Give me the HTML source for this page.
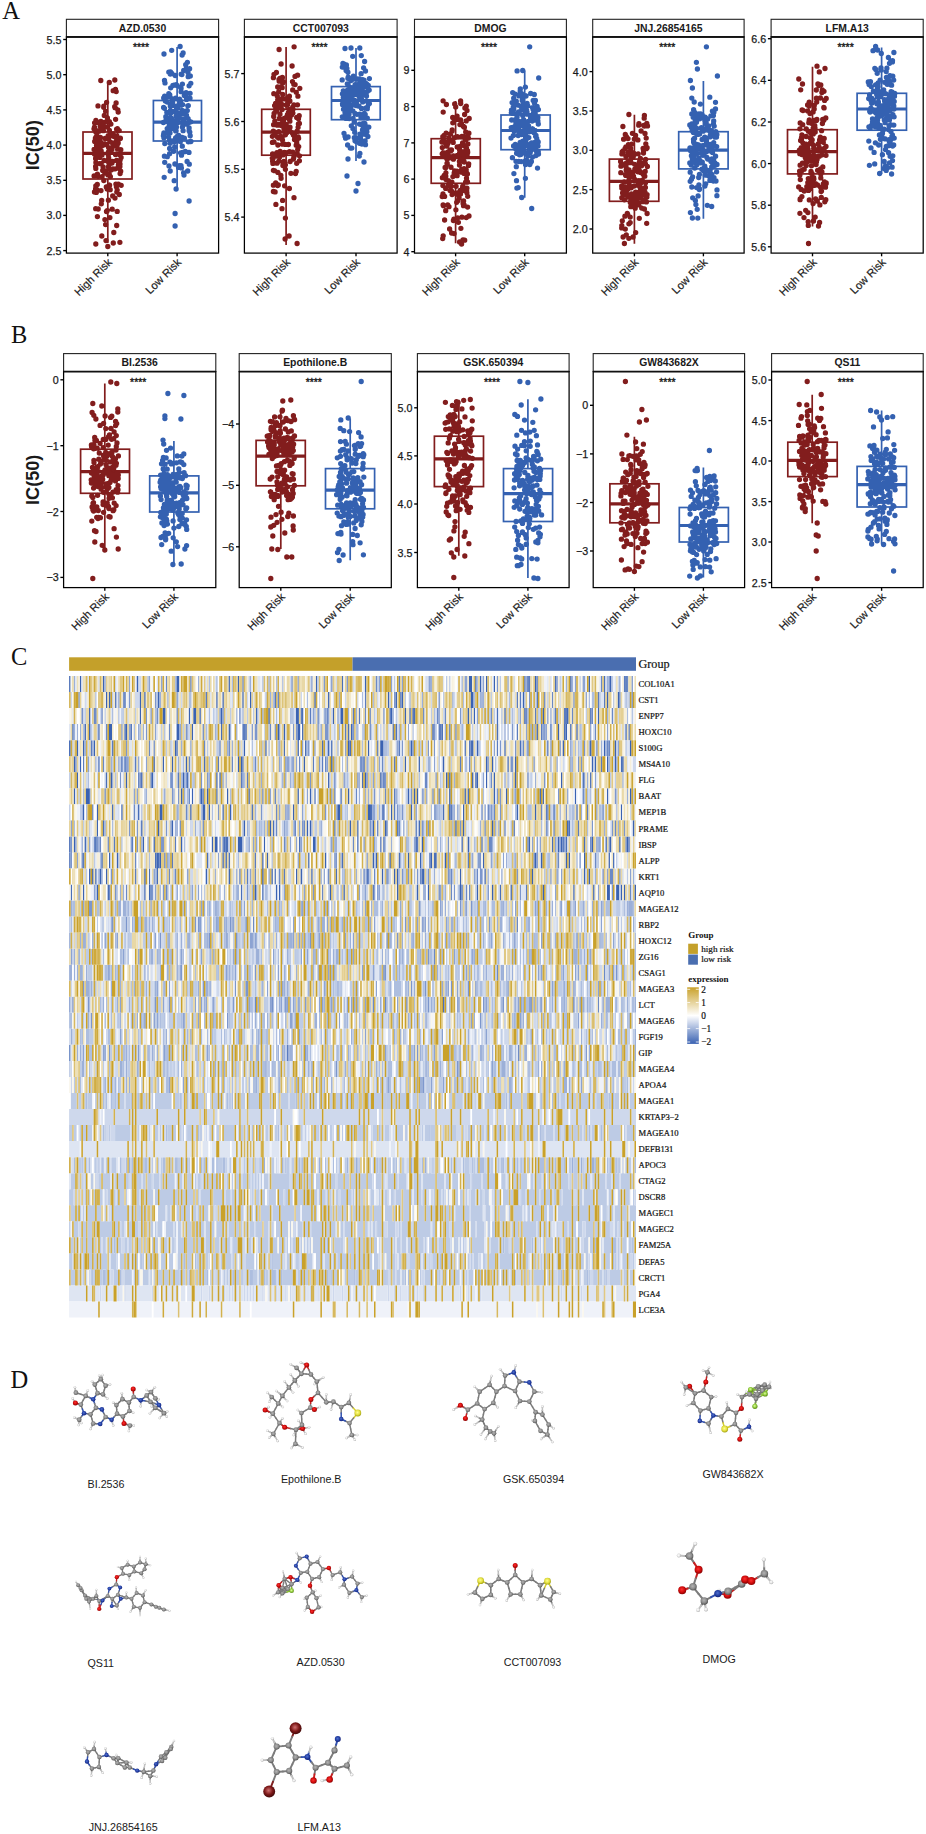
<!DOCTYPE html>
<html><head><meta charset="utf-8"><style>
html,body{margin:0;padding:0;background:#fff;}
svg{display:block;font-family:"Liberation Sans",sans-serif;}
</style></head><body>
<svg width="926" height="1834" viewBox="0 0 926 1834">
<rect x="66.4" y="19.3" width="152.2" height="17.6" fill="#fff" stroke="#222" stroke-width="1.1"/>
<text x="142.5" y="31.9" font-size="10.4" font-weight="bold" text-anchor="middle" fill="#1a1a1a">AZD.0530</text>
<rect x="66.4" y="36.9" width="152.2" height="216.2" fill="none" stroke="#000" stroke-width="1.25"/>
<line x1="66.4" x2="218.6" y1="36.9" y2="36.9" stroke="#111" stroke-width="1.5"/>
<line x1="63.2" x2="66.4" y1="39.5" y2="39.5" stroke="#000" stroke-width="1.35"/>
<text x="61.4" y="43.5" font-size="10.7" text-anchor="end" fill="#1a1a1a" stroke="#1a1a1a" stroke-width="0.25">5.5</text>
<line x1="63.2" x2="66.4" y1="74.7" y2="74.7" stroke="#000" stroke-width="1.35"/>
<text x="61.4" y="78.7" font-size="10.7" text-anchor="end" fill="#1a1a1a" stroke="#1a1a1a" stroke-width="0.25">5.0</text>
<line x1="63.2" x2="66.4" y1="109.9" y2="109.9" stroke="#000" stroke-width="1.35"/>
<text x="61.4" y="113.9" font-size="10.7" text-anchor="end" fill="#1a1a1a" stroke="#1a1a1a" stroke-width="0.25">4.5</text>
<line x1="63.2" x2="66.4" y1="145.1" y2="145.1" stroke="#000" stroke-width="1.35"/>
<text x="61.4" y="149.1" font-size="10.7" text-anchor="end" fill="#1a1a1a" stroke="#1a1a1a" stroke-width="0.25">4.0</text>
<line x1="63.2" x2="66.4" y1="180.3" y2="180.3" stroke="#000" stroke-width="1.35"/>
<text x="61.4" y="184.3" font-size="10.7" text-anchor="end" fill="#1a1a1a" stroke="#1a1a1a" stroke-width="0.25">3.5</text>
<line x1="63.2" x2="66.4" y1="215.4" y2="215.4" stroke="#000" stroke-width="1.35"/>
<text x="61.4" y="219.4" font-size="10.7" text-anchor="end" fill="#1a1a1a" stroke="#1a1a1a" stroke-width="0.25">3.0</text>
<line x1="63.2" x2="66.4" y1="250.6" y2="250.6" stroke="#000" stroke-width="1.35"/>
<text x="61.4" y="254.6" font-size="10.7" text-anchor="end" fill="#1a1a1a" stroke="#1a1a1a" stroke-width="0.25">2.5</text>
<line x1="107.8" x2="107.8" y1="253.1" y2="256.3" stroke="#000" stroke-width="1.35"/>
<text transform="translate(112.6,263.0) rotate(-45)" font-size="11.1" text-anchor="end" fill="#1a1a1a" stroke="#1a1a1a" stroke-width="0.2">High Risk</text>
<line x1="177.1" x2="177.1" y1="253.1" y2="256.3" stroke="#000" stroke-width="1.35"/>
<text transform="translate(181.9,263.0) rotate(-45)" font-size="11.1" text-anchor="end" fill="#1a1a1a" stroke="#1a1a1a" stroke-width="0.2">Low Risk</text>
<text x="141.0" y="51.1" font-size="10.4" text-anchor="middle" fill="#1a1a1a" stroke="#1a1a1a" stroke-width="0.35">****</text>
<g stroke="#821d1d" stroke-width="1.7" fill="none">
<path d="M107.8 82.0V132.0M107.8 179.0V243.0"/>
<rect x="83.0" y="132.0" width="49.0" height="47.0"/>
<path d="M83.0 153.4H132.0" stroke-width="3.2"/>
</g>
<path transform="scale(0.1)" d="M1120 1631h0M960 1372h0M956 1887h0M1080 1615h0M959 1205h0M965 1455h0M974 2166h0M1002 1263h0M1099 2176h0M1049 2196h0M1177 1437h0M1020 1551h0M1025 1436h0M1165 1409h0M1116 1357h0M1043 1154h0M956 1665h0M997 1574h0M1027 1704h0M1102 1897h0M1159 1841h0M1133 1456h0M1085 1519h0M1182 1120h0M1211 1574h0M973 1844h0M982 2090h0M1075 1271h0M1151 1077h0M1098 1419h0M1132 1339h0M1104 1766h0M1172 1901h0M1201 1736h0M957 2087h0M1134 1458h0M1167 2255h0M1125 1615h0M946 1228h0M972 1758h0M956 1488h0M1008 1515h0M1048 1732h0M1064 1444h0M1092 1646h0M1178 1098h0M1017 2004h0M1184 1842h0M1204 1382h0M1004 1419h0M1004 1374h0M1013 2038h0M941 1494h0M1096 1852h0M1203 1385h0M1110 1701h0M1127 1959h0M1155 893h0M1181 1308h0M1050 1440h0M969 1896h0M959 1624h0M998 1636h0M955 1383h0M940 1288h0M1040 1449h0M947 1415h0M981 1226h0M1010 1906h0M974 1741h0M1174 1287h0M1074 1179h0M964 1552h0M1013 1301h0M1169 1360h0M1202 1498h0M1086 1476h0M947 1294h0M1086 1218h0M1132 907h0M1012 1636h0M1153 1688h0M1087 1391h0M1002 1482h0M1164 1868h0M1162 916h0M1166 1604h0M1083 1551h0M1038 1806h0M1017 1460h0M1012 1520h0M1063 1870h0M1199 2423h0M1041 1605h0M994 1492h0M996 1310h0M1172 2114h0M1072 2107h0M963 1924h0M1122 2092h0M1147 1067h0M1072 1890h0M1032 1291h0M1161 1030h0M1051 1221h0M1201 1601h0M975 1571h0M982 1763h0M980 1059h0M1168 1921h0M1037 1073h0M1091 1603h0M1208 1497h0M1119 1495h0M1060 2406h0M1181 1681h0M1010 1433h0M1021 1766h0M1012 1509h0M1056 1113h0M1038 1061h0M1066 1023h0M1056 2246h0M1193 1945h0M1084 2002h0M945 1539h0M941 1759h0M1161 1460h0M1140 1366h0M1094 1217h0M1093 1745h0M1156 1193h0M1009 1214h0M1016 1282h0M1095 1481h0M1150 1981h0M1109 1241h0M1080 1749h0M1065 2115h0M1087 1579h0M1133 2430h0M1182 1430h0M1094 1304h0M1200 1639h0M974 1442h0M1062 1708h0M960 1323h0M1125 1430h0M983 1391h0M1138 2325h0M1184 1647h0M1207 1712h0M1050 1385h0M1170 1457h0M1082 1356h0M1034 1248h0M1139 1441h0M945 1272h0M945 1920h0M1031 1670h0M958 1858h0M1212 1853h0M969 1332h0M1155 1545h0M1015 1444h0M1192 1306h0M1166 1292h0M1194 1546h0M1097 1354h0M956 1584h0M1130 1690h0M1199 1665h0M1115 1478h0M1176 1492h0M958 1684h0M1034 1307h0M1093 1851h0M976 1310h0M1085 1667h0M985 1523h0M954 1382h0M1024 1452h0M1008 805h0M1093 825h0M1148 800h0M958 2440h0M1078 2465h0M1018 2360h0" stroke="#821d1d" stroke-width="53" stroke-linecap="round" fill="none"/>
<g stroke="#3461b1" stroke-width="1.7" fill="none">
<path d="M177.1 47.0V100.5M177.1 141.0V188.0"/>
<rect x="153.4" y="100.5" width="48.1" height="40.5"/>
<path d="M153.4 122.2H201.5" stroke-width="3.2"/>
</g>
<path transform="scale(0.1)" d="M1843 956h0M1682 1304h0M1729 855h0M1637 979h0M1835 1194h0M1764 1393h0M1891 1279h0M1752 755h0M1770 854h0M1773 1059h0M1823 1462h0M1863 929h0M1828 1250h0M1729 1408h0M1648 1436h0M1837 1138h0M1704 1132h0M1865 1152h0M1873 1106h0M1700 1331h0M1714 1421h0M1756 1380h0M1706 1175h0M1784 1400h0M1718 1193h0M1738 1230h0M1764 1210h0M1772 1409h0M1634 1225h0M1743 1233h0M1645 1083h0M1697 951h0M1795 1183h0M1814 1679h0M1831 1307h0M1723 990h0M1905 1413h0M1811 917h0M1645 805h0M1806 875h0M1836 1728h0M1778 1155h0M1772 1363h0M1861 926h0M1794 1656h0M1824 841h0M1696 1485h0M1733 1053h0M1662 1189h0M1806 1011h0M1806 1528h0M1634 1358h0M1853 1515h0M1781 1226h0M1815 1552h0M1703 741h0M1654 1010h0M1690 1266h0M1837 704h0M1739 851h0M1765 1271h0M1803 1415h0M1810 1657h0M1703 1061h0M1838 1137h0M1636 1343h0M1650 829h0M1824 1271h0M1819 745h0M1761 1307h0M1762 847h0M1688 721h0M1903 760h0M1760 1166h0M1859 1242h0M1707 878h0M1691 1283h0M1793 1013h0M1672 1286h0M1670 1326h0M1878 1058h0M1827 1523h0M1767 1142h0M1640 540h0M1757 848h0M1716 1214h0M1720 1035h0M1865 994h0M1865 686h0M1666 1216h0M1882 767h0M1713 1418h0M1909 1415h0M1796 991h0M1709 1411h0M1646 961h0M1712 732h0M1891 858h0M1774 1221h0M1685 969h0M1877 1710h0M1857 647h0M1893 1642h0M1785 1674h0M1835 1239h0M1757 1309h0M1712 1214h0M1647 1623h0M1763 1072h0M1728 1287h0M1902 1357h0M1705 718h0M1787 1353h0M1742 1418h0M1690 1127h0M1883 1056h0M1883 1418h0M1908 1218h0M1686 1367h0M1658 1167h0M1699 1289h0M1704 1104h0M1840 1750h0M1747 1469h0M1737 1513h0M1726 1020h0M1900 982h0M1668 1123h0M1871 1615h0M1693 1230h0M1743 1250h0M1756 981h0M1874 623h0M1639 1377h0M1880 726h0M1764 1120h0M1741 1226h0M1889 1225h0M1901 933h0M1702 1710h0M1777 1078h0M1821 1104h0M1812 742h0M1844 1382h0M1644 1562h0M1849 1114h0M1811 1143h0M1717 503h0M1809 1052h0M1826 1046h0M1778 1128h0M1794 1142h0M1799 1373h0M1636 1074h0M1898 1321h0M1811 883h0M1698 950h0M1701 1433h0M1718 735h0M1639 1329h0M1749 1640h0M1704 1217h0M1696 1537h0M1642 1773h0M1821 1375h0M1688 936h0M1772 1068h0M1690 1659h0M1859 949h0M1697 1267h0M1714 1125h0M1896 687h0M1695 1401h0M1748 1216h0M1673 1567h0M1742 1807h0M1672 1021h0M1742 1115h0M1881 1186h0M1908 833h0M1890 1524h0M1891 1307h0M1801 465h0M1831 530h0M1821 550h0M1751 2135h0M1751 2260h0M1891 2010h0M1761 1890h0" stroke="#3461b1" stroke-width="53" stroke-linecap="round" fill="none"/>
<rect x="244.4" y="19.3" width="152.7" height="17.6" fill="#fff" stroke="#222" stroke-width="1.1"/>
<text x="320.8" y="31.9" font-size="10.4" font-weight="bold" text-anchor="middle" fill="#1a1a1a">CCT007093</text>
<rect x="244.4" y="36.9" width="152.7" height="216.2" fill="none" stroke="#000" stroke-width="1.25"/>
<line x1="244.4" x2="397.1" y1="36.9" y2="36.9" stroke="#111" stroke-width="1.5"/>
<line x1="241.2" x2="244.4" y1="73.6" y2="73.6" stroke="#000" stroke-width="1.35"/>
<text x="239.4" y="77.6" font-size="10.7" text-anchor="end" fill="#1a1a1a" stroke="#1a1a1a" stroke-width="0.25">5.7</text>
<line x1="241.2" x2="244.4" y1="121.5" y2="121.5" stroke="#000" stroke-width="1.35"/>
<text x="239.4" y="125.5" font-size="10.7" text-anchor="end" fill="#1a1a1a" stroke="#1a1a1a" stroke-width="0.25">5.6</text>
<line x1="241.2" x2="244.4" y1="169.3" y2="169.3" stroke="#000" stroke-width="1.35"/>
<text x="239.4" y="173.3" font-size="10.7" text-anchor="end" fill="#1a1a1a" stroke="#1a1a1a" stroke-width="0.25">5.5</text>
<line x1="241.2" x2="244.4" y1="217.1" y2="217.1" stroke="#000" stroke-width="1.35"/>
<text x="239.4" y="221.1" font-size="10.7" text-anchor="end" fill="#1a1a1a" stroke="#1a1a1a" stroke-width="0.25">5.4</text>
<line x1="286.1" x2="286.1" y1="253.1" y2="256.3" stroke="#000" stroke-width="1.35"/>
<text transform="translate(290.9,263.0) rotate(-45)" font-size="11.1" text-anchor="end" fill="#1a1a1a" stroke="#1a1a1a" stroke-width="0.2">High Risk</text>
<line x1="356.0" x2="356.0" y1="253.1" y2="256.3" stroke="#000" stroke-width="1.35"/>
<text transform="translate(360.8,263.0) rotate(-45)" font-size="11.1" text-anchor="end" fill="#1a1a1a" stroke="#1a1a1a" stroke-width="0.2">Low Risk</text>
<text x="319.5" y="51.1" font-size="10.4" text-anchor="middle" fill="#1a1a1a" stroke="#1a1a1a" stroke-width="0.35">****</text>
<g stroke="#821d1d" stroke-width="1.7" fill="none">
<path d="M286.1 47.0V109.3M286.1 155.2V245.0"/>
<rect x="261.7" y="109.3" width="48.6" height="45.9"/>
<path d="M261.7 132.2H310.3" stroke-width="3.2"/>
</g>
<path transform="scale(0.1)" d="M2929 1131h0M2827 830h0M2826 1222h0M2724 1424h0M2800 1142h0M2757 1828h0M2821 1096h0M2950 1374h0M2737 1164h0M2854 1648h0M2776 1855h0M2824 775h0M2836 1255h0M2947 1373h0M2733 1312h0M2740 1420h0M2929 1093h0M2971 1449h0M2987 1466h0M2893 1093h0M2810 1363h0M2799 784h0M2976 752h0M2898 1308h0M2788 1251h0M2854 1348h0M2830 1549h0M2859 1324h0M2979 962h0M2927 1072h0M2950 764h0M2813 1256h0M2811 1783h0M2745 1707h0M2777 870h0M2741 1317h0M2732 1579h0M2994 1608h0M2967 1420h0M2746 1056h0M2750 1342h0M2846 1858h0M2788 1317h0M2909 1733h0M2929 1086h0M2756 1035h0M2955 1735h0M2826 1442h0M2927 899h0M2791 1242h0M2765 1079h0M2813 989h0M2832 1620h0M2787 918h0M2946 1341h0M2751 1919h0M2854 2181h0M2975 1048h0M2734 1915h0M2775 1369h0M2992 1157h0M2826 2004h0M2962 1715h0M2938 1573h0M2984 1239h0M2894 962h0M2783 1040h0M2779 1450h0M2793 1184h0M2779 1724h0M2726 1612h0M2774 1562h0M2809 870h0M2874 1147h0M2740 743h0M2875 1048h0M2899 1119h0M2915 1151h0M2836 1212h0M2986 1383h0M2809 1037h0M2838 1615h0M2962 1452h0M2777 999h0M2924 1329h0M2972 1311h0M2840 1287h0M2967 1174h0M2850 1637h0M2875 1291h0M2900 1272h0M2895 1198h0M2825 1401h0M2801 1513h0M2867 1327h0M2858 1177h0M2945 1396h0M2758 1102h0M2983 1369h0M2738 937h0M2979 1382h0M2894 1885h0M2951 846h0M2784 1004h0M2835 818h0M2773 959h0M2783 1849h0M2829 1655h0M2757 1080h0M2971 1312h0M2734 777h0M2734 1852h0M2954 1541h0M2875 983h0M2896 1012h0M2884 1445h0M2841 989h0M2844 1523h0M2729 1634h0M2788 1612h0M2934 1591h0M2773 1252h0M2854 1693h0M2842 1183h0M2748 1211h0M2734 1703h0M2899 1177h0M2938 842h0M2864 1049h0M2827 943h0M2985 1188h0M2998 883h0M2925 816h0M2994 1234h0M2859 1527h0M2769 1526h0M2741 1135h0M2820 2087h0M2970 1314h0M2799 1522h0M2862 1246h0M2977 1496h0M2863 1253h0M2811 1066h0M2767 1112h0M2981 1273h0M2770 1632h0M2940 1977h0M2899 1009h0M2822 1046h0M2883 1020h0M2967 1633h0M2943 1556h0M2796 1571h0M2822 877h0M2934 1349h0M2928 1521h0M2736 1247h0M2899 1212h0M2995 1558h0M2809 1754h0M2723 1581h0M2893 1133h0M2842 1281h0M2759 2044h0M2786 1380h0M2724 1363h0M2821 1381h0M2785 1072h0M2884 1124h0M2895 1517h0M2854 1444h0M2790 794h0M2764 725h0M2963 923h0M2939 1048h0M2726 1540h0M2901 1168h0M2901 1615h0M2845 1443h0M2792 812h0M2972 1535h0M2791 495h0M2941 468h0M2811 640h0M2921 660h0M2891 2360h0M2971 2435h0M2851 2390h0" stroke="#821d1d" stroke-width="53" stroke-linecap="round" fill="none"/>
<g stroke="#3461b1" stroke-width="1.7" fill="none">
<path d="M356.0 47.9V86.6M356.0 119.7V161.0"/>
<rect x="331.5" y="86.6" width="48.7" height="33.1"/>
<path d="M331.5 100.5H380.2" stroke-width="3.2"/>
</g>
<path transform="scale(0.1)" d="M3534 761h0M3488 936h0M3425 671h0M3574 877h0M3477 899h0M3590 1062h0M3646 1412h0M3470 1023h0M3435 1093h0M3667 843h0M3424 938h0M3655 1447h0M3627 1015h0M3547 1323h0M3486 990h0M3433 909h0M3614 1247h0M3655 710h0M3575 1058h0M3542 1222h0M3495 945h0M3599 1341h0M3665 864h0M3426 1048h0M3627 1019h0M3683 854h0M3665 1011h0M3513 1258h0M3596 974h0M3613 556h0M3552 1407h0M3659 835h0M3543 1377h0M3507 1064h0M3481 1370h0M3673 1087h0M3462 1085h0M3678 909h0M3517 989h0M3433 974h0M3613 966h0M3625 1298h0M3440 1333h0M3648 1233h0M3648 1151h0M3662 946h0M3674 1071h0M3479 913h0M3453 1051h0M3646 615h0M3597 919h0M3501 873h0M3450 1363h0M3479 722h0M3510 805h0M3493 1057h0M3500 985h0M3511 1063h0M3688 1271h0M3593 1561h0M3431 1018h0M3635 1265h0M3518 890h0M3482 1104h0M3660 1344h0M3469 684h0M3422 799h0M3692 901h0M3423 671h0M3642 1335h0M3473 991h0M3652 1268h0M3494 999h0M3481 847h0M3615 1085h0M3598 1142h0M3444 1004h0M3639 930h0M3595 1433h0M3531 1183h0M3668 841h0M3429 635h0M3479 783h0M3560 1056h0M3527 563h0M3549 893h0M3569 1143h0M3600 995h0M3518 1481h0M3655 1082h0M3605 899h0M3543 1014h0M3635 1178h0M3550 1135h0M3666 1076h0M3505 995h0M3616 871h0M3465 939h0M3490 1142h0M3466 1165h0M3513 783h0M3623 796h0M3450 485h0M3528 912h0M3694 1036h0M3542 912h0M3476 1450h0M3479 1093h0M3529 1108h0M3640 802h0M3613 961h0M3550 1408h0M3461 1006h0M3627 1236h0M3673 1181h0M3629 1341h0M3538 890h0M3665 961h0M3636 678h0M3610 1177h0M3599 1535h0M3595 1241h0M3449 954h0M3619 1440h0M3596 831h0M3548 1005h0M3594 789h0M3679 1365h0M3473 838h0M3529 1284h0M3557 1413h0M3572 948h0M3466 1018h0M3565 908h0M3571 788h0M3620 845h0M3651 1410h0M3566 1036h0M3480 1590h0M3611 737h0M3456 1382h0M3694 786h0M3498 1065h0M3532 950h0M3538 791h0M3615 987h0M3484 1139h0M3627 875h0M3482 771h0M3643 1133h0M3458 1158h0M3636 916h0M3551 898h0M3577 1381h0M3519 925h0M3598 480h0M3551 846h0M3503 1481h0M3652 1145h0M3520 1049h0M3526 909h0M3492 1186h0M3423 1168h0M3621 946h0M3505 1047h0M3554 853h0M3604 1370h0M3522 878h0M3438 640h0M3651 1247h0M3461 706h0M3651 1283h0M3425 1038h0M3685 1042h0M3450 1125h0M3461 1184h0M3518 968h0M3464 650h0M3468 704h0M3668 1291h0M3606 1391h0M3669 1317h0M3510 480h0M3470 1760h0M3580 1835h0M3560 1910h0M3640 1620h0" stroke="#3461b1" stroke-width="53" stroke-linecap="round" fill="none"/>
<rect x="414.5" y="19.3" width="151.9" height="17.6" fill="#fff" stroke="#222" stroke-width="1.1"/>
<text x="490.4" y="31.9" font-size="10.4" font-weight="bold" text-anchor="middle" fill="#1a1a1a">DMOG</text>
<rect x="414.5" y="36.9" width="151.9" height="216.2" fill="none" stroke="#000" stroke-width="1.25"/>
<line x1="414.5" x2="566.4" y1="36.9" y2="36.9" stroke="#111" stroke-width="1.5"/>
<line x1="411.3" x2="414.5" y1="70.3" y2="70.3" stroke="#000" stroke-width="1.35"/>
<text x="409.5" y="74.3" font-size="10.7" text-anchor="end" fill="#1a1a1a" stroke="#1a1a1a" stroke-width="0.25">9</text>
<line x1="411.3" x2="414.5" y1="106.6" y2="106.6" stroke="#000" stroke-width="1.35"/>
<text x="409.5" y="110.6" font-size="10.7" text-anchor="end" fill="#1a1a1a" stroke="#1a1a1a" stroke-width="0.25">8</text>
<line x1="411.3" x2="414.5" y1="142.9" y2="142.9" stroke="#000" stroke-width="1.35"/>
<text x="409.5" y="146.9" font-size="10.7" text-anchor="end" fill="#1a1a1a" stroke="#1a1a1a" stroke-width="0.25">7</text>
<line x1="411.3" x2="414.5" y1="179.1" y2="179.1" stroke="#000" stroke-width="1.35"/>
<text x="409.5" y="183.1" font-size="10.7" text-anchor="end" fill="#1a1a1a" stroke="#1a1a1a" stroke-width="0.25">6</text>
<line x1="411.3" x2="414.5" y1="215.4" y2="215.4" stroke="#000" stroke-width="1.35"/>
<text x="409.5" y="219.4" font-size="10.7" text-anchor="end" fill="#1a1a1a" stroke="#1a1a1a" stroke-width="0.25">5</text>
<line x1="411.3" x2="414.5" y1="251.7" y2="251.7" stroke="#000" stroke-width="1.35"/>
<text x="409.5" y="255.7" font-size="10.7" text-anchor="end" fill="#1a1a1a" stroke="#1a1a1a" stroke-width="0.25">4</text>
<line x1="455.6" x2="455.6" y1="253.1" y2="256.3" stroke="#000" stroke-width="1.35"/>
<text transform="translate(460.4,263.0) rotate(-45)" font-size="11.1" text-anchor="end" fill="#1a1a1a" stroke="#1a1a1a" stroke-width="0.2">High Risk</text>
<line x1="524.7" x2="524.7" y1="253.1" y2="256.3" stroke="#000" stroke-width="1.35"/>
<text transform="translate(529.5,263.0) rotate(-45)" font-size="11.1" text-anchor="end" fill="#1a1a1a" stroke="#1a1a1a" stroke-width="0.2">Low Risk</text>
<text x="489.0" y="51.1" font-size="10.4" text-anchor="middle" fill="#1a1a1a" stroke="#1a1a1a" stroke-width="0.35">****</text>
<g stroke="#821d1d" stroke-width="1.7" fill="none">
<path d="M455.6 101.0V138.7M455.6 183.3V243.2"/>
<rect x="431.2" y="138.7" width="49.1" height="44.6"/>
<path d="M431.2 157.6H480.3" stroke-width="3.2"/>
</g>
<path transform="scale(0.1)" d="M4472 1449h0M4609 2283h0M4539 2191h0M4662 1697h0M4483 1857h0M4456 1677h0M4547 1708h0M4458 1572h0M4567 2023h0M4656 1558h0M4547 1039h0M4573 1554h0M4521 1946h0M4534 2205h0M4594 1468h0M4594 1613h0M4606 1198h0M4675 1507h0M4559 2098h0M4427 2386h0M4616 1518h0M4656 1821h0M4519 1821h0M4631 2035h0M4476 1521h0M4571 1943h0M4646 1460h0M4529 1766h0M4557 1069h0M4687 1638h0M4599 1246h0M4506 1511h0M4501 1906h0M4634 2039h0M4429 1856h0M4569 1712h0M4432 2358h0M4470 1589h0M4672 1546h0M4636 2009h0M4669 1928h0M4591 1979h0M4610 1917h0M4477 2050h0M4602 1904h0M4446 2200h0M4468 1452h0M4670 1105h0M4599 1465h0M4635 2057h0M4573 1194h0M4534 1592h0M4506 1339h0M4676 2071h0M4433 1407h0M4451 1674h0M4642 1620h0M4541 2336h0M4422 1965h0M4677 1963h0M4689 1332h0M4446 1964h0M4596 1532h0M4422 1538h0M4419 1420h0M4685 1654h0M4442 1754h0M4423 1476h0M4617 1722h0M4470 1554h0M4432 1121h0M4654 1509h0M4619 2172h0M4614 1236h0M4545 1377h0M4684 1381h0M4616 1696h0M4598 1528h0M4644 1573h0M4619 1364h0M4464 1460h0M4434 1368h0M4519 1913h0M4605 1941h0M4458 1762h0M4596 1498h0M4592 1922h0M4635 1903h0M4679 1440h0M4499 1498h0M4435 2057h0M4646 1145h0M4510 1673h0M4647 2402h0M4584 2223h0M4663 1721h0M4522 1299h0M4665 1782h0M4641 2050h0M4491 1581h0M4535 1560h0M4663 2176h0M4430 1939h0M4657 1320h0M4576 2179h0M4641 1687h0M4607 1035h0M4441 1354h0M4571 1757h0M4625 1521h0M4675 1820h0M4605 1538h0M4546 1195h0M4625 1518h0M4636 1369h0M4641 1734h0M4631 1546h0M4666 1536h0M4662 1209h0M4581 2005h0M4470 1635h0M4611 1513h0M4518 1411h0M4561 1931h0M4459 1728h0M4521 1311h0M4635 1264h0M4461 1331h0M4561 1863h0M4424 1777h0M4657 1397h0M4490 2067h0M4633 1545h0M4630 2400h0M4644 1272h0M4428 1367h0M4473 1642h0M4432 1527h0M4572 1470h0M4679 1363h0M4669 1882h0M4528 1228h0M4451 1428h0M4574 1367h0M4595 1650h0M4527 1174h0M4542 1729h0M4692 1185h0M4489 1562h0M4515 1499h0M4649 1079h0M4431 2050h0M4596 1476h0M4690 2160h0M4626 1429h0M4677 1522h0M4581 1718h0M4627 1864h0M4489 1380h0M4452 1424h0M4484 1806h0M4458 1556h0M4616 1603h0M4472 1631h0M4479 1432h0M4663 1061h0M4457 1884h0M4674 1739h0M4650 1535h0M4512 1865h0M4645 1878h0M4457 2107h0M4479 1521h0M4571 1161h0M4458 1421h0M4532 1424h0M4461 1794h0M4510 1672h0M4464 1045h0M4667 1909h0M4450 1562h0M4665 1481h0M4431 1008h0M4606 1010h0M4496 2290h0M4516 2330h0M4616 2440h0M4596 2420h0" stroke="#821d1d" stroke-width="53" stroke-linecap="round" fill="none"/>
<g stroke="#3461b1" stroke-width="1.7" fill="none">
<path d="M524.7 70.6V115.0M524.7 149.7V197.8"/>
<rect x="501.0" y="115.0" width="49.2" height="34.7"/>
<path d="M501.0 130.5H550.2" stroke-width="3.2"/>
</g>
<path transform="scale(0.1)" d="M5293 1318h0M5188 1242h0M5180 1051h0M5383 1240h0M5384 1096h0M5189 1212h0M5356 1363h0M5190 959h0M5379 1174h0M5203 890h0M5148 1263h0M5254 871h0M5160 1300h0M5169 1881h0M5267 1105h0M5322 1211h0M5305 1195h0M5133 1274h0M5277 1217h0M5166 1533h0M5278 1300h0M5270 1441h0M5165 1807h0M5222 963h0M5308 1155h0M5202 911h0M5341 1162h0M5113 1128h0M5360 1555h0M5182 1876h0M5160 1237h0M5154 1197h0M5211 1542h0M5252 1328h0M5232 1320h0M5306 1449h0M5334 1319h0M5305 1171h0M5214 1492h0M5350 1304h0M5372 1406h0M5255 1646h0M5257 1296h0M5171 709h0M5159 1227h0M5335 1166h0M5117 1200h0M5163 1012h0M5114 1102h0M5253 1608h0M5303 1523h0M5307 935h0M5121 1026h0M5247 1113h0M5186 1118h0M5147 1136h0M5272 1142h0M5267 1222h0M5315 1428h0M5368 1085h0M5216 936h0M5254 1783h0M5218 1094h0M5202 934h0M5175 1483h0M5380 1460h0M5331 1094h0M5343 945h0M5124 1577h0M5367 1383h0M5284 1304h0M5210 1064h0M5229 1411h0M5248 1326h0M5377 1180h0M5323 1289h0M5332 1005h0M5353 1461h0M5286 1259h0M5182 1355h0M5259 1404h0M5364 1510h0M5253 1461h0M5229 1454h0M5193 1125h0M5288 1376h0M5373 1080h0M5251 1093h0M5256 1342h0M5150 1049h0M5190 1218h0M5221 1219h0M5133 1356h0M5260 1138h0M5266 1136h0M5288 1635h0M5236 1196h0M5260 960h0M5195 1548h0M5176 1513h0M5215 1256h0M5271 1034h0M5347 1091h0M5175 1289h0M5188 1615h0M5382 1420h0M5153 1443h0M5127 926h0M5126 1134h0M5216 1527h0M5139 1736h0M5171 1167h0M5152 941h0M5202 1423h0M5279 1561h0M5344 1029h0M5313 1185h0M5314 1615h0M5326 1289h0M5305 1628h0M5349 1202h0M5110 1381h0M5246 1275h0M5375 1681h0M5325 1571h0M5350 1434h0M5234 1522h0M5235 1479h0M5217 1345h0M5262 1539h0M5326 1493h0M5343 1171h0M5160 1613h0M5193 1304h0M5270 1121h0M5133 1067h0M5342 1127h0M5340 1426h0M5227 1155h0M5360 1354h0M5265 1234h0M5246 1300h0M5258 958h0M5385 1540h0M5298 1646h0M5217 1343h0M5206 1545h0M5371 1064h0M5136 1460h0M5212 1616h0M5267 1602h0M5352 1133h0M5230 1046h0M5281 1378h0M5255 1094h0M5334 1311h0M5379 1209h0M5337 1128h0M5356 1442h0M5299 1316h0M5354 1005h0M5189 1451h0M5250 1241h0M5159 1489h0M5283 1311h0M5383 1517h0M5285 1465h0M5326 1077h0M5194 1243h0M5193 1314h0M5341 1328h0M5163 1667h0M5246 1523h0M5288 1516h0M5256 1379h0M5222 1005h0M5143 1312h0M5138 1091h0M5137 982h0M5336 1171h0M5278 1060h0M5112 1276h0M5297 468h0M5227 705h0M5387 780h0M5217 1975h0M5317 2085h0" stroke="#3461b1" stroke-width="53" stroke-linecap="round" fill="none"/>
<rect x="592.7" y="19.3" width="151.4" height="17.6" fill="#fff" stroke="#222" stroke-width="1.1"/>
<text x="668.4" y="31.9" font-size="10.4" font-weight="bold" text-anchor="middle" fill="#1a1a1a">JNJ.26854165</text>
<rect x="592.7" y="36.9" width="151.4" height="216.2" fill="none" stroke="#000" stroke-width="1.25"/>
<line x1="592.7" x2="744.1" y1="36.9" y2="36.9" stroke="#111" stroke-width="1.5"/>
<line x1="589.5" x2="592.7" y1="71.6" y2="71.6" stroke="#000" stroke-width="1.35"/>
<text x="587.7" y="75.6" font-size="10.7" text-anchor="end" fill="#1a1a1a" stroke="#1a1a1a" stroke-width="0.25">4.0</text>
<line x1="589.5" x2="592.7" y1="111.0" y2="111.0" stroke="#000" stroke-width="1.35"/>
<text x="587.7" y="115.0" font-size="10.7" text-anchor="end" fill="#1a1a1a" stroke="#1a1a1a" stroke-width="0.25">3.5</text>
<line x1="589.5" x2="592.7" y1="150.3" y2="150.3" stroke="#000" stroke-width="1.35"/>
<text x="587.7" y="154.3" font-size="10.7" text-anchor="end" fill="#1a1a1a" stroke="#1a1a1a" stroke-width="0.25">3.0</text>
<line x1="589.5" x2="592.7" y1="189.6" y2="189.6" stroke="#000" stroke-width="1.35"/>
<text x="587.7" y="193.6" font-size="10.7" text-anchor="end" fill="#1a1a1a" stroke="#1a1a1a" stroke-width="0.25">2.5</text>
<line x1="589.5" x2="592.7" y1="229.0" y2="229.0" stroke="#000" stroke-width="1.35"/>
<text x="587.7" y="233.0" font-size="10.7" text-anchor="end" fill="#1a1a1a" stroke="#1a1a1a" stroke-width="0.25">2.0</text>
<line x1="634.4" x2="634.4" y1="253.1" y2="256.3" stroke="#000" stroke-width="1.35"/>
<text transform="translate(639.2,263.0) rotate(-45)" font-size="11.1" text-anchor="end" fill="#1a1a1a" stroke="#1a1a1a" stroke-width="0.2">High Risk</text>
<line x1="703.4" x2="703.4" y1="253.1" y2="256.3" stroke="#000" stroke-width="1.35"/>
<text transform="translate(708.2,263.0) rotate(-45)" font-size="11.1" text-anchor="end" fill="#1a1a1a" stroke="#1a1a1a" stroke-width="0.2">Low Risk</text>
<text x="667.3" y="51.1" font-size="10.4" text-anchor="middle" fill="#1a1a1a" stroke="#1a1a1a" stroke-width="0.35">****</text>
<g stroke="#821d1d" stroke-width="1.7" fill="none">
<path d="M634.4 114.7V159.1M634.4 201.3V243.7"/>
<rect x="609.4" y="159.1" width="49.4" height="42.2"/>
<path d="M609.4 181.3H658.8" stroke-width="3.2"/>
</g>
<path transform="scale(0.1)" d="M6419 1913h0M6304 2021h0M6253 1345h0M6455 1827h0M6367 1663h0M6312 2002h0M6221 1520h0M6471 1477h0M6327 2062h0M6218 1977h0M6463 1967h0M6454 1638h0M6431 2017h0M6471 1946h0M6343 1391h0M6314 1580h0M6404 1882h0M6448 1762h0M6340 1534h0M6254 1748h0M6305 2027h0M6286 1472h0M6353 1949h0M6312 1868h0M6240 1903h0M6434 1744h0M6259 1945h0M6284 1615h0M6389 1806h0M6300 1726h0M6232 1526h0M6280 1386h0M6328 1725h0M6437 1946h0M6303 1747h0M6405 1977h0M6263 2348h0M6468 1233h0M6331 2026h0M6242 1819h0M6454 1875h0M6368 2035h0M6374 1964h0M6265 1630h0M6348 1696h0M6356 1922h0M6312 1878h0M6387 1252h0M6314 2046h0M6230 1919h0M6295 1529h0M6389 1237h0M6306 1485h0M6344 1546h0M6292 1845h0M6268 1697h0M6284 1446h0M6317 1441h0M6450 1335h0M6444 2090h0M6214 1634h0M6394 1618h0M6320 1956h0M6388 2049h0M6440 1883h0M6303 2026h0M6238 1943h0M6458 1949h0M6217 1860h0M6217 2279h0M6290 1698h0M6311 1627h0M6382 1538h0M6256 1744h0M6404 1585h0M6276 2139h0M6302 2226h0M6206 1614h0M6285 1525h0M6218 2256h0M6219 1539h0M6273 2135h0M6264 1367h0M6458 1438h0M6398 1813h0M6315 1939h0M6284 1822h0M6231 2370h0M6463 1487h0M6397 1916h0M6379 1853h0M6331 2370h0M6324 1333h0M6347 1643h0M6416 1658h0M6218 1881h0M6278 1970h0M6357 2326h0M6356 1353h0M6275 1894h0M6320 1525h0M6262 1700h0M6401 1873h0M6391 1647h0M6348 1794h0M6329 1569h0M6289 1531h0M6450 1921h0M6298 1547h0M6431 1483h0M6253 2291h0M6390 1963h0M6417 2081h0M6435 2005h0M6305 1608h0M6263 1634h0M6260 1565h0M6400 1714h0M6296 1951h0M6335 1761h0M6226 1930h0M6209 1662h0M6229 1265h0M6404 1837h0M6236 1392h0M6341 1860h0M6356 1989h0M6208 1727h0M6379 1399h0M6464 2019h0M6274 1943h0M6244 1998h0M6438 1254h0M6288 1715h0M6439 1629h0M6462 1381h0M6435 1530h0M6411 1310h0M6434 1901h0M6294 1627h0M6308 2067h0M6435 1507h0M6362 1807h0M6379 1718h0M6456 1595h0M6467 2233h0M6249 2162h0M6289 1799h0M6396 1919h0M6251 1872h0M6231 1509h0M6259 1470h0M6406 1725h0M6442 1182h0M6423 1802h0M6389 2029h0M6348 1692h0M6327 2050h0M6390 1671h0M6251 1485h0M6288 2383h0M6302 2171h0M6260 1665h0M6333 1562h0M6474 1665h0M6475 1259h0M6471 2135h0M6223 2208h0M6393 2183h0M6364 2006h0M6469 1971h0M6289 2238h0M6301 1756h0M6258 1754h0M6393 1860h0M6388 1931h0M6309 1768h0M6352 2082h0M6362 1963h0M6256 1929h0M6452 1715h0M6444 1951h0M6289 1145h0M6444 1155h0M6444 1260h0M6244 2435h0" stroke="#821d1d" stroke-width="53" stroke-linecap="round" fill="none"/>
<g stroke="#3461b1" stroke-width="1.7" fill="none">
<path d="M703.4 81.0V131.7M703.4 168.9V218.7"/>
<rect x="678.7" y="131.7" width="49.4" height="37.2"/>
<path d="M678.7 150.2H728.1" stroke-width="3.2"/>
</g>
<path transform="scale(0.1)" d="M6966 1542h0M6965 1223h0M7031 1312h0M7054 1689h0M6927 1568h0M6918 1870h0M7009 1533h0M7134 1238h0M7048 1371h0M6928 1605h0M7169 1957h0M7125 1525h0M7004 1629h0M7051 1172h0M7110 1479h0M6912 1651h0M6900 1480h0M7060 1238h0M7091 1449h0M7014 1277h0M7137 1210h0M7051 1751h0M6942 1020h0M7102 1780h0M7084 1758h0M7124 1111h0M7099 1312h0M7158 1317h0M7063 1517h0M6924 1583h0M6927 1978h0M7151 1653h0M6949 1598h0M7019 1692h0M6927 1312h0M6902 1813h0M6947 1123h0M7049 1187h0M7001 1607h0M6936 1097h0M7086 1260h0M7119 1745h0M6990 1459h0M6938 1517h0M7117 2065h0M6906 1508h0M7084 1293h0M7004 1041h0M7129 1663h0M7005 1478h0M6917 1239h0M6987 1775h0M7059 1380h0M6996 1341h0M7025 1457h0M6994 1745h0M6898 1630h0M6902 1722h0M7023 1621h0M6936 1419h0M7081 1509h0M7034 1533h0M6968 1285h0M7160 1810h0M7170 1645h0M7109 1158h0M7137 1427h0M7071 1443h0M6996 1890h0M7137 1599h0M7155 1023h0M7107 1601h0M7100 1716h0M6993 1895h0M7048 1524h0M6989 1583h0M6985 1448h0M6997 1188h0M6963 1525h0M6933 1478h0M6898 1249h0M7019 1294h0M7053 1723h0M6914 1557h0M6979 1344h0M7048 1662h0M7155 1090h0M7057 1838h0M6918 981h0M7169 1345h0M6995 1176h0M7136 1458h0M6915 1792h0M6972 2093h0M6967 1445h0M6970 1339h0M7090 1478h0M6951 1447h0M7062 1230h0M6950 1242h0M7099 1804h0M6918 1140h0M7119 1588h0M6934 1324h0M6948 1681h0M7073 2053h0M7151 1632h0M7103 1445h0M7075 1265h0M6989 1848h0M6912 1270h0M7069 1575h0M6988 1459h0M6967 1876h0M7024 1489h0M7052 1449h0M7065 1409h0M7096 1509h0M6939 1561h0M6935 1395h0M7121 1489h0M7013 1622h0M7049 1861h0M7077 1591h0M7101 1702h0M6967 1650h0M7110 1615h0M6981 1959h0M7021 1395h0M7156 1562h0M6932 1173h0M7077 1191h0M7110 1484h0M6959 2046h0M6904 1497h0M6933 1622h0M7049 1201h0M6946 1382h0M6937 1259h0M6945 1600h0M6941 1550h0M6904 2126h0M7167 1466h0M7034 1705h0M7117 1669h0M7023 1694h0M6926 1770h0M7098 972h0M7007 1140h0M7134 1344h0M7009 1173h0M7150 1372h0M6958 1140h0M6966 1634h0M6960 1525h0M6952 1210h0M6978 1479h0M7170 1899h0M6939 1428h0M7134 1154h0M7103 1355h0M7123 1662h0M7030 1553h0M7142 1261h0M7061 1283h0M7021 1149h0M6954 2006h0M7140 1776h0M7134 1810h0M6946 1135h0M6978 2181h0M7165 1370h0M6899 1482h0M7099 1369h0M6923 1586h0M6921 1299h0M6990 1139h0M7139 1122h0M7166 1718h0M7115 1306h0M7086 1461h0M6960 1186h0M7064 468h0M6964 623h0M6974 690h0M7174 760h0M6904 805h0M6924 880h0M6924 2180h0" stroke="#3461b1" stroke-width="53" stroke-linecap="round" fill="none"/>
<rect x="771.1" y="19.3" width="152.1" height="17.6" fill="#fff" stroke="#222" stroke-width="1.1"/>
<text x="847.2" y="31.9" font-size="10.4" font-weight="bold" text-anchor="middle" fill="#1a1a1a">LFM.A13</text>
<rect x="771.1" y="36.9" width="152.1" height="216.2" fill="none" stroke="#000" stroke-width="1.25"/>
<line x1="771.1" x2="923.2" y1="36.9" y2="36.9" stroke="#111" stroke-width="1.5"/>
<line x1="767.9" x2="771.1" y1="38.7" y2="38.7" stroke="#000" stroke-width="1.35"/>
<text x="766.1" y="42.7" font-size="10.7" text-anchor="end" fill="#1a1a1a" stroke="#1a1a1a" stroke-width="0.25">6.6</text>
<line x1="767.9" x2="771.1" y1="80.3" y2="80.3" stroke="#000" stroke-width="1.35"/>
<text x="766.1" y="84.3" font-size="10.7" text-anchor="end" fill="#1a1a1a" stroke="#1a1a1a" stroke-width="0.25">6.4</text>
<line x1="767.9" x2="771.1" y1="122.0" y2="122.0" stroke="#000" stroke-width="1.35"/>
<text x="766.1" y="126.0" font-size="10.7" text-anchor="end" fill="#1a1a1a" stroke="#1a1a1a" stroke-width="0.25">6.2</text>
<line x1="767.9" x2="771.1" y1="163.6" y2="163.6" stroke="#000" stroke-width="1.35"/>
<text x="766.1" y="167.6" font-size="10.7" text-anchor="end" fill="#1a1a1a" stroke="#1a1a1a" stroke-width="0.25">6.0</text>
<line x1="767.9" x2="771.1" y1="205.2" y2="205.2" stroke="#000" stroke-width="1.35"/>
<text x="766.1" y="209.2" font-size="10.7" text-anchor="end" fill="#1a1a1a" stroke="#1a1a1a" stroke-width="0.25">5.8</text>
<line x1="767.9" x2="771.1" y1="246.8" y2="246.8" stroke="#000" stroke-width="1.35"/>
<text x="766.1" y="250.8" font-size="10.7" text-anchor="end" fill="#1a1a1a" stroke="#1a1a1a" stroke-width="0.25">5.6</text>
<line x1="812.5" x2="812.5" y1="253.1" y2="256.3" stroke="#000" stroke-width="1.35"/>
<text transform="translate(817.3,263.0) rotate(-45)" font-size="11.1" text-anchor="end" fill="#1a1a1a" stroke="#1a1a1a" stroke-width="0.2">High Risk</text>
<line x1="881.6" x2="881.6" y1="253.1" y2="256.3" stroke="#000" stroke-width="1.35"/>
<text transform="translate(886.4,263.0) rotate(-45)" font-size="11.1" text-anchor="end" fill="#1a1a1a" stroke="#1a1a1a" stroke-width="0.2">Low Risk</text>
<text x="845.6" y="51.1" font-size="10.4" text-anchor="middle" fill="#1a1a1a" stroke="#1a1a1a" stroke-width="0.35">****</text>
<g stroke="#821d1d" stroke-width="1.7" fill="none">
<path d="M812.5 66.8V129.7M812.5 173.9V226.5"/>
<rect x="787.5" y="129.7" width="49.7" height="44.2"/>
<path d="M787.5 151.7H837.2" stroke-width="3.2"/>
</g>
<path transform="scale(0.1)" d="M8106 1426h0M8260 1465h0M8074 1477h0M8122 1398h0M8024 1632h0M8176 1703h0M8028 1428h0M8018 1546h0M8085 1904h0M8083 2254h0M8046 1500h0M8189 855h0M8062 1655h0M8006 1404h0M7999 1288h0M8141 1854h0M8087 1536h0M8167 1020h0M8137 1484h0M8258 1997h0M8228 1669h0M8075 1584h0M8103 1842h0M8093 1199h0M8100 1572h0M7988 790h0M8057 2103h0M8156 1988h0M8042 1692h0M8019 1348h0M8238 1202h0M8001 1997h0M8165 1617h0M8139 1791h0M7987 1869h0M8193 719h0M8150 1281h0M8262 1830h0M8192 1472h0M8092 1060h0M8132 1594h0M8156 1837h0M8161 1645h0M8137 1777h0M8060 1442h0M8238 1074h0M8131 2036h0M8119 1430h0M8243 1485h0M8133 1339h0M8211 1915h0M8053 1577h0M8114 1233h0M8164 982h0M8227 1194h0M7999 2133h0M8213 1974h0M8021 1099h0M8015 1376h0M8085 1313h0M8112 1387h0M8011 1894h0M8179 839h0M8207 1874h0M8196 1400h0M8088 1227h0M8131 1119h0M8081 1493h0M8092 1204h0M8144 1300h0M8003 1493h0M8063 1291h0M8076 1050h0M8012 1485h0M8163 900h0M8104 1379h0M8206 1688h0M7999 1751h0M8109 1731h0M8068 1866h0M8100 1135h0M8084 1876h0M8093 1999h0M8040 2176h0M8255 1872h0M8171 1592h0M8078 1826h0M8092 1022h0M8132 1281h0M8196 2225h0M7994 1502h0M8115 1823h0M8219 1719h0M8233 1838h0M8108 1329h0M8215 1911h0M8172 1496h0M7998 1537h0M8175 1850h0M8199 2049h0M8020 1704h0M8213 1493h0M8015 1389h0M8143 1053h0M8002 1230h0M8120 1735h0M8002 1988h0M8148 1641h0M8262 1836h0M8027 1247h0M8079 2126h0M8260 1553h0M8063 1521h0M8057 1539h0M8224 1235h0M8103 1887h0M8001 1652h0M8208 1739h0M8223 900h0M8001 1527h0M8135 1298h0M8122 1775h0M8148 1257h0M8042 1910h0M8241 1079h0M8074 1617h0M8134 1554h0M8076 1874h0M8063 1289h0M8183 1440h0M8208 1779h0M8245 1820h0M8110 1715h0M8107 1436h0M8163 1596h0M8007 898h0M8152 1320h0M8142 1204h0M8208 849h0M8173 2010h0M8068 1512h0M8027 1366h0M8240 913h0M8013 1477h0M8203 1372h0M8169 1195h0M8058 1620h0M8030 1105h0M8003 1796h0M8218 1549h0M8068 1608h0M8075 1470h0M8142 1089h0M8077 1109h0M8219 925h0M8258 1179h0M8095 1040h0M8164 1205h0M8049 1451h0M8115 1657h0M8188 1558h0M8019 1966h0M8216 1307h0M8262 985h0M8246 1004h0M8083 1786h0M8194 1562h0M8013 1501h0M8152 2171h0M8136 1455h0M8062 1365h0M8233 1423h0M8242 1385h0M7996 1712h0M8082 2217h0M8248 2018h0M8079 1575h0M8111 1605h0M8036 1508h0M8204 980h0M8141 1554h0M8013 1399h0M8170 662h0M8250 685h0M8025 840h0M8085 2435h0M8185 2260h0M8135 2210h0" stroke="#821d1d" stroke-width="53" stroke-linecap="round" fill="none"/>
<g stroke="#3461b1" stroke-width="1.7" fill="none">
<path d="M881.6 47.4V93.3M881.6 130.2V173.9"/>
<rect x="857.1" y="93.3" width="49.4" height="36.9"/>
<path d="M857.1 109.0H906.5" stroke-width="3.2"/>
</g>
<path transform="scale(0.1)" d="M8842 1615h0M8805 1266h0M8705 817h0M8857 1031h0M8775 883h0M8781 865h0M8725 1188h0M8938 1251h0M8919 1386h0M8811 700h0M8921 1029h0M8710 1007h0M8710 1479h0M8807 1083h0M8818 942h0M8779 843h0M8734 1014h0M8713 866h0M8816 1060h0M8924 619h0M8813 535h0M8896 1037h0M8741 1524h0M8885 1296h0M8687 986h0M8787 940h0M8924 1349h0M8701 1120h0M8842 1292h0M8894 1199h0M8746 1117h0M8843 1199h0M8849 1023h0M8869 1100h0M8902 1006h0M8805 1354h0M8938 1060h0M8792 1112h0M8746 1203h0M8881 1035h0M8773 1168h0M8717 1252h0M8769 1038h0M8947 935h0M8810 678h0M8815 1099h0M8885 997h0M8851 1227h0M8911 1248h0M8876 1067h0M8774 1225h0M8864 773h0M8884 575h0M8937 801h0M8928 762h0M8899 1109h0M8841 1684h0M8895 1629h0M8918 918h0M8825 1332h0M8939 525h0M8895 633h0M8748 683h0M8733 1001h0M8804 1284h0M8929 1067h0M8867 820h0M8894 1167h0M8897 1394h0M8906 1397h0M8858 1202h0M8909 1035h0M8909 1315h0M8897 825h0M8683 820h0M8709 1082h0M8845 997h0M8804 1393h0M8776 1201h0M8911 951h0M8702 1281h0M8753 1268h0M8860 1193h0M8901 1414h0M8689 834h0M8905 847h0M8942 1015h0M8778 920h0M8846 1011h0M8925 607h0M8942 1381h0M8818 921h0M8907 940h0M8723 1105h0M8726 1098h0M8939 1091h0M8747 1639h0M8775 971h0M8916 852h0M8820 915h0M8925 1606h0M8862 716h0M8801 801h0M8942 941h0M8852 1389h0M8782 829h0M8928 1558h0M8815 1156h0M8694 1653h0M8908 609h0M8802 1253h0M8885 1457h0M8885 799h0M8688 1411h0M8941 1168h0M8924 977h0M8837 899h0M8691 846h0M8855 1496h0M8756 848h0M8828 1075h0M8794 1350h0M8900 756h0M8865 1152h0M8874 1680h0M8869 682h0M8837 1122h0M8906 954h0M8717 1032h0M8820 1369h0M8882 991h0M8725 1220h0M8760 1130h0M8784 1019h0M8730 507h0M8763 1256h0M8767 945h0M8799 1162h0M8787 950h0M8784 976h0M8734 911h0M8929 1146h0M8854 1660h0M8893 954h0M8887 1161h0M8808 967h0M8886 1527h0M8754 1259h0M8824 1547h0M8758 695h0M8891 1257h0M8689 1268h0M8776 951h0M8937 1450h0M8697 1113h0M8829 917h0M8792 1082h0M8901 1563h0M8856 937h0M8945 962h0M8892 1411h0M8787 1450h0M8772 733h0M8786 1280h0M8729 1016h0M8919 1364h0M8863 1464h0M8927 1166h0M8696 949h0M8792 932h0M8862 1704h0M8837 1098h0M8754 1428h0M8911 917h0M8720 984h0M8863 1673h0M8926 1083h0M8926 1460h0M8857 1116h0M8921 1672h0M8872 843h0M8847 823h0M8756 465h0M8776 500h0M8916 1740h0M8796 1735h0" stroke="#3461b1" stroke-width="53" stroke-linecap="round" fill="none"/>
<rect x="63.6" y="353.6" width="152.2" height="18.0" fill="#fff" stroke="#222" stroke-width="1.1"/>
<text x="139.7" y="366.4" font-size="10.4" font-weight="bold" text-anchor="middle" fill="#1a1a1a">BI.2536</text>
<rect x="63.6" y="371.6" width="152.2" height="216.0" fill="none" stroke="#000" stroke-width="1.25"/>
<line x1="63.6" x2="215.8" y1="371.6" y2="371.6" stroke="#111" stroke-width="1.5"/>
<line x1="60.4" x2="63.6" y1="379.8" y2="379.8" stroke="#000" stroke-width="1.35"/>
<text x="58.6" y="383.8" font-size="10.7" text-anchor="end" fill="#1a1a1a" stroke="#1a1a1a" stroke-width="0.25">0</text>
<line x1="60.4" x2="63.6" y1="445.7" y2="445.7" stroke="#000" stroke-width="1.35"/>
<text x="58.6" y="449.7" font-size="10.7" text-anchor="end" fill="#1a1a1a" stroke="#1a1a1a" stroke-width="0.25">−1</text>
<line x1="60.4" x2="63.6" y1="511.5" y2="511.5" stroke="#000" stroke-width="1.35"/>
<text x="58.6" y="515.5" font-size="10.7" text-anchor="end" fill="#1a1a1a" stroke="#1a1a1a" stroke-width="0.25">−2</text>
<line x1="60.4" x2="63.6" y1="577.4" y2="577.4" stroke="#000" stroke-width="1.35"/>
<text x="58.6" y="581.4" font-size="10.7" text-anchor="end" fill="#1a1a1a" stroke="#1a1a1a" stroke-width="0.25">−3</text>
<line x1="104.8" x2="104.8" y1="587.6" y2="590.8" stroke="#000" stroke-width="1.35"/>
<text transform="translate(109.6,597.5) rotate(-45)" font-size="11.1" text-anchor="end" fill="#1a1a1a" stroke="#1a1a1a" stroke-width="0.2">High Risk</text>
<line x1="173.9" x2="173.9" y1="587.6" y2="590.8" stroke="#000" stroke-width="1.35"/>
<text transform="translate(178.7,597.5) rotate(-45)" font-size="11.1" text-anchor="end" fill="#1a1a1a" stroke="#1a1a1a" stroke-width="0.2">Low Risk</text>
<text x="138.2" y="385.8" font-size="10.4" text-anchor="middle" fill="#1a1a1a" stroke="#1a1a1a" stroke-width="0.35">****</text>
<g stroke="#821d1d" stroke-width="1.7" fill="none">
<path d="M104.8 383.6V449.2M104.8 493.3V549.5"/>
<rect x="80.6" y="449.2" width="48.9" height="44.1"/>
<path d="M80.6 471.6H129.5" stroke-width="3.2"/>
</g>
<path transform="scale(0.1)" d="M1077 4735h0M1137 4594h0M972 4748h0M936 4488h0M1131 5107h0M930 5033h0M1141 4319h0M1084 4728h0M948 4691h0M1033 4734h0M1063 4602h0M1138 4683h0M941 4802h0M1004 4641h0M1001 4254h0M1129 4921h0M968 4810h0M1058 4394h0M918 5211h0M1049 4702h0M1027 4792h0M1110 4284h0M1071 4535h0M1072 5028h0M972 4482h0M1001 4433h0M1182 5490h0M947 4375h0M1035 4552h0M1035 4923h0M1004 5177h0M988 4592h0M964 4403h0M1031 4750h0M965 5102h0M983 4777h0M1065 4920h0M1116 4977h0M1109 4947h0M967 4738h0M914 4830h0M1084 4368h0M983 5105h0M1084 4834h0M1184 4559h0M958 4749h0M1008 4622h0M1036 4233h0M938 5061h0M1125 4566h0M1040 4597h0M1129 4758h0M945 5307h0M940 4624h0M968 5069h0M980 4865h0M1106 4619h0M1031 5020h0M1134 4751h0M1142 5031h0M969 4680h0M1072 4676h0M1139 4748h0M1127 4685h0M1155 4809h0M1057 4694h0M1082 4451h0M1154 4589h0M967 5173h0M977 4670h0M939 4445h0M1073 4892h0M1036 4560h0M1072 4558h0M1031 5046h0M929 5097h0M1040 4733h0M1020 4822h0M976 4953h0M1089 5166h0M949 4845h0M1161 5056h0M976 4810h0M1182 4784h0M1128 4672h0M1137 4387h0M921 5069h0M936 5111h0M921 4124h0M923 4803h0M971 4670h0M1086 5066h0M1164 5371h0M915 4731h0M1119 4525h0M1106 4174h0M955 4483h0M1051 4160h0M1156 4256h0M1163 4356h0M1063 4707h0M1081 4546h0M1074 5059h0M925 4675h0M1061 4839h0M912 4798h0M1116 4393h0M1134 4622h0M1089 4875h0M967 4672h0M1180 4856h0M1061 4647h0M1112 4802h0M1145 4598h0M1011 4627h0M994 4837h0M1077 4701h0M1180 4897h0M931 4711h0M941 4754h0M1054 4870h0M1036 5123h0M1089 5085h0M1163 4465h0M1162 4778h0M1141 5287h0M1098 4733h0M1145 4794h0M960 5315h0M1170 4429h0M980 5186h0M993 4530h0M936 4881h0M1032 4476h0M1167 4236h0M1120 4772h0M1118 4162h0M1024 4753h0M916 4467h0M1164 4633h0M1124 4978h0M1156 4215h0M939 4603h0M1138 5097h0M1011 4892h0M1058 4286h0M1057 4524h0M1089 4757h0M1022 5453h0M1162 4897h0M935 5027h0M1160 4652h0M914 4450h0M1183 4749h0M959 4190h0M1101 5170h0M1116 4524h0M981 4711h0M918 4959h0M982 4796h0M1176 4922h0M1091 4983h0M1075 5053h0M928 4809h0M928 4974h0M949 4403h0M941 4687h0M1100 4681h0M959 4797h0M938 4153h0M1100 4824h0M1033 4394h0M1167 4736h0M1004 4858h0M1139 4675h0M972 4786h0M1095 4349h0M987 5174h0M1160 4501h0M954 4703h0M1092 4947h0M960 5076h0M1108 3820h0M1168 3835h0M928 4035h0M1018 4060h0M1178 4090h0M1178 4120h0M948 5420h0M1048 5500h0M928 5785h0" stroke="#821d1d" stroke-width="53" stroke-linecap="round" fill="none"/>
<g stroke="#3461b1" stroke-width="1.7" fill="none">
<path d="M173.9 441.0V475.9M173.9 512.0V564.0"/>
<rect x="149.7" y="475.9" width="49.1" height="36.1"/>
<path d="M149.7 492.8H198.8" stroke-width="3.2"/>
</g>
<path transform="scale(0.1)" d="M1872 4858h0M1707 4839h0M1663 5141h0M1619 5230h0M1637 4440h0M1867 4882h0M1639 5227h0M1818 4625h0M1745 4931h0M1632 4689h0M1680 4923h0M1706 4481h0M1655 4911h0M1661 5130h0M1778 5131h0M1731 4769h0M1784 4873h0M1832 4995h0M1722 4922h0M1633 4867h0M1627 5363h0M1634 4830h0M1665 5102h0M1723 4908h0M1701 4859h0M1730 4864h0M1621 4634h0M1662 5068h0M1841 4941h0M1867 5294h0M1861 4852h0M1746 5035h0M1840 4918h0M1660 4775h0M1856 4757h0M1728 4830h0M1726 4941h0M1689 5039h0M1701 4826h0M1634 4573h0M1651 4642h0M1604 4960h0M1608 5124h0M1731 5209h0M1666 4949h0M1739 5281h0M1641 5255h0M1823 5181h0M1838 4540h0M1702 5085h0M1664 4798h0M1766 5031h0M1661 4844h0M1611 4996h0M1654 5073h0M1808 4876h0M1712 5512h0M1788 5265h0M1665 4880h0M1863 5265h0M1737 4885h0M1661 4579h0M1831 4948h0M1727 4634h0M1690 4833h0M1786 5146h0M1607 4801h0M1830 5047h0M1601 4822h0M1726 5100h0M1756 5065h0M1667 4965h0M1634 5078h0M1639 4790h0M1745 4968h0M1617 5446h0M1666 5219h0M1726 4763h0M1714 4639h0M1838 4646h0M1865 5198h0M1714 5009h0M1630 4401h0M1606 4751h0M1868 4986h0M1841 4727h0M1835 5234h0M1824 4780h0M1633 5123h0M1668 5208h0M1822 5134h0M1849 5245h0M1622 4769h0M1849 4972h0M1792 5091h0M1672 5005h0M1746 4908h0M1788 4690h0M1773 4559h0M1731 4745h0M1604 5168h0M1732 5378h0M1780 5124h0M1651 5330h0M1665 4503h0M1720 5057h0M1714 4763h0M1866 4979h0M1804 4780h0M1700 5050h0M1636 5180h0M1662 5344h0M1611 4885h0M1639 4736h0M1622 5175h0M1762 4782h0M1699 4621h0M1795 5060h0M1734 5091h0M1606 4868h0M1703 5004h0M1867 5079h0M1778 4878h0M1776 5466h0M1655 5135h0M1812 5640h0M1828 4997h0M1767 4745h0M1764 4628h0M1656 5398h0M1801 4619h0M1676 4899h0M1649 4906h0M1793 4918h0M1674 4747h0M1797 4924h0M1633 4879h0M1859 4933h0M1694 4788h0M1745 4958h0M1733 5054h0M1672 4692h0M1646 4829h0M1626 4892h0M1674 5241h0M1820 5237h0M1737 4963h0M1653 5186h0M1615 4638h0M1643 5086h0M1799 5027h0M1664 5191h0M1627 4796h0M1763 5418h0M1823 4786h0M1819 4561h0M1784 4915h0M1757 4818h0M1762 4822h0M1631 4803h0M1672 5069h0M1718 5086h0M1610 5375h0M1801 5023h0M1778 4890h0M1792 4724h0M1657 5389h0M1687 5333h0M1644 5044h0M1663 5117h0M1799 4865h0M1866 5456h0M1688 4869h0M1800 5164h0M1626 4605h0M1615 4810h0M1858 5090h0M1843 4942h0M1634 5112h0M1741 4888h0M1799 5196h0M1747 4964h0M1679 3935h0M1839 3955h0M1649 4160h0M1649 4185h0M1809 4190h0M1729 5645h0M1849 5490h0" stroke="#3461b1" stroke-width="53" stroke-linecap="round" fill="none"/>
<rect x="239.2" y="353.6" width="152.1" height="18.0" fill="#fff" stroke="#222" stroke-width="1.1"/>
<text x="315.2" y="366.4" font-size="10.4" font-weight="bold" text-anchor="middle" fill="#1a1a1a">Epothilone.B</text>
<rect x="239.2" y="371.6" width="152.1" height="216.0" fill="none" stroke="#000" stroke-width="1.25"/>
<line x1="239.2" x2="391.3" y1="371.6" y2="371.6" stroke="#111" stroke-width="1.5"/>
<line x1="236.0" x2="239.2" y1="424.0" y2="424.0" stroke="#000" stroke-width="1.35"/>
<text x="234.2" y="428.0" font-size="10.7" text-anchor="end" fill="#1a1a1a" stroke="#1a1a1a" stroke-width="0.25">−4</text>
<line x1="236.0" x2="239.2" y1="485.3" y2="485.3" stroke="#000" stroke-width="1.35"/>
<text x="234.2" y="489.3" font-size="10.7" text-anchor="end" fill="#1a1a1a" stroke="#1a1a1a" stroke-width="0.25">−5</text>
<line x1="236.0" x2="239.2" y1="546.8" y2="546.8" stroke="#000" stroke-width="1.35"/>
<text x="234.2" y="550.8" font-size="10.7" text-anchor="end" fill="#1a1a1a" stroke="#1a1a1a" stroke-width="0.25">−6</text>
<line x1="280.8" x2="280.8" y1="587.6" y2="590.8" stroke="#000" stroke-width="1.35"/>
<text transform="translate(285.6,597.5) rotate(-45)" font-size="11.1" text-anchor="end" fill="#1a1a1a" stroke="#1a1a1a" stroke-width="0.2">High Risk</text>
<line x1="350.2" x2="350.2" y1="587.6" y2="590.8" stroke="#000" stroke-width="1.35"/>
<text transform="translate(355.0,597.5) rotate(-45)" font-size="11.1" text-anchor="end" fill="#1a1a1a" stroke="#1a1a1a" stroke-width="0.2">Low Risk</text>
<text x="313.8" y="385.8" font-size="10.4" text-anchor="middle" fill="#1a1a1a" stroke="#1a1a1a" stroke-width="0.35">****</text>
<g stroke="#821d1d" stroke-width="1.7" fill="none">
<path d="M280.8 408.5V440.4M280.8 485.8V549.0"/>
<rect x="256.1" y="440.4" width="49.2" height="45.4"/>
<path d="M256.1 456.2H305.3" stroke-width="3.2"/>
</g>
<path transform="scale(0.1)" d="M2689 4544h0M2777 4767h0M2855 4895h0M2731 4544h0M2867 4770h0M2883 4319h0M2926 4893h0M2928 4378h0M2796 4714h0M2846 4702h0M2941 4584h0M2921 4498h0M2841 4381h0M2753 4372h0M2883 4207h0M2791 4399h0M2696 4361h0M2936 4442h0M2882 4379h0M2707 4501h0M2715 4492h0M2817 4506h0M2718 4491h0M2881 4794h0M2704 4918h0M2737 4466h0M2742 4447h0M2874 4601h0M2800 4168h0M2934 5160h0M2798 4850h0M2868 4782h0M2723 4585h0M2934 4792h0M2764 4226h0M2738 4295h0M2943 4578h0M2711 4298h0M2718 4436h0M2876 4868h0M2785 4716h0M2897 4435h0M2673 4362h0M2881 4997h0M2933 5300h0M2760 5146h0M2743 4311h0M2771 5223h0M2774 4851h0M2700 4407h0M2783 4489h0M2879 5165h0M2737 5253h0M2943 4192h0M2871 4946h0M2740 4549h0M2902 4801h0M2707 4919h0M2896 4947h0M2765 4659h0M2913 4309h0M2708 5270h0M2857 4204h0M2850 4836h0M2821 4110h0M2796 4421h0M2886 4970h0M2910 4215h0M2739 4514h0M2698 4354h0M2890 4609h0M2733 4514h0M2875 4483h0M2725 4524h0M2891 4994h0M2933 4506h0M2917 4790h0M2800 4254h0M2756 4254h0M2911 4983h0M2832 4748h0M2899 4654h0M2785 5063h0M2913 4621h0M2770 4714h0M2770 4820h0M2704 4213h0M2922 4736h0M2789 4256h0M2868 4494h0M2815 4736h0M2896 4518h0M2731 4509h0M2876 4962h0M2914 4509h0M2944 4854h0M2866 4955h0M2927 4469h0M2761 4503h0M2872 4373h0M2808 4448h0M2854 4290h0M2946 4197h0M2825 4102h0M2921 4520h0M2822 4830h0M2770 4534h0M2676 4420h0M2809 4700h0M2934 4157h0M2811 5122h0M2710 4288h0M2844 4793h0M2836 4481h0M2742 4997h0M2812 4637h0M2799 4321h0M2764 4541h0M2868 4548h0M2741 4565h0M2813 4885h0M2920 4418h0M2726 4278h0M2877 5164h0M2867 4921h0M2901 4648h0M2925 4901h0M2792 4380h0M2890 4486h0M2857 4516h0M2846 4399h0M2945 4359h0M2738 4947h0M2725 4219h0M2841 4435h0M2754 4358h0M2693 4476h0M2723 4422h0M2721 4771h0M2802 4308h0M2804 4330h0M2725 4313h0M2833 4730h0M2690 4474h0M2864 4449h0M2768 4329h0M2787 4654h0M2778 4964h0M2712 4274h0M2672 4361h0M2904 4993h0M2844 4617h0M2924 4969h0M2752 4943h0M2823 4418h0M2932 4935h0M2710 5172h0M2888 5132h0M2833 4220h0M2931 4739h0M2822 4921h0M2702 4790h0M2918 4477h0M2759 4545h0M2802 4659h0M2917 4979h0M2767 4556h0M2846 4764h0M2777 4953h0M2838 4532h0M2772 4521h0M2777 4894h0M2819 5193h0M2746 4169h0M2714 4965h0M2860 4184h0M2686 4410h0M2892 4541h0M2686 4460h0M2743 4428h0M2921 4635h0M2931 5259h0M2828 4010h0M2908 4000h0M2778 5495h0M2718 5490h0M2868 5570h0M2918 5570h0M2708 5785h0M2728 5360h0M2848 5330h0" stroke="#821d1d" stroke-width="53" stroke-linecap="round" fill="none"/>
<g stroke="#3461b1" stroke-width="1.7" fill="none">
<path d="M350.2 418.5V468.6M350.2 508.8V560.2"/>
<rect x="325.5" y="468.6" width="49.1" height="40.2"/>
<path d="M325.5 490.1H374.6" stroke-width="3.2"/>
</g>
<path transform="scale(0.1)" d="M3389 5495h0M3619 5098h0M3570 5067h0M3601 4817h0M3605 4993h0M3572 4808h0M3375 5525h0M3379 5336h0M3559 4853h0M3538 4854h0M3414 4757h0M3532 4778h0M3464 5244h0M3634 5548h0M3434 5154h0M3428 4774h0M3559 5044h0M3406 4810h0M3461 4722h0M3510 4909h0M3552 4997h0M3582 4566h0M3523 4829h0M3530 5447h0M3457 4704h0M3601 5428h0M3616 4436h0M3412 5044h0M3470 4958h0M3585 4911h0M3581 4926h0M3584 4930h0M3478 4904h0M3565 5076h0M3477 5216h0M3620 5073h0M3468 5082h0M3438 5061h0M3582 4436h0M3591 5180h0M3452 4415h0M3573 4925h0M3408 4930h0M3601 4464h0M3619 5123h0M3387 4883h0M3405 4416h0M3574 5099h0M3526 5443h0M3482 5170h0M3578 4777h0M3392 4949h0M3604 4924h0M3486 4747h0M3566 4933h0M3543 5112h0M3563 4597h0M3423 4687h0M3466 5028h0M3618 5085h0M3482 5242h0M3573 5355h0M3490 5121h0M3626 4690h0M3494 5113h0M3404 4511h0M3552 4542h0M3513 4587h0M3540 4910h0M3468 5048h0M3373 4898h0M3496 4316h0M3611 4369h0M3373 4578h0M3562 5205h0M3565 4822h0M3415 5257h0M3402 4284h0M3415 4837h0M3502 5030h0M3621 4987h0M3495 4738h0M3616 4847h0M3425 5106h0M3632 4536h0M3577 5113h0M3600 5134h0M3486 5152h0M3586 4326h0M3552 4492h0M3492 4908h0M3591 5102h0M3408 4199h0M3553 5050h0M3410 5167h0M3402 4995h0M3438 5219h0M3465 4832h0M3527 5344h0M3409 5057h0M3629 4671h0M3635 5075h0M3631 4633h0M3470 4576h0M3372 5131h0M3420 4972h0M3538 4716h0M3519 4718h0M3464 4442h0M3626 5036h0M3602 5132h0M3549 5160h0M3447 5142h0M3632 4567h0M3382 4870h0M3421 4497h0M3504 4876h0M3549 4454h0M3553 4491h0M3551 5285h0M3378 4905h0M3482 4917h0M3521 4630h0M3366 4947h0M3527 5417h0M3592 4554h0M3413 4687h0M3594 4883h0M3438 4307h0M3607 4460h0M3631 5145h0M3476 4925h0M3593 4935h0M3635 4999h0M3439 4495h0M3405 4563h0M3627 5169h0M3638 4547h0M3544 4456h0M3408 4917h0M3463 4954h0M3612 5248h0M3408 4906h0M3405 4725h0M3408 5324h0M3503 5164h0M3478 5218h0M3514 5061h0M3481 4791h0M3429 4891h0M3591 4891h0M3431 5107h0M3471 4598h0M3457 4701h0M3549 4880h0M3594 5097h0M3619 5214h0M3531 4790h0M3387 4850h0M3456 4791h0M3481 4510h0M3449 4657h0M3431 5550h0M3407 4951h0M3615 4985h0M3559 4636h0M3377 5052h0M3398 4818h0M3407 4636h0M3537 5229h0M3457 4547h0M3392 4765h0M3505 4922h0M3410 5341h0M3546 5044h0M3389 5160h0M3425 4879h0M3474 4914h0M3554 4857h0M3638 4771h0M3549 5012h0M3425 4685h0M3612 3815h0M3482 4180h0M3392 5605h0" stroke="#3461b1" stroke-width="53" stroke-linecap="round" fill="none"/>
<rect x="417.4" y="353.6" width="151.7" height="18.0" fill="#fff" stroke="#222" stroke-width="1.1"/>
<text x="493.2" y="366.4" font-size="10.4" font-weight="bold" text-anchor="middle" fill="#1a1a1a">GSK.650394</text>
<rect x="417.4" y="371.6" width="151.7" height="216.0" fill="none" stroke="#000" stroke-width="1.25"/>
<line x1="417.4" x2="569.1" y1="371.6" y2="371.6" stroke="#111" stroke-width="1.5"/>
<line x1="414.2" x2="417.4" y1="407.8" y2="407.8" stroke="#000" stroke-width="1.35"/>
<text x="412.4" y="411.8" font-size="10.7" text-anchor="end" fill="#1a1a1a" stroke="#1a1a1a" stroke-width="0.25">5.0</text>
<line x1="414.2" x2="417.4" y1="455.9" y2="455.9" stroke="#000" stroke-width="1.35"/>
<text x="412.4" y="459.9" font-size="10.7" text-anchor="end" fill="#1a1a1a" stroke="#1a1a1a" stroke-width="0.25">4.5</text>
<line x1="414.2" x2="417.4" y1="504.0" y2="504.0" stroke="#000" stroke-width="1.35"/>
<text x="412.4" y="508.0" font-size="10.7" text-anchor="end" fill="#1a1a1a" stroke="#1a1a1a" stroke-width="0.25">4.0</text>
<line x1="414.2" x2="417.4" y1="552.5" y2="552.5" stroke="#000" stroke-width="1.35"/>
<text x="412.4" y="556.5" font-size="10.7" text-anchor="end" fill="#1a1a1a" stroke="#1a1a1a" stroke-width="0.25">3.5</text>
<line x1="458.8" x2="458.8" y1="587.6" y2="590.8" stroke="#000" stroke-width="1.35"/>
<text transform="translate(463.6,597.5) rotate(-45)" font-size="11.1" text-anchor="end" fill="#1a1a1a" stroke="#1a1a1a" stroke-width="0.2">High Risk</text>
<line x1="527.9" x2="527.9" y1="587.6" y2="590.8" stroke="#000" stroke-width="1.35"/>
<text transform="translate(532.7,597.5) rotate(-45)" font-size="11.1" text-anchor="end" fill="#1a1a1a" stroke="#1a1a1a" stroke-width="0.2">Low Risk</text>
<text x="492.0" y="385.8" font-size="10.4" text-anchor="middle" fill="#1a1a1a" stroke="#1a1a1a" stroke-width="0.35">****</text>
<g stroke="#821d1d" stroke-width="1.7" fill="none">
<path d="M458.8 399.8V436.2M458.8 486.6V555.7"/>
<rect x="434.4" y="436.2" width="49.1" height="50.4"/>
<path d="M434.4 458.9H483.5" stroke-width="3.2"/>
</g>
<path transform="scale(0.1)" d="M4569 5098h0M4493 4289h0M4723 4208h0M4704 4409h0M4585 4267h0M4504 4356h0M4673 4821h0M4531 5010h0M4581 4024h0M4489 4893h0M4639 4802h0M4643 4571h0M4462 5119h0M4481 4749h0M4539 5309h0M4650 4169h0M4546 4441h0M4647 4721h0M4526 4959h0M4451 4231h0M4475 4649h0M4626 4712h0M4493 5401h0M4482 4218h0M4555 5059h0M4462 4606h0M4548 4620h0M4667 4963h0M4718 4292h0M4628 4999h0M4504 4177h0M4593 4760h0M4553 4959h0M4591 4556h0M4527 4837h0M4589 4742h0M4633 5017h0M4501 4599h0M4663 4912h0M4644 4655h0M4519 4510h0M4705 5075h0M4530 4986h0M4561 4616h0M4583 4784h0M4652 5322h0M4549 4504h0M4535 4230h0M4652 5026h0M4507 4153h0M4631 4529h0M4637 4003h0M4525 5006h0M4467 5063h0M4716 4656h0M4595 4523h0M4672 5103h0M4513 5528h0M4670 4691h0M4653 4451h0M4524 4982h0M4584 4564h0M4684 4795h0M4689 5437h0M4537 4988h0M4719 4458h0M4528 4509h0M4704 4409h0M4685 4407h0M4696 4883h0M4663 4830h0M4553 4492h0M4571 4057h0M4560 4094h0M4456 4849h0M4558 4767h0M4553 4633h0M4660 4554h0M4622 4898h0M4502 4149h0M4619 4089h0M4531 4525h0M4701 4385h0M4609 4542h0M4539 4144h0M4628 4298h0M4616 4521h0M4509 4798h0M4536 4602h0M4699 4927h0M4482 4429h0M4686 4340h0M4517 4615h0M4460 4930h0M4670 4797h0M4664 4490h0M4582 4891h0M4555 4477h0M4513 4600h0M4682 5093h0M4601 5093h0M4479 5148h0M4522 4196h0M4724 4583h0M4475 5031h0M4451 4865h0M4476 4534h0M4569 4317h0M4590 4414h0M4592 4745h0M4721 4081h0M4586 4393h0M4553 4237h0M4692 4441h0M4549 4805h0M4605 4879h0M4528 4190h0M4552 4164h0M4597 4219h0M4540 4265h0M4543 4964h0M4565 4016h0M4561 4282h0M4495 4693h0M4573 4906h0M4562 5107h0M4576 4525h0M4652 4428h0M4458 4936h0M4638 4427h0M4580 4806h0M4505 5019h0M4642 4364h0M4521 4160h0M4619 4726h0M4497 4764h0M4602 4945h0M4487 4610h0M4487 5155h0M4535 4540h0M4620 4813h0M4665 5054h0M4572 4851h0M4679 4715h0M4550 5216h0M4574 4868h0M4630 4733h0M4459 4226h0M4708 4302h0M4524 4054h0M4683 4705h0M4594 4310h0M4454 4023h0M4679 4309h0M4640 4870h0M4506 5390h0M4698 4756h0M4543 4639h0M4468 4523h0M4483 4166h0M4494 4383h0M4704 4677h0M4700 4327h0M4571 5495h0M4706 4511h0M4674 4909h0M4475 4622h0M4705 4882h0M4688 5124h0M4490 4771h0M4667 4733h0M4576 5025h0M4528 4312h0M4518 4614h0M4642 5363h0M4510 4821h0M4713 4443h0M4588 4921h0M4457 4293h0M4692 4577h0M4549 5268h0M4652 4511h0M4703 3995h0M4538 5570h0M4648 5560h0M4538 5775h0" stroke="#821d1d" stroke-width="53" stroke-linecap="round" fill="none"/>
<g stroke="#3461b1" stroke-width="1.7" fill="none">
<path d="M527.9 399.3V468.6M527.9 521.5V578.0"/>
<rect x="503.5" y="468.6" width="49.1" height="52.9"/>
<path d="M503.5 493.6H552.6" stroke-width="3.2"/>
</g>
<path transform="scale(0.1)" d="M5323 4604h0M5184 5355h0M5395 4684h0M5358 5420h0M5196 4858h0M5365 5002h0M5167 5316h0M5274 5031h0M5245 4416h0M5262 5191h0M5142 5073h0M5370 4851h0M5293 5238h0M5176 5402h0M5356 5281h0M5358 5151h0M5328 4223h0M5327 4778h0M5404 5343h0M5255 4872h0M5282 4778h0M5380 4781h0M5248 4725h0M5300 4796h0M5193 4746h0M5262 5444h0M5280 4864h0M5398 4901h0M5196 5001h0M5298 4321h0M5289 4785h0M5226 4805h0M5342 4303h0M5320 4870h0M5244 4457h0M5319 5087h0M5332 4919h0M5343 4669h0M5169 4551h0M5155 4539h0M5210 5645h0M5165 4692h0M5276 4793h0M5268 4937h0M5244 4623h0M5172 4794h0M5203 5579h0M5171 4605h0M5333 4919h0M5199 4704h0M5255 4329h0M5398 4794h0M5161 5215h0M5403 4735h0M5262 5381h0M5353 4970h0M5190 4731h0M5253 5347h0M5323 4642h0M5295 5203h0M5209 5461h0M5295 4819h0M5243 4836h0M5384 5063h0M5314 4876h0M5315 4945h0M5177 4705h0M5224 5325h0M5197 5091h0M5318 5586h0M5147 5271h0M5263 5441h0M5234 5189h0M5176 4491h0M5359 5099h0M5225 5234h0M5173 5657h0M5343 5150h0M5148 4145h0M5341 4575h0M5250 5113h0M5279 4765h0M5285 5118h0M5224 4840h0M5261 4579h0M5204 5019h0M5319 4616h0M5371 5007h0M5218 5480h0M5171 4549h0M5382 4545h0M5197 4830h0M5217 5589h0M5183 4706h0M5400 5368h0M5389 4989h0M5256 4900h0M5150 4462h0M5225 4654h0M5158 5494h0M5396 5271h0M5339 4693h0M5146 4737h0M5272 5089h0M5145 4800h0M5163 4783h0M5166 4722h0M5179 4783h0M5368 4515h0M5208 5209h0M5373 4795h0M5168 4352h0M5402 4759h0M5379 5404h0M5169 4663h0M5303 4411h0M5340 4713h0M5193 5020h0M5262 4508h0M5224 5044h0M5217 4454h0M5362 5045h0M5278 5073h0M5281 4912h0M5280 4754h0M5255 5012h0M5387 5329h0M5387 5110h0M5212 4050h0M5366 4997h0M5416 5149h0M5320 5117h0M5163 4762h0M5379 5428h0M5311 4806h0M5195 4680h0M5167 5572h0M5323 4799h0M5320 4602h0M5331 4679h0M5406 4703h0M5249 4871h0M5333 5293h0M5345 4773h0M5298 5182h0M5283 5276h0M5407 4592h0M5356 4098h0M5373 4522h0M5207 4958h0M5400 4966h0M5371 5591h0M5358 4724h0M5272 5161h0M5361 5088h0M5374 4608h0M5188 4627h0M5184 5446h0M5234 5196h0M5169 5054h0M5203 4604h0M5375 4449h0M5225 5319h0M5215 4303h0M5261 4987h0M5246 4901h0M5245 4201h0M5141 4878h0M5211 4677h0M5148 5009h0M5302 4463h0M5280 4595h0M5409 4929h0M5244 4631h0M5175 4164h0M5375 4993h0M5364 4357h0M5333 4859h0M5184 5657h0M5290 5169h0M5194 4978h0M5336 4564h0M5199 3815h0M5279 3825h0M5409 3990h0M5379 5785h0M5339 5780h0" stroke="#3461b1" stroke-width="53" stroke-linecap="round" fill="none"/>
<rect x="593.2" y="353.6" width="151.4" height="18.0" fill="#fff" stroke="#222" stroke-width="1.1"/>
<text x="668.9" y="366.4" font-size="10.4" font-weight="bold" text-anchor="middle" fill="#1a1a1a">GW843682X</text>
<rect x="593.2" y="371.6" width="151.4" height="216.0" fill="none" stroke="#000" stroke-width="1.25"/>
<line x1="593.2" x2="744.6" y1="371.6" y2="371.6" stroke="#111" stroke-width="1.5"/>
<line x1="590.0" x2="593.2" y1="405.3" y2="405.3" stroke="#000" stroke-width="1.35"/>
<text x="588.2" y="409.3" font-size="10.7" text-anchor="end" fill="#1a1a1a" stroke="#1a1a1a" stroke-width="0.25">0</text>
<line x1="590.0" x2="593.2" y1="453.9" y2="453.9" stroke="#000" stroke-width="1.35"/>
<text x="588.2" y="457.9" font-size="10.7" text-anchor="end" fill="#1a1a1a" stroke="#1a1a1a" stroke-width="0.25">−1</text>
<line x1="590.0" x2="593.2" y1="502.5" y2="502.5" stroke="#000" stroke-width="1.35"/>
<text x="588.2" y="506.5" font-size="10.7" text-anchor="end" fill="#1a1a1a" stroke="#1a1a1a" stroke-width="0.25">−2</text>
<line x1="590.0" x2="593.2" y1="551.0" y2="551.0" stroke="#000" stroke-width="1.35"/>
<text x="588.2" y="555.0" font-size="10.7" text-anchor="end" fill="#1a1a1a" stroke="#1a1a1a" stroke-width="0.25">−3</text>
<line x1="634.4" x2="634.4" y1="587.6" y2="590.8" stroke="#000" stroke-width="1.35"/>
<text transform="translate(639.2,597.5) rotate(-45)" font-size="11.1" text-anchor="end" fill="#1a1a1a" stroke="#1a1a1a" stroke-width="0.2">High Risk</text>
<line x1="703.4" x2="703.4" y1="587.6" y2="590.8" stroke="#000" stroke-width="1.35"/>
<text transform="translate(708.2,597.5) rotate(-45)" font-size="11.1" text-anchor="end" fill="#1a1a1a" stroke="#1a1a1a" stroke-width="0.2">Low Risk</text>
<text x="667.4" y="385.8" font-size="10.4" text-anchor="middle" fill="#1a1a1a" stroke="#1a1a1a" stroke-width="0.35">****</text>
<g stroke="#821d1d" stroke-width="1.7" fill="none">
<path d="M634.4 436.7V483.8M634.4 522.8V571.4"/>
<rect x="609.9" y="483.8" width="49.1" height="39.0"/>
<path d="M609.9 503.8H659.0" stroke-width="3.2"/>
</g>
<path transform="scale(0.1)" d="M6379 5477h0M6371 5255h0M6362 4559h0M6296 5281h0M6234 4781h0M6298 5157h0M6384 5214h0M6389 5666h0M6329 4563h0M6333 5226h0M6236 5022h0M6377 5284h0M6395 4957h0M6452 5236h0M6342 4927h0M6298 4923h0M6329 5336h0M6254 4926h0M6474 5422h0M6331 4984h0M6211 4933h0M6469 5326h0M6320 5001h0M6368 4735h0M6272 5435h0M6315 5149h0M6384 4713h0M6373 5287h0M6481 5046h0M6209 4959h0M6232 4782h0M6437 4746h0M6399 4932h0M6368 4486h0M6366 5151h0M6278 4747h0M6377 5015h0M6310 4698h0M6342 4890h0M6408 5146h0M6427 4960h0M6371 5152h0M6446 5119h0M6219 4540h0M6448 5078h0M6460 5153h0M6434 5233h0M6365 4861h0M6311 5168h0M6376 5174h0M6298 4557h0M6362 5661h0M6458 5211h0M6214 5392h0M6407 5384h0M6473 4944h0M6381 5268h0M6353 5263h0M6210 5229h0M6294 5693h0M6424 4964h0M6215 5107h0M6272 5340h0M6311 5444h0M6352 4970h0M6373 4580h0M6469 5209h0M6421 4687h0M6348 4825h0M6312 5101h0M6254 5326h0M6360 4598h0M6211 4933h0M6281 5690h0M6251 5699h0M6438 5008h0M6462 5321h0M6224 4813h0M6243 5117h0M6290 4887h0M6240 5151h0M6427 5392h0M6432 5194h0M6433 5045h0M6430 4892h0M6269 4351h0M6434 4442h0M6233 5034h0M6381 4985h0M6436 5521h0M6436 4775h0M6460 5062h0M6395 5204h0M6440 4624h0M6275 5245h0M6356 5130h0M6451 4650h0M6273 4596h0M6240 5175h0M6421 5436h0M6233 5012h0M6284 5278h0M6431 4993h0M6250 5351h0M6449 4823h0M6251 4868h0M6231 4594h0M6390 4817h0M6389 4845h0M6447 4926h0M6215 5297h0M6300 4863h0M6403 5012h0M6422 4516h0M6241 5466h0M6312 5124h0M6410 5099h0M6265 4805h0M6444 5143h0M6382 4823h0M6460 5311h0M6465 5003h0M6444 5384h0M6277 4919h0M6345 5045h0M6418 4900h0M6479 4863h0M6339 4775h0M6452 5436h0M6310 4656h0M6410 4737h0M6461 4742h0M6348 5167h0M6285 5242h0M6458 5336h0M6456 4927h0M6472 4735h0M6244 5181h0M6447 4665h0M6320 5230h0M6440 4971h0M6432 5042h0M6265 5410h0M6414 4642h0M6260 5322h0M6427 4978h0M6476 5053h0M6267 5159h0M6365 5244h0M6452 4821h0M6307 4643h0M6236 5173h0M6367 4712h0M6329 4888h0M6303 4733h0M6321 5070h0M6369 4707h0M6356 4420h0M6293 5229h0M6342 4937h0M6361 4765h0M6250 5012h0M6301 4943h0M6271 4912h0M6421 5617h0M6353 5365h0M6218 4906h0M6396 4635h0M6311 4860h0M6289 4558h0M6224 5292h0M6268 5426h0M6218 5173h0M6409 5112h0M6379 5032h0M6270 5094h0M6257 4721h0M6331 4810h0M6403 4543h0M6370 5332h0M6387 4598h0M6259 5321h0M6254 3815h0M6419 4095h0M6464 4200h0M6394 4220h0M6344 5715h0M6214 5600h0" stroke="#821d1d" stroke-width="53" stroke-linecap="round" fill="none"/>
<g stroke="#3461b1" stroke-width="1.7" fill="none">
<path d="M703.4 467.6V507.5M703.4 542.0V577.6"/>
<rect x="679.3" y="507.5" width="49.1" height="34.5"/>
<path d="M679.3 525.5H728.4" stroke-width="3.2"/>
</g>
<path transform="scale(0.1)" d="M7165 5041h0M7072 5397h0M6924 5521h0M7129 5345h0M6900 5088h0M7112 5718h0M7094 5072h0M7090 5312h0M6978 5071h0M7106 5293h0M7054 5479h0M7000 4944h0M7138 5217h0M6904 5258h0M7108 5488h0M6983 5323h0M7048 5134h0M7105 4804h0M7109 5322h0M6956 5250h0M6967 5263h0M7080 5253h0M7018 5221h0M7098 5602h0M7044 5336h0M7061 5400h0M6982 5277h0M6991 5416h0M7097 5052h0M7055 5115h0M6928 5054h0M7103 4872h0M6965 5183h0M7038 5159h0M7155 5319h0M6974 4705h0M7051 5255h0M6966 5632h0M6900 5446h0M6951 5359h0M7015 5049h0M7127 5208h0M6981 5287h0M6971 4685h0M6955 5206h0M6929 5065h0M6946 5084h0M7019 5255h0M6980 4904h0M7096 5671h0M6991 5323h0M7051 4844h0M7027 5468h0M7140 5318h0M7064 5129h0M7141 4760h0M6905 4902h0M7044 5310h0M7126 5427h0M7080 5425h0M6949 5002h0M7167 5435h0M6948 5439h0M6972 5272h0M6928 5324h0M6944 5061h0M7115 4992h0M7134 4948h0M6931 5043h0M7026 5163h0M7153 4810h0M7160 5384h0M6991 5026h0M6951 4706h0M7047 5363h0M7130 5131h0M7110 5299h0M6924 5256h0M7161 5587h0M7096 4881h0M6984 4975h0M7103 5355h0M6908 5486h0M7118 5015h0M7026 5353h0M7046 5169h0M6903 5446h0M7133 5354h0M7083 5248h0M7157 4927h0M7090 5148h0M7097 5282h0M7151 5289h0M7017 5282h0M6972 5626h0M6904 5508h0M6907 5067h0M6934 5345h0M6954 4817h0M6936 5268h0M7057 4939h0M6932 5472h0M6897 5761h0M7012 4920h0M6925 4928h0M7098 4765h0M6908 5390h0M7032 5351h0M6936 5524h0M6932 5694h0M7138 5289h0M6962 5424h0M7023 5154h0M7142 5446h0M7037 5509h0M6955 5313h0M6982 5018h0M6930 5230h0M7150 5312h0M7030 5220h0M7097 4956h0M7105 5516h0M6953 5381h0M7049 4846h0M6942 5604h0M6991 5493h0M7166 5038h0M6929 5650h0M7096 5224h0M7102 5132h0M7038 5509h0M7051 5596h0M7077 4916h0M7059 5423h0M7054 5666h0M6932 5238h0M7015 5484h0M7051 5130h0M7014 5412h0M6999 5052h0M6901 5141h0M7095 5274h0M7059 5466h0M6997 5077h0M7137 5252h0M7155 5208h0M6985 5316h0M6912 4964h0M6963 4858h0M6966 5546h0M7026 5395h0M7003 5669h0M7134 5206h0M7133 4780h0M7168 4985h0M7093 5019h0M6913 5388h0M7098 5217h0M7080 4814h0M7027 5052h0M7066 4774h0M6924 5613h0M6965 5472h0M7152 5390h0M6959 5270h0M6991 5379h0M7017 5449h0M7120 5351h0M6987 5078h0M7157 4868h0M7063 5028h0M6927 5320h0M7072 5544h0M6991 5056h0M7051 5121h0M6943 5226h0M7145 5372h0M7038 4907h0M6972 5265h0M7112 4901h0M7017 5139h0M7147 5082h0M7094 4505h0M6974 5780h0M7004 5760h0" stroke="#3461b1" stroke-width="53" stroke-linecap="round" fill="none"/>
<rect x="771.6" y="353.6" width="151.6" height="18.0" fill="#fff" stroke="#222" stroke-width="1.1"/>
<text x="847.4" y="366.4" font-size="10.4" font-weight="bold" text-anchor="middle" fill="#1a1a1a">QS11</text>
<rect x="771.6" y="371.6" width="151.6" height="216.0" fill="none" stroke="#000" stroke-width="1.25"/>
<line x1="771.6" x2="923.2" y1="371.6" y2="371.6" stroke="#111" stroke-width="1.5"/>
<line x1="768.4" x2="771.6" y1="380.0" y2="380.0" stroke="#000" stroke-width="1.35"/>
<text x="766.6" y="384.0" font-size="10.7" text-anchor="end" fill="#1a1a1a" stroke="#1a1a1a" stroke-width="0.25">5.0</text>
<line x1="768.4" x2="771.6" y1="420.6" y2="420.6" stroke="#000" stroke-width="1.35"/>
<text x="766.6" y="424.6" font-size="10.7" text-anchor="end" fill="#1a1a1a" stroke="#1a1a1a" stroke-width="0.25">4.5</text>
<line x1="768.4" x2="771.6" y1="461.0" y2="461.0" stroke="#000" stroke-width="1.35"/>
<text x="766.6" y="465.0" font-size="10.7" text-anchor="end" fill="#1a1a1a" stroke="#1a1a1a" stroke-width="0.25">4.0</text>
<line x1="768.4" x2="771.6" y1="501.6" y2="501.6" stroke="#000" stroke-width="1.35"/>
<text x="766.6" y="505.6" font-size="10.7" text-anchor="end" fill="#1a1a1a" stroke="#1a1a1a" stroke-width="0.25">3.5</text>
<line x1="768.4" x2="771.6" y1="542.0" y2="542.0" stroke="#000" stroke-width="1.35"/>
<text x="766.6" y="546.0" font-size="10.7" text-anchor="end" fill="#1a1a1a" stroke="#1a1a1a" stroke-width="0.25">3.0</text>
<line x1="768.4" x2="771.6" y1="582.6" y2="582.6" stroke="#000" stroke-width="1.35"/>
<text x="766.6" y="586.6" font-size="10.7" text-anchor="end" fill="#1a1a1a" stroke="#1a1a1a" stroke-width="0.25">2.5</text>
<line x1="812.2" x2="812.2" y1="587.6" y2="590.8" stroke="#000" stroke-width="1.35"/>
<text transform="translate(817.0,597.5) rotate(-45)" font-size="11.1" text-anchor="end" fill="#1a1a1a" stroke="#1a1a1a" stroke-width="0.2">High Risk</text>
<line x1="881.6" x2="881.6" y1="587.6" y2="590.8" stroke="#000" stroke-width="1.35"/>
<text transform="translate(886.4,597.5) rotate(-45)" font-size="11.1" text-anchor="end" fill="#1a1a1a" stroke="#1a1a1a" stroke-width="0.2">Low Risk</text>
<text x="845.8" y="385.8" font-size="10.4" text-anchor="middle" fill="#1a1a1a" stroke="#1a1a1a" stroke-width="0.35">****</text>
<g stroke="#821d1d" stroke-width="1.7" fill="none">
<path d="M812.2 394.8V442.2M812.2 476.6V523.3"/>
<rect x="787.8" y="442.2" width="49.4" height="34.4"/>
<path d="M787.8 460.4H837.2" stroke-width="3.2"/>
</g>
<path transform="scale(0.1)" d="M8020 4515h0M8043 4452h0M8194 4723h0M8095 4369h0M8198 4842h0M8233 4562h0M8053 5087h0M8254 4329h0M8089 4963h0M8059 4662h0M8083 4233h0M8177 4182h0M8041 4889h0M8033 4523h0M8134 4791h0M7985 4254h0M8003 4666h0M8056 4852h0M8136 4484h0M8074 4116h0M8061 4602h0M8080 4380h0M8177 4484h0M8228 5014h0M7996 4671h0M8029 4701h0M8211 4619h0M8146 4274h0M8255 4766h0M8192 4518h0M8255 4644h0M8055 4534h0M8164 4526h0M8082 4702h0M8012 4430h0M8039 4734h0M8161 4347h0M8172 5230h0M8008 4642h0M8256 4393h0M8081 4246h0M8036 4504h0M8052 5115h0M8029 4360h0M8125 4845h0M8034 4859h0M8032 4512h0M8051 4687h0M8137 4876h0M8185 4628h0M7996 4365h0M8213 4771h0M8023 4370h0M8150 4577h0M8065 4576h0M8219 4728h0M8173 4647h0M8203 4711h0M8166 4721h0M8072 4519h0M8095 4496h0M8019 4483h0M8136 4832h0M8095 4378h0M8075 4568h0M8242 4702h0M8195 4204h0M8132 5011h0M8016 4522h0M8054 4908h0M8073 4154h0M8096 4288h0M8179 4712h0M8204 4630h0M8072 4445h0M8024 5079h0M8087 4574h0M8079 4972h0M8111 4314h0M8208 4185h0M8126 4717h0M8190 4403h0M8175 4417h0M8095 4755h0M8137 4310h0M8084 4914h0M8205 4678h0M8068 4049h0M8250 4451h0M7995 4514h0M8137 4482h0M8133 4878h0M8009 4863h0M8238 4420h0M8170 4486h0M8161 4515h0M8241 4459h0M7998 4950h0M8199 4406h0M8026 4591h0M8027 5008h0M8130 4684h0M8094 4241h0M8116 4837h0M8200 4710h0M8186 4691h0M8118 4789h0M8227 4527h0M8173 4822h0M8206 4898h0M8130 4498h0M8232 4573h0M8181 4611h0M8025 5071h0M8077 4569h0M8087 4705h0M8258 5040h0M8018 4647h0M8005 4663h0M8056 4796h0M8108 4694h0M8215 4083h0M8138 4325h0M8150 4798h0M8080 4525h0M8185 4696h0M8018 4555h0M8079 4688h0M8256 4406h0M8214 4403h0M8045 4419h0M7990 4648h0M8130 4616h0M8067 4513h0M8149 4746h0M8067 4878h0M8181 4639h0M8114 4970h0M7995 4796h0M8113 4554h0M8221 4719h0M8227 4707h0M8119 4303h0M8033 4956h0M8256 4656h0M8015 4166h0M8080 4352h0M8149 4594h0M8077 4208h0M8235 4267h0M8033 4702h0M8251 4402h0M8001 4984h0M8134 4843h0M8243 4677h0M8260 4397h0M8132 4446h0M7991 4405h0M8245 4653h0M8084 4631h0M8143 4259h0M8226 4839h0M7989 4623h0M8099 4104h0M8085 4410h0M8145 4667h0M8164 4568h0M8010 4182h0M8176 4513h0M8080 4649h0M8259 4537h0M8205 4519h0M8252 5017h0M8240 4481h0M8127 4793h0M8255 4643h0M8217 4648h0M8097 4959h0M8039 5039h0M8221 4773h0M8143 4273h0M8024 4552h0M8072 3815h0M8212 3945h0M7992 4045h0M8162 5350h0M8182 5360h0M8162 5510h0M8172 5785h0" stroke="#821d1d" stroke-width="53" stroke-linecap="round" fill="none"/>
<g stroke="#3461b1" stroke-width="1.7" fill="none">
<path d="M881.6 410.5V466.4M881.6 507.0V544.5"/>
<rect x="857.1" y="466.4" width="49.4" height="40.6"/>
<path d="M857.1 484.6H906.5" stroke-width="3.2"/>
</g>
<path transform="scale(0.1)" d="M8729 4590h0M8792 5014h0M8679 5141h0M8703 5037h0M8749 4886h0M8901 5018h0M8726 4486h0M8679 5370h0M8779 4836h0M8683 5295h0M8840 5068h0M8949 4763h0M8870 4819h0M8708 4743h0M8950 4797h0M8768 4560h0M8723 4998h0M8789 4565h0M8898 4936h0M8729 5126h0M8803 4542h0M8931 4620h0M8863 4493h0M8780 4572h0M8887 4589h0M8808 4578h0M8846 5344h0M8795 4775h0M8830 4728h0M8925 4569h0M8769 4502h0M8739 4860h0M8746 5217h0M8869 5244h0M8937 4577h0M8799 4848h0M8734 5230h0M8773 5391h0M8763 4747h0M8810 4858h0M8935 4861h0M8863 5314h0M8688 4742h0M8797 4845h0M8853 4521h0M8734 4790h0M8943 4674h0M8777 5116h0M8751 5149h0M8893 5130h0M8767 4642h0M8921 4841h0M8761 4937h0M8846 4846h0M8893 4799h0M8786 4995h0M8799 5189h0M8951 4898h0M8881 4319h0M8871 5208h0M8907 4800h0M8864 4790h0M8752 5042h0M8932 5056h0M8772 4911h0M8774 4859h0M8927 4167h0M8903 4539h0M8709 4566h0M8878 4839h0M8897 4672h0M8711 5392h0M8910 4727h0M8907 4836h0M8915 5088h0M8711 4871h0M8949 4855h0M8793 4831h0M8838 4782h0M8950 5438h0M8944 4751h0M8740 4455h0M8768 4624h0M8695 5386h0M8798 4169h0M8815 4200h0M8872 4174h0M8771 5408h0M8792 4918h0M8923 4864h0M8763 5363h0M8836 4591h0M8791 5289h0M8705 4967h0M8764 4900h0M8876 4785h0M8880 4786h0M8877 5014h0M8906 4996h0M8834 5021h0M8787 5008h0M8917 4868h0M8853 4694h0M8751 4695h0M8819 4930h0M8827 4633h0M8811 4763h0M8854 4547h0M8840 5080h0M8678 4789h0M8949 5155h0M8709 4809h0M8739 5013h0M8684 4942h0M8814 4993h0M8783 4637h0M8735 4838h0M8745 4637h0M8767 4843h0M8767 5115h0M8683 4716h0M8814 4616h0M8679 5310h0M8804 4785h0M8735 4269h0M8712 4604h0M8710 5272h0M8766 4849h0M8851 5212h0M8849 5182h0M8682 4936h0M8909 4775h0M8699 4459h0M8890 5387h0M8733 4729h0M8915 4627h0M8783 4631h0M8936 5416h0M8864 4873h0M8742 4494h0M8898 4958h0M8729 4762h0M8855 4703h0M8854 4682h0M8886 4947h0M8725 4763h0M8745 4523h0M8775 4781h0M8923 4760h0M8738 4925h0M8841 4964h0M8704 4922h0M8834 4860h0M8891 4955h0M8744 4927h0M8772 5191h0M8939 5063h0M8827 5122h0M8910 4673h0M8827 4385h0M8876 4890h0M8946 5389h0M8835 4834h0M8799 5077h0M8739 4791h0M8874 4379h0M8873 5196h0M8878 4827h0M8899 4926h0M8815 4889h0M8938 4446h0M8685 5141h0M8808 4763h0M8707 5125h0M8812 4904h0M8801 4696h0M8774 4775h0M8785 5254h0M8715 4846h0M8946 4503h0M8756 4806h0M8883 5020h0M8706 4105h0M8766 4120h0M8836 5445h0M8716 5440h0M8936 5710h0" stroke="#3461b1" stroke-width="53" stroke-linecap="round" fill="none"/>
<text transform="translate(39.0,145.2) rotate(-90)" font-size="18.1" font-weight="bold" text-anchor="middle" fill="#1a1a1a">IC(50)</text>
<text transform="translate(38.8,479.8) rotate(-90)" font-size="18.1" font-weight="bold" text-anchor="middle" fill="#1a1a1a">IC(50)</text>
<g transform="translate(69.1,676.0) scale(1.53216,16.03750)" fill="none" stroke-width="1">
<path stroke="#3a62b2" d="M7 0.5h1M22 0.5h1M44 0.5h1M70 0.5h2M110 0.5h1M161 0.5h1M193 0.5h1M261 0.5h2M268 0.5h1M272 0.5h1M277 0.5h1M299 0.5h1M304 0.5h1M339 0.5h1M353 0.5h1M363 0.5h1M24 1.5h1M26 1.5h1M36 1.5h1M46 1.5h1M49 1.5h1M58 1.5h1M96 1.5h1M100 1.5h1M113 1.5h1M118 1.5h1M160 1.5h1M169 1.5h1M208 1.5h1M213 1.5h1M217 1.5h1M262 1.5h2M296 1.5h1M351 1.5h1M358 1.5h1M13 2.5h1M46 2.5h1M61 2.5h2M78 2.5h1M81 2.5h2M85 2.5h1M99 2.5h1M122 2.5h1M130 2.5h1M148 2.5h2M172 2.5h1M177 2.5h2M210 2.5h1M219 2.5h1M222 2.5h1M224 2.5h1M260 2.5h1M264 2.5h1M284 2.5h1M297 2.5h1M309 2.5h1M325 2.5h1M345 2.5h1M10 3.5h1M13 3.5h1M19 3.5h1M26 3.5h2M37 3.5h1M40 3.5h1M70 3.5h2M80 3.5h1M104 3.5h1M115 3.5h1M136 3.5h1M140 3.5h1M149 3.5h2M184 3.5h1M237 3.5h1M243 3.5h1M305 3.5h1M314 3.5h1M319 3.5h1M324 3.5h1M327 3.5h1M331 3.5h1M363 3.5h1M0 4.5h1M5 4.5h1M9 4.5h1M16 4.5h1M69 4.5h1M114 4.5h1M128 4.5h1M149 4.5h1M154 4.5h1M169 4.5h1M171 4.5h1M182 4.5h1M195 4.5h1M203 4.5h2M223 4.5h1M263 4.5h1M266 4.5h1M284 4.5h1M322 4.5h1M340 4.5h1M349 4.5h1M356 4.5h1M366 4.5h1M3 5.5h1M7 5.5h1M19 5.5h1M34 5.5h1M36 5.5h1M55 5.5h1M61 5.5h1M67 5.5h1M76 5.5h1M110 5.5h1M112 5.5h1M153 5.5h1M171 5.5h1M190 5.5h1M192 5.5h1M219 5.5h1M228 5.5h1M244 5.5h1M272 5.5h1M276 5.5h1M286 5.5h1M291 5.5h1M341 5.5h1M343 5.5h1M351 5.5h1M356 5.5h1M361 5.5h1M5 6.5h1M27 6.5h1M37 6.5h1M47 6.5h1M54 6.5h1M74 6.5h1M77 6.5h1M96 6.5h1M98 6.5h1M169 6.5h1M193 6.5h1M203 6.5h1M205 6.5h1M246 6.5h1M263 6.5h1M266 6.5h1M272 6.5h1M277 6.5h1M291 6.5h1M321 6.5h1M335 6.5h1M3 7.5h1M11 7.5h2M73 7.5h1M80 7.5h1M86 7.5h1M90 7.5h1M103 7.5h1M149 7.5h1M157 7.5h1M177 7.5h1M182 7.5h1M221 7.5h1M225 7.5h1M227 7.5h1M248 7.5h1M258 7.5h1M277 7.5h1M285 7.5h1M330 7.5h1M351 7.5h1M366 7.5h1M9 8.5h1M18 8.5h1M34 8.5h1M45 8.5h1M59 8.5h2M79 8.5h1M87 8.5h2M91 8.5h1M100 8.5h1M105 8.5h1M146 8.5h1M175 8.5h2M195 8.5h2M205 8.5h1M210 8.5h1M223 8.5h1M248 8.5h1M257 8.5h1M292 8.5h1M304 8.5h1M316 8.5h1M331 8.5h1M360 8.5h1M18 9.5h1M47 9.5h1M58 9.5h1M67 9.5h1M114 9.5h1M131 9.5h1M147 9.5h1M155 9.5h1M157 9.5h1M183 9.5h1M188 9.5h1M198 9.5h1M206 9.5h1M228 9.5h1M252 9.5h1M257 9.5h1M276 9.5h1M325 9.5h1M368 9.5h1M3 10.5h1M10 10.5h1M17 10.5h1M48 10.5h1M55 10.5h1M73 10.5h1M93 10.5h1M95 10.5h2M102 10.5h1M110 10.5h3M127 10.5h1M159 10.5h2M188 10.5h1M205 10.5h1M226 10.5h1M230 10.5h1M256 10.5h1M260 10.5h1M300 10.5h1M319 10.5h1M321 10.5h1M341 10.5h1M350 10.5h1M353 10.5h1M359 10.5h1M364 10.5h1M21 11.5h1M26 11.5h1M31 11.5h1M57 11.5h1M59 11.5h1M100 11.5h1M102 11.5h1M126 11.5h1M129 11.5h1M156 11.5h1M167 11.5h1M198 11.5h1M200 11.5h1M209 11.5h1M221 11.5h1M229 11.5h1M236 11.5h1M245 11.5h1M270 11.5h1M304 11.5h1M308 11.5h1M324 11.5h1M326 11.5h1M336 11.5h1M352 11.5h1M13 12.5h1M15 12.5h1M17 12.5h1M20 12.5h1M24 12.5h1M49 12.5h1M57 12.5h1M89 12.5h1M104 12.5h1M126 12.5h1M132 12.5h1M148 12.5h1M151 12.5h1M158 12.5h1M194 12.5h1M204 12.5h1M212 12.5h1M214 12.5h1M231 12.5h1M255 12.5h1M271 12.5h1M302 12.5h1M336 12.5h1M339 12.5h1M9 13.5h1M18 13.5h1M25 13.5h1M49 13.5h1M52 13.5h1M121 13.5h1M126 13.5h1M135 13.5h1M137 13.5h1M170 13.5h1M179 13.5h1M214 13.5h1M227 13.5h1M234 13.5h1M255 13.5h1M266 13.5h1M276 13.5h1M288 13.5h1M309 13.5h1M329 13.5h1M342 13.5h1M351 13.5h2M357 13.5h2M360 13.5h1M362 13.5h1M369 13.5h1"/>
<path stroke="#4a6fb8" d="M0 0.5h1M104 0.5h1M178 0.5h1M265 0.5h1M317 0.5h1M327 0.5h1M349 0.5h1M30 1.5h1M134 1.5h1M305 1.5h1M152 2.5h1M209 2.5h1M225 2.5h1M279 2.5h1M2 3.5h1M36 3.5h1M99 3.5h1M152 3.5h1M182 3.5h1M211 3.5h1M213 3.5h1M279 3.5h1M323 3.5h1M140 4.5h1M165 4.5h1M183 4.5h1M258 4.5h1M262 4.5h1M294 4.5h1M312 4.5h1M88 5.5h1M360 5.5h1M24 6.5h1M66 6.5h1M191 6.5h1M248 6.5h1M265 6.5h1M340 6.5h1M96 7.5h1M117 7.5h1M160 7.5h1M260 7.5h1M307 7.5h1M309 7.5h1M28 8.5h1M119 8.5h1M197 8.5h1M244 8.5h1M22 9.5h1M133 9.5h1M226 9.5h1M326 9.5h1M0 10.5h1M101 10.5h1M103 10.5h1M150 10.5h1M203 10.5h1M269 10.5h1M315 10.5h1M324 10.5h1M336 10.5h1M56 11.5h1M58 11.5h1M90 11.5h1M104 11.5h1M178 11.5h1M215 11.5h1M235 11.5h1M238 11.5h2M355 11.5h1M52 12.5h1M134 12.5h1M174 12.5h1M230 12.5h1M1 13.5h1M112 13.5h1M281 13.5h1M244 20.5h1"/>
<path stroke="#5b7cbf" d="M215 0.5h1M297 0.5h1M300 0.5h1M362 0.5h1M89 1.5h1M193 1.5h1M292 1.5h1M294 1.5h1M345 1.5h1M349 1.5h1M8 2.5h1M17 2.5h1M21 2.5h1M111 2.5h1M151 2.5h1M157 2.5h1M162 2.5h1M185 2.5h1M189 2.5h1M304 2.5h1M317 2.5h1M323 2.5h2M340 2.5h1M113 3.5h2M180 3.5h1M241 3.5h2M248 3.5h1M292 3.5h1M308 3.5h1M365 3.5h1M14 4.5h1M28 4.5h1M70 4.5h1M98 4.5h1M201 4.5h1M215 4.5h1M261 4.5h1M279 4.5h1M299 4.5h1M352 4.5h1M9 5.5h1M43 5.5h1M97 5.5h1M113 5.5h1M159 5.5h1M165 5.5h1M212 5.5h1M255 5.5h1M347 5.5h1M45 6.5h1M53 6.5h1M71 6.5h1M112 6.5h1M116 6.5h1M173 6.5h1M233 6.5h1M299 6.5h1M13 7.5h1M134 7.5h1M173 7.5h1M212 7.5h1M241 7.5h1M335 7.5h1M212 8.5h1M249 8.5h1M269 8.5h1M273 8.5h1M311 8.5h1M338 8.5h1M348 8.5h1M173 9.5h1M201 9.5h1M207 9.5h1M214 9.5h1M284 9.5h1M290 9.5h1M316 9.5h1M332 9.5h1M29 10.5h1M41 10.5h1M69 10.5h1M100 10.5h1M227 10.5h1M322 10.5h1M365 10.5h1M0 11.5h1M9 11.5h1M67 11.5h1M121 11.5h1M260 11.5h1M267 11.5h1M43 12.5h1M111 12.5h1M116 12.5h1M140 12.5h1M192 12.5h1M207 12.5h1M53 13.5h1M198 13.5h1M256 13.5h1M298 13.5h1M132 20.5h1M301 20.5h1M329 20.5h1M142 23.5h1"/>
<path stroke="#6b89c5" d="M63 0.5h1M79 0.5h1M113 0.5h1M145 0.5h1M200 0.5h1M235 0.5h1M305 0.5h1M347 0.5h1M364 0.5h1M136 1.5h1M216 1.5h1M241 1.5h1M310 1.5h1M315 1.5h1M359 1.5h1M16 2.5h1M57 2.5h1M70 2.5h1M168 2.5h1M193 2.5h1M196 2.5h1M205 2.5h1M231 2.5h1M240 2.5h1M245 2.5h1M275 2.5h1M298 2.5h1M328 2.5h1M341 2.5h1M354 2.5h1M24 3.5h1M65 3.5h1M87 3.5h1M131 3.5h1M162 3.5h1M196 3.5h1M252 3.5h1M343 3.5h1M52 4.5h1M55 4.5h1M88 4.5h1M104 4.5h1M156 4.5h1M296 4.5h1M344 4.5h1M351 4.5h1M22 5.5h1M78 5.5h1M106 5.5h1M121 5.5h1M150 5.5h1M167 5.5h1M204 5.5h1M261 5.5h1M288 5.5h1M232 6.5h1M275 6.5h1M310 6.5h1M23 7.5h1M78 7.5h1M85 7.5h1M87 7.5h1M126 7.5h1M187 7.5h1M206 7.5h1M237 7.5h1M15 8.5h1M42 8.5h1M76 8.5h1M135 8.5h1M204 8.5h1M277 8.5h1M308 8.5h1M312 8.5h1M72 9.5h1M87 9.5h1M135 9.5h1M153 9.5h1M196 9.5h1M215 9.5h1M271 9.5h1M356 9.5h1M16 10.5h1M20 10.5h1M25 10.5h1M98 10.5h1M140 10.5h1M185 10.5h1M274 10.5h2M299 10.5h1M340 10.5h1M346 10.5h1M363 10.5h1M8 11.5h1M43 11.5h1M62 11.5h1M173 11.5h1M303 11.5h1M319 11.5h1M333 11.5h1M343 11.5h1M65 12.5h1M69 12.5h1M121 12.5h1M137 12.5h1M169 12.5h1M195 12.5h1M199 12.5h1M229 12.5h1M249 12.5h1M266 12.5h1M348 12.5h1M353 12.5h2M26 13.5h1M30 13.5h1M37 13.5h1M63 13.5h1M165 13.5h1M241 13.5h1M249 13.5h1M259 13.5h1M261 13.5h1M273 13.5h1M366 13.5h1M85 15.5h1M96 15.5h1M115 15.5h1M120 15.5h1M292 15.5h1M109 16.5h1M207 16.5h1M331 16.5h1M238 17.5h1M205 18.5h1M279 18.5h1M349 18.5h1M357 18.5h1M121 20.5h1M141 20.5h1M198 20.5h1M206 20.5h1M220 20.5h1M345 20.5h1M0 23.5h1M293 23.5h1"/>
<path stroke="#7c96cc" d="M158 0.5h1M166 0.5h1M171 0.5h1M181 0.5h1M279 0.5h1M318 0.5h1M352 0.5h1M367 0.5h1M6 1.5h1M35 1.5h1M39 1.5h1M56 1.5h1M70 1.5h1M212 1.5h1M300 1.5h1M329 1.5h1M367 1.5h1M50 2.5h1M53 2.5h1M98 2.5h1M100 2.5h1M175 2.5h1M241 2.5h1M255 2.5h1M312 2.5h1M34 3.5h1M50 3.5h1M76 3.5h1M119 3.5h1M121 3.5h2M134 3.5h1M146 3.5h1M148 3.5h1M167 3.5h2M185 3.5h1M238 3.5h1M289 3.5h1M310 3.5h1M37 4.5h1M217 4.5h1M224 4.5h1M234 4.5h1M238 4.5h1M281 4.5h1M291 4.5h1M314 4.5h1M320 4.5h1M327 4.5h1M336 4.5h1M4 5.5h1M141 5.5h1M145 5.5h1M163 5.5h1M273 5.5h1M289 5.5h1M303 5.5h1M332 5.5h1M334 5.5h1M33 6.5h1M46 6.5h1M67 6.5h1M76 6.5h1M86 6.5h1M90 6.5h1M113 6.5h1M157 6.5h1M179 6.5h1M188 6.5h1M194 6.5h1M206 6.5h1M239 6.5h1M67 7.5h1M71 7.5h1M199 7.5h1M223 7.5h1M279 7.5h1M281 7.5h1M319 7.5h1M356 7.5h1M97 8.5h1M125 8.5h1M141 8.5h1M143 8.5h1M167 8.5h1M214 8.5h1M217 8.5h1M226 8.5h1M271 8.5h1M275 8.5h1M281 8.5h1M324 8.5h1M39 9.5h1M44 9.5h1M63 9.5h1M66 9.5h1M152 9.5h1M230 9.5h1M234 9.5h1M255 9.5h1M311 9.5h1M341 9.5h1M354 9.5h1M362 9.5h1M1 10.5h1M18 10.5h1M40 10.5h1M44 10.5h1M60 10.5h2M117 10.5h1M171 10.5h1M192 10.5h1M247 10.5h1M305 10.5h1M344 10.5h1M352 10.5h1M1 11.5h1M64 11.5h1M174 11.5h1M194 11.5h1M247 11.5h1M268 11.5h1M305 11.5h1M27 12.5h1M55 12.5h1M77 12.5h1M217 12.5h1M221 12.5h1M227 12.5h1M234 12.5h1M247 12.5h1M268 12.5h2M292 12.5h1M314 12.5h1M318 12.5h1M359 12.5h1M6 13.5h1M54 13.5h1M61 13.5h1M70 13.5h1M116 13.5h1M159 13.5h1M201 13.5h1M251 13.5h1M294 13.5h1M354 13.5h1M13 14.5h2M36 14.5h1M228 14.5h1M255 14.5h1M262 14.5h1M28 15.5h1M37 15.5h1M82 15.5h1M84 15.5h1M105 15.5h1M162 15.5h1M219 15.5h1M274 15.5h1M23 16.5h1M59 16.5h1M91 16.5h1M157 16.5h1M214 16.5h1M224 16.5h1M6 17.5h1M234 17.5h1M64 18.5h1M73 18.5h1M102 18.5h1M121 18.5h1M206 18.5h1M237 18.5h1M282 18.5h1M9 19.5h1M87 19.5h1M108 19.5h1M115 19.5h2M223 19.5h1M232 19.5h1M249 19.5h1M260 19.5h1M265 19.5h1M286 19.5h1M329 19.5h1M2 20.5h1M12 20.5h1M56 20.5h1M65 20.5h1M94 20.5h1M107 20.5h1M117 20.5h1M154 20.5h1M171 20.5h1M203 20.5h1M234 20.5h1M254 20.5h1M270 20.5h1M283 20.5h1M333 20.5h1M348 20.5h1M14 21.5h1M49 21.5h1M55 21.5h1M103 21.5h1M268 21.5h1M243 22.5h1M23 23.5h1M26 23.5h1M45 23.5h1M62 23.5h1M145 23.5h1M154 23.5h1M227 23.5h1M337 23.5h1M174 24.5h1M253 24.5h1M231 25.5h1"/>
<path stroke="#8ca3d2" d="M39 0.5h1M52 0.5h1M60 0.5h1M149 0.5h1M202 0.5h1M210 0.5h1M217 0.5h1M258 0.5h2M270 0.5h1M286 0.5h1M330 0.5h1M335 0.5h2M359 0.5h1M32 1.5h1M269 1.5h1M337 1.5h1M159 2.5h1M167 2.5h1M169 2.5h1M262 2.5h1M266 2.5h1M294 2.5h1M314 2.5h1M39 3.5h1M45 3.5h1M56 3.5h1M72 3.5h1M137 3.5h1M164 3.5h1M221 3.5h1M256 3.5h1M284 3.5h1M298 3.5h1M301 3.5h1M309 3.5h1M311 3.5h1M340 3.5h1M351 3.5h1M79 4.5h1M152 4.5h1M160 4.5h1M180 4.5h1M205 4.5h1M214 4.5h1M222 4.5h1M277 4.5h1M358 4.5h1M12 5.5h1M32 5.5h1M37 5.5h2M45 5.5h1M50 5.5h1M137 5.5h1M142 5.5h2M146 5.5h1M148 5.5h1M168 5.5h1M181 5.5h1M191 5.5h1M194 5.5h1M202 5.5h1M235 5.5h1M238 5.5h1M264 5.5h1M314 5.5h1M318 5.5h1M327 5.5h1M100 6.5h1M141 6.5h1M198 6.5h1M270 6.5h1M284 6.5h1M336 6.5h1M343 6.5h1M42 7.5h1M44 7.5h1M62 7.5h1M131 7.5h1M155 7.5h1M171 7.5h1M230 7.5h1M233 7.5h1M291 7.5h1M325 7.5h1M70 8.5h1M137 8.5h1M152 8.5h1M198 8.5h2M238 8.5h2M250 8.5h1M344 8.5h1M346 8.5h1M1 9.5h1M70 9.5h1M140 9.5h1M150 9.5h1M164 9.5h1M218 9.5h1M312 9.5h1M4 10.5h1M8 10.5h1M13 10.5h1M19 10.5h1M51 10.5h1M120 10.5h1M122 10.5h1M144 10.5h1M148 10.5h1M151 10.5h1M199 10.5h1M220 10.5h1M225 10.5h1M302 10.5h1M307 10.5h1M317 10.5h1M320 10.5h1M323 10.5h1M5 11.5h1M97 11.5h1M149 11.5h1M252 11.5h1M263 11.5h1M275 11.5h1M283 11.5h1M19 12.5h1M21 12.5h1M109 12.5h1M118 12.5h1M130 12.5h1M166 12.5h1M248 12.5h1M264 12.5h1M282 12.5h1M300 12.5h1M321 12.5h1M351 12.5h1M366 12.5h1M16 13.5h1M56 13.5h1M80 13.5h1M84 13.5h1M128 13.5h1M140 13.5h1M153 13.5h1M189 13.5h1M193 13.5h1M199 13.5h1M202 13.5h1M242 13.5h1M254 13.5h1M317 13.5h1M345 13.5h1M9 14.5h1M38 14.5h1M53 14.5h1M86 14.5h1M96 14.5h1M114 14.5h1M152 14.5h1M193 14.5h1M216 14.5h1M237 14.5h1M242 14.5h1M259 14.5h1M271 14.5h1M282 14.5h1M291 14.5h1M304 14.5h1M321 14.5h1M330 14.5h1M335 14.5h1M347 14.5h1M365 14.5h1M102 15.5h1M107 15.5h1M146 15.5h1M168 15.5h1M196 15.5h1M199 15.5h1M216 15.5h1M227 15.5h1M230 15.5h1M232 15.5h1M246 15.5h1M347 15.5h1M15 16.5h1M31 16.5h1M56 16.5h1M70 16.5h1M102 16.5h1M118 16.5h2M121 16.5h1M130 16.5h1M143 16.5h1M146 16.5h1M150 16.5h1M163 16.5h1M180 16.5h1M185 16.5h1M209 16.5h1M259 16.5h1M275 16.5h1M290 16.5h1M308 16.5h1M333 16.5h1M346 16.5h1M355 16.5h1M1 17.5h1M35 17.5h1M45 17.5h1M66 17.5h1M70 17.5h1M73 17.5h1M86 17.5h1M94 17.5h1M107 17.5h1M109 17.5h1M133 17.5h1M151 17.5h1M155 17.5h1M160 17.5h1M185 17.5h1M251 17.5h1M263 17.5h1M301 17.5h1M340 17.5h1M25 18.5h1M49 18.5h1M70 18.5h1M72 18.5h1M108 18.5h1M136 18.5h1M162 18.5h1M169 18.5h1M173 18.5h1M191 18.5h1M198 18.5h1M259 18.5h1M306 18.5h1M308 18.5h1M322 18.5h1M330 18.5h1M332 18.5h1M338 18.5h1M352 18.5h1M355 18.5h1M57 19.5h1M65 19.5h1M126 19.5h1M129 19.5h1M137 19.5h1M139 19.5h1M156 19.5h1M166 19.5h1M175 19.5h1M200 19.5h1M209 19.5h1M237 19.5h1M243 19.5h1M247 19.5h1M253 19.5h1M315 19.5h1M345 19.5h1M0 20.5h1M33 20.5h1M61 20.5h1M82 20.5h1M86 20.5h1M89 20.5h1M131 20.5h1M138 20.5h1M142 20.5h1M146 20.5h1M149 20.5h1M163 20.5h1M165 20.5h1M173 20.5h1M181 20.5h1M184 20.5h1M186 20.5h1M188 20.5h1M193 20.5h1M214 20.5h1M253 20.5h1M272 20.5h1M282 20.5h1M293 20.5h1M295 20.5h1M300 20.5h1M303 20.5h1M308 20.5h1M335 20.5h1M57 21.5h1M74 21.5h1M84 21.5h1M94 21.5h1M141 21.5h1M144 21.5h2M147 21.5h1M176 21.5h1M262 21.5h1M294 21.5h1M332 21.5h1M33 22.5h1M79 22.5h1M150 22.5h1M193 22.5h1M272 22.5h1M301 22.5h1M9 23.5h1M22 23.5h1M51 23.5h1M90 23.5h1M139 23.5h1M143 23.5h1M175 23.5h1M188 23.5h1M206 23.5h1M225 23.5h1M238 23.5h1M333 23.5h1M128 24.5h1M156 24.5h1M158 24.5h1M254 24.5h1M276 24.5h1M23 25.5h1M65 25.5h1M74 25.5h1M171 25.5h1M208 25.5h1M236 25.5h1M244 25.5h1M334 25.5h1M350 25.5h1"/>
<path stroke="#9cb0d8" d="M3 0.5h1M23 0.5h1M84 0.5h1M96 0.5h1M118 0.5h1M130 0.5h1M236 0.5h1M256 0.5h1M298 0.5h1M324 0.5h1M328 0.5h1M351 0.5h1M59 1.5h1M64 1.5h1M131 1.5h1M176 1.5h1M222 1.5h1M230 1.5h1M250 1.5h1M268 1.5h1M270 1.5h1M363 1.5h1M109 2.5h1M113 2.5h1M126 2.5h1M145 2.5h1M166 2.5h1M182 2.5h1M187 2.5h1M211 2.5h1M299 2.5h1M351 2.5h1M3 3.5h1M5 3.5h1M7 3.5h1M48 3.5h1M77 3.5h1M95 3.5h1M105 3.5h1M109 3.5h1M176 3.5h1M188 3.5h1M192 3.5h1M215 3.5h1M245 3.5h1M286 3.5h1M303 3.5h1M333 3.5h1M10 4.5h1M15 4.5h1M73 4.5h1M103 4.5h1M106 4.5h1M130 4.5h1M137 4.5h1M175 4.5h1M252 4.5h1M267 4.5h1M339 4.5h1M347 4.5h1M350 4.5h1M17 5.5h1M27 5.5h1M71 5.5h1M173 5.5h1M199 5.5h1M234 5.5h1M328 5.5h1M352 5.5h1M357 5.5h1M28 6.5h1M75 6.5h1M81 6.5h1M91 6.5h1M102 6.5h1M125 6.5h1M139 6.5h1M144 6.5h1M189 6.5h1M204 6.5h1M251 6.5h1M286 6.5h1M304 6.5h1M338 6.5h1M361 6.5h1M50 7.5h1M68 7.5h1M75 7.5h1M77 7.5h1M124 7.5h1M189 7.5h1M193 7.5h1M195 7.5h1M213 7.5h1M231 7.5h1M344 7.5h1M364 7.5h1M8 8.5h1M121 8.5h1M142 8.5h1M174 8.5h1M202 8.5h1M241 8.5h1M251 8.5h1M253 8.5h1M274 8.5h1M320 8.5h1M329 8.5h1M334 8.5h1M23 9.5h1M69 9.5h1M82 9.5h1M85 9.5h1M113 9.5h1M116 9.5h1M122 9.5h1M124 9.5h1M127 9.5h1M129 9.5h1M158 9.5h1M175 9.5h1M231 9.5h1M250 9.5h1M268 9.5h1M278 9.5h1M280 9.5h1M349 9.5h1M358 9.5h1M47 10.5h1M85 10.5h1M113 10.5h1M132 10.5h1M141 10.5h1M173 10.5h2M210 10.5h1M242 10.5h1M276 10.5h1M296 10.5h1M345 10.5h1M177 11.5h1M216 11.5h1M285 11.5h1M291 11.5h1M318 11.5h1M331 11.5h1M95 12.5h1M114 12.5h1M156 12.5h1M164 12.5h1M179 12.5h1M187 12.5h1M190 12.5h1M208 12.5h1M238 12.5h1M273 12.5h1M343 12.5h1M368 12.5h1M33 13.5h1M35 13.5h1M64 13.5h1M66 13.5h1M98 13.5h1M101 13.5h1M109 13.5h2M119 13.5h1M122 13.5h1M175 13.5h1M177 13.5h1M205 13.5h1M222 13.5h1M231 13.5h2M245 13.5h1M305 13.5h1M1 14.5h1M30 14.5h1M32 14.5h2M35 14.5h1M88 14.5h1M91 14.5h1M95 14.5h1M112 14.5h1M119 14.5h1M137 14.5h1M151 14.5h1M167 14.5h1M169 14.5h1M173 14.5h1M197 14.5h1M204 14.5h1M222 14.5h1M243 14.5h1M245 14.5h1M258 14.5h1M266 14.5h1M283 14.5h1M305 14.5h1M311 14.5h1M315 14.5h1M320 14.5h1M327 14.5h1M329 14.5h1M341 14.5h1M348 14.5h1M364 14.5h1M366 14.5h2M27 15.5h1M41 15.5h1M45 15.5h1M49 15.5h2M52 15.5h1M54 15.5h1M62 15.5h1M72 15.5h1M94 15.5h1M97 15.5h1M101 15.5h1M106 15.5h1M134 15.5h1M165 15.5h2M170 15.5h1M173 15.5h1M178 15.5h1M208 15.5h1M221 15.5h1M231 15.5h1M234 15.5h1M249 15.5h2M253 15.5h1M266 15.5h1M269 15.5h1M279 15.5h1M281 15.5h2M287 15.5h1M290 15.5h1M299 15.5h2M358 15.5h1M368 15.5h1M0 16.5h1M7 16.5h1M9 16.5h2M21 16.5h1M30 16.5h1M36 16.5h1M64 16.5h2M73 16.5h1M77 16.5h2M90 16.5h1M103 16.5h1M113 16.5h1M122 16.5h1M135 16.5h1M144 16.5h2M152 16.5h1M154 16.5h1M156 16.5h1M162 16.5h1M166 16.5h1M183 16.5h1M188 16.5h1M217 16.5h1M232 16.5h1M241 16.5h1M245 16.5h1M248 16.5h1M270 16.5h1M283 16.5h1M303 16.5h1M314 16.5h1M317 16.5h1M329 16.5h1M350 16.5h1M3 17.5h1M38 17.5h1M53 17.5h2M57 17.5h1M92 17.5h1M122 17.5h2M142 17.5h1M159 17.5h1M169 17.5h1M172 17.5h1M174 17.5h2M204 17.5h1M215 17.5h1M217 17.5h1M229 17.5h1M241 17.5h1M243 17.5h1M264 17.5h1M280 17.5h1M290 17.5h1M300 17.5h1M314 17.5h1M329 17.5h3M336 17.5h1M350 17.5h1M0 18.5h2M3 18.5h1M5 18.5h1M7 18.5h2M11 18.5h1M26 18.5h1M30 18.5h1M33 18.5h1M51 18.5h1M59 18.5h1M66 18.5h1M96 18.5h1M104 18.5h1M117 18.5h1M140 18.5h1M144 18.5h1M148 18.5h1M159 18.5h1M171 18.5h1M203 18.5h1M215 18.5h1M240 18.5h1M252 18.5h1M254 18.5h1M261 18.5h1M272 18.5h1M283 18.5h1M289 18.5h1M11 19.5h2M14 19.5h1M27 19.5h1M33 19.5h1M42 19.5h1M50 19.5h1M56 19.5h1M62 19.5h1M84 19.5h1M89 19.5h2M92 19.5h1M140 19.5h1M142 19.5h1M177 19.5h1M188 19.5h1M221 19.5h1M225 19.5h1M246 19.5h1M323 19.5h1M22 20.5h1M31 20.5h1M39 20.5h1M88 20.5h1M115 20.5h1M123 20.5h1M137 20.5h1M144 20.5h1M147 20.5h1M150 20.5h1M157 20.5h1M166 20.5h1M179 20.5h1M207 20.5h1M209 20.5h1M232 20.5h1M236 20.5h1M238 20.5h1M248 20.5h1M271 20.5h1M291 20.5h1M296 20.5h1M299 20.5h1M305 20.5h1M307 20.5h1M315 20.5h1M323 20.5h1M331 20.5h1M338 20.5h1M350 20.5h3M357 20.5h1M361 20.5h1M364 20.5h1M369 20.5h1M12 21.5h1M23 21.5h1M33 21.5h1M44 21.5h1M47 21.5h1M75 21.5h1M117 21.5h1M121 21.5h1M129 21.5h1M132 21.5h1M160 21.5h2M168 21.5h1M181 21.5h1M193 21.5h1M211 21.5h1M221 21.5h1M233 21.5h1M264 21.5h1M271 21.5h1M290 21.5h1M296 21.5h1M309 21.5h1M314 21.5h1M347 21.5h1M350 21.5h1M365 21.5h1M1 22.5h1M8 22.5h1M63 22.5h1M77 22.5h1M110 22.5h1M119 22.5h1M123 22.5h1M126 22.5h1M142 22.5h1M145 22.5h1M164 22.5h1M184 22.5h1M212 22.5h1M216 22.5h1M218 22.5h1M260 22.5h1M334 22.5h1M350 22.5h1M369 22.5h1M5 23.5h1M7 23.5h1M37 23.5h1M54 23.5h1M57 23.5h1M64 23.5h1M66 23.5h1M104 23.5h1M122 23.5h2M128 23.5h1M136 23.5h1M140 23.5h1M144 23.5h1M155 23.5h1M182 23.5h1M209 23.5h1M229 23.5h1M248 23.5h1M252 23.5h1M263 23.5h1M268 23.5h2M276 23.5h1M282 23.5h1M287 23.5h2M297 23.5h2M303 23.5h1M329 23.5h1M339 23.5h1M369 23.5h1M8 24.5h2M33 24.5h2M37 24.5h1M44 24.5h1M64 24.5h1M73 24.5h1M83 24.5h1M95 24.5h1M101 24.5h1M130 24.5h1M132 24.5h1M180 24.5h1M193 24.5h1M200 24.5h1M233 24.5h1M242 24.5h1M282 24.5h3M286 24.5h1M306 24.5h1M308 24.5h1M316 24.5h1M323 24.5h1M329 24.5h1M333 24.5h1M337 24.5h1M346 24.5h1M30 25.5h1M32 25.5h1M37 25.5h1M39 25.5h1M64 25.5h1M77 25.5h1M113 25.5h1M117 25.5h1M122 25.5h1M137 25.5h1M148 25.5h1M159 25.5h1M166 25.5h1M179 25.5h1M203 25.5h1M207 25.5h1M209 25.5h1M226 25.5h1M229 25.5h2M287 25.5h2M323 25.5h2M326 25.5h1M361 25.5h1M21 30.5h1M39 30.5h1M96 30.5h1M127 30.5h1M139 30.5h1M163 30.5h1M181 30.5h1M187 30.5h1M223 30.5h1M232 30.5h1M282 30.5h1M328 30.5h1M334 30.5h1M341 30.5h2"/>
<path stroke="#adbedf" d="M51 0.5h1M69 0.5h1M91 0.5h1M106 0.5h1M126 0.5h1M135 0.5h1M139 0.5h1M266 0.5h1M17 1.5h1M57 1.5h1M78 1.5h2M128 1.5h1M133 1.5h1M155 1.5h1M191 1.5h1M198 1.5h1M257 1.5h1M264 1.5h1M287 1.5h1M297 1.5h1M339 1.5h1M341 1.5h2M346 1.5h1M365 1.5h1M28 2.5h1M32 2.5h1M34 2.5h1M56 2.5h1M91 2.5h1M94 2.5h1M96 2.5h1M135 2.5h1M144 2.5h1M160 2.5h1M238 2.5h1M282 2.5h1M289 2.5h1M307 2.5h1M316 2.5h1M364 2.5h1M367 2.5h1M9 3.5h1M42 3.5h1M46 3.5h1M62 3.5h1M89 3.5h1M96 3.5h1M130 3.5h1M169 3.5h1M173 3.5h1M187 3.5h1M201 3.5h1M205 3.5h1M224 3.5h1M239 3.5h1M66 4.5h1M111 4.5h1M119 4.5h1M126 4.5h1M136 4.5h1M155 4.5h1M168 4.5h1M191 4.5h1M206 4.5h2M241 4.5h1M248 4.5h1M295 4.5h1M330 4.5h1M332 4.5h1M363 4.5h1M74 5.5h1M91 5.5h1M138 5.5h1M178 5.5h1M241 5.5h1M258 5.5h2M278 5.5h1M299 5.5h1M12 6.5h1M30 6.5h1M70 6.5h1M73 6.5h1M114 6.5h1M146 6.5h1M181 6.5h1M228 6.5h1M289 6.5h1M301 6.5h1M315 6.5h1M9 7.5h1M27 7.5h1M49 7.5h1M105 7.5h1M220 7.5h1M270 7.5h1M290 7.5h1M294 7.5h1M336 7.5h1M338 7.5h1M340 7.5h1M357 7.5h1M11 8.5h1M47 8.5h1M71 8.5h1M77 8.5h1M86 8.5h1M93 8.5h1M181 8.5h1M193 8.5h1M215 8.5h1M236 8.5h1M240 8.5h1M254 8.5h1M276 8.5h1M291 8.5h1M299 8.5h3M314 8.5h1M328 8.5h1M357 8.5h1M3 9.5h1M28 9.5h1M49 9.5h1M117 9.5h1M125 9.5h1M141 9.5h2M146 9.5h1M197 9.5h1M220 9.5h1M288 9.5h1M308 9.5h1M328 9.5h1M338 9.5h1M34 10.5h1M75 10.5h1M107 10.5h1M206 10.5h1M221 10.5h1M240 10.5h1M264 10.5h1M271 10.5h1M318 10.5h1M330 10.5h1M20 11.5h1M32 11.5h1M52 11.5h1M65 11.5h1M110 11.5h1M132 11.5h1M218 11.5h1M290 11.5h1M312 11.5h2M344 11.5h1M56 12.5h1M68 12.5h1M178 12.5h1M196 12.5h1M215 12.5h1M218 12.5h1M225 12.5h1M250 12.5h1M265 12.5h1M310 12.5h1M312 12.5h1M326 12.5h1M17 13.5h1M59 13.5h1M79 13.5h1M86 13.5h1M107 13.5h1M150 13.5h1M192 13.5h1M207 13.5h1M2 14.5h2M18 14.5h2M40 14.5h1M46 14.5h1M48 14.5h1M58 14.5h1M61 14.5h1M74 14.5h1M76 14.5h1M90 14.5h1M92 14.5h1M94 14.5h1M97 14.5h1M105 14.5h1M129 14.5h1M135 14.5h1M138 14.5h1M143 14.5h1M147 14.5h1M155 14.5h1M161 14.5h1M171 14.5h1M187 14.5h1M191 14.5h1M199 14.5h3M203 14.5h1M208 14.5h1M229 14.5h1M234 14.5h1M253 14.5h1M256 14.5h1M263 14.5h1M270 14.5h1M276 14.5h2M285 14.5h1M289 14.5h1M294 14.5h1M317 14.5h1M345 14.5h1M350 14.5h3M362 14.5h1M368 14.5h1M1 15.5h1M36 15.5h1M42 15.5h1M46 15.5h1M55 15.5h1M65 15.5h1M69 15.5h1M78 15.5h1M91 15.5h1M113 15.5h1M124 15.5h1M135 15.5h2M150 15.5h1M157 15.5h1M163 15.5h1M177 15.5h1M180 15.5h1M193 15.5h2M211 15.5h2M224 15.5h1M247 15.5h1M257 15.5h1M259 15.5h1M270 15.5h1M295 15.5h1M298 15.5h1M308 15.5h1M327 15.5h1M334 15.5h1M336 15.5h1M365 15.5h1M38 16.5h1M55 16.5h1M84 16.5h1M88 16.5h2M93 16.5h1M101 16.5h1M111 16.5h1M120 16.5h1M127 16.5h1M140 16.5h1M148 16.5h1M160 16.5h1M170 16.5h1M190 16.5h1M201 16.5h1M210 16.5h1M223 16.5h1M247 16.5h1M256 16.5h1M267 16.5h1M274 16.5h1M284 16.5h1M287 16.5h1M291 16.5h1M298 16.5h1M300 16.5h1M304 16.5h2M337 16.5h1M347 16.5h2M358 16.5h1M363 16.5h1M369 16.5h1M14 17.5h1M22 17.5h1M33 17.5h2M36 17.5h1M52 17.5h1M58 17.5h2M62 17.5h1M65 17.5h1M72 17.5h1M74 17.5h1M79 17.5h1M115 17.5h1M125 17.5h1M130 17.5h1M136 17.5h1M139 17.5h1M143 17.5h1M147 17.5h1M162 17.5h1M170 17.5h1M178 17.5h1M182 17.5h2M196 17.5h1M201 17.5h1M206 17.5h1M208 17.5h1M211 17.5h1M216 17.5h1M218 17.5h1M220 17.5h2M227 17.5h2M232 17.5h1M235 17.5h2M255 17.5h1M262 17.5h1M271 17.5h1M294 17.5h1M296 17.5h1M298 17.5h1M305 17.5h1M307 17.5h1M326 17.5h1M333 17.5h2M339 17.5h1M359 17.5h1M362 17.5h1M369 17.5h1M23 18.5h2M27 18.5h1M31 18.5h1M41 18.5h1M82 18.5h1M97 18.5h1M103 18.5h1M106 18.5h1M114 18.5h2M118 18.5h1M141 18.5h1M165 18.5h1M182 18.5h1M211 18.5h2M214 18.5h1M218 18.5h1M228 18.5h1M242 18.5h1M247 18.5h1M264 18.5h1M266 18.5h2M270 18.5h1M285 18.5h1M287 18.5h1M296 18.5h1M302 18.5h1M311 18.5h1M321 18.5h1M360 18.5h1M362 18.5h1M367 18.5h1M369 18.5h1M13 19.5h1M17 19.5h1M40 19.5h1M46 19.5h1M61 19.5h1M70 19.5h1M77 19.5h1M81 19.5h1M91 19.5h1M113 19.5h1M121 19.5h1M143 19.5h1M159 19.5h1M167 19.5h1M172 19.5h1M186 19.5h1M212 19.5h5M219 19.5h2M231 19.5h1M245 19.5h1M256 19.5h1M266 19.5h1M268 19.5h2M275 19.5h1M281 19.5h1M285 19.5h1M295 19.5h1M316 19.5h1M322 19.5h1M330 19.5h1M334 19.5h1M338 19.5h1M347 19.5h1M351 19.5h1M366 19.5h1M13 20.5h1M20 20.5h1M24 20.5h1M27 20.5h1M45 20.5h1M55 20.5h1M67 20.5h1M76 20.5h1M84 20.5h1M93 20.5h1M103 20.5h2M118 20.5h2M128 20.5h1M133 20.5h1M135 20.5h1M140 20.5h1M170 20.5h1M196 20.5h1M210 20.5h1M225 20.5h1M233 20.5h1M237 20.5h1M273 20.5h1M276 20.5h1M285 20.5h1M290 20.5h1M298 20.5h1M311 20.5h1M321 20.5h2M324 20.5h1M339 20.5h2M356 20.5h1M360 20.5h1M367 20.5h2M0 21.5h2M27 21.5h1M32 21.5h1M40 21.5h1M42 21.5h1M48 21.5h1M53 21.5h1M59 21.5h1M62 21.5h1M66 21.5h1M73 21.5h1M81 21.5h1M88 21.5h1M95 21.5h1M104 21.5h1M112 21.5h1M119 21.5h1M124 21.5h1M126 21.5h2M135 21.5h1M163 21.5h1M173 21.5h1M179 21.5h2M189 21.5h1M203 21.5h1M208 21.5h1M214 21.5h1M222 21.5h1M225 21.5h1M228 21.5h1M232 21.5h1M248 21.5h1M253 21.5h1M269 21.5h1M276 21.5h1M280 21.5h1M284 21.5h1M289 21.5h1M291 21.5h1M295 21.5h1M323 21.5h2M348 21.5h1M351 21.5h1M361 21.5h1M364 21.5h1M7 22.5h1M11 22.5h2M25 22.5h2M34 22.5h1M37 22.5h1M45 22.5h1M61 22.5h1M74 22.5h1M86 22.5h1M90 22.5h1M93 22.5h1M99 22.5h1M101 22.5h1M109 22.5h1M113 22.5h1M122 22.5h1M124 22.5h1M128 22.5h2M135 22.5h1M137 22.5h1M154 22.5h1M157 22.5h1M168 22.5h1M196 22.5h2M229 22.5h1M237 22.5h1M265 22.5h1M269 22.5h1M271 22.5h1M282 22.5h1M292 22.5h1M305 22.5h1M308 22.5h1M311 22.5h1M316 22.5h1M337 22.5h1M341 22.5h1M353 22.5h1M358 22.5h2M362 22.5h1M365 22.5h1M13 23.5h2M35 23.5h2M39 23.5h1M52 23.5h1M55 23.5h1M61 23.5h1M63 23.5h1M73 23.5h1M77 23.5h1M82 23.5h2M91 23.5h1M115 23.5h1M118 23.5h2M126 23.5h1M129 23.5h1M135 23.5h1M151 23.5h1M157 23.5h1M168 23.5h1M178 23.5h1M193 23.5h1M207 23.5h1M221 23.5h1M223 23.5h2M230 23.5h1M232 23.5h2M237 23.5h1M251 23.5h1M254 23.5h2M259 23.5h1M270 23.5h1M283 23.5h1M291 23.5h1M306 23.5h1M316 23.5h2M351 23.5h1M357 23.5h1M360 23.5h1M363 23.5h1M13 24.5h1M26 24.5h1M35 24.5h1M45 24.5h1M52 24.5h1M55 24.5h1M61 24.5h2M66 24.5h1M68 24.5h1M71 24.5h1M87 24.5h1M99 24.5h1M107 24.5h1M109 24.5h1M122 24.5h1M126 24.5h2M133 24.5h2M136 24.5h2M143 24.5h1M162 24.5h1M168 24.5h1M173 24.5h1M183 24.5h1M190 24.5h1M196 24.5h1M202 24.5h1M204 24.5h1M208 24.5h3M218 24.5h1M224 24.5h1M228 24.5h1M232 24.5h1M234 24.5h1M238 24.5h1M248 24.5h1M259 24.5h1M262 24.5h1M265 24.5h1M273 24.5h1M275 24.5h1M277 24.5h2M291 24.5h1M293 24.5h1M299 24.5h2M312 24.5h1M314 24.5h1M320 24.5h1M334 24.5h1M345 24.5h1M350 24.5h1M352 24.5h1M354 24.5h3M358 24.5h2M363 24.5h1M7 25.5h1M28 25.5h1M53 25.5h1M58 25.5h1M63 25.5h1M88 25.5h1M101 25.5h1M106 25.5h1M115 25.5h1M120 25.5h2M128 25.5h1M136 25.5h1M142 25.5h1M145 25.5h1M151 25.5h1M163 25.5h1M183 25.5h1M200 25.5h1M216 25.5h1M221 25.5h1M251 25.5h2M254 25.5h1M257 25.5h1M261 25.5h1M270 25.5h1M276 25.5h1M280 25.5h1M284 25.5h1M316 25.5h1M340 25.5h1M355 25.5h1M364 25.5h1M11 26.5h1M17 26.5h1M22 26.5h1M24 26.5h1M27 26.5h1M30 26.5h1M40 26.5h1M45 26.5h1M72 26.5h1M77 26.5h1M82 26.5h1M98 26.5h1M103 26.5h1M106 26.5h1M117 26.5h1M148 26.5h1M163 26.5h1M178 26.5h1M183 26.5h1M188 26.5h1M195 26.5h1M207 26.5h1M228 26.5h1M234 26.5h1M236 26.5h1M252 26.5h1M285 26.5h1M287 26.5h1M308 26.5h1M315 26.5h1M319 26.5h1M352 26.5h1M355 26.5h1M363 26.5h1M22 28.5h1M63 28.5h1M68 28.5h1M84 28.5h1M119 28.5h1M123 28.5h1M136 28.5h1M162 28.5h1M176 28.5h1M190 28.5h1M202 28.5h1M220 28.5h1M235 28.5h1M280 28.5h1M307 28.5h1M331 28.5h1M339 28.5h1M347 28.5h1M3 30.5h1M8 30.5h1M13 30.5h1M17 30.5h1M19 30.5h1M33 30.5h1M37 30.5h1M41 30.5h1M49 30.5h2M61 30.5h2M66 30.5h1M69 30.5h2M77 30.5h1M83 30.5h1M86 30.5h1M88 30.5h1M93 30.5h2M100 30.5h2M141 30.5h1M150 30.5h1M152 30.5h1M159 30.5h1M167 30.5h1M172 30.5h1M188 30.5h1M201 30.5h1M203 30.5h1M209 30.5h1M211 30.5h1M213 30.5h1M230 30.5h1M237 30.5h1M249 30.5h1M252 30.5h1M257 30.5h1M263 30.5h1M266 30.5h1M268 30.5h3M274 30.5h1M280 30.5h1M283 30.5h1M292 30.5h1M295 30.5h1M300 30.5h1M307 30.5h3M312 30.5h1M317 30.5h1M323 30.5h1M343 30.5h1M351 30.5h1M353 30.5h1M357 30.5h1M359 30.5h1M363 30.5h1M369 30.5h1M29 35.5h1M168 35.5h1M177 35.5h1M235 35.5h1M252 35.5h1M283 35.5h1M302 35.5h1M327 35.5h1M343 35.5h1M355 35.5h2M367 35.5h1M47 36.5h1M75 36.5h1M82 36.5h1M132 36.5h1M242 36.5h1M303 36.5h1M355 36.5h1M15 37.5h1M22 37.5h2M33 37.5h1M45 37.5h1M53 37.5h1M72 37.5h1M78 37.5h1M90 37.5h1M98 37.5h1M107 37.5h1M118 37.5h2M124 37.5h1M127 37.5h1M132 37.5h3M138 37.5h1M152 37.5h1M168 37.5h1M171 37.5h1M186 37.5h1M207 37.5h1M219 37.5h1M221 37.5h1M223 37.5h1M241 37.5h1M268 37.5h1M282 37.5h1M291 37.5h1M321 37.5h1M338 37.5h1M350 37.5h1M363 37.5h1"/>
<path stroke="#bdcbe5" d="M45 0.5h1M117 0.5h1M162 0.5h1M201 0.5h1M212 0.5h1M234 0.5h1M246 0.5h1M248 0.5h1M269 0.5h1M281 0.5h1M320 0.5h1M333 0.5h1M354 0.5h1M28 1.5h1M209 1.5h1M219 1.5h1M244 1.5h1M275 1.5h1M312 1.5h1M355 1.5h1M10 2.5h1M23 2.5h1M35 2.5h1M43 2.5h1M65 2.5h1M105 2.5h1M116 2.5h1M120 2.5h1M146 2.5h1M163 2.5h1M199 2.5h1M213 2.5h1M236 2.5h1M274 2.5h1M277 2.5h1M286 2.5h1M293 2.5h1M306 2.5h1M319 2.5h1M337 2.5h1M14 3.5h1M18 3.5h1M60 3.5h1M74 3.5h1M191 3.5h1M197 3.5h1M203 3.5h1M263 3.5h1M266 3.5h1M282 3.5h1M334 3.5h1M2 4.5h1M63 4.5h1M90 4.5h1M96 4.5h2M113 4.5h1M147 4.5h1M208 4.5h1M213 4.5h1M229 4.5h1M298 4.5h1M328 4.5h1M333 4.5h2M357 4.5h1M28 5.5h1M30 5.5h1M33 5.5h1M95 5.5h1M120 5.5h1M126 5.5h1M132 5.5h1M195 5.5h1M205 5.5h1M243 5.5h1M249 5.5h1M342 5.5h1M0 6.5h1M9 6.5h1M23 6.5h1M80 6.5h1M121 6.5h1M145 6.5h1M180 6.5h1M196 6.5h1M224 6.5h1M242 6.5h1M329 6.5h1M353 6.5h1M356 6.5h1M6 7.5h1M98 7.5h1M129 7.5h1M136 7.5h1M158 7.5h1M162 7.5h1M169 7.5h1M202 7.5h1M209 7.5h1M214 7.5h1M222 7.5h1M266 7.5h1M304 7.5h1M368 7.5h1M0 8.5h1M7 8.5h1M132 8.5h1M178 8.5h1M180 8.5h1M207 8.5h1M216 8.5h1M218 8.5h1M242 8.5h2M317 8.5h1M326 8.5h2M347 8.5h1M9 9.5h1M13 9.5h1M79 9.5h1M126 9.5h1M139 9.5h1M160 9.5h2M163 9.5h1M181 9.5h1M216 9.5h1M242 9.5h1M303 9.5h1M320 9.5h1M329 9.5h1M11 10.5h1M65 10.5h1M115 10.5h2M167 10.5h1M170 10.5h1M200 10.5h1M232 10.5h2M261 10.5h1M265 10.5h1M272 10.5h1M290 10.5h1M16 11.5h1M199 11.5h1M206 11.5h1M225 11.5h1M230 11.5h1M262 11.5h1M266 11.5h1M276 11.5h1M278 11.5h1M288 11.5h1M295 11.5h1M345 11.5h1M357 11.5h1M11 12.5h1M29 12.5h1M63 12.5h1M143 12.5h1M160 12.5h1M193 12.5h1M209 12.5h1M219 12.5h1M233 12.5h1M288 12.5h1M319 12.5h1M364 12.5h1M31 13.5h1M72 13.5h1M75 13.5h1M77 13.5h1M88 13.5h1M117 13.5h1M129 13.5h1M131 13.5h1M145 13.5h1M169 13.5h1M172 13.5h1M182 13.5h1M191 13.5h1M194 13.5h1M204 13.5h1M223 13.5h1M226 13.5h1M244 13.5h1M265 13.5h1M270 13.5h1M291 13.5h1M311 13.5h1M359 13.5h1M7 14.5h1M23 14.5h1M37 14.5h1M49 14.5h1M62 14.5h1M64 14.5h1M66 14.5h1M98 14.5h1M104 14.5h1M106 14.5h1M154 14.5h1M162 14.5h1M181 14.5h1M188 14.5h1M210 14.5h1M219 14.5h1M223 14.5h1M232 14.5h1M247 14.5h1M264 14.5h2M281 14.5h1M284 14.5h1M303 14.5h1M307 14.5h1M324 14.5h1M333 14.5h2M336 14.5h1M338 14.5h1M357 14.5h3M361 14.5h1M0 15.5h1M18 15.5h1M21 15.5h2M34 15.5h2M38 15.5h2M51 15.5h1M63 15.5h2M70 15.5h1M79 15.5h1M86 15.5h1M88 15.5h1M90 15.5h1M95 15.5h1M103 15.5h2M109 15.5h1M112 15.5h1M114 15.5h1M118 15.5h1M133 15.5h1M140 15.5h1M155 15.5h1M159 15.5h1M184 15.5h1M209 15.5h1M213 15.5h1M243 15.5h1M252 15.5h1M263 15.5h1M267 15.5h1M272 15.5h1M275 15.5h1M286 15.5h1M304 15.5h2M307 15.5h1M314 15.5h1M318 15.5h1M321 15.5h1M331 15.5h1M341 15.5h1M353 15.5h1M360 15.5h1M4 16.5h1M12 16.5h1M24 16.5h1M39 16.5h2M48 16.5h2M51 16.5h2M58 16.5h1M62 16.5h1M69 16.5h1M79 16.5h1M86 16.5h1M98 16.5h1M104 16.5h1M107 16.5h1M110 16.5h1M133 16.5h1M141 16.5h1M155 16.5h1M172 16.5h1M191 16.5h1M204 16.5h1M212 16.5h1M221 16.5h1M230 16.5h1M234 16.5h1M236 16.5h1M266 16.5h1M271 16.5h1M273 16.5h1M276 16.5h1M289 16.5h1M292 16.5h1M294 16.5h1M320 16.5h1M323 16.5h1M336 16.5h1M339 16.5h1M2 17.5h1M11 17.5h2M49 17.5h1M63 17.5h1M78 17.5h1M85 17.5h1M91 17.5h1M103 17.5h1M105 17.5h1M110 17.5h1M117 17.5h1M119 17.5h2M124 17.5h1M128 17.5h1M134 17.5h1M144 17.5h1M148 17.5h2M154 17.5h1M156 17.5h1M173 17.5h1M177 17.5h1M180 17.5h1M193 17.5h1M200 17.5h1M207 17.5h1M212 17.5h1M237 17.5h1M246 17.5h1M252 17.5h2M257 17.5h1M267 17.5h3M279 17.5h1M288 17.5h1M352 17.5h1M361 17.5h1M12 18.5h3M34 18.5h1M45 18.5h1M71 18.5h1M78 18.5h2M89 18.5h1M105 18.5h1M107 18.5h1M112 18.5h1M119 18.5h1M123 18.5h1M127 18.5h1M132 18.5h1M134 18.5h1M157 18.5h1M174 18.5h1M199 18.5h1M202 18.5h1M217 18.5h1M223 18.5h1M229 18.5h1M245 18.5h2M253 18.5h1M256 18.5h1M258 18.5h1M271 18.5h1M278 18.5h1M286 18.5h1M292 18.5h1M294 18.5h1M299 18.5h1M307 18.5h1M314 18.5h1M317 18.5h1M331 18.5h1M334 18.5h3M340 18.5h1M346 18.5h1M363 18.5h1M15 19.5h1M19 19.5h1M31 19.5h1M49 19.5h1M55 19.5h1M78 19.5h1M82 19.5h2M104 19.5h1M125 19.5h1M141 19.5h1M148 19.5h1M163 19.5h1M171 19.5h1M173 19.5h2M176 19.5h1M183 19.5h2M203 19.5h1M206 19.5h1M208 19.5h1M233 19.5h1M258 19.5h1M263 19.5h1M267 19.5h1M271 19.5h1M283 19.5h2M292 19.5h1M309 19.5h1M314 19.5h1M319 19.5h3M324 19.5h1M327 19.5h1M333 19.5h1M335 19.5h1M339 19.5h1M343 19.5h1M348 19.5h1M359 19.5h1M364 19.5h2M21 20.5h1M30 20.5h1M40 20.5h1M48 20.5h1M51 20.5h1M58 20.5h2M64 20.5h1M71 20.5h1M79 20.5h2M99 20.5h1M106 20.5h1M113 20.5h1M127 20.5h1M129 20.5h1M201 20.5h1M231 20.5h1M235 20.5h1M246 20.5h1M258 20.5h1M260 20.5h1M262 20.5h2M265 20.5h1M277 20.5h1M292 20.5h1M313 20.5h2M318 20.5h1M336 20.5h1M341 20.5h1M362 20.5h1M365 20.5h1M5 21.5h1M9 21.5h1M31 21.5h1M36 21.5h1M56 21.5h1M58 21.5h1M60 21.5h2M65 21.5h1M67 21.5h1M70 21.5h3M82 21.5h1M91 21.5h1M99 21.5h1M105 21.5h2M110 21.5h1M115 21.5h1M122 21.5h1M130 21.5h1M150 21.5h3M171 21.5h1M205 21.5h1M213 21.5h1M226 21.5h1M254 21.5h2M260 21.5h1M273 21.5h1M275 21.5h1M298 21.5h1M305 21.5h1M313 21.5h1M317 21.5h1M329 21.5h3M335 21.5h1M338 21.5h1M356 21.5h1M359 21.5h1M367 21.5h1M2 22.5h1M13 22.5h3M46 22.5h1M57 22.5h1M62 22.5h1M70 22.5h1M94 22.5h2M102 22.5h1M105 22.5h1M114 22.5h1M127 22.5h1M151 22.5h1M166 22.5h1M179 22.5h1M185 22.5h1M191 22.5h1M213 22.5h1M219 22.5h1M235 22.5h1M241 22.5h1M250 22.5h1M284 22.5h1M286 22.5h1M298 22.5h2M313 22.5h1M320 22.5h1M324 22.5h1M327 22.5h1M331 22.5h1M340 22.5h1M343 22.5h1M346 22.5h1M361 22.5h1M364 22.5h1M368 22.5h1M8 23.5h1M27 23.5h1M30 23.5h2M38 23.5h1M42 23.5h1M48 23.5h1M70 23.5h1M75 23.5h1M85 23.5h1M89 23.5h1M94 23.5h1M96 23.5h1M99 23.5h1M101 23.5h1M107 23.5h1M133 23.5h1M141 23.5h1M166 23.5h1M170 23.5h2M174 23.5h1M183 23.5h1M185 23.5h1M190 23.5h1M194 23.5h1M196 23.5h1M212 23.5h1M214 23.5h1M220 23.5h1M241 23.5h2M262 23.5h1M272 23.5h1M274 23.5h1M285 23.5h1M289 23.5h1M312 23.5h1M359 23.5h1M364 23.5h1M0 24.5h1M7 24.5h1M17 24.5h1M22 24.5h1M38 24.5h2M51 24.5h1M63 24.5h1M70 24.5h1M84 24.5h1M93 24.5h1M98 24.5h1M110 24.5h1M113 24.5h1M115 24.5h1M117 24.5h1M119 24.5h1M121 24.5h1M129 24.5h1M142 24.5h1M152 24.5h1M154 24.5h1M163 24.5h1M170 24.5h1M175 24.5h1M179 24.5h1M182 24.5h1M201 24.5h1M207 24.5h1M213 24.5h2M220 24.5h1M231 24.5h1M241 24.5h1M243 24.5h1M246 24.5h1M252 24.5h1M269 24.5h1M272 24.5h1M281 24.5h1M288 24.5h1M301 24.5h1M304 24.5h2M322 24.5h1M328 24.5h1M339 24.5h1M343 24.5h2M347 24.5h1M362 24.5h1M367 24.5h1M3 25.5h1M14 25.5h1M22 25.5h1M29 25.5h1M33 25.5h1M47 25.5h1M54 25.5h1M57 25.5h1M71 25.5h1M99 25.5h1M104 25.5h1M109 25.5h1M123 25.5h1M129 25.5h1M143 25.5h1M150 25.5h1M165 25.5h1M191 25.5h1M193 25.5h1M205 25.5h1M213 25.5h1M219 25.5h1M233 25.5h3M237 25.5h1M241 25.5h3M249 25.5h1M258 25.5h1M260 25.5h1M263 25.5h1M275 25.5h1M281 25.5h1M289 25.5h1M293 25.5h1M299 25.5h2M307 25.5h1M311 25.5h2M314 25.5h1M317 25.5h1M320 25.5h1M327 25.5h1M344 25.5h1M351 25.5h1M354 25.5h1M362 25.5h2M1 26.5h4M6 26.5h2M10 26.5h1M12 26.5h3M19 26.5h1M23 26.5h1M28 26.5h2M31 26.5h1M33 26.5h3M37 26.5h3M44 26.5h1M48 26.5h2M51 26.5h1M54 26.5h1M56 26.5h11M69 26.5h3M73 26.5h1M79 26.5h1M84 26.5h4M89 26.5h1M92 26.5h1M94 26.5h3M100 26.5h1M102 26.5h1M104 26.5h2M109 26.5h1M112 26.5h3M118 26.5h6M126 26.5h5M132 26.5h1M136 26.5h1M138 26.5h5M144 26.5h4M150 26.5h1M152 26.5h1M154 26.5h2M158 26.5h1M160 26.5h2M165 26.5h1M170 26.5h2M174 26.5h3M180 26.5h1M182 26.5h1M186 26.5h2M191 26.5h1M196 26.5h1M199 26.5h5M205 26.5h2M208 26.5h2M211 26.5h2M214 26.5h1M216 26.5h4M222 26.5h1M224 26.5h3M229 26.5h4M238 26.5h1M243 26.5h1M248 26.5h2M253 26.5h4M259 26.5h1M263 26.5h1M265 26.5h1M269 26.5h1M271 26.5h7M282 26.5h3M289 26.5h6M296 26.5h3M303 26.5h2M307 26.5h1M311 26.5h2M318 26.5h1M321 26.5h3M326 26.5h2M329 26.5h2M332 26.5h1M334 26.5h5M341 26.5h1M344 26.5h3M349 26.5h3M353 26.5h1M356 26.5h3M361 26.5h1M366 26.5h3M0 28.5h2M3 28.5h2M7 28.5h1M9 28.5h2M12 28.5h3M23 28.5h1M26 28.5h1M30 28.5h10M45 28.5h1M52 28.5h1M56 28.5h2M59 28.5h1M64 28.5h3M69 28.5h1M72 28.5h1M74 28.5h1M77 28.5h3M81 28.5h1M85 28.5h2M92 28.5h1M94 28.5h1M96 28.5h2M101 28.5h7M112 28.5h2M116 28.5h1M128 28.5h2M134 28.5h2M140 28.5h2M144 28.5h2M151 28.5h1M154 28.5h1M159 28.5h1M161 28.5h1M165 28.5h1M168 28.5h1M170 28.5h2M174 28.5h1M178 28.5h1M180 28.5h1M183 28.5h1M185 28.5h1M188 28.5h2M191 28.5h1M193 28.5h1M198 28.5h3M203 28.5h1M206 28.5h3M214 28.5h4M219 28.5h1M224 28.5h1M230 28.5h1M232 28.5h3M236 28.5h3M244 28.5h1M248 28.5h1M250 28.5h3M257 28.5h1M260 28.5h2M263 28.5h2M269 28.5h2M272 28.5h1M274 28.5h1M279 28.5h1M282 28.5h2M286 28.5h2M291 28.5h3M296 28.5h2M300 28.5h1M303 28.5h3M308 28.5h2M311 28.5h5M317 28.5h2M320 28.5h1M323 28.5h1M326 28.5h2M329 28.5h2M333 28.5h2M336 28.5h1M338 28.5h1M341 28.5h2M346 28.5h1M348 28.5h1M352 28.5h8M362 28.5h1M364 28.5h4M369 28.5h1M6 30.5h2M11 30.5h1M22 30.5h1M24 30.5h1M26 30.5h1M28 30.5h3M34 30.5h1M40 30.5h1M44 30.5h1M48 30.5h1M51 30.5h1M54 30.5h1M58 30.5h1M60 30.5h1M71 30.5h2M74 30.5h1M78 30.5h1M87 30.5h1M90 30.5h1M97 30.5h3M102 30.5h1M105 30.5h1M109 30.5h1M114 30.5h1M119 30.5h1M121 30.5h1M124 30.5h2M132 30.5h2M142 30.5h2M145 30.5h2M149 30.5h1M151 30.5h1M174 30.5h1M176 30.5h1M180 30.5h1M186 30.5h1M189 30.5h1M196 30.5h1M198 30.5h1M200 30.5h1M202 30.5h1M208 30.5h1M212 30.5h1M217 30.5h2M224 30.5h1M233 30.5h1M235 30.5h1M241 30.5h1M258 30.5h3M264 30.5h1M271 30.5h1M275 30.5h2M287 30.5h1M289 30.5h1M291 30.5h1M294 30.5h1M296 30.5h1M305 30.5h1M311 30.5h1M314 30.5h1M316 30.5h1M321 30.5h2M326 30.5h2M329 30.5h3M335 30.5h1M352 30.5h1M356 30.5h1M358 30.5h1M361 30.5h1M365 30.5h2M1 31.5h3M6 31.5h1M8 31.5h1M10 31.5h1M14 31.5h2M17 31.5h1M19 31.5h2M22 31.5h5M30 31.5h1M32 31.5h4M37 31.5h2M40 31.5h1M44 31.5h3M48 31.5h2M51 31.5h3M55 31.5h4M60 31.5h1M62 31.5h1M64 31.5h5M70 31.5h1M72 31.5h2M77 31.5h3M82 31.5h1M84 31.5h2M87 31.5h1M89 31.5h1M91 31.5h2M94 31.5h2M97 31.5h1M103 31.5h1M106 31.5h1M109 31.5h2M113 31.5h3M117 31.5h1M119 31.5h1M121 31.5h1M123 31.5h1M125 31.5h1M127 31.5h3M132 31.5h12M145 31.5h1M148 31.5h2M152 31.5h1M154 31.5h1M156 31.5h2M159 31.5h1M161 31.5h3M167 31.5h1M169 31.5h1M171 31.5h3M175 31.5h4M180 31.5h3M184 31.5h3M188 31.5h1M190 31.5h4M195 31.5h3M200 31.5h4M205 31.5h1M208 31.5h4M213 31.5h1M215 31.5h5M225 31.5h2M228 31.5h2M231 31.5h8M240 31.5h5M246 31.5h2M250 31.5h4M258 31.5h4M263 31.5h6M270 31.5h3M274 31.5h4M282 31.5h3M286 31.5h1M290 31.5h2M293 31.5h1M295 31.5h4M301 31.5h2M305 31.5h3M309 31.5h1M312 31.5h1M314 31.5h3M318 31.5h1M321 31.5h5M327 31.5h1M329 31.5h3M333 31.5h1M335 31.5h2M338 31.5h2M342 31.5h1M344 31.5h1M346 31.5h4M351 31.5h3M356 31.5h3M360 31.5h6M367 31.5h1M0 32.5h3M10 32.5h1M13 32.5h1M16 32.5h1M20 32.5h2M23 32.5h1M25 32.5h2M29 32.5h1M31 32.5h1M33 32.5h3M37 32.5h1M44 32.5h2M49 32.5h1M51 32.5h4M56 32.5h2M59 32.5h9M69 32.5h2M72 32.5h1M74 32.5h2M77 32.5h4M82 32.5h1M84 32.5h1M86 32.5h6M94 32.5h6M102 32.5h3M106 32.5h2M110 32.5h1M113 32.5h1M119 32.5h1M122 32.5h2M126 32.5h2M130 32.5h5M137 32.5h3M141 32.5h2M144 32.5h2M149 32.5h4M154 32.5h1M157 32.5h1M160 32.5h2M163 32.5h1M165 32.5h2M168 32.5h1M170 32.5h1M174 32.5h2M177 32.5h4M182 32.5h2M185 32.5h1M188 32.5h1M190 32.5h2M197 32.5h2M202 32.5h1M206 32.5h2M210 32.5h2M213 32.5h4M218 32.5h4M223 32.5h1M225 32.5h2M228 32.5h2M231 32.5h1M233 32.5h1M238 32.5h1M241 32.5h2M244 32.5h1M247 32.5h1M252 32.5h2M255 32.5h2M259 32.5h1M262 32.5h3M268 32.5h2M271 32.5h3M277 32.5h1M279 32.5h2M283 32.5h4M288 32.5h2M293 32.5h1M295 32.5h3M300 32.5h4M305 32.5h2M308 32.5h2M311 32.5h3M316 32.5h2M320 32.5h1M322 32.5h6M331 32.5h1M333 32.5h2M336 32.5h6M345 32.5h6M352 32.5h2M355 32.5h1M358 32.5h2M363 32.5h3M368 32.5h1M1 33.5h3M5 33.5h1M7 33.5h1M9 33.5h1M12 33.5h5M18 33.5h3M23 33.5h1M27 33.5h1M29 33.5h9M40 33.5h1M42 33.5h1M44 33.5h3M48 33.5h1M50 33.5h1M53 33.5h1M58 33.5h5M64 33.5h2M70 33.5h2M73 33.5h2M76 33.5h3M81 33.5h2M84 33.5h1M86 33.5h1M88 33.5h3M94 33.5h1M96 33.5h1M98 33.5h1M102 33.5h1M104 33.5h1M106 33.5h2M109 33.5h1M112 33.5h2M117 33.5h1M119 33.5h1M121 33.5h1M123 33.5h1M125 33.5h6M133 33.5h4M138 33.5h9M148 33.5h3M152 33.5h6M159 33.5h1M161 33.5h1M165 33.5h1M168 33.5h1M170 33.5h2M173 33.5h1M175 33.5h3M179 33.5h2M183 33.5h1M185 33.5h2M188 33.5h1M190 33.5h2M193 33.5h1M196 33.5h2M199 33.5h5M206 33.5h5M212 33.5h1M216 33.5h1M218 33.5h4M224 33.5h1M228 33.5h4M233 33.5h3M237 33.5h2M241 33.5h1M244 33.5h1M246 33.5h2M249 33.5h1M252 33.5h5M258 33.5h3M262 33.5h8M272 33.5h3M277 33.5h1M279 33.5h1M281 33.5h4M287 33.5h1M290 33.5h6M297 33.5h1M299 33.5h2M303 33.5h5M310 33.5h2M313 33.5h3M319 33.5h9M329 33.5h3M333 33.5h6M340 33.5h3M346 33.5h1M348 33.5h3M352 33.5h1M354 33.5h1M356 33.5h4M361 33.5h3M366 33.5h4M0 34.5h1M3 34.5h3M9 34.5h2M12 34.5h3M17 34.5h1M20 34.5h8M30 34.5h2M34 34.5h2M39 34.5h2M43 34.5h2M48 34.5h1M51 34.5h1M53 34.5h2M56 34.5h1M58 34.5h3M63 34.5h5M69 34.5h1M71 34.5h2M77 34.5h3M82 34.5h1M84 34.5h1M86 34.5h2M89 34.5h3M93 34.5h2M96 34.5h4M104 34.5h4M109 34.5h2M112 34.5h1M115 34.5h1M118 34.5h3M122 34.5h4M127 34.5h3M132 34.5h1M135 34.5h3M139 34.5h4M144 34.5h1M147 34.5h1M149 34.5h3M154 34.5h2M158 34.5h7M168 34.5h2M171 34.5h3M177 34.5h2M180 34.5h4M188 34.5h4M193 34.5h2M196 34.5h1M198 34.5h2M201 34.5h3M205 34.5h1M208 34.5h5M215 34.5h1M217 34.5h4M224 34.5h1M227 34.5h9M237 34.5h2M246 34.5h2M251 34.5h6M259 34.5h1M262 34.5h3M266 34.5h5M273 34.5h2M276 34.5h2M282 34.5h1M284 34.5h1M289 34.5h1M291 34.5h2M294 34.5h1M296 34.5h9M306 34.5h1M309 34.5h1M311 34.5h1M314 34.5h1M318 34.5h1M323 34.5h2M326 34.5h2M329 34.5h2M332 34.5h3M337 34.5h5M343 34.5h2M346 34.5h1M350 34.5h3M356 34.5h2M359 34.5h1M362 34.5h2M365 34.5h2M369 34.5h1M1 35.5h2M4 35.5h1M7 35.5h1M9 35.5h2M12 35.5h3M16 35.5h1M20 35.5h1M22 35.5h2M26 35.5h1M28 35.5h1M30 35.5h1M32 35.5h2M36 35.5h2M39 35.5h2M45 35.5h2M48 35.5h1M50 35.5h1M54 35.5h1M56 35.5h2M62 35.5h2M67 35.5h2M71 35.5h4M77 35.5h4M82 35.5h1M84 35.5h2M89 35.5h3M93 35.5h1M95 35.5h3M100 35.5h2M103 35.5h2M107 35.5h3M113 35.5h1M117 35.5h2M123 35.5h2M126 35.5h4M133 35.5h3M137 35.5h2M140 35.5h1M142 35.5h1M144 35.5h1M146 35.5h2M151 35.5h1M153 35.5h1M155 35.5h1M157 35.5h1M159 35.5h5M165 35.5h1M167 35.5h1M171 35.5h1M173 35.5h4M178 35.5h1M182 35.5h4M188 35.5h1M190 35.5h2M193 35.5h1M196 35.5h1M199 35.5h2M205 35.5h5M212 35.5h1M214 35.5h2M217 35.5h3M221 35.5h2M224 35.5h2M228 35.5h3M232 35.5h1M236 35.5h1M238 35.5h1M241 35.5h3M246 35.5h3M251 35.5h1M253 35.5h1M255 35.5h1M257 35.5h1M261 35.5h1M263 35.5h8M275 35.5h5M282 35.5h1M284 35.5h3M288 35.5h1M290 35.5h4M298 35.5h4M307 35.5h1M309 35.5h1M311 35.5h5M318 35.5h1M320 35.5h1M322 35.5h2M330 35.5h2M336 35.5h3M340 35.5h2M349 35.5h5M358 35.5h1M361 35.5h3M365 35.5h2M368 35.5h1M0 36.5h2M9 36.5h1M13 36.5h2M16 36.5h2M19 36.5h1M21 36.5h4M27 36.5h4M33 36.5h3M37 36.5h1M39 36.5h1M42 36.5h1M44 36.5h1M46 36.5h1M48 36.5h1M51 36.5h2M54 36.5h1M60 36.5h3M65 36.5h3M71 36.5h2M74 36.5h1M77 36.5h3M83 36.5h2M86 36.5h1M89 36.5h2M94 36.5h2M99 36.5h1M102 36.5h4M107 36.5h1M109 36.5h1M111 36.5h1M113 36.5h1M115 36.5h6M122 36.5h1M126 36.5h1M128 36.5h1M131 36.5h1M133 36.5h5M139 36.5h1M142 36.5h2M145 36.5h1M148 36.5h2M151 36.5h1M155 36.5h4M161 36.5h3M165 36.5h1M167 36.5h3M172 36.5h1M175 36.5h2M178 36.5h3M182 36.5h1M184 36.5h2M188 36.5h1M190 36.5h2M193 36.5h1M196 36.5h2M199 36.5h3M205 36.5h1M207 36.5h3M211 36.5h2M215 36.5h2M220 36.5h1M222 36.5h4M229 36.5h1M231 36.5h1M235 36.5h1M237 36.5h3M241 36.5h1M247 36.5h2M250 36.5h1M252 36.5h1M254 36.5h1M257 36.5h1M260 36.5h1M262 36.5h1M264 36.5h3M270 36.5h2M274 36.5h4M281 36.5h8M290 36.5h1M295 36.5h1M298 36.5h2M305 36.5h1M308 36.5h1M311 36.5h1M318 36.5h1M321 36.5h2M326 36.5h2M330 36.5h1M334 36.5h2M337 36.5h2M341 36.5h1M348 36.5h1M350 36.5h3M356 36.5h1M358 36.5h1M361 36.5h3M365 36.5h1M368 36.5h1M1 37.5h3M6 37.5h1M9 37.5h1M14 37.5h1M16 37.5h1M20 37.5h2M24 37.5h1M26 37.5h1M29 37.5h3M34 37.5h1M36 37.5h5M42 37.5h1M48 37.5h4M55 37.5h1M58 37.5h3M62 37.5h3M66 37.5h2M69 37.5h3M74 37.5h2M77 37.5h1M82 37.5h1M84 37.5h1M86 37.5h1M88 37.5h2M92 37.5h1M94 37.5h1M96 37.5h1M101 37.5h1M103 37.5h1M106 37.5h1M109 37.5h2M112 37.5h2M115 37.5h1M117 37.5h1M120 37.5h3M128 37.5h2M136 37.5h1M139 37.5h7M149 37.5h2M154 37.5h2M157 37.5h1M161 37.5h2M166 37.5h1M169 37.5h2M173 37.5h2M180 37.5h1M182 37.5h4M187 37.5h2M191 37.5h1M193 37.5h1M196 37.5h5M205 37.5h2M209 37.5h1M211 37.5h2M214 37.5h2M217 37.5h2M224 37.5h1M229 37.5h1M232 37.5h4M237 37.5h1M240 37.5h1M243 37.5h1M246 37.5h1M249 37.5h2M252 37.5h3M256 37.5h1M259 37.5h1M261 37.5h3M266 37.5h1M272 37.5h1M276 37.5h1M280 37.5h1M284 37.5h1M286 37.5h1M288 37.5h1M296 37.5h1M298 37.5h1M300 37.5h1M303 37.5h7M312 37.5h1M314 37.5h1M316 37.5h1M319 37.5h2M323 37.5h1M326 37.5h1M331 37.5h1M333 37.5h1M336 37.5h2M339 37.5h1M342 37.5h3M346 37.5h2M349 37.5h1M353 37.5h7M362 37.5h1M366 37.5h2"/>
<path stroke="#ced8ec" d="M19 0.5h1M30 0.5h1M46 0.5h1M144 0.5h1M157 0.5h1M170 0.5h1M174 0.5h1M185 0.5h1M204 0.5h1M233 0.5h1M290 0.5h1M314 0.5h1M350 0.5h1M358 0.5h1M1 1.5h1M10 1.5h1M43 1.5h3M71 1.5h1M73 1.5h1M106 1.5h1M116 1.5h1M151 1.5h1M163 1.5h1M180 1.5h1M188 1.5h1M201 1.5h1M236 1.5h1M251 1.5h1M267 1.5h1M304 1.5h1M320 1.5h1M364 1.5h1M9 2.5h1M20 2.5h1M38 2.5h1M58 2.5h1M72 2.5h1M102 2.5h1M123 2.5h1M147 2.5h1M156 2.5h1M158 2.5h1M171 2.5h1M176 2.5h1M239 2.5h1M244 2.5h1M249 2.5h2M256 2.5h1M270 2.5h1M272 2.5h1M288 2.5h1M290 2.5h1M358 2.5h1M78 3.5h1M127 3.5h1M141 3.5h1M163 3.5h1M208 3.5h1M214 3.5h1M217 3.5h2M255 3.5h1M257 3.5h1M280 3.5h1M342 3.5h1M12 4.5h1M27 4.5h1M60 4.5h1M109 4.5h1M167 4.5h1M173 4.5h1M185 4.5h1M227 4.5h1M232 4.5h1M265 4.5h1M268 4.5h1M311 4.5h1M365 4.5h1M35 5.5h1M42 5.5h1M79 5.5h1M86 5.5h1M122 5.5h1M144 5.5h1M164 5.5h1M209 5.5h1M214 5.5h1M216 5.5h2M233 5.5h1M322 5.5h1M355 5.5h1M368 5.5h2M11 6.5h1M18 6.5h1M35 6.5h1M42 6.5h1M55 6.5h1M109 6.5h1M138 6.5h1M154 6.5h1M170 6.5h1M172 6.5h1M182 6.5h1M200 6.5h1M243 6.5h1M258 6.5h1M269 6.5h1M274 6.5h1M19 7.5h1M61 7.5h1M137 7.5h1M153 7.5h1M198 7.5h1M245 7.5h1M250 7.5h1M339 7.5h1M32 8.5h1M44 8.5h1M126 8.5h1M149 8.5h1M179 8.5h1M184 8.5h2M200 8.5h1M203 8.5h1M286 8.5h1M315 8.5h1M351 8.5h1M366 8.5h1M46 9.5h1M76 9.5h1M80 9.5h1M95 9.5h1M123 9.5h1M134 9.5h1M143 9.5h1M203 9.5h1M232 9.5h1M241 9.5h1M259 9.5h1M262 9.5h1M327 9.5h1M367 9.5h1M15 10.5h1M90 10.5h1M104 10.5h1M161 10.5h1M164 10.5h1M166 10.5h1M215 10.5h1M222 10.5h1M236 10.5h1M243 10.5h1M245 10.5h1M253 10.5h1M287 10.5h1M325 10.5h1M327 10.5h1M338 10.5h1M49 11.5h1M93 11.5h1M109 11.5h1M151 11.5h3M171 11.5h1M251 11.5h1M256 11.5h1M286 11.5h2M307 11.5h1M311 11.5h1M338 11.5h1M364 11.5h1M9 12.5h1M59 12.5h1M79 12.5h2M83 12.5h1M90 12.5h1M107 12.5h1M117 12.5h1M136 12.5h1M144 12.5h1M152 12.5h1M168 12.5h1M184 12.5h1M205 12.5h1M241 12.5h1M253 12.5h1M279 12.5h1M334 12.5h1M337 12.5h1M356 12.5h1M361 12.5h1M42 13.5h1M47 13.5h2M108 13.5h1M113 13.5h1M115 13.5h1M139 13.5h1M174 13.5h1M185 13.5h1M220 13.5h1M239 13.5h1M258 13.5h1M272 13.5h1M280 13.5h1M290 13.5h1M306 13.5h1M313 13.5h1M338 13.5h1M26 14.5h1M29 14.5h1M39 14.5h1M70 14.5h1M78 14.5h1M82 14.5h1M101 14.5h2M107 14.5h2M110 14.5h1M113 14.5h1M123 14.5h1M132 14.5h2M140 14.5h1M157 14.5h1M165 14.5h1M180 14.5h1M183 14.5h1M189 14.5h1M224 14.5h1M235 14.5h2M268 14.5h2M272 14.5h1M275 14.5h1M287 14.5h1M312 14.5h1M314 14.5h1M328 14.5h1M346 14.5h1M355 14.5h2M363 14.5h1M10 15.5h2M25 15.5h1M30 15.5h1M53 15.5h1M60 15.5h1M75 15.5h1M123 15.5h1M144 15.5h1M161 15.5h1M176 15.5h1M182 15.5h1M190 15.5h1M206 15.5h1M235 15.5h1M242 15.5h1M254 15.5h1M258 15.5h1M260 15.5h1M285 15.5h1M311 15.5h1M316 15.5h1M329 15.5h1M332 15.5h1M337 15.5h1M363 15.5h1M369 15.5h1M2 16.5h1M13 16.5h1M26 16.5h1M60 16.5h2M72 16.5h1M75 16.5h1M95 16.5h1M100 16.5h1M112 16.5h1M115 16.5h1M117 16.5h1M124 16.5h1M161 16.5h1M171 16.5h1M173 16.5h2M177 16.5h1M182 16.5h1M193 16.5h2M202 16.5h1M205 16.5h1M225 16.5h1M233 16.5h1M242 16.5h1M261 16.5h1M269 16.5h1M295 16.5h1M297 16.5h1M301 16.5h1M311 16.5h1M316 16.5h1M330 16.5h1M356 16.5h1M359 16.5h1M9 17.5h1M55 17.5h1M82 17.5h1M89 17.5h2M104 17.5h1M106 17.5h1M118 17.5h1M121 17.5h1M150 17.5h1M179 17.5h1M190 17.5h2M199 17.5h1M249 17.5h1M292 17.5h1M309 17.5h1M311 17.5h2M321 17.5h1M335 17.5h1M337 17.5h1M353 17.5h1M358 17.5h1M364 17.5h1M42 18.5h1M53 18.5h1M57 18.5h2M101 18.5h1M109 18.5h1M128 18.5h2M155 18.5h2M160 18.5h1M176 18.5h1M185 18.5h1M188 18.5h1M196 18.5h2M207 18.5h1M216 18.5h1M219 18.5h1M221 18.5h1M225 18.5h1M230 18.5h1M233 18.5h2M241 18.5h1M248 18.5h1M265 18.5h1M273 18.5h3M281 18.5h1M293 18.5h1M298 18.5h1M323 18.5h2M347 18.5h1M350 18.5h2M356 18.5h1M358 18.5h1M1 19.5h1M22 19.5h1M37 19.5h1M51 19.5h1M53 19.5h2M58 19.5h1M67 19.5h1M73 19.5h1M96 19.5h2M119 19.5h2M122 19.5h1M133 19.5h1M135 19.5h1M150 19.5h1M155 19.5h1M162 19.5h1M207 19.5h1M210 19.5h1M217 19.5h1M224 19.5h1M230 19.5h1M254 19.5h1M259 19.5h1M270 19.5h1M276 19.5h1M282 19.5h1M341 19.5h1M369 19.5h1M1 20.5h1M7 20.5h1M38 20.5h1M46 20.5h1M53 20.5h2M62 20.5h1M78 20.5h1M87 20.5h1M95 20.5h1M105 20.5h1M120 20.5h1M130 20.5h1M139 20.5h1M191 20.5h1M229 20.5h1M275 20.5h1M281 20.5h1M306 20.5h1M316 20.5h1M337 20.5h1M342 20.5h1M6 21.5h1M13 21.5h1M64 21.5h1M69 21.5h1M77 21.5h2M113 21.5h1M133 21.5h1M138 21.5h2M143 21.5h1M146 21.5h1M154 21.5h1M172 21.5h1M186 21.5h1M190 21.5h1M200 21.5h1M206 21.5h2M212 21.5h1M230 21.5h1M234 21.5h1M246 21.5h2M252 21.5h1M256 21.5h1M258 21.5h2M274 21.5h1M281 21.5h1M303 21.5h2M311 21.5h1M321 21.5h1M355 21.5h1M369 21.5h1M0 22.5h1M3 22.5h1M24 22.5h1M30 22.5h1M39 22.5h1M41 22.5h1M54 22.5h1M65 22.5h1M68 22.5h1M76 22.5h1M96 22.5h1M104 22.5h1M120 22.5h1M133 22.5h1M140 22.5h2M143 22.5h1M152 22.5h1M161 22.5h1M169 22.5h2M176 22.5h1M180 22.5h1M188 22.5h1M199 22.5h1M202 22.5h2M208 22.5h2M220 22.5h1M225 22.5h2M234 22.5h1M242 22.5h1M252 22.5h1M261 22.5h1M264 22.5h1M267 22.5h1M273 22.5h2M279 22.5h1M285 22.5h1M300 22.5h1M304 22.5h1M312 22.5h1M314 22.5h1M321 22.5h1M323 22.5h1M326 22.5h1M330 22.5h1M332 22.5h1M336 22.5h1M338 22.5h1M347 22.5h1M356 22.5h1M18 23.5h1M21 23.5h1M33 23.5h1M44 23.5h1M46 23.5h1M53 23.5h1M79 23.5h1M98 23.5h1M112 23.5h2M152 23.5h1M156 23.5h1M162 23.5h1M176 23.5h1M179 23.5h1M200 23.5h1M208 23.5h1M231 23.5h1M253 23.5h1M286 23.5h1M295 23.5h1M301 23.5h1M305 23.5h1M307 23.5h1M314 23.5h1M321 23.5h1M323 23.5h1M336 23.5h1M346 23.5h1M350 23.5h1M356 23.5h1M358 23.5h1M1 24.5h1M10 24.5h1M14 24.5h1M30 24.5h2M36 24.5h1M53 24.5h2M65 24.5h1M67 24.5h1M74 24.5h1M77 24.5h1M86 24.5h1M96 24.5h1M104 24.5h1M124 24.5h1M139 24.5h1M141 24.5h1M145 24.5h1M155 24.5h1M157 24.5h1M171 24.5h1M205 24.5h1M219 24.5h1M223 24.5h1M229 24.5h1M249 24.5h1M263 24.5h1M270 24.5h1M285 24.5h1M290 24.5h1M303 24.5h1M330 24.5h1M336 24.5h1M341 24.5h1M348 24.5h1M353 24.5h1M369 24.5h1M1 25.5h1M5 25.5h1M12 25.5h1M26 25.5h1M36 25.5h1M44 25.5h2M69 25.5h1M84 25.5h1M90 25.5h1M92 25.5h1M95 25.5h1M103 25.5h1M110 25.5h1M134 25.5h1M146 25.5h1M174 25.5h1M178 25.5h1M181 25.5h1M199 25.5h1M206 25.5h1M211 25.5h1M224 25.5h1M232 25.5h1M245 25.5h1M265 25.5h1M268 25.5h2M272 25.5h1M279 25.5h1M285 25.5h1M308 25.5h1M321 25.5h1M333 25.5h1M339 25.5h1M357 25.5h2M368 25.5h1M36 26.5h1M53 26.5h1M74 26.5h1M143 26.5h1M156 26.5h1M179 26.5h1M264 26.5h1M286 26.5h1M320 26.5h1M324 26.5h1M340 26.5h1M343 26.5h1M0 27.5h16M19 27.5h1M21 27.5h1M23 27.5h6M30 27.5h9M40 27.5h1M42 27.5h1M44 27.5h13M58 27.5h13M72 27.5h3M76 27.5h9M86 27.5h2M90 27.5h4M95 27.5h2M98 27.5h13M112 27.5h4M117 27.5h8M126 27.5h8M135 27.5h3M139 27.5h7M150 27.5h3M154 27.5h11M166 27.5h23M190 27.5h2M193 27.5h2M196 27.5h5M202 27.5h2M205 27.5h5M213 27.5h9M223 27.5h3M227 27.5h1M229 27.5h10M240 27.5h9M250 27.5h5M256 27.5h6M263 27.5h10M274 27.5h3M278 27.5h1M280 27.5h4M285 27.5h5M291 27.5h1M293 27.5h2M296 27.5h6M303 27.5h3M307 27.5h2M311 27.5h1M314 27.5h1M316 27.5h2M322 27.5h4M327 27.5h4M332 27.5h5M338 27.5h1M340 27.5h9M350 27.5h4M355 27.5h11M367 27.5h3M6 28.5h1M19 28.5h1M21 28.5h1M24 28.5h2M27 28.5h3M40 28.5h1M44 28.5h1M51 28.5h1M62 28.5h1M73 28.5h1M76 28.5h1M82 28.5h1M89 28.5h1M91 28.5h1M110 28.5h1M115 28.5h1M125 28.5h1M130 28.5h1M139 28.5h1M152 28.5h1M156 28.5h1M172 28.5h1M197 28.5h1M205 28.5h1M209 28.5h1M211 28.5h1M223 28.5h1M228 28.5h2M243 28.5h1M253 28.5h3M258 28.5h2M267 28.5h1M271 28.5h1M276 28.5h1M288 28.5h1M298 28.5h1M310 28.5h1M316 28.5h1M321 28.5h2M335 28.5h1M340 28.5h1M363 28.5h1M2 30.5h1M9 30.5h1M12 30.5h1M16 30.5h1M18 30.5h1M27 30.5h1M35 30.5h2M53 30.5h1M56 30.5h1M68 30.5h1M104 30.5h1M110 30.5h1M113 30.5h1M115 30.5h1M117 30.5h2M122 30.5h2M135 30.5h1M140 30.5h1M157 30.5h1M162 30.5h1M168 30.5h1M175 30.5h1M182 30.5h1M205 30.5h1M207 30.5h1M215 30.5h1M220 30.5h2M228 30.5h2M236 30.5h1M238 30.5h1M248 30.5h1M250 30.5h1M253 30.5h3M261 30.5h2M265 30.5h1M272 30.5h1M279 30.5h1M281 30.5h1M284 30.5h2M293 30.5h1M333 30.5h1M336 30.5h2M339 30.5h1M9 31.5h1M18 31.5h1M29 31.5h1M39 31.5h1M47 31.5h1M54 31.5h1M59 31.5h1M83 31.5h1M86 31.5h1M101 31.5h2M112 31.5h1M118 31.5h1M120 31.5h1M122 31.5h1M130 31.5h1M144 31.5h1M174 31.5h1M198 31.5h1M207 31.5h1M214 31.5h1M220 31.5h1M224 31.5h1M262 31.5h1M269 31.5h1M303 31.5h1M308 31.5h1M326 31.5h1M341 31.5h1M350 31.5h1M354 31.5h1M359 31.5h1M3 32.5h1M5 32.5h1M7 32.5h1M9 32.5h1M24 32.5h1M30 32.5h1M40 32.5h1M46 32.5h1M85 32.5h1M101 32.5h1M105 32.5h1M109 32.5h1M118 32.5h1M120 32.5h1M124 32.5h1M129 32.5h1M140 32.5h1M167 32.5h1M171 32.5h1M176 32.5h1M184 32.5h1M193 32.5h1M196 32.5h1M203 32.5h1M205 32.5h1M208 32.5h1M212 32.5h1M230 32.5h1M234 32.5h1M236 32.5h2M243 32.5h1M245 32.5h1M258 32.5h1M261 32.5h1M265 32.5h1M267 32.5h1M270 32.5h1M276 32.5h1M294 32.5h1M298 32.5h1M307 32.5h1M315 32.5h1M321 32.5h1M329 32.5h2M361 32.5h1M369 32.5h1M26 33.5h1M39 33.5h1M66 33.5h1M83 33.5h1M95 33.5h1M132 33.5h1M261 33.5h1M271 33.5h1M351 33.5h1M6 34.5h2M33 34.5h1M36 34.5h1M45 34.5h2M57 34.5h1M68 34.5h1M75 34.5h1M101 34.5h1M103 34.5h1M113 34.5h1M117 34.5h1M121 34.5h1M130 34.5h1M133 34.5h1M146 34.5h1M152 34.5h1M157 34.5h1M166 34.5h1M179 34.5h1M185 34.5h1M200 34.5h1M206 34.5h2M213 34.5h2M216 34.5h1M223 34.5h1M243 34.5h1M248 34.5h2M265 34.5h1M271 34.5h1M281 34.5h1M288 34.5h1M305 34.5h1M308 34.5h1M312 34.5h1M316 34.5h1M319 34.5h3M325 34.5h1M335 34.5h2M353 34.5h2M358 34.5h1M361 34.5h1M18 35.5h1M21 35.5h1M34 35.5h2M38 35.5h1M42 35.5h1M59 35.5h1M64 35.5h1M69 35.5h1M88 35.5h1M98 35.5h1M106 35.5h1M114 35.5h1M119 35.5h1M130 35.5h1M141 35.5h1M145 35.5h1M150 35.5h1M156 35.5h1M179 35.5h1M187 35.5h1M202 35.5h1M211 35.5h1M216 35.5h1M231 35.5h1M233 35.5h1M240 35.5h1M249 35.5h1M258 35.5h1M274 35.5h1M280 35.5h1M287 35.5h1M303 35.5h1M305 35.5h2M321 35.5h1M329 35.5h1M334 35.5h2M347 35.5h1M357 35.5h1M359 35.5h1M2 36.5h1M6 36.5h1M8 36.5h1M31 36.5h1M40 36.5h1M58 36.5h1M91 36.5h1M98 36.5h1M106 36.5h1M114 36.5h1M140 36.5h1M147 36.5h1M150 36.5h1M171 36.5h1M174 36.5h1M187 36.5h1M202 36.5h1M213 36.5h1M221 36.5h1M233 36.5h2M236 36.5h1M244 36.5h1M261 36.5h1M263 36.5h1M267 36.5h2M272 36.5h1M280 36.5h1M293 36.5h1M307 36.5h1M309 36.5h1M316 36.5h1M329 36.5h1M339 36.5h1M347 36.5h1M357 36.5h1M359 36.5h1M366 36.5h2M8 37.5h1M11 37.5h1M13 37.5h1M27 37.5h2M35 37.5h1M95 37.5h1M100 37.5h1M102 37.5h1M104 37.5h1M114 37.5h1M130 37.5h1M135 37.5h1M148 37.5h1M208 37.5h1M213 37.5h1M225 37.5h1M230 37.5h2M242 37.5h1M258 37.5h1M260 37.5h1M278 37.5h1M292 37.5h3M301 37.5h1M317 37.5h2M327 37.5h1M330 37.5h1M340 37.5h2M348 37.5h1M351 37.5h2M361 37.5h1M20 38.5h1M32 38.5h1M36 38.5h1M54 38.5h1M86 38.5h1M91 38.5h1M98 38.5h1M101 38.5h1M104 38.5h1M106 38.5h1M109 38.5h1M114 38.5h1M116 38.5h1M118 38.5h1M120 38.5h1M126 38.5h1M130 38.5h1M135 38.5h1M141 38.5h1M144 38.5h1M154 38.5h1M157 38.5h1M162 38.5h1M172 38.5h1M178 38.5h1M183 38.5h1M188 38.5h1M208 38.5h1M212 38.5h1M216 38.5h1M221 38.5h1M225 38.5h1M227 38.5h1M231 38.5h1M233 38.5h1M255 38.5h1M260 38.5h1M268 38.5h1M321 38.5h1M334 38.5h1M348 38.5h1"/>
<path stroke="#dee5f2" d="M4 0.5h1M8 0.5h1M12 0.5h1M57 0.5h1M89 0.5h1M95 0.5h1M123 0.5h2M186 0.5h1M192 0.5h1M232 0.5h1M244 0.5h1M312 0.5h1M321 0.5h1M346 0.5h1M356 0.5h1M11 1.5h1M31 1.5h1M38 1.5h1M92 1.5h1M105 1.5h1M120 1.5h1M146 1.5h1M167 1.5h1M172 1.5h1M226 1.5h1M286 1.5h1M290 1.5h1M295 1.5h1M302 1.5h1M347 1.5h2M362 1.5h1M2 2.5h1M27 2.5h1M79 2.5h1M95 2.5h1M112 2.5h1M139 2.5h1M200 2.5h1M214 2.5h1M280 2.5h1M355 2.5h1M0 3.5h1M15 3.5h1M23 3.5h1M57 3.5h1M90 3.5h1M117 3.5h1M144 3.5h1M171 3.5h2M177 3.5h1M198 3.5h1M209 3.5h1M232 3.5h1M235 3.5h1M265 3.5h1M271 3.5h1M273 3.5h1M288 3.5h1M290 3.5h1M295 3.5h1M315 3.5h1M360 3.5h1M362 3.5h1M6 4.5h1M39 4.5h2M42 4.5h1M53 4.5h1M67 4.5h1M100 4.5h1M144 4.5h1M158 4.5h1M170 4.5h1M197 4.5h1M199 4.5h1M216 4.5h1M231 4.5h1M251 4.5h1M271 4.5h1M282 4.5h1M287 4.5h1M308 4.5h1M343 4.5h1M348 4.5h1M364 4.5h1M6 5.5h1M13 5.5h1M18 5.5h1M70 5.5h1M73 5.5h1M189 5.5h1M203 5.5h1M208 5.5h1M221 5.5h1M230 5.5h1M320 5.5h1M323 5.5h1M364 5.5h1M64 6.5h1M78 6.5h1M133 6.5h1M153 6.5h1M163 6.5h1M174 6.5h1M214 6.5h1M219 6.5h1M287 6.5h1M300 6.5h1M302 6.5h1M344 6.5h1M4 7.5h1M33 7.5h1M76 7.5h1M109 7.5h1M111 7.5h1M186 7.5h1M215 7.5h1M219 7.5h1M253 7.5h1M274 7.5h1M278 7.5h1M26 8.5h1M30 8.5h2M43 8.5h1M103 8.5h1M111 8.5h1M122 8.5h1M128 8.5h1M153 8.5h1M161 8.5h1M170 8.5h1M213 8.5h1M219 8.5h1M224 8.5h1M264 8.5h1M289 8.5h1M293 8.5h1M349 8.5h1M6 9.5h1M14 9.5h1M51 9.5h1M56 9.5h1M64 9.5h1M83 9.5h2M93 9.5h1M109 9.5h1M156 9.5h1M165 9.5h1M190 9.5h1M211 9.5h1M227 9.5h1M239 9.5h1M244 9.5h1M260 9.5h1M267 9.5h1M293 9.5h1M351 9.5h1M353 9.5h1M89 10.5h1M129 10.5h1M136 10.5h1M152 10.5h1M175 10.5h2M224 10.5h1M250 10.5h2M254 10.5h1M277 10.5h1M11 11.5h1M17 11.5h1M27 11.5h1M45 11.5h1M83 11.5h4M91 11.5h1M94 11.5h1M162 11.5h1M169 11.5h1M187 11.5h2M217 11.5h1M233 11.5h1M242 11.5h1M342 11.5h1M18 12.5h1M35 12.5h1M228 12.5h1M237 12.5h1M252 12.5h1M259 12.5h1M275 12.5h1M278 12.5h1M330 12.5h1M332 12.5h1M342 12.5h1M55 13.5h1M69 13.5h1M73 13.5h1M81 13.5h1M83 13.5h1M127 13.5h1M130 13.5h1M134 13.5h1M203 13.5h1M208 13.5h1M253 13.5h1M283 13.5h1M295 13.5h3M312 13.5h1M324 13.5h1M334 13.5h1M340 13.5h1M364 13.5h1M367 13.5h1M16 14.5h1M59 14.5h1M117 14.5h1M127 14.5h2M145 14.5h2M159 14.5h1M163 14.5h1M176 14.5h1M205 14.5h1M211 14.5h1M215 14.5h1M230 14.5h2M248 14.5h1M260 14.5h1M293 14.5h1M296 14.5h1M308 14.5h1M323 14.5h1M360 14.5h1M2 15.5h1M14 15.5h1M20 15.5h1M24 15.5h1M26 15.5h1M57 15.5h1M59 15.5h1M71 15.5h1M83 15.5h1M129 15.5h1M143 15.5h1M154 15.5h1M188 15.5h1M201 15.5h1M203 15.5h1M237 15.5h1M244 15.5h1M256 15.5h1M264 15.5h1M296 15.5h1M317 15.5h1M346 15.5h1M352 15.5h1M362 15.5h1M17 16.5h1M33 16.5h1M35 16.5h1M37 16.5h1M45 16.5h1M68 16.5h1M81 16.5h1M123 16.5h1M128 16.5h1M137 16.5h1M220 16.5h1M229 16.5h1M262 16.5h1M340 16.5h1M352 16.5h1M7 17.5h1M21 17.5h1M30 17.5h2M37 17.5h1M68 17.5h1M77 17.5h1M112 17.5h1M129 17.5h1M135 17.5h1M141 17.5h1M188 17.5h1M203 17.5h1M261 17.5h1M297 17.5h1M346 17.5h1M15 18.5h1M22 18.5h1M48 18.5h1M54 18.5h1M63 18.5h1M77 18.5h1M139 18.5h1M145 18.5h1M190 18.5h1M193 18.5h1M200 18.5h2M208 18.5h1M235 18.5h1M244 18.5h1M263 18.5h1M268 18.5h1M276 18.5h1M288 18.5h1M291 18.5h1M305 18.5h1M312 18.5h1M359 18.5h1M365 18.5h1M21 19.5h1M35 19.5h1M98 19.5h1M103 19.5h1M132 19.5h1M178 19.5h1M180 19.5h1M195 19.5h1M238 19.5h1M274 19.5h1M277 19.5h1M296 19.5h1M332 19.5h1M337 19.5h1M352 19.5h1M11 20.5h1M16 20.5h1M26 20.5h1M29 20.5h1M37 20.5h1M42 20.5h1M63 20.5h1M72 20.5h1M77 20.5h1M92 20.5h1M114 20.5h1M136 20.5h1M145 20.5h1M152 20.5h1M174 20.5h1M176 20.5h1M180 20.5h1M183 20.5h1M200 20.5h1M208 20.5h1M216 20.5h1M319 20.5h1M330 20.5h1M347 20.5h1M358 20.5h1M363 20.5h1M7 21.5h1M10 21.5h1M26 21.5h1M30 21.5h1M107 21.5h1M109 21.5h1M155 21.5h1M182 21.5h1M202 21.5h1M224 21.5h1M235 21.5h1M270 21.5h1M307 21.5h1M316 21.5h1M336 21.5h1M340 21.5h1M343 21.5h1M352 21.5h1M22 22.5h1M32 22.5h1M49 22.5h1M73 22.5h1M84 22.5h1M97 22.5h2M103 22.5h1M108 22.5h1M115 22.5h1M118 22.5h1M163 22.5h1M174 22.5h1M178 22.5h1M205 22.5h1M232 22.5h1M247 22.5h1M257 22.5h1M259 22.5h1M263 22.5h1M270 22.5h1M275 22.5h2M281 22.5h1M288 22.5h1M293 22.5h1M306 22.5h1M319 22.5h1M335 22.5h1M349 22.5h1M352 22.5h1M367 22.5h1M1 23.5h1M6 23.5h1M10 23.5h1M40 23.5h1M59 23.5h1M97 23.5h1M105 23.5h1M124 23.5h1M130 23.5h1M132 23.5h1M158 23.5h1M160 23.5h1M243 23.5h1M265 23.5h2M271 23.5h1M290 23.5h1M292 23.5h1M319 23.5h1M325 23.5h1M355 23.5h1M365 23.5h1M15 24.5h1M29 24.5h1M69 24.5h1M79 24.5h1M90 24.5h1M103 24.5h1M144 24.5h1M150 24.5h1M161 24.5h1M166 24.5h1M194 24.5h1M198 24.5h1M230 24.5h1M244 24.5h1M256 24.5h1M260 24.5h1M271 24.5h1M279 24.5h1M295 24.5h1M331 24.5h1M340 24.5h1M357 24.5h1M8 25.5h1M21 25.5h1M24 25.5h1M62 25.5h1M82 25.5h1M86 25.5h1M91 25.5h1M96 25.5h1M102 25.5h1M107 25.5h1M135 25.5h1M156 25.5h1M197 25.5h1M210 25.5h1M215 25.5h1M217 25.5h2M259 25.5h1M274 25.5h1M292 25.5h1M297 25.5h2M304 25.5h1M331 25.5h1M341 25.5h1M365 25.5h1M25 26.5h1M78 26.5h1M233 26.5h1M257 26.5h1M266 26.5h1M365 26.5h1M149 27.5h1M312 27.5h1M53 28.5h1M58 28.5h1M60 28.5h1M88 28.5h1M118 28.5h1M137 28.5h1M153 28.5h1M163 28.5h1M195 28.5h1M212 28.5h1M226 28.5h1M231 28.5h1M0 29.5h7M9 29.5h9M19 29.5h19M39 29.5h2M42 29.5h1M44 29.5h3M48 29.5h2M51 29.5h4M56 29.5h20M77 29.5h3M82 29.5h1M85 29.5h1M87 29.5h4M93 29.5h3M98 29.5h7M106 29.5h3M110 29.5h2M113 29.5h1M115 29.5h1M117 29.5h1M119 29.5h1M121 29.5h4M127 29.5h4M132 29.5h5M139 29.5h3M144 29.5h4M149 29.5h1M151 29.5h5M157 29.5h1M159 29.5h5M165 29.5h7M173 29.5h11M185 29.5h1M187 29.5h5M193 29.5h1M195 29.5h2M198 29.5h1M200 29.5h9M210 29.5h3M215 29.5h7M224 29.5h2M228 29.5h11M241 29.5h2M244 29.5h9M255 29.5h1M257 29.5h2M261 29.5h1M263 29.5h1M265 29.5h2M268 29.5h2M271 29.5h8M280 29.5h5M286 29.5h4M291 29.5h6M298 29.5h3M303 29.5h3M307 29.5h2M311 29.5h11M323 29.5h6M330 29.5h10M341 29.5h8M350 29.5h3M354 29.5h7M363 29.5h2M366 29.5h3M1 30.5h1M14 30.5h1M20 30.5h1M23 30.5h1M31 30.5h1M59 30.5h1M75 30.5h1M103 30.5h1M112 30.5h1M129 30.5h1M136 30.5h1M144 30.5h1M156 30.5h1M165 30.5h1M179 30.5h1M219 30.5h1M244 30.5h1M256 30.5h1M288 30.5h1M298 30.5h1M301 30.5h1M346 30.5h1M0 31.5h1M27 31.5h1M74 31.5h1M124 31.5h1M206 31.5h1M230 31.5h1M245 31.5h1M285 31.5h1M340 31.5h1M162 32.5h1M173 32.5h1M186 32.5h1M200 32.5h2M224 32.5h1M260 32.5h1M335 32.5h1M343 32.5h1M8 33.5h1M10 33.5h1M25 33.5h1M63 33.5h1M115 33.5h1M251 33.5h1M270 33.5h1M276 33.5h1M286 33.5h1M296 33.5h1M301 33.5h1M316 33.5h1M355 33.5h1M365 33.5h1M73 34.5h1M88 34.5h1M174 34.5h1M195 34.5h1M197 34.5h1M236 34.5h1M315 34.5h1M355 34.5h1M6 35.5h1M24 35.5h1M66 35.5h1M105 35.5h1M115 35.5h1M122 35.5h1M154 35.5h1M203 35.5h1M213 35.5h1M220 35.5h1M254 35.5h1M259 35.5h1M271 35.5h1M348 35.5h1M26 36.5h1M70 36.5h1M129 36.5h1M141 36.5h1M166 36.5h1M203 36.5h1M214 36.5h1M230 36.5h1M300 36.5h1M314 36.5h1M317 36.5h1M323 36.5h1M369 36.5h1M52 37.5h1M123 37.5h1M179 37.5h1M216 37.5h1M287 37.5h1M335 37.5h1M365 37.5h1M0 38.5h11M12 38.5h3M17 38.5h3M21 38.5h3M25 38.5h4M31 38.5h1M33 38.5h2M37 38.5h4M42 38.5h1M44 38.5h10M57 38.5h2M61 38.5h2M64 38.5h3M68 38.5h2M71 38.5h1M73 38.5h3M77 38.5h3M82 38.5h4M87 38.5h4M92 38.5h1M94 38.5h3M99 38.5h1M102 38.5h2M105 38.5h1M107 38.5h1M110 38.5h1M112 38.5h2M115 38.5h1M117 38.5h1M119 38.5h1M121 38.5h1M123 38.5h3M127 38.5h1M132 38.5h2M136 38.5h2M139 38.5h2M142 38.5h1M145 38.5h3M151 38.5h2M155 38.5h2M160 38.5h2M163 38.5h1M165 38.5h1M167 38.5h1M170 38.5h2M173 38.5h5M179 38.5h3M185 38.5h2M189 38.5h3M193 38.5h1M195 38.5h2M198 38.5h1M200 38.5h8M209 38.5h3M214 38.5h2M217 38.5h4M223 38.5h1M226 38.5h1M228 38.5h3M234 38.5h5M240 38.5h3M244 38.5h6M251 38.5h4M256 38.5h1M259 38.5h1M261 38.5h1M263 38.5h2M266 38.5h1M269 38.5h7M277 38.5h10M288 38.5h9M298 38.5h4M303 38.5h2M307 38.5h2M310 38.5h5M316 38.5h3M320 38.5h1M322 38.5h2M325 38.5h3M329 38.5h3M333 38.5h1M335 38.5h3M339 38.5h5M346 38.5h2M350 38.5h4M355 38.5h1M357 38.5h5M363 38.5h1M365 38.5h5"/>
<path stroke="#eff2f9" d="M31 0.5h1M43 0.5h1M54 0.5h1M87 0.5h1M119 0.5h1M125 0.5h1M137 0.5h1M197 0.5h1M211 0.5h1M220 0.5h1M225 0.5h1M253 0.5h1M255 0.5h1M276 0.5h1M310 0.5h2M329 0.5h1M337 0.5h1M355 0.5h1M8 1.5h1M117 1.5h1M127 1.5h1M192 1.5h1M202 1.5h1M221 1.5h1M240 1.5h1M252 1.5h1M272 1.5h1M280 1.5h1M14 2.5h1M19 2.5h1M30 2.5h1M33 2.5h1M89 2.5h2M93 2.5h1M134 2.5h1M136 2.5h1M164 2.5h1M234 2.5h1M265 2.5h1M278 2.5h1M344 2.5h1M368 2.5h1M4 3.5h1M81 3.5h1M226 3.5h1M262 3.5h1M267 3.5h1M272 3.5h1M277 3.5h1M283 3.5h1M313 3.5h1M325 3.5h1M356 3.5h1M20 4.5h1M23 4.5h1M33 4.5h1M120 4.5h2M196 4.5h1M218 4.5h1M274 4.5h1M276 4.5h1M280 4.5h1M290 4.5h1M304 4.5h1M326 4.5h1M23 5.5h1M107 5.5h1M124 5.5h1M151 5.5h1M160 5.5h1M188 5.5h1M239 5.5h1M260 5.5h1M270 5.5h1M279 5.5h1M315 5.5h1M331 5.5h1M337 5.5h1M365 5.5h1M367 5.5h1M8 6.5h1M13 6.5h1M21 6.5h1M34 6.5h1M56 6.5h1M68 6.5h1M94 6.5h1M106 6.5h1M166 6.5h1M213 6.5h1M234 6.5h1M283 6.5h1M306 6.5h2M334 6.5h1M369 6.5h1M20 7.5h1M30 7.5h1M35 7.5h1M38 7.5h1M81 7.5h1M176 7.5h1M179 7.5h1M188 7.5h1M191 7.5h1M254 7.5h1M272 7.5h1M329 7.5h1M331 7.5h1M333 7.5h2M342 7.5h1M346 7.5h1M352 7.5h1M5 8.5h2M24 8.5h1M46 8.5h1M50 8.5h1M54 8.5h1M65 8.5h1M94 8.5h1M106 8.5h1M155 8.5h1M168 8.5h1M227 8.5h1M232 8.5h1M261 8.5h1M263 8.5h1M268 8.5h1M280 8.5h1M283 8.5h1M369 8.5h1M15 9.5h1M61 9.5h1M68 9.5h1M96 9.5h2M138 9.5h1M148 9.5h1M171 9.5h1M200 9.5h1M204 9.5h1M238 9.5h1M261 9.5h1M282 9.5h1M285 9.5h1M287 9.5h1M7 10.5h1M14 10.5h1M74 10.5h1M77 10.5h1M81 10.5h1M91 10.5h1M123 10.5h1M130 10.5h1M145 10.5h1M183 10.5h1M201 10.5h1M207 10.5h1M234 10.5h1M241 10.5h1M306 10.5h1M312 10.5h1M349 10.5h1M367 10.5h1M369 10.5h1M39 11.5h1M77 11.5h1M112 11.5h1M123 11.5h1M182 11.5h1M192 11.5h1M202 11.5h1M213 11.5h1M234 11.5h1M358 11.5h1M360 11.5h1M38 12.5h1M45 12.5h1M53 12.5h1M76 12.5h1M92 12.5h1M124 12.5h1M177 12.5h1M185 12.5h1M200 12.5h1M224 12.5h1M236 12.5h1M240 12.5h1M262 12.5h1M267 12.5h1M270 12.5h1M274 12.5h1M333 12.5h1M345 12.5h1M347 12.5h1M363 12.5h1M369 12.5h1M14 13.5h2M36 13.5h1M46 13.5h1M68 13.5h1M96 13.5h1M100 13.5h1M106 13.5h1M132 13.5h1M136 13.5h1M149 13.5h1M151 13.5h1M162 13.5h1M187 13.5h1M190 13.5h1M229 13.5h1M250 13.5h1M315 13.5h1M331 13.5h1M337 13.5h1M339 13.5h1M356 13.5h1M22 14.5h1M34 14.5h1M45 14.5h1M51 14.5h1M71 14.5h1M103 14.5h1M148 14.5h1M190 14.5h1M202 14.5h1M218 14.5h1M233 14.5h1M250 14.5h1M56 15.5h1M66 15.5h1M74 15.5h1M77 15.5h1M142 15.5h1M149 15.5h1M200 15.5h1M215 15.5h1M218 15.5h1M225 15.5h1M255 15.5h1M284 15.5h1M301 15.5h1M333 15.5h1M343 15.5h1M350 15.5h1M359 15.5h1M71 16.5h1M74 16.5h1M97 16.5h1M105 16.5h1M136 16.5h1M184 16.5h1M218 16.5h1M252 16.5h1M263 16.5h1M285 16.5h2M288 16.5h1M354 16.5h1M364 16.5h1M29 17.5h1M42 17.5h1M48 17.5h1M71 17.5h1M127 17.5h1M140 17.5h1M145 17.5h1M157 17.5h1M171 17.5h1M247 17.5h1M259 17.5h1M270 17.5h1M281 17.5h1M283 17.5h1M295 17.5h1M316 17.5h1M343 17.5h1M345 17.5h1M347 17.5h1M356 17.5h1M4 18.5h1M10 18.5h1M40 18.5h1M50 18.5h1M55 18.5h1M86 18.5h1M88 18.5h1M90 18.5h1M137 18.5h1M146 18.5h1M152 18.5h1M210 18.5h1M224 18.5h1M303 18.5h1M313 18.5h1M327 18.5h1M339 18.5h1M341 18.5h1M2 19.5h1M66 19.5h1M86 19.5h1M94 19.5h2M107 19.5h1M130 19.5h1M145 19.5h1M165 19.5h1M179 19.5h1M181 19.5h1M202 19.5h1M251 19.5h1M293 19.5h2M298 19.5h1M303 19.5h1M305 19.5h1M308 19.5h1M353 19.5h1M357 19.5h1M367 19.5h1M10 20.5h1M18 20.5h1M49 20.5h1M68 20.5h1M91 20.5h1M97 20.5h2M101 20.5h1M108 20.5h1M110 20.5h1M162 20.5h1M204 20.5h1M218 20.5h1M228 20.5h1M241 20.5h1M266 20.5h1M343 20.5h1M366 20.5h1M4 21.5h1M16 21.5h1M37 21.5h1M39 21.5h1M101 21.5h1M118 21.5h1M134 21.5h1M196 21.5h1M216 21.5h1M237 21.5h1M245 21.5h1M267 21.5h1M301 21.5h1M315 21.5h1M320 21.5h1M327 21.5h1M333 21.5h1M346 21.5h1M358 21.5h1M20 22.5h1M31 22.5h1M48 22.5h1M60 22.5h1M72 22.5h1M87 22.5h2M91 22.5h1M100 22.5h1M134 22.5h1M148 22.5h1M175 22.5h1M200 22.5h1M206 22.5h1M210 22.5h1M223 22.5h1M230 22.5h1M233 22.5h1M245 22.5h1M262 22.5h1M283 22.5h1M24 23.5h1M110 23.5h1M117 23.5h1M147 23.5h1M163 23.5h1M173 23.5h1M184 23.5h1M191 23.5h1M235 23.5h1M256 23.5h1M264 23.5h1M275 23.5h1M277 23.5h1M284 23.5h1M335 23.5h1M352 23.5h1M367 23.5h1M23 24.5h2M50 24.5h1M82 24.5h1M89 24.5h1M105 24.5h1M149 24.5h1M188 24.5h2M211 24.5h1M236 24.5h1M257 24.5h1M326 24.5h2M335 24.5h1M31 25.5h1M78 25.5h1M89 25.5h1M98 25.5h1M112 25.5h1M114 25.5h1M118 25.5h1M160 25.5h1M169 25.5h2M173 25.5h1M175 25.5h2M188 25.5h1M196 25.5h1M202 25.5h1M214 25.5h1M238 25.5h1M267 25.5h1M296 25.5h1M325 25.5h1M337 25.5h1M346 25.5h3M367 25.5h1M15 26.5h1M26 26.5h1M135 26.5h1M162 26.5h1M223 26.5h1M244 26.5h1M305 26.5h1M20 27.5h1M277 27.5h1M309 27.5h1M15 28.5h1M46 28.5h1M90 28.5h1M109 28.5h1M127 28.5h1M155 28.5h1M196 28.5h1M210 28.5h1M285 28.5h1M345 28.5h1M7 29.5h1M84 29.5h1M92 29.5h1M131 29.5h1M137 29.5h1M209 29.5h1M213 29.5h1M306 29.5h1M32 30.5h1M79 30.5h1M92 30.5h1M106 30.5h1M130 30.5h1M134 30.5h1M137 30.5h1M171 30.5h1M193 30.5h1M197 30.5h1M242 30.5h1M277 30.5h1M303 30.5h1M325 30.5h1M347 30.5h1M350 30.5h1M367 30.5h1M69 31.5h1M81 31.5h1M107 31.5h1M126 31.5h1M166 31.5h1M221 31.5h1M311 31.5h1M369 31.5h1M22 32.5h1M38 32.5h1M117 32.5h1M199 32.5h1M209 32.5h1M235 32.5h1M248 32.5h2M275 32.5h1M351 32.5h1M366 32.5h1M79 33.5h1M114 33.5h1M120 33.5h1M151 33.5h1M275 33.5h1M298 33.5h1M312 33.5h1M318 33.5h1M1 34.5h1M37 34.5h1M55 34.5h1M62 34.5h1M70 34.5h1M148 34.5h1M240 34.5h1M317 34.5h1M347 34.5h1M70 35.5h1M256 35.5h1M272 35.5h1M296 35.5h1M308 35.5h1M316 35.5h1M333 35.5h1M146 36.5h1M159 36.5h1M269 36.5h1M301 36.5h1M340 36.5h1M360 36.5h1M41 37.5h1M99 37.5h1M255 37.5h1M270 37.5h1M329 37.5h1M334 37.5h1M59 38.5h1M129 38.5h1M184 38.5h1M265 38.5h1M0 39.5h19M20 39.5h21M44 39.5h10M55 39.5h6M62 39.5h9M72 39.5h8M81 39.5h4M86 39.5h3M90 39.5h9M100 39.5h11M112 39.5h6M119 39.5h27M147 39.5h17M165 39.5h7M174 39.5h7M182 39.5h7M190 39.5h4M195 39.5h4M200 39.5h10M212 39.5h9M223 39.5h3M229 39.5h27M257 39.5h3M261 39.5h18M280 39.5h9M290 39.5h15M306 39.5h3M310 39.5h9M320 39.5h6M327 39.5h1M329 39.5h3M333 39.5h2M336 39.5h12M350 39.5h4M356 39.5h12"/>
<path stroke="#ffffff" d="M56 0.5h1M66 0.5h1M83 0.5h1M93 0.5h1M97 0.5h1M100 0.5h1M141 0.5h1M169 0.5h1M196 0.5h1M226 0.5h1M245 0.5h1M252 0.5h1M292 0.5h1M315 0.5h1M360 0.5h1M368 0.5h1M18 1.5h1M54 1.5h1M108 1.5h1M126 1.5h1M152 1.5h1M154 1.5h1M162 1.5h1M164 1.5h1M171 1.5h1M178 1.5h1M186 1.5h1M189 1.5h2M196 1.5h1M211 1.5h1M220 1.5h1M243 1.5h1M277 1.5h1M299 1.5h1M307 1.5h1M318 1.5h1M340 1.5h1M354 1.5h1M5 2.5h2M64 2.5h1M87 2.5h1M110 2.5h1M153 2.5h1M183 2.5h1M191 2.5h1M212 2.5h1M253 2.5h2M336 2.5h1M365 2.5h1M6 3.5h1M22 3.5h1M29 3.5h1M31 3.5h1M44 3.5h1M69 3.5h1M106 3.5h2M110 3.5h1M112 3.5h1M126 3.5h1M151 3.5h1M189 3.5h1M220 3.5h1M222 3.5h1M225 3.5h1M230 3.5h1M240 3.5h1M269 3.5h1M281 3.5h1M285 3.5h1M287 3.5h1M291 3.5h1M329 3.5h1M338 3.5h1M341 3.5h1M348 3.5h1M46 4.5h1M48 4.5h1M57 4.5h1M118 4.5h1M123 4.5h1M134 4.5h1M143 4.5h1M150 4.5h1M157 4.5h1M198 4.5h1M235 4.5h1M239 4.5h1M257 4.5h1M269 4.5h1M324 4.5h1M8 5.5h1M20 5.5h1M46 5.5h1M49 5.5h1M65 5.5h1M94 5.5h1M134 5.5h1M156 5.5h1M177 5.5h1M179 5.5h1M237 5.5h1M242 5.5h1M257 5.5h1M269 5.5h1M297 5.5h1M305 5.5h1M319 5.5h1M324 5.5h1M338 5.5h1M350 5.5h1M20 6.5h1M22 6.5h1M32 6.5h1M44 6.5h1M58 6.5h2M87 6.5h1M93 6.5h1M108 6.5h1M130 6.5h2M185 6.5h1M231 6.5h1M261 6.5h1M268 6.5h1M271 6.5h1M311 6.5h1M319 6.5h1M323 6.5h1M342 6.5h1M348 6.5h1M15 7.5h1M48 7.5h1M54 7.5h1M58 7.5h1M79 7.5h1M114 7.5h1M145 7.5h1M161 7.5h1M174 7.5h2M190 7.5h1M216 7.5h1M228 7.5h1M252 7.5h1M268 7.5h1M271 7.5h1M287 7.5h1M297 7.5h1M302 7.5h1M317 7.5h2M326 7.5h1M332 7.5h1M353 7.5h1M359 7.5h1M1 8.5h1M10 8.5h1M16 8.5h2M33 8.5h1M150 8.5h1M157 8.5h1M172 8.5h1M190 8.5h1M206 8.5h1M237 8.5h1M256 8.5h1M272 8.5h1M290 8.5h1M297 8.5h1M335 8.5h2M340 8.5h1M342 8.5h1M19 9.5h1M71 9.5h1M103 9.5h1M106 9.5h2M168 9.5h1M209 9.5h1M217 9.5h1M265 9.5h1M292 9.5h1M296 9.5h1M298 9.5h1M313 9.5h1M342 9.5h1M352 9.5h1M366 9.5h1M21 10.5h1M42 10.5h1M50 10.5h1M64 10.5h1M70 10.5h1M92 10.5h1M97 10.5h1M126 10.5h1M134 10.5h1M146 10.5h1M158 10.5h1M180 10.5h1M187 10.5h1M213 10.5h2M237 10.5h1M244 10.5h1M278 10.5h1M285 10.5h1M297 10.5h1M304 10.5h1M332 10.5h1M339 10.5h1M347 10.5h1M355 10.5h1M2 11.5h1M25 11.5h1M35 11.5h1M44 11.5h1M78 11.5h1M82 11.5h1M87 11.5h1M118 11.5h1M127 11.5h1M157 11.5h1M168 11.5h1M190 11.5h1M207 11.5h1M224 11.5h1M249 11.5h1M282 11.5h1M284 11.5h1M332 11.5h1M334 11.5h2M353 11.5h1M356 11.5h1M361 11.5h1M1 12.5h1M5 12.5h1M12 12.5h1M22 12.5h1M26 12.5h1M37 12.5h1M46 12.5h1M87 12.5h2M97 12.5h1M101 12.5h1M129 12.5h1M147 12.5h1M154 12.5h1M167 12.5h1M242 12.5h1M244 12.5h1M257 12.5h1M281 12.5h1M286 12.5h1M320 12.5h1M20 13.5h1M24 13.5h1M71 13.5h1M85 13.5h1M99 13.5h1M103 13.5h1M125 13.5h1M157 13.5h1M168 13.5h1M186 13.5h1M200 13.5h1M233 13.5h1M236 13.5h1M247 13.5h1M274 13.5h1M300 13.5h1M316 13.5h1M320 13.5h1M326 13.5h1M336 13.5h1M344 13.5h1M347 13.5h1M353 13.5h1M63 14.5h1M93 14.5h1M144 14.5h1M170 14.5h1M174 14.5h1M178 14.5h1M225 14.5h1M249 14.5h1M251 14.5h1M290 14.5h1M295 14.5h1M300 14.5h1M316 14.5h1M322 14.5h1M331 14.5h1M339 14.5h1M17 15.5h1M19 15.5h1M33 15.5h1M87 15.5h1M93 15.5h1M141 15.5h1M145 15.5h1M148 15.5h1M151 15.5h1M214 15.5h1M271 15.5h1M283 15.5h1M293 15.5h1M303 15.5h1M312 15.5h1M323 15.5h1M339 15.5h1M345 15.5h1M348 15.5h1M355 15.5h1M367 15.5h1M14 16.5h1M20 16.5h1M22 16.5h1M54 16.5h1M57 16.5h1M129 16.5h1M200 16.5h1M211 16.5h1M265 16.5h1M272 16.5h1M293 16.5h1M307 16.5h1M341 16.5h1M361 16.5h1M367 16.5h1M32 17.5h1M39 17.5h2M75 17.5h1M99 17.5h1M102 17.5h1M113 17.5h1M132 17.5h1M152 17.5h1M163 17.5h1M209 17.5h2M214 17.5h1M219 17.5h1M225 17.5h1M245 17.5h1M275 17.5h1M293 17.5h1M308 17.5h1M323 17.5h1M363 17.5h1M365 17.5h1M2 18.5h1M36 18.5h2M80 18.5h1M130 18.5h1M135 18.5h1M142 18.5h1M231 18.5h1M255 18.5h1M295 18.5h1M301 18.5h1M316 18.5h1M329 18.5h1M26 19.5h1M128 19.5h1M182 19.5h1M189 19.5h1M201 19.5h1M211 19.5h1M218 19.5h1M236 19.5h1M262 19.5h1M311 19.5h1M336 19.5h1M23 20.5h1M70 20.5h1M134 20.5h1M159 20.5h1M161 20.5h1M213 20.5h1M230 20.5h1M252 20.5h1M269 20.5h1M312 20.5h1M320 20.5h1M355 20.5h1M20 21.5h1M22 21.5h1M45 21.5h1M63 21.5h1M86 21.5h2M102 21.5h1M120 21.5h1M123 21.5h1M128 21.5h1M137 21.5h1M140 21.5h1M158 21.5h1M162 21.5h1M165 21.5h1M177 21.5h1M185 21.5h1M218 21.5h1M265 21.5h2M282 21.5h1M357 21.5h1M363 21.5h1M368 21.5h1M23 22.5h1M35 22.5h1M51 22.5h2M136 22.5h1M144 22.5h1M171 22.5h1M183 22.5h1M207 22.5h1M221 22.5h1M244 22.5h1M249 22.5h1M268 22.5h1M280 22.5h1M307 22.5h1M318 22.5h1M345 22.5h1M351 22.5h1M357 22.5h1M366 22.5h1M102 23.5h1M134 23.5h1M137 23.5h1M146 23.5h1M159 23.5h1M161 23.5h1M180 23.5h1M210 23.5h1M300 23.5h1M308 23.5h1M320 23.5h1M331 23.5h1M2 24.5h1M20 24.5h1M47 24.5h1M72 24.5h1M91 24.5h1M112 24.5h1M131 24.5h1M172 24.5h1M212 24.5h1M245 24.5h1M268 24.5h1M274 24.5h1M294 24.5h1M307 24.5h1M317 24.5h1M9 25.5h1M46 25.5h1M49 25.5h1M59 25.5h1M73 25.5h1M130 25.5h1M140 25.5h1M154 25.5h1M247 25.5h1M271 25.5h1M290 25.5h1M301 25.5h1M305 25.5h1M330 25.5h1M0 26.5h1M16 26.5h1M55 26.5h1M67 26.5h1M90 26.5h2M237 26.5h1M240 26.5h1M246 26.5h1M22 27.5h1M134 27.5h1M147 27.5h2M201 27.5h1M262 27.5h1M292 27.5h1M313 27.5h1M326 27.5h1M339 27.5h1M5 28.5h1M70 28.5h1M75 28.5h1M95 28.5h1M99 28.5h1M143 28.5h1M169 28.5h1M173 28.5h1M179 28.5h1M241 28.5h1M275 28.5h1M350 28.5h1M361 28.5h1M91 29.5h1M105 29.5h1M142 29.5h1M150 29.5h1M285 29.5h1M15 30.5h1M82 30.5h1M84 30.5h1M95 30.5h1M161 30.5h1M166 30.5h1M173 30.5h1M178 30.5h1M191 30.5h1M210 30.5h1M243 30.5h1M99 31.5h1M160 31.5h1M199 31.5h1M254 31.5h1M281 31.5h1M288 31.5h1M300 31.5h1M39 32.5h1M115 32.5h1M128 32.5h1M135 32.5h1M146 32.5h1M254 32.5h1M282 32.5h1M357 32.5h1M367 32.5h1M57 33.5h1M163 33.5h1M223 33.5h1M226 33.5h1M347 33.5h1M61 34.5h1M134 34.5h1M241 34.5h1M275 34.5h1M331 34.5h1M367 34.5h1M143 35.5h1M201 35.5h1M234 35.5h1M364 35.5h1M32 36.5h1M45 36.5h1M64 36.5h1M68 36.5h1M92 36.5h1M121 36.5h1M160 36.5h1M198 36.5h1M253 36.5h1M291 36.5h1M91 37.5h1M176 37.5h1M228 37.5h1M238 37.5h1M264 37.5h1M281 37.5h1M76 38.5h1M199 38.5h1M54 39.5h1M118 39.5h1"/>
<path stroke="#faf7ed" d="M1 0.5h1M36 0.5h1M40 0.5h1M53 0.5h1M62 0.5h1M128 0.5h1M132 0.5h1M134 0.5h1M154 0.5h1M179 0.5h1M191 0.5h1M213 0.5h1M227 0.5h1M231 0.5h1M247 0.5h1M249 0.5h1M251 0.5h1M271 0.5h1M274 0.5h1M278 0.5h1M282 0.5h2M291 0.5h1M323 0.5h1M334 0.5h1M340 0.5h1M344 0.5h2M2 1.5h1M9 1.5h1M37 1.5h1M41 1.5h1M66 1.5h1M149 1.5h1M156 1.5h1M179 1.5h1M184 1.5h2M228 1.5h1M258 1.5h1M283 1.5h1M333 1.5h1M338 1.5h1M361 1.5h1M0 2.5h1M22 2.5h1M29 2.5h1M51 2.5h1M67 2.5h1M77 2.5h1M108 2.5h1M119 2.5h1M132 2.5h1M143 2.5h1M165 2.5h1M174 2.5h1M194 2.5h1M206 2.5h1M281 2.5h1M313 2.5h1M321 2.5h1M342 2.5h1M353 2.5h1M366 2.5h1M30 3.5h1M41 3.5h1M49 3.5h1M58 3.5h1M63 3.5h2M67 3.5h2M84 3.5h1M111 3.5h1M145 3.5h1M174 3.5h1M190 3.5h1M202 3.5h1M244 3.5h1M275 3.5h1M293 3.5h1M317 3.5h1M337 3.5h1M350 3.5h1M352 3.5h1M354 3.5h1M368 3.5h1M19 4.5h1M77 4.5h1M93 4.5h1M115 4.5h2M131 4.5h1M133 4.5h1M153 4.5h1M161 4.5h1M176 4.5h1M211 4.5h2M247 4.5h1M260 4.5h1M270 4.5h1M278 4.5h1M305 4.5h1M309 4.5h1M362 4.5h1M10 5.5h1M15 5.5h1M48 5.5h1M62 5.5h1M64 5.5h1M81 5.5h1M130 5.5h1M139 5.5h1M149 5.5h1M157 5.5h1M166 5.5h1M183 5.5h1M215 5.5h1M227 5.5h1M246 5.5h1M252 5.5h1M277 5.5h1M340 5.5h1M359 5.5h1M6 6.5h1M15 6.5h1M17 6.5h1M65 6.5h1M84 6.5h1M97 6.5h1M105 6.5h1M118 6.5h1M168 6.5h1M175 6.5h1M230 6.5h1M273 6.5h1M293 6.5h1M303 6.5h1M320 6.5h1M345 6.5h1M17 7.5h1M59 7.5h1M70 7.5h1M83 7.5h1M102 7.5h1M120 7.5h1M132 7.5h1M139 7.5h1M146 7.5h1M150 7.5h1M154 7.5h1M156 7.5h1M201 7.5h1M218 7.5h1M229 7.5h1M234 7.5h1M243 7.5h1M247 7.5h1M295 7.5h1M327 7.5h1M341 7.5h1M350 7.5h1M4 8.5h1M40 8.5h2M67 8.5h1M99 8.5h1M156 8.5h1M182 8.5h1M252 8.5h1M355 8.5h1M359 8.5h1M361 8.5h1M363 8.5h1M365 8.5h1M4 9.5h1M27 9.5h1M43 9.5h1M78 9.5h1M90 9.5h1M94 9.5h1M166 9.5h2M189 9.5h1M208 9.5h1M219 9.5h1M264 9.5h1M266 9.5h1M291 9.5h1M309 9.5h1M321 9.5h1M6 10.5h1M9 10.5h1M35 10.5h1M39 10.5h1M54 10.5h1M76 10.5h1M84 10.5h1M109 10.5h1M114 10.5h1M118 10.5h1M128 10.5h1M135 10.5h1M137 10.5h1M149 10.5h1M154 10.5h1M163 10.5h1M168 10.5h1M181 10.5h1M189 10.5h1M202 10.5h1M212 10.5h1M235 10.5h1M255 10.5h1M258 10.5h1M289 10.5h1M295 10.5h1M333 10.5h1M356 10.5h1M360 10.5h1M7 11.5h1M12 11.5h1M48 11.5h1M74 11.5h1M88 11.5h1M96 11.5h1M106 11.5h1M108 11.5h1M117 11.5h1M131 11.5h1M135 11.5h1M144 11.5h1M147 11.5h2M159 11.5h2M163 11.5h1M172 11.5h1M175 11.5h1M184 11.5h1M189 11.5h1M232 11.5h1M250 11.5h1M269 11.5h1M298 11.5h1M320 11.5h1M341 11.5h1M346 11.5h1M359 11.5h1M366 11.5h1M4 12.5h1M23 12.5h1M32 12.5h2M51 12.5h1M75 12.5h1M85 12.5h1M133 12.5h1M135 12.5h1M161 12.5h1M165 12.5h1M172 12.5h1M189 12.5h1M198 12.5h1M202 12.5h1M210 12.5h1M283 12.5h1M285 12.5h1M362 12.5h1M365 12.5h1M0 13.5h1M2 13.5h1M4 13.5h1M10 13.5h1M12 13.5h2M32 13.5h1M41 13.5h1M44 13.5h1M51 13.5h1M60 13.5h1M65 13.5h1M87 13.5h1M111 13.5h1M133 13.5h1M138 13.5h1M148 13.5h1M161 13.5h1M176 13.5h1M211 13.5h1M230 13.5h1M252 13.5h1M260 13.5h1M264 13.5h1M279 13.5h1M287 13.5h1M350 13.5h1M77 14.5h1M84 14.5h1M89 14.5h1M115 14.5h1M121 14.5h1M177 14.5h1M184 14.5h1M196 14.5h1M241 14.5h1M244 14.5h1M246 14.5h1M254 14.5h1M274 14.5h1M299 14.5h1M319 14.5h1M340 14.5h1M8 15.5h1M23 15.5h1M31 15.5h1M40 15.5h1M119 15.5h1M121 15.5h1M132 15.5h1M167 15.5h1M198 15.5h1M202 15.5h1M223 15.5h1M229 15.5h1M233 15.5h1M241 15.5h1M261 15.5h1M294 15.5h1M319 15.5h1M335 15.5h1M351 15.5h1M356 15.5h1M361 15.5h1M29 16.5h1M82 16.5h1M87 16.5h1M106 16.5h1M178 16.5h1M196 16.5h1M206 16.5h1M231 16.5h1M237 16.5h1M244 16.5h1M277 16.5h1M282 16.5h1M315 16.5h1M351 16.5h1M357 16.5h1M365 16.5h1M23 17.5h2M27 17.5h1M41 17.5h1M51 17.5h1M60 17.5h1M81 17.5h1M84 17.5h1M98 17.5h1M137 17.5h1M202 17.5h1M205 17.5h1M240 17.5h1M276 17.5h1M282 17.5h1M285 17.5h1M348 17.5h1M52 18.5h1M62 18.5h1M74 18.5h1M84 18.5h1M110 18.5h1M113 18.5h1M120 18.5h1M150 18.5h1M161 18.5h1M232 18.5h1M251 18.5h1M269 18.5h1M284 18.5h1M290 18.5h1M6 19.5h1M59 19.5h1M64 19.5h1M72 19.5h1M93 19.5h1M101 19.5h1M109 19.5h1M112 19.5h1M134 19.5h1M154 19.5h1M191 19.5h1M199 19.5h1M241 19.5h1M248 19.5h1M301 19.5h1M306 19.5h2M331 19.5h1M350 19.5h1M356 19.5h1M358 19.5h1M361 19.5h1M4 20.5h1M83 20.5h1M102 20.5h1M178 20.5h1M190 20.5h1M202 20.5h1M247 20.5h1M280 20.5h1M284 20.5h1M287 20.5h1M346 20.5h1M359 20.5h1M2 21.5h1M24 21.5h1M35 21.5h1M51 21.5h1M54 21.5h1M79 21.5h1M175 21.5h1M178 21.5h1M188 21.5h1M229 21.5h1M236 21.5h1M238 21.5h1M241 21.5h1M244 21.5h1M250 21.5h1M285 21.5h1M297 21.5h1M328 21.5h1M337 21.5h1M362 21.5h1M10 22.5h1M40 22.5h1M58 22.5h1M64 22.5h1M82 22.5h1M89 22.5h1M106 22.5h1M116 22.5h2M121 22.5h1M131 22.5h2M162 22.5h1M165 22.5h1M190 22.5h1M217 22.5h1M224 22.5h1M254 22.5h1M266 22.5h1M296 22.5h1M303 22.5h1M333 22.5h1M342 22.5h1M16 23.5h1M47 23.5h1M56 23.5h1M60 23.5h1M69 23.5h1M72 23.5h1M86 23.5h1M92 23.5h1M149 23.5h1M199 23.5h1M201 23.5h1M217 23.5h1M219 23.5h1M299 23.5h1M322 23.5h1M338 23.5h1M341 23.5h1M349 23.5h1M12 24.5h1M135 24.5h1M151 24.5h1M160 24.5h1M187 24.5h1M258 24.5h1M266 24.5h1M287 24.5h1M297 24.5h2M311 24.5h1M0 25.5h1M2 25.5h1M51 25.5h1M72 25.5h1M119 25.5h1M133 25.5h1M157 25.5h1M180 25.5h1M223 25.5h1M294 25.5h1M303 25.5h1M315 25.5h1M336 25.5h1M338 25.5h1M352 25.5h1M356 25.5h1M359 25.5h1M369 25.5h1M101 26.5h1M107 26.5h1M115 26.5h1M168 26.5h1M247 26.5h1M270 26.5h1M306 26.5h1M314 26.5h1M359 26.5h1M97 27.5h1M146 27.5h1M211 27.5h1M284 27.5h1M18 28.5h1M54 28.5h1M87 28.5h1M121 28.5h1M133 28.5h1M146 28.5h1M157 28.5h1M177 28.5h1M218 28.5h1M221 28.5h1M265 28.5h1M306 28.5h1M86 29.5h1M186 29.5h1M199 29.5h1M254 29.5h1M264 29.5h1M270 29.5h1M301 29.5h1M365 29.5h1M55 30.5h1M91 30.5h1M128 30.5h1M170 30.5h1M214 30.5h1M234 30.5h1M246 30.5h1M360 30.5h1M362 30.5h1M12 31.5h2M16 31.5h1M105 31.5h1M249 31.5h1M256 31.5h1M280 31.5h1M299 31.5h1M14 32.5h1M55 32.5h1M195 32.5h1M246 32.5h1M274 32.5h1M356 32.5h1M22 33.5h1M56 33.5h1M69 33.5h1M91 33.5h1M162 33.5h1M182 33.5h1M205 33.5h1M214 33.5h1M225 33.5h1M285 33.5h1M95 34.5h1M143 34.5h1M145 34.5h1M176 34.5h1M187 34.5h1M261 34.5h1M272 34.5h1M53 35.5h1M58 35.5h1M121 35.5h1M136 35.5h1M152 35.5h1M158 35.5h1M170 35.5h1M180 35.5h1M250 35.5h1M260 35.5h1M339 35.5h1M346 35.5h1M49 36.5h1M59 36.5h1M69 36.5h1M81 36.5h1M110 36.5h1M123 36.5h1M206 36.5h1M259 36.5h1M336 36.5h1M346 36.5h1M353 36.5h1M12 37.5h1M46 37.5h2M54 37.5h1M178 37.5h1M203 37.5h1M220 37.5h1M247 37.5h1M311 37.5h1M369 37.5h1M35 38.5h1M72 38.5h1M128 38.5h1M143 38.5h1M258 38.5h1M356 38.5h1M221 39.5h1M305 39.5h1M335 39.5h1"/>
<path stroke="#f6efdc" d="M6 0.5h1M28 0.5h1M72 0.5h1M82 0.5h1M116 0.5h1M138 0.5h1M159 0.5h1M164 0.5h1M229 0.5h1M239 0.5h1M250 0.5h1M287 0.5h1M302 0.5h1M319 0.5h1M332 0.5h1M361 0.5h1M23 1.5h1M55 1.5h1M80 1.5h1M95 1.5h1M99 1.5h1M123 1.5h1M157 1.5h1M204 1.5h1M234 1.5h1M242 1.5h1M293 1.5h1M314 1.5h1M334 1.5h1M356 1.5h1M1 2.5h1M24 2.5h1M31 2.5h1M41 2.5h1M45 2.5h1M47 2.5h1M69 2.5h1M75 2.5h2M92 2.5h1M204 2.5h1M235 2.5h1M242 2.5h1M247 2.5h1M268 2.5h1M291 2.5h1M311 2.5h1M315 2.5h1M332 2.5h1M349 2.5h1M362 2.5h2M369 2.5h1M20 3.5h1M118 3.5h1M120 3.5h1M132 3.5h2M204 3.5h1M210 3.5h1M223 3.5h1M250 3.5h1M258 3.5h1M270 3.5h1M312 3.5h1M320 3.5h2M326 3.5h1M344 3.5h1M358 3.5h1M45 4.5h1M47 4.5h1M54 4.5h1M58 4.5h1M78 4.5h1M81 4.5h1M84 4.5h1M89 4.5h1M91 4.5h1M129 4.5h1M141 4.5h1M145 4.5h2M162 4.5h1M172 4.5h1M179 4.5h1M240 4.5h1M244 4.5h1M254 4.5h1M283 4.5h1M286 4.5h1M303 4.5h1M313 4.5h1M321 4.5h1M346 4.5h1M361 4.5h1M56 5.5h1M59 5.5h1M82 5.5h1M98 5.5h1M100 5.5h1M109 5.5h1M117 5.5h1M128 5.5h1M131 5.5h1M185 5.5h1M200 5.5h1M220 5.5h1M229 5.5h1M236 5.5h1M245 5.5h1M263 5.5h1M266 5.5h2M285 5.5h1M296 5.5h1M304 5.5h1M312 5.5h1M321 5.5h1M325 5.5h1M336 5.5h1M366 5.5h1M14 6.5h1M40 6.5h1M49 6.5h1M60 6.5h1M103 6.5h2M137 6.5h1M142 6.5h1M164 6.5h1M190 6.5h1M208 6.5h1M220 6.5h1M229 6.5h1M241 6.5h1M264 6.5h1M281 6.5h1M288 6.5h1M297 6.5h2M305 6.5h1M313 6.5h1M332 6.5h1M339 6.5h1M355 6.5h1M362 6.5h1M365 6.5h1M8 7.5h1M18 7.5h1M34 7.5h1M46 7.5h2M51 7.5h2M69 7.5h1M84 7.5h1M101 7.5h1M104 7.5h1M108 7.5h1M113 7.5h1M141 7.5h1M144 7.5h1M159 7.5h1M183 7.5h1M185 7.5h1M200 7.5h1M204 7.5h1M239 7.5h1M264 7.5h2M273 7.5h1M283 7.5h2M300 7.5h1M310 7.5h1M328 7.5h1M349 7.5h1M360 7.5h1M362 7.5h1M365 7.5h1M3 8.5h1M36 8.5h1M38 8.5h1M55 8.5h1M92 8.5h1M96 8.5h1M127 8.5h1M129 8.5h1M133 8.5h1M145 8.5h1M151 8.5h1M160 8.5h1M164 8.5h1M183 8.5h1M209 8.5h1M234 8.5h1M265 8.5h1M267 8.5h1M270 8.5h1M309 8.5h1M321 8.5h1M332 8.5h1M356 8.5h1M25 9.5h1M29 9.5h1M32 9.5h2M50 9.5h1M75 9.5h1M77 9.5h1M98 9.5h1M105 9.5h1M112 9.5h1M115 9.5h1M118 9.5h1M136 9.5h1M144 9.5h1M236 9.5h1M240 9.5h1M274 9.5h1M295 9.5h1M339 9.5h1M22 10.5h1M36 10.5h1M38 10.5h1M49 10.5h1M67 10.5h1M139 10.5h1M156 10.5h1M169 10.5h1M184 10.5h1M191 10.5h1M195 10.5h1M204 10.5h1M208 10.5h1M211 10.5h1M218 10.5h1M229 10.5h1M248 10.5h1M263 10.5h1M267 10.5h1M293 10.5h1M301 10.5h1M334 10.5h1M18 11.5h2M30 11.5h1M34 11.5h1M75 11.5h1M98 11.5h1M105 11.5h1M183 11.5h1M185 11.5h1M227 11.5h2M244 11.5h1M264 11.5h2M274 11.5h1M293 11.5h1M316 11.5h1M321 11.5h2M327 11.5h1M348 11.5h1M351 11.5h1M30 12.5h1M93 12.5h1M100 12.5h1M103 12.5h1M108 12.5h1M110 12.5h1M142 12.5h1M153 12.5h1M171 12.5h1M191 12.5h1M226 12.5h1M239 12.5h1M254 12.5h1M294 12.5h1M305 12.5h1M307 12.5h1M309 12.5h1M357 12.5h1M367 12.5h1M8 13.5h1M21 13.5h1M28 13.5h1M40 13.5h1M50 13.5h1M93 13.5h1M144 13.5h1M155 13.5h1M164 13.5h1M183 13.5h1M195 13.5h1M206 13.5h1M213 13.5h1M225 13.5h1M269 13.5h1M325 13.5h1M332 13.5h1"/>
<path stroke="#f2e8ca" d="M18 0.5h1M47 0.5h1M59 0.5h1M77 0.5h1M160 0.5h1M222 0.5h1M238 0.5h1M260 0.5h1M263 0.5h1M280 0.5h1M294 0.5h1M309 0.5h1M313 0.5h1M12 1.5h1M29 1.5h1M34 1.5h1M42 1.5h1M50 1.5h1M63 1.5h1M97 1.5h1M103 1.5h1M109 1.5h1M112 1.5h1M114 1.5h1M144 1.5h1M168 1.5h1M183 1.5h1M255 1.5h1M276 1.5h1M289 1.5h1M311 1.5h1M316 1.5h1M321 1.5h1M323 1.5h1M336 1.5h1M4 2.5h1M7 2.5h1M39 2.5h2M52 2.5h1M55 2.5h1M68 2.5h1M140 2.5h1M188 2.5h1M190 2.5h1M197 2.5h2M203 2.5h1M217 2.5h1M221 2.5h1M228 2.5h1M232 2.5h1M246 2.5h1M263 2.5h1M283 2.5h1M295 2.5h1M327 2.5h1M11 3.5h1M28 3.5h1M55 3.5h1M59 3.5h1M82 3.5h2M86 3.5h1M94 3.5h1M98 3.5h1M103 3.5h1M116 3.5h1M138 3.5h1M158 3.5h1M160 3.5h1M195 3.5h1M206 3.5h1M234 3.5h1M264 3.5h1M297 3.5h1M307 3.5h1M346 3.5h1M8 4.5h1M17 4.5h1M21 4.5h1M59 4.5h1M71 4.5h1M76 4.5h1M85 4.5h1M95 4.5h1M99 4.5h1M107 4.5h1M194 4.5h1M202 4.5h1M237 4.5h1M246 4.5h1M318 4.5h1M331 4.5h1M337 4.5h1M354 4.5h1M31 5.5h1M58 5.5h1M75 5.5h1M118 5.5h1M154 5.5h2M175 5.5h1M182 5.5h1M184 5.5h1M207 5.5h1M223 5.5h1M232 5.5h1M251 5.5h1M287 5.5h1M290 5.5h1M294 5.5h1M300 5.5h2M308 5.5h2M25 6.5h1M41 6.5h1M51 6.5h1M61 6.5h1M63 6.5h1M83 6.5h1M101 6.5h1M107 6.5h1M119 6.5h1M128 6.5h1M136 6.5h1M159 6.5h1M222 6.5h1M236 6.5h3M245 6.5h1M257 6.5h1M259 6.5h1M267 6.5h1M276 6.5h1M278 6.5h1M324 6.5h1M337 6.5h1M347 6.5h1M349 6.5h1M366 6.5h1M368 6.5h1M0 7.5h1M40 7.5h2M53 7.5h1M57 7.5h1M65 7.5h1M82 7.5h1M97 7.5h1M166 7.5h1M178 7.5h1M211 7.5h1M235 7.5h1M315 7.5h1M321 7.5h1M354 7.5h2M363 7.5h1M21 8.5h1M25 8.5h1M89 8.5h1M95 8.5h1M117 8.5h1M123 8.5h2M130 8.5h2M159 8.5h1M231 8.5h1M245 8.5h2M287 8.5h2M319 8.5h1M322 8.5h1M325 8.5h1M7 9.5h1M16 9.5h1M20 9.5h1M38 9.5h1M45 9.5h1M62 9.5h1M108 9.5h1M110 9.5h1M151 9.5h1M179 9.5h1M192 9.5h1M202 9.5h1M212 9.5h1M224 9.5h2M286 9.5h1M302 9.5h1M315 9.5h1M340 9.5h1M345 9.5h1M360 9.5h1M365 9.5h1M2 10.5h1M24 10.5h1M27 10.5h1M32 10.5h1M45 10.5h1M63 10.5h1M71 10.5h1M78 10.5h1M80 10.5h1M99 10.5h1M177 10.5h1M194 10.5h1M209 10.5h1M223 10.5h1M259 10.5h1M270 10.5h1M281 10.5h1M314 10.5h1M354 10.5h1M366 10.5h1M14 11.5h1M29 11.5h1M40 11.5h1M42 11.5h1M53 11.5h3M72 11.5h1M111 11.5h1M122 11.5h1M124 11.5h1M130 11.5h1M138 11.5h1M155 11.5h1M180 11.5h1M214 11.5h1M273 11.5h1M296 11.5h1M299 11.5h1M306 11.5h1M330 11.5h1M350 11.5h1M354 11.5h1M362 11.5h2M40 12.5h1M58 12.5h1M66 12.5h1M84 12.5h1M86 12.5h1M96 12.5h1M113 12.5h1M122 12.5h1M155 12.5h1M175 12.5h1M182 12.5h1M188 12.5h1M203 12.5h1M256 12.5h1M263 12.5h1M315 12.5h1M38 13.5h1M102 13.5h1M146 13.5h1M167 13.5h1M173 13.5h1M209 13.5h1M246 13.5h1M293 13.5h1M319 13.5h1M328 13.5h1M343 13.5h1M361 13.5h1M24 14.5h1M141 14.5h1M261 14.5h1M318 14.5h1M13 15.5h1M89 15.5h1M160 15.5h1M185 15.5h1M278 15.5h1M315 15.5h1M32 16.5h1M96 16.5h1M76 17.5h1M197 17.5h1M69 18.5h1M147 18.5h1M175 18.5h1M186 18.5h1M3 19.5h1M68 19.5h1M71 19.5h1M193 19.5h1M226 19.5h1M240 19.5h1M264 19.5h1M289 19.5h1M14 20.5h1M35 20.5h1M74 20.5h1M255 20.5h1M289 20.5h1M309 20.5h1M344 20.5h1M97 21.5h1M195 21.5h1M249 21.5h1M50 22.5h1M192 22.5h1M194 22.5h1M256 22.5h1M348 22.5h1M81 23.5h1M213 23.5h1M218 23.5h1M347 23.5h1M354 23.5h1M116 24.5h1M235 24.5h1M292 24.5h1M321 24.5h1M139 25.5h1M167 25.5h1M240 25.5h1M345 25.5h1"/>
<path stroke="#ede0b8" d="M5 0.5h1M9 0.5h1M15 0.5h1M25 0.5h1M32 0.5h1M85 0.5h1M90 0.5h1M105 0.5h1M121 0.5h2M140 0.5h1M146 0.5h1M151 0.5h1M155 0.5h1M165 0.5h1M173 0.5h1M257 0.5h1M275 0.5h1M308 0.5h1M342 0.5h1M357 0.5h1M365 0.5h2M369 0.5h1M16 1.5h1M22 1.5h1M52 1.5h1M60 1.5h1M72 1.5h1M77 1.5h1M94 1.5h1M104 1.5h1M138 1.5h1M153 1.5h1M170 1.5h1M205 1.5h1M207 1.5h1M214 1.5h1M229 1.5h1M247 1.5h1M260 1.5h1M284 1.5h1M291 1.5h1M328 1.5h1M332 1.5h1M357 1.5h1M25 2.5h1M36 2.5h1M44 2.5h1M80 2.5h1M86 2.5h1M103 2.5h2M107 2.5h1M114 2.5h2M121 2.5h1M124 2.5h1M142 2.5h1M161 2.5h1M170 2.5h1M215 2.5h1M220 2.5h1M243 2.5h1M251 2.5h1M303 2.5h1M334 2.5h1M8 3.5h1M21 3.5h1M35 3.5h1M43 3.5h1M51 3.5h1M53 3.5h1M123 3.5h1M147 3.5h1M156 3.5h1M166 3.5h1M183 3.5h1M199 3.5h1M227 3.5h1M296 3.5h1M316 3.5h1M328 3.5h1M332 3.5h1M347 3.5h1M364 3.5h1M7 4.5h1M22 4.5h1M32 4.5h1M41 4.5h1M49 4.5h1M56 4.5h1M64 4.5h1M86 4.5h1M105 4.5h1M112 4.5h1M117 4.5h1M174 4.5h1M192 4.5h1M219 4.5h1M242 4.5h1M253 4.5h1M256 4.5h1M259 4.5h1M285 4.5h1M289 4.5h1M302 4.5h1M317 4.5h1M1 5.5h1M14 5.5h1M16 5.5h1M41 5.5h1M44 5.5h1M60 5.5h1M68 5.5h1M92 5.5h1M103 5.5h1M108 5.5h1M114 5.5h2M135 5.5h1M152 5.5h1M158 5.5h1M224 5.5h1M240 5.5h1M271 5.5h1M274 5.5h1M295 5.5h1M306 5.5h1M310 5.5h1M313 5.5h1M330 5.5h1M344 5.5h1M362 5.5h1M2 6.5h1M10 6.5h1M29 6.5h1M38 6.5h1M43 6.5h1M57 6.5h1M62 6.5h1M69 6.5h1M89 6.5h1M122 6.5h1M143 6.5h1M167 6.5h1M176 6.5h2M183 6.5h1M215 6.5h1M218 6.5h1M226 6.5h1M256 6.5h1M279 6.5h1M285 6.5h1M308 6.5h2M314 6.5h1M325 6.5h2M351 6.5h1M363 6.5h1M2 7.5h1M29 7.5h1M36 7.5h1M56 7.5h1M63 7.5h1M66 7.5h1M135 7.5h1M140 7.5h1M151 7.5h1M196 7.5h1M203 7.5h1M217 7.5h1M314 7.5h1M324 7.5h1M23 8.5h1M27 8.5h1M48 8.5h1M66 8.5h1M74 8.5h2M85 8.5h1M109 8.5h1M134 8.5h1M138 8.5h1M144 8.5h1M163 8.5h1M235 8.5h1M310 8.5h1M330 8.5h1M339 8.5h1M345 8.5h1M354 8.5h1M358 8.5h1M362 8.5h1M364 8.5h1M10 9.5h1M12 9.5h1M48 9.5h1M65 9.5h1M81 9.5h1M86 9.5h1M101 9.5h1M119 9.5h1M137 9.5h1M154 9.5h1M159 9.5h1M162 9.5h1M174 9.5h1M177 9.5h1M222 9.5h1M263 9.5h1M279 9.5h1M297 9.5h1M299 9.5h1M301 9.5h1M306 9.5h2M310 9.5h1M335 9.5h1M344 9.5h1M5 10.5h1M23 10.5h1M28 10.5h1M37 10.5h1M53 10.5h1M143 10.5h1M165 10.5h1M186 10.5h1M246 10.5h1M252 10.5h1M262 10.5h1M279 10.5h1M284 10.5h1M291 10.5h1M308 10.5h1M328 10.5h1M343 10.5h1M6 11.5h1M13 11.5h1M46 11.5h1M51 11.5h1M76 11.5h1M81 11.5h1M95 11.5h1M114 11.5h1M166 11.5h1M193 11.5h1M220 11.5h1M223 11.5h1M237 11.5h1M240 11.5h1M257 11.5h1M259 11.5h1M294 11.5h1M315 11.5h1M323 11.5h1M328 11.5h1M339 11.5h1M367 11.5h1M3 12.5h1M16 12.5h1M36 12.5h1M42 12.5h1M44 12.5h1M61 12.5h2M72 12.5h1M81 12.5h2M98 12.5h1M106 12.5h1M150 12.5h1M157 12.5h1M159 12.5h1M162 12.5h1M197 12.5h1M211 12.5h1M216 12.5h1M277 12.5h1M293 12.5h1M299 12.5h1M324 12.5h1M327 12.5h1M335 12.5h1M346 12.5h1M350 12.5h1M22 13.5h2M76 13.5h1M89 13.5h1M91 13.5h1M114 13.5h1M166 13.5h1M180 13.5h1M221 13.5h1M240 13.5h1M263 13.5h1M267 13.5h1M275 13.5h1M304 13.5h1M314 13.5h1M330 13.5h1M348 13.5h1M5 14.5h1M81 14.5h1M172 14.5h1M209 14.5h1M220 14.5h1M278 14.5h1M337 14.5h1M354 14.5h1M100 15.5h1M108 15.5h1M126 15.5h1M131 15.5h1M276 15.5h1M325 15.5h1M354 15.5h1M44 16.5h1M47 16.5h1M67 16.5h1M80 16.5h1M125 16.5h1M134 16.5h1M222 16.5h1M281 16.5h1M338 16.5h1M4 17.5h1M56 17.5h1M69 17.5h1M88 17.5h1M126 17.5h1M146 17.5h1M167 17.5h1M195 17.5h1M222 17.5h1M317 17.5h1M344 17.5h1M9 18.5h1M17 18.5h1M29 18.5h1M38 18.5h1M47 18.5h1M56 18.5h1M93 18.5h1M177 18.5h1M184 18.5h1M187 18.5h1M243 18.5h1M333 18.5h1M348 18.5h1M364 18.5h1M18 19.5h1M20 19.5h1M23 19.5h1M36 19.5h1M105 19.5h1M123 19.5h1M127 19.5h1M144 19.5h1M152 19.5h2M160 19.5h1M169 19.5h1M192 19.5h1M222 19.5h1M252 19.5h1M290 19.5h1M36 20.5h1M75 20.5h1M125 20.5h2M197 20.5h1M211 20.5h1M221 20.5h1M226 20.5h1M239 20.5h1M325 20.5h1M332 20.5h1M19 21.5h1M28 21.5h1M34 21.5h1M159 21.5h1M191 21.5h1M197 21.5h1M231 21.5h1M272 21.5h1M283 21.5h1M288 21.5h1M344 21.5h1M6 22.5h1M9 22.5h1M44 22.5h1M83 22.5h1M155 22.5h1M182 22.5h1M287 22.5h1M297 22.5h1M329 22.5h1M2 23.5h1M28 23.5h1M50 23.5h1M68 23.5h1M78 23.5h1M120 23.5h1M127 23.5h1M189 23.5h1M192 23.5h1M226 23.5h1M240 23.5h1M267 23.5h1M315 23.5h1M332 23.5h1M4 24.5h2M56 24.5h1M78 24.5h1M192 24.5h1M203 24.5h1M267 24.5h1M309 24.5h1M34 25.5h1M50 25.5h1M68 25.5h1M83 25.5h1M105 25.5h1M116 25.5h1M172 25.5h1M177 25.5h1M184 25.5h1M250 25.5h1M283 25.5h1M302 25.5h1"/>
<path stroke="#e8d8a6" d="M2 0.5h1M10 0.5h1M21 0.5h1M26 0.5h1M50 0.5h1M64 0.5h1M81 0.5h1M92 0.5h1M94 0.5h1M103 0.5h1M115 0.5h1M142 0.5h2M152 0.5h2M199 0.5h1M224 0.5h1M240 0.5h1M295 0.5h1M301 0.5h1M325 0.5h1M15 1.5h1M25 1.5h1M65 1.5h1M84 1.5h1M91 1.5h1M93 1.5h1M101 1.5h1M125 1.5h1M140 1.5h1M142 1.5h1M150 1.5h1M158 1.5h1M165 1.5h1M181 1.5h2M200 1.5h1M223 1.5h1M225 1.5h1M235 1.5h1M271 1.5h1M319 1.5h1M322 1.5h1M360 1.5h1M11 2.5h2M42 2.5h1M48 2.5h1M63 2.5h1M66 2.5h1M97 2.5h1M106 2.5h1M117 2.5h1M173 2.5h1M237 2.5h1M261 2.5h1M292 2.5h1M322 2.5h1M330 2.5h1M347 2.5h1M1 3.5h1M47 3.5h1M61 3.5h1M75 3.5h1M101 3.5h1M124 3.5h2M179 3.5h1M228 3.5h2M247 3.5h1M322 3.5h1M359 3.5h1M369 3.5h1M3 4.5h1M13 4.5h1M24 4.5h1M44 4.5h1M72 4.5h1M82 4.5h1M139 4.5h1M187 4.5h1M190 4.5h1M209 4.5h2M220 4.5h1M264 4.5h1M288 4.5h1M297 4.5h1M301 4.5h1M307 4.5h1M316 4.5h1M353 4.5h1M52 5.5h2M57 5.5h1M72 5.5h1M105 5.5h1M127 5.5h1M136 5.5h1M147 5.5h1M161 5.5h1M169 5.5h1M180 5.5h1M196 5.5h1M206 5.5h1M211 5.5h1M218 5.5h1M225 5.5h2M247 5.5h1M250 5.5h1M280 5.5h1M284 5.5h1M293 5.5h1M298 5.5h1M339 5.5h1M31 6.5h1M48 6.5h1M110 6.5h1M115 6.5h1M123 6.5h1M127 6.5h1M132 6.5h1M148 6.5h1M160 6.5h1M178 6.5h1M201 6.5h1M212 6.5h1M227 6.5h1M255 6.5h1M280 6.5h1M318 6.5h1M322 6.5h1M331 6.5h1M341 6.5h1M360 6.5h1M14 7.5h1M28 7.5h1M39 7.5h1M64 7.5h1M72 7.5h1M89 7.5h1M127 7.5h1M142 7.5h1M167 7.5h1M181 7.5h1M194 7.5h1M236 7.5h1M251 7.5h1M262 7.5h1M275 7.5h2M288 7.5h1M299 7.5h1M316 7.5h1M347 7.5h1M29 8.5h1M35 8.5h1M53 8.5h1M64 8.5h1M78 8.5h1M80 8.5h3M115 8.5h1M118 8.5h1M139 8.5h2M201 8.5h1M211 8.5h1M221 8.5h1M228 8.5h1M230 8.5h1M233 8.5h1M255 8.5h1M284 8.5h1M302 8.5h1M305 8.5h1M323 8.5h1M17 9.5h1M35 9.5h2M54 9.5h1M99 9.5h1M132 9.5h1M170 9.5h1M184 9.5h1M187 9.5h1M193 9.5h1M195 9.5h1M223 9.5h1M243 9.5h1M246 9.5h1M269 9.5h1M283 9.5h1M294 9.5h1M319 9.5h1M333 9.5h1M347 9.5h1M355 9.5h1M363 9.5h1M369 9.5h1M58 10.5h1M82 10.5h1M87 10.5h1M94 10.5h1M106 10.5h1M119 10.5h1M125 10.5h1M147 10.5h1M238 10.5h1M257 10.5h1M292 10.5h1M351 10.5h1M357 10.5h1M15 11.5h1M37 11.5h2M68 11.5h2M71 11.5h1M103 11.5h1M113 11.5h1M119 11.5h1M145 11.5h1M181 11.5h1M195 11.5h1M197 11.5h1M212 11.5h1M253 11.5h1M272 11.5h1M281 11.5h1M314 11.5h1M2 12.5h1M10 12.5h1M39 12.5h1M48 12.5h1M54 12.5h1M67 12.5h1M74 12.5h1M94 12.5h1M123 12.5h1M138 12.5h1M145 12.5h1M258 12.5h1M272 12.5h1M284 12.5h1M304 12.5h1M313 12.5h1M316 12.5h1M322 12.5h1M325 12.5h1M328 12.5h1M360 12.5h1M3 13.5h1M7 13.5h1M29 13.5h1M105 13.5h1M118 13.5h1M123 13.5h1M224 13.5h1M228 13.5h1M271 13.5h1M282 13.5h1M322 13.5h1M327 13.5h1M25 14.5h1M41 14.5h1M56 14.5h1M139 14.5h1M158 14.5h1M179 14.5h1M192 14.5h1M286 14.5h1M343 14.5h1M369 14.5h1M73 15.5h1M239 15.5h1M245 15.5h1M248 15.5h1M322 15.5h1M324 15.5h1M330 15.5h1M3 16.5h1M11 16.5h1M41 16.5h3M46 16.5h1M76 16.5h1M83 16.5h1M131 16.5h2M175 16.5h1M186 16.5h1M192 16.5h1M213 16.5h1M219 16.5h1M299 16.5h1M328 16.5h1M334 16.5h1M368 16.5h1M0 17.5h1M5 17.5h1M44 17.5h1M327 17.5h1M68 18.5h1M91 18.5h1M94 18.5h2M133 18.5h1M180 18.5h1M315 18.5h1M345 18.5h1M366 18.5h1M25 19.5h1M39 19.5h1M196 19.5h1M328 19.5h1M6 20.5h1M43 20.5h1M60 20.5h1M90 20.5h1M96 20.5h1M189 20.5h1M349 20.5h1M90 21.5h1M142 21.5h1M183 21.5h1M220 21.5h1M302 21.5h1M306 21.5h1M339 21.5h1M345 21.5h1M349 21.5h1M16 22.5h1M19 22.5h1M38 22.5h1M55 22.5h1M59 22.5h1M69 22.5h1M78 22.5h1M81 22.5h1M159 22.5h2M246 22.5h1M310 22.5h1M4 23.5h1M25 23.5h1M80 23.5h1M88 23.5h1M121 23.5h1M150 23.5h1M164 23.5h1M195 23.5h1M204 23.5h1M228 23.5h1M261 23.5h1M296 23.5h1M311 23.5h1M327 23.5h1M16 24.5h1M21 24.5h1M32 24.5h1M43 24.5h1M81 24.5h1M178 24.5h1M199 24.5h1M226 24.5h1M296 24.5h1M315 24.5h1M361 24.5h1M364 24.5h1M10 25.5h1M38 25.5h1M85 25.5h1M124 25.5h1M132 25.5h1M144 25.5h1M155 25.5h1M162 25.5h1M198 25.5h1M255 25.5h1M282 25.5h1M329 25.5h1"/>
<path stroke="#e4d094" d="M24 0.5h1M38 0.5h1M65 0.5h1M109 0.5h1M133 0.5h1M150 0.5h1M176 0.5h1M180 0.5h1M198 0.5h1M216 0.5h1M228 0.5h1M267 0.5h1M289 0.5h1M307 0.5h1M7 1.5h1M14 1.5h1M40 1.5h1M47 1.5h2M61 1.5h1M74 1.5h1M98 1.5h1M107 1.5h1M119 1.5h1M132 1.5h1M143 1.5h1M194 1.5h2M199 1.5h1M218 1.5h1M232 1.5h1M245 1.5h1M249 1.5h1M253 1.5h1M274 1.5h1M278 1.5h1M313 1.5h1M327 1.5h1M352 1.5h2M369 1.5h1M18 2.5h1M26 2.5h1M74 2.5h1M84 2.5h1M138 2.5h1M141 2.5h1M150 2.5h1M184 2.5h1M192 2.5h1M216 2.5h1M258 2.5h1M276 2.5h1M296 2.5h1M320 2.5h1M329 2.5h1M335 2.5h1M338 2.5h1M346 2.5h1M352 2.5h1M360 2.5h2M16 3.5h1M38 3.5h1M85 3.5h1M88 3.5h1M157 3.5h1M159 3.5h1M161 3.5h1M165 3.5h1M231 3.5h1M330 3.5h1M361 3.5h1M367 3.5h1M30 4.5h1M51 4.5h1M65 4.5h1M68 4.5h1M80 4.5h1M92 4.5h1M94 4.5h1M108 4.5h1M122 4.5h1M142 4.5h1M226 4.5h1M233 4.5h1M245 4.5h1M272 4.5h1M292 4.5h2M306 4.5h1M329 4.5h1M338 4.5h1M368 4.5h1M5 5.5h1M24 5.5h1M40 5.5h1M47 5.5h1M66 5.5h1M77 5.5h1M87 5.5h1M93 5.5h1M119 5.5h1M174 5.5h1M186 5.5h2M193 5.5h1M231 5.5h1M253 5.5h1M265 5.5h1M283 5.5h1M307 5.5h1M316 5.5h1M329 5.5h1M363 5.5h1M52 6.5h1M88 6.5h1M171 6.5h1M197 6.5h1M235 6.5h1M296 6.5h1M330 6.5h1M350 6.5h1M357 6.5h2M22 7.5h1M24 7.5h1M43 7.5h1M45 7.5h1M60 7.5h1M92 7.5h1M100 7.5h1M115 7.5h1M118 7.5h1M122 7.5h2M133 7.5h1M148 7.5h1M205 7.5h1M259 7.5h1M282 7.5h1M313 7.5h1M358 7.5h1M361 7.5h1M20 8.5h1M39 8.5h1M69 8.5h1M98 8.5h1M101 8.5h1M112 8.5h2M120 8.5h1M136 8.5h1M154 8.5h1M191 8.5h1M220 8.5h1M258 8.5h1M279 8.5h1M298 8.5h1M303 8.5h1M306 8.5h1M0 9.5h1M31 9.5h1M37 9.5h1M53 9.5h1M59 9.5h1M120 9.5h1M128 9.5h1M145 9.5h1M149 9.5h1M182 9.5h1M245 9.5h1M247 9.5h1M270 9.5h1M330 9.5h1M334 9.5h1M343 9.5h1M12 10.5h1M30 10.5h1M68 10.5h1M79 10.5h1M182 10.5h1M197 10.5h1M228 10.5h1M249 10.5h1M288 10.5h1M309 10.5h1M326 10.5h1M337 10.5h1M358 10.5h1M368 10.5h1M3 11.5h1M22 11.5h2M50 11.5h1M92 11.5h1M99 11.5h1M116 11.5h1M133 11.5h2M139 11.5h2M142 11.5h2M164 11.5h1M170 11.5h1M196 11.5h1M208 11.5h1M277 11.5h1M301 11.5h1M329 11.5h1M347 11.5h1M365 11.5h1M25 12.5h1M99 12.5h1M115 12.5h1M119 12.5h1M141 12.5h1M149 12.5h1M213 12.5h1M232 12.5h1M243 12.5h1M251 12.5h1M276 12.5h1M280 12.5h1M289 12.5h1M297 12.5h1M303 12.5h1M308 12.5h1M340 12.5h2M355 12.5h1M5 13.5h1M11 13.5h1M43 13.5h1M57 13.5h1M90 13.5h1M97 13.5h1M152 13.5h1M184 13.5h1M210 13.5h1M212 13.5h1M217 13.5h1M219 13.5h1M238 13.5h1M248 13.5h1M257 13.5h1M277 13.5h1M301 13.5h1M335 13.5h1M341 13.5h1M346 13.5h1M363 13.5h1M47 14.5h1M54 14.5h1M80 14.5h1M118 14.5h1M120 14.5h1M130 14.5h1M198 14.5h1M206 14.5h1M227 14.5h1M257 14.5h1M280 14.5h1M288 14.5h1M301 14.5h1M349 14.5h1M32 15.5h1M68 15.5h1M197 15.5h1M238 15.5h1M273 15.5h1M291 15.5h1M302 15.5h1M349 15.5h1M66 16.5h1M94 16.5h1M147 16.5h1M168 16.5h1M279 16.5h1M306 16.5h1M322 16.5h1M345 16.5h1M349 16.5h1M8 17.5h1M20 17.5h1M96 17.5h1M116 17.5h1M226 17.5h1M277 17.5h1M287 17.5h1M39 18.5h1M81 18.5h1M83 18.5h1M98 18.5h1M122 18.5h1M178 18.5h1M320 18.5h1M326 18.5h1M30 19.5h1M60 19.5h1M75 19.5h1M106 19.5h1M124 19.5h1M158 19.5h1M244 19.5h1M257 19.5h1M272 19.5h1M287 19.5h1M297 19.5h1M5 20.5h1M32 20.5h1M81 20.5h1M148 20.5h1M215 20.5h1M274 20.5h1M279 20.5h1M288 20.5h1M326 20.5h1M43 21.5h1M76 21.5h1M100 21.5h1M194 21.5h1M243 21.5h1M286 21.5h1M42 22.5h2M138 22.5h1M156 22.5h1M189 22.5h1M214 22.5h1M344 22.5h1M20 23.5h1M58 23.5h1M71 23.5h1M138 23.5h1M169 23.5h1M211 23.5h1M236 23.5h1M273 23.5h1M310 23.5h1M42 24.5h1M60 24.5h1M75 24.5h2M85 24.5h1M111 24.5h1M264 24.5h1M40 25.5h3M55 25.5h1M61 25.5h1M70 25.5h1M108 25.5h1M111 25.5h1M127 25.5h1M187 25.5h1M286 25.5h1M318 25.5h2"/>
<path stroke="#e0c883" d="M14 0.5h1M27 0.5h1M33 0.5h2M42 0.5h1M49 0.5h1M67 0.5h1M88 0.5h1M111 0.5h2M167 0.5h1M172 0.5h1M177 0.5h1M242 0.5h2M306 0.5h1M316 0.5h1M341 0.5h1M20 1.5h1M75 1.5h1M85 1.5h1M102 1.5h1M111 1.5h1M121 1.5h1M159 1.5h1M166 1.5h1M203 1.5h1M231 1.5h1M237 1.5h2M282 1.5h1M285 1.5h1M298 1.5h1M308 1.5h1M317 1.5h1M350 1.5h1M15 2.5h1M133 2.5h1M179 2.5h1M202 2.5h1M208 2.5h1M257 2.5h1M259 2.5h1M285 2.5h1M302 2.5h1M333 2.5h1M359 2.5h1M17 3.5h1M32 3.5h2M66 3.5h1M139 3.5h1M155 3.5h1M170 3.5h1M181 3.5h1M268 3.5h1M278 3.5h1M306 3.5h1M335 3.5h1M34 4.5h1M50 4.5h1M74 4.5h1M101 4.5h1M127 4.5h1M132 4.5h1M148 4.5h1M163 4.5h2M360 4.5h1M2 5.5h1M51 5.5h1M80 5.5h1M89 5.5h1M129 5.5h1M197 5.5h1M201 5.5h1M254 5.5h1M275 5.5h1M302 5.5h1M317 5.5h1M353 5.5h1M3 6.5h1M36 6.5h1M111 6.5h1M151 6.5h1M161 6.5h1M195 6.5h1M202 6.5h1M209 6.5h1M211 6.5h1M216 6.5h1M225 6.5h1M250 6.5h1M282 6.5h1M354 6.5h1M359 6.5h1M1 7.5h1M10 7.5h1M16 7.5h1M26 7.5h1M55 7.5h1M107 7.5h1M119 7.5h1M125 7.5h1M138 7.5h1M147 7.5h1M207 7.5h1M232 7.5h1M244 7.5h1M246 7.5h1M255 7.5h1M263 7.5h1M296 7.5h1M301 7.5h1M323 7.5h1M49 8.5h1M62 8.5h1M73 8.5h1M90 8.5h1M114 8.5h1M116 8.5h1M147 8.5h1M187 8.5h2M208 8.5h1M260 8.5h1M295 8.5h1M307 8.5h1M5 9.5h1M8 9.5h1M24 9.5h1M34 9.5h1M40 9.5h1M52 9.5h1M89 9.5h1M91 9.5h1M169 9.5h1M178 9.5h1M221 9.5h1M229 9.5h1M258 9.5h1M272 9.5h1M305 9.5h1M318 9.5h1M348 9.5h1M357 9.5h1M364 9.5h1M33 10.5h1M62 10.5h1M66 10.5h1M72 10.5h1M131 10.5h1M157 10.5h1M219 10.5h1M239 10.5h1M283 10.5h1M294 10.5h1M311 10.5h1M313 10.5h1M329 10.5h1M361 10.5h2M24 11.5h1M33 11.5h1M41 11.5h1M60 11.5h2M70 11.5h1M101 11.5h1M107 11.5h1M120 11.5h1M125 11.5h1M128 11.5h1M205 11.5h1M231 11.5h1M241 11.5h1M258 11.5h1M271 11.5h1M280 11.5h1M6 12.5h1M34 12.5h1M47 12.5h1M78 12.5h1M120 12.5h1M146 12.5h1M181 12.5h1M183 12.5h1M222 12.5h1M246 12.5h1M260 12.5h2M306 12.5h1M311 12.5h1M349 12.5h1M34 13.5h1M74 13.5h1M78 13.5h1M178 13.5h1M181 13.5h1M237 13.5h1M262 13.5h1M286 13.5h1M307 13.5h1M333 13.5h1M365 13.5h1M4 14.5h1M21 14.5h1M79 14.5h1M124 14.5h1M126 14.5h1M136 14.5h1M164 14.5h1M207 14.5h1M214 14.5h1M217 14.5h1M226 14.5h1M273 14.5h1M302 14.5h1M4 15.5h1M9 15.5h1M48 15.5h1M111 15.5h1M125 15.5h1M169 15.5h1M191 15.5h1M207 15.5h1M280 15.5h1M289 15.5h1M320 15.5h1M357 15.5h1M5 16.5h1M181 16.5h1M215 16.5h1M250 16.5h1M258 16.5h1M310 16.5h1M319 16.5h1M326 16.5h1M332 16.5h1M353 16.5h1M10 17.5h1M26 17.5h1M87 17.5h1M131 17.5h1M158 17.5h1M166 17.5h1M248 17.5h1M256 17.5h1M260 17.5h1M286 17.5h1M310 17.5h1M325 17.5h1M341 17.5h1M354 17.5h1M67 18.5h1M92 18.5h1M149 18.5h1M151 18.5h1M179 18.5h1M260 18.5h1M353 18.5h1M10 19.5h1M34 19.5h1M41 19.5h1M45 19.5h1M114 19.5h1M118 19.5h1M204 19.5h1M300 19.5h1M302 19.5h1M342 19.5h1M344 19.5h1M360 19.5h1M363 19.5h1M3 20.5h1M25 20.5h1M69 20.5h1M151 20.5h1M153 20.5h1M155 20.5h2M158 20.5h1M167 20.5h1M261 20.5h1M327 20.5h1M15 21.5h1M29 21.5h1M157 21.5h1M209 21.5h1M240 21.5h1M277 21.5h1M318 21.5h1M4 22.5h1M29 22.5h1M181 22.5h1M195 22.5h1M251 22.5h1M253 22.5h1M289 22.5h1M354 22.5h1M103 23.5h1M114 23.5h1M181 23.5h1M187 23.5h1M279 23.5h1M294 23.5h1M304 23.5h1M309 23.5h1M326 23.5h1M40 24.5h1M165 24.5h1M181 24.5h1M184 24.5h1M191 24.5h1M221 24.5h1M250 24.5h1M261 24.5h1M11 25.5h1M75 25.5h1M81 25.5h1M141 25.5h1M190 25.5h1M239 25.5h1M278 25.5h1M309 25.5h1M335 25.5h1M349 25.5h1M366 25.5h1M8 26.5h1M21 26.5h1M42 26.5h1M88 26.5h1M137 26.5h1M153 26.5h1M227 26.5h1M242 26.5h1M295 26.5h1M331 26.5h1M18 27.5h1M85 27.5h1M204 27.5h1M279 27.5h1M17 28.5h1M20 28.5h1M42 28.5h1M98 28.5h1M138 28.5h1M166 28.5h1M240 28.5h1M242 28.5h1M246 28.5h1M266 28.5h1M351 28.5h1M81 29.5h1M164 29.5h1M197 29.5h1M214 29.5h1M4 30.5h1M46 30.5h1M63 30.5h2M147 30.5h1M160 30.5h1M183 30.5h1M185 30.5h1M231 30.5h1M310 30.5h1M318 30.5h1M348 30.5h1M7 31.5h1M50 31.5h1M183 31.5h1M319 31.5h1M328 31.5h1M332 31.5h1M334 31.5h1M6 32.5h1M36 32.5h1M93 32.5h1M121 32.5h1M192 32.5h1M217 32.5h1M21 33.5h1M97 33.5h1M124 33.5h1M147 33.5h1M184 33.5h1M198 33.5h1M211 33.5h1M217 33.5h1M50 34.5h1M74 34.5h1M126 34.5h1M257 34.5h1M286 34.5h2M293 34.5h1M17 35.5h1M41 35.5h1M47 35.5h1M94 35.5h1M198 35.5h1M310 35.5h1M97 36.5h1M183 36.5h1M204 36.5h1M251 36.5h1M256 36.5h1M304 36.5h1M306 36.5h1M332 36.5h1M343 36.5h1M56 37.5h1M76 37.5h1M80 37.5h2M111 37.5h1M158 37.5h1M192 37.5h1M194 37.5h1M299 37.5h1M360 37.5h1M55 38.5h1M150 38.5h1M194 38.5h1M287 38.5h1M302 38.5h1M305 38.5h2M345 38.5h1M349 38.5h1M349 39.5h1"/>
<path stroke="#dbc071" d="M17 0.5h1M68 0.5h1M80 0.5h1M101 0.5h2M108 0.5h1M127 0.5h1M131 0.5h1M148 0.5h1M156 0.5h1M163 0.5h1M182 0.5h1M187 0.5h1M194 0.5h1M205 0.5h1M237 0.5h1M284 0.5h2M293 0.5h1M303 0.5h1M348 0.5h1M69 1.5h1M76 1.5h1M86 1.5h1M90 1.5h1M115 1.5h1M124 1.5h1M130 1.5h1M139 1.5h1M173 1.5h1M175 1.5h1M187 1.5h1M210 1.5h1M224 1.5h1M227 1.5h1M246 1.5h1M254 1.5h1M261 1.5h1M265 1.5h1M279 1.5h1M281 1.5h1M325 1.5h2M37 2.5h1M83 2.5h1M88 2.5h1M101 2.5h1M118 2.5h1M131 2.5h1M223 2.5h1M227 2.5h1M229 2.5h2M248 2.5h1M305 2.5h1M326 2.5h1M339 2.5h1M356 2.5h2M54 3.5h1M73 3.5h1M79 3.5h1M153 3.5h1M186 3.5h1M233 3.5h1M236 3.5h1M251 3.5h1M253 3.5h2M274 3.5h1M294 3.5h1M299 3.5h1M339 3.5h1M349 3.5h1M355 3.5h1M18 4.5h1M31 4.5h1M35 4.5h1M38 4.5h1M62 4.5h1M102 4.5h1M125 4.5h1M138 4.5h1M200 4.5h1M249 4.5h1M255 4.5h1M273 4.5h1M345 4.5h1M0 5.5h1M39 5.5h1M63 5.5h1M99 5.5h1M123 5.5h1M133 5.5h1M162 5.5h1M176 5.5h1M198 5.5h1M262 5.5h1M268 5.5h1M326 5.5h1M333 5.5h1M345 5.5h2M7 6.5h1M16 6.5h1M50 6.5h1M72 6.5h1M82 6.5h1M95 6.5h1M120 6.5h1M134 6.5h1M187 6.5h1M199 6.5h1M207 6.5h1M244 6.5h1M254 6.5h1M290 6.5h1M295 6.5h1M316 6.5h1M328 6.5h1M346 6.5h1M5 7.5h1M7 7.5h1M21 7.5h1M31 7.5h2M93 7.5h2M112 7.5h1M172 7.5h1M197 7.5h1M224 7.5h1M256 7.5h2M312 7.5h1M51 8.5h1M58 8.5h1M72 8.5h1M83 8.5h1M110 8.5h1M162 8.5h1M169 8.5h1M189 8.5h1M266 8.5h1M278 8.5h1M285 8.5h1M367 8.5h1M11 9.5h1M30 9.5h1M55 9.5h1M60 9.5h1M88 9.5h1M92 9.5h1M102 9.5h1M185 9.5h2M199 9.5h1M249 9.5h1M304 9.5h1M317 9.5h1M323 9.5h1M337 9.5h1M350 9.5h1M361 9.5h1M57 10.5h1M121 10.5h1M142 10.5h1M179 10.5h1M280 10.5h1M286 10.5h1M303 10.5h1M310 10.5h1M342 10.5h1M47 11.5h1M89 11.5h1M179 11.5h1M222 11.5h1M243 11.5h1M255 11.5h1M289 11.5h1M297 11.5h1M64 12.5h1M70 12.5h1M102 12.5h1M112 12.5h1M180 12.5h1M186 12.5h1M206 12.5h1M235 12.5h1M298 12.5h1M317 12.5h1M344 12.5h1M352 12.5h1M39 13.5h1M58 13.5h1M82 13.5h1M95 13.5h1M154 13.5h1M196 13.5h1M235 13.5h1M284 13.5h1M292 13.5h1M368 13.5h1M6 14.5h1M50 14.5h1M52 14.5h1M122 14.5h1M186 14.5h1M238 14.5h1M309 14.5h1M332 14.5h1M92 15.5h1M110 15.5h1M127 15.5h1M217 15.5h1M220 15.5h1M228 15.5h1M309 15.5h1M328 15.5h1M340 15.5h1M6 16.5h1M8 16.5h1M63 16.5h1M126 16.5h1M139 16.5h1M149 16.5h1M151 16.5h1M187 16.5h1M198 16.5h1M238 16.5h1M249 16.5h1M280 16.5h1M93 17.5h1M95 17.5h1M273 17.5h1M322 17.5h1M355 17.5h1M6 18.5h1M65 18.5h1M181 18.5h1M183 18.5h1M189 18.5h1M227 18.5h1M280 18.5h1M310 18.5h1M325 18.5h1M343 18.5h1M4 19.5h1M38 19.5h1M76 19.5h1M100 19.5h1M110 19.5h2M149 19.5h1M164 19.5h1M194 19.5h1M205 19.5h1M239 19.5h1M278 19.5h1M280 19.5h1M291 19.5h1M310 19.5h1M312 19.5h1M318 19.5h1M354 19.5h1M15 20.5h1M17 20.5h1M19 20.5h1M44 20.5h1M52 20.5h1M112 20.5h1M256 20.5h1M302 20.5h1M304 20.5h1M83 21.5h1M111 21.5h1M116 21.5h1M131 21.5h1M153 21.5h1M166 21.5h1M170 21.5h1M187 21.5h1M261 21.5h1M310 21.5h1M319 21.5h1M341 21.5h1M353 21.5h1M71 22.5h1M204 22.5h1M227 22.5h1M238 22.5h1M317 22.5h1M84 23.5h1M93 23.5h1M186 23.5h1M330 23.5h1M342 23.5h1M3 24.5h1M6 24.5h1M11 24.5h1M25 24.5h1M41 24.5h1M58 24.5h1M88 24.5h1M108 24.5h1M140 24.5h1M169 24.5h1M176 24.5h1M197 24.5h1M251 24.5h1M4 25.5h1M15 25.5h1M56 25.5h1M185 25.5h1M194 25.5h1M220 25.5h1M5 26.5h1M50 26.5h1M76 26.5h1M131 26.5h1M149 26.5h1M189 26.5h1M250 26.5h2M279 26.5h1M309 26.5h1M313 26.5h1M348 26.5h1M94 27.5h1M116 27.5h1M290 27.5h1M2 28.5h1M114 28.5h1M120 28.5h1M147 28.5h1M201 28.5h1M239 28.5h1M245 28.5h1M247 28.5h1M256 28.5h1M277 28.5h1M290 28.5h1M295 28.5h1M332 28.5h1M337 28.5h1M41 29.5h1M50 29.5h1M83 29.5h1M184 29.5h1M194 29.5h1M223 29.5h1M253 29.5h1M297 29.5h1M302 29.5h1M57 30.5h1M67 30.5h1M111 30.5h1M120 30.5h1M154 30.5h1M190 30.5h1M216 30.5h1M240 30.5h1M5 31.5h1M76 31.5h1M294 31.5h1M4 32.5h1M8 32.5h1M81 32.5h1M83 32.5h1M169 32.5h1M194 32.5h1M250 32.5h1M257 32.5h1M0 33.5h1M51 33.5h2M92 33.5h2M172 33.5h1M174 33.5h1M195 33.5h1M248 33.5h1M280 33.5h1M364 33.5h1M15 34.5h1M80 34.5h1M111 34.5h1M114 34.5h1M131 34.5h1M175 34.5h1M186 34.5h1M192 34.5h1M244 34.5h1M342 34.5h1M25 35.5h1M43 35.5h1M49 35.5h1M51 35.5h1M60 35.5h1M172 35.5h1M181 35.5h1M227 35.5h1M262 35.5h1M273 35.5h1M289 35.5h1M360 35.5h1M25 36.5h1M76 36.5h1M88 36.5h1M108 36.5h1M130 36.5h1M217 36.5h1M226 36.5h1M273 36.5h1M312 36.5h1M5 37.5h1M83 37.5h1M156 37.5h1M177 37.5h1M210 37.5h1M226 37.5h1M275 37.5h1M302 37.5h1M322 37.5h1M345 37.5h1M111 38.5h1M131 38.5h1M134 38.5h1M153 38.5h1M164 38.5h1M309 38.5h1M71 39.5h1M194 39.5h1M211 39.5h1M309 39.5h1"/>
<path stroke="#d6b85f" d="M11 0.5h1M20 0.5h1M74 0.5h1M78 0.5h1M98 0.5h1M114 0.5h1M129 0.5h1M147 0.5h1M175 0.5h1M188 0.5h2M219 0.5h1M241 0.5h1M264 0.5h1M273 0.5h1M343 0.5h1M19 1.5h1M33 1.5h1M51 1.5h1M83 1.5h1M88 1.5h1M135 1.5h1M137 1.5h1M141 1.5h1M145 1.5h1M147 1.5h1M248 1.5h1M256 1.5h1M288 1.5h1M309 1.5h1M324 1.5h1M330 1.5h1M344 1.5h1M54 2.5h1M71 2.5h1M73 2.5h1M155 2.5h1M201 2.5h1M218 2.5h1M267 2.5h1M269 2.5h1M287 2.5h1M12 3.5h1M93 3.5h1M129 3.5h1M207 3.5h1M276 3.5h1M304 3.5h1M124 4.5h1M135 4.5h1M178 4.5h1M221 4.5h1M228 4.5h1M243 4.5h1M323 4.5h1M359 4.5h1M21 5.5h1M25 5.5h2M90 5.5h1M140 5.5h1M248 5.5h1M335 5.5h1M1 6.5h1M39 6.5h1M124 6.5h1M126 6.5h1M129 6.5h1M135 6.5h1M152 6.5h1M158 6.5h1M165 6.5h1M186 6.5h1M217 6.5h1M240 6.5h1M252 6.5h2M260 6.5h1M110 7.5h1M184 7.5h1M192 7.5h1M226 7.5h1M238 7.5h1M240 7.5h1M242 7.5h1M269 7.5h1M280 7.5h1M289 7.5h1M298 7.5h1M303 7.5h1M52 8.5h1M63 8.5h1M107 8.5h1M148 8.5h1M166 8.5h1M171 8.5h1M225 8.5h1M229 8.5h1M282 8.5h1M318 8.5h1M26 9.5h1M41 9.5h1M73 9.5h2M121 9.5h1M180 9.5h1M191 9.5h1M205 9.5h1M210 9.5h1M251 9.5h1M253 9.5h2M256 9.5h1M273 9.5h1M275 9.5h1M277 9.5h1M300 9.5h1M331 9.5h1M336 9.5h1M359 9.5h1M26 10.5h1M46 10.5h1M56 10.5h1M138 10.5h1M153 10.5h1M193 10.5h1M266 10.5h1M268 10.5h1M273 10.5h1M316 10.5h1M331 10.5h1M4 11.5h1M63 11.5h1M79 11.5h1M137 11.5h1M154 11.5h1M211 11.5h1M292 11.5h1M300 11.5h1M310 11.5h1M317 11.5h1M340 11.5h1M7 12.5h1M91 12.5h1M105 12.5h1M127 12.5h1M131 12.5h1M139 12.5h1M170 12.5h1M245 12.5h1M287 12.5h1M296 12.5h1M331 12.5h1M124 13.5h1M143 13.5h1M158 13.5h1M171 13.5h1M243 13.5h1M289 13.5h1M299 13.5h1M302 13.5h1M323 13.5h1M349 13.5h1M10 14.5h2M17 14.5h1M28 14.5h1M31 14.5h1M85 14.5h1M116 14.5h1M252 14.5h1M292 14.5h1M12 15.5h1M81 15.5h1M99 15.5h1M117 15.5h1M137 15.5h1M153 15.5h1M172 15.5h1M192 15.5h1M236 15.5h1M251 15.5h1M297 15.5h1M364 15.5h1M114 16.5h1M164 16.5h1M195 16.5h1M216 16.5h1M227 16.5h1M243 16.5h1M251 16.5h1M254 16.5h1M260 16.5h1M302 16.5h1M312 16.5h2M327 16.5h1M344 16.5h1M18 17.5h1M28 17.5h1M114 17.5h1M164 17.5h1M186 17.5h1M192 17.5h1M198 17.5h1M230 17.5h1M233 17.5h1M239 17.5h1M250 17.5h1M265 17.5h1M274 17.5h1M284 17.5h1M299 17.5h1M306 17.5h1M313 17.5h1M315 17.5h1M332 17.5h1M349 17.5h1M28 18.5h1M43 18.5h1M46 18.5h1M75 18.5h1M166 18.5h1M168 18.5h1M204 18.5h1M213 18.5h1M262 18.5h1M319 18.5h1M7 19.5h1M24 19.5h1M44 19.5h1M47 19.5h2M74 19.5h1M85 19.5h1M136 19.5h1M185 19.5h1M255 19.5h1M273 19.5h1M326 19.5h1M368 19.5h1M41 20.5h1M85 20.5h1M172 20.5h1M223 20.5h1M257 20.5h1M259 20.5h1M278 20.5h1M328 20.5h1M3 21.5h1M93 21.5h1M164 21.5h1M167 21.5h1M199 21.5h1M251 21.5h1M278 21.5h1M300 21.5h1M342 21.5h1M354 21.5h1M360 21.5h1M36 22.5h1M130 22.5h1M147 22.5h1M153 22.5h1M173 22.5h1M177 22.5h1M186 22.5h1M228 22.5h1M360 22.5h1M148 23.5h1M167 23.5h1M234 23.5h1M239 23.5h1M348 23.5h1M353 23.5h1M366 23.5h1M19 24.5h1M27 24.5h1M118 24.5h1M167 24.5h1M177 24.5h1M186 24.5h1M217 24.5h1M247 24.5h1M302 24.5h1M313 24.5h1M318 24.5h1M338 24.5h1M6 25.5h1M18 25.5h1M87 25.5h1M131 25.5h1M138 25.5h1M147 25.5h1M153 25.5h1M158 25.5h1M168 25.5h1M182 25.5h1M222 25.5h1M262 25.5h1M273 25.5h1M306 25.5h1M313 25.5h1M328 25.5h1M342 25.5h2M353 25.5h1M18 26.5h1M46 26.5h1M93 26.5h1M111 26.5h1M151 26.5h1M185 26.5h1M190 26.5h1M192 26.5h1M235 26.5h1M261 26.5h1M316 26.5h1M89 27.5h1M153 27.5h1M239 27.5h1M47 28.5h1M132 28.5h1M142 28.5h1M158 28.5h1M187 28.5h1M194 28.5h1M204 28.5h1M284 28.5h1M328 28.5h1M360 28.5h1M114 29.5h1M118 29.5h1M156 29.5h1M131 30.5h1M138 30.5h1M164 30.5h1M169 30.5h1M194 30.5h1M239 30.5h1M299 30.5h1M344 30.5h1M368 30.5h1M61 31.5h1M108 31.5h1M147 31.5h1M151 31.5h1M153 31.5h1M179 31.5h1M194 31.5h1M204 31.5h1M239 31.5h1M313 31.5h1M368 31.5h1M12 32.5h1M15 32.5h1M48 32.5h1M71 32.5h1M172 32.5h1M189 32.5h1M239 32.5h1M287 32.5h1M24 33.5h1M43 33.5h1M54 33.5h1M72 33.5h1M227 33.5h1M245 33.5h1M11 34.5h1M28 34.5h1M52 34.5h1M279 34.5h1M295 34.5h1M3 35.5h1M8 35.5h1M76 35.5h1M81 35.5h1M192 35.5h1M195 35.5h1M204 35.5h1M245 35.5h1M325 35.5h1M36 36.5h1M57 36.5h1M93 36.5h1M138 36.5h1M194 36.5h1M10 37.5h1M93 37.5h1M125 37.5h1M164 37.5h1M181 37.5h1M195 37.5h1M222 37.5h1M244 37.5h1M274 37.5h1M279 37.5h1M295 37.5h1M297 37.5h1M332 37.5h1M16 38.5h1M149 38.5h1M222 38.5h1M319 38.5h1M344 38.5h1M362 38.5h1M172 39.5h2M181 39.5h1M189 39.5h1M279 39.5h1M354 39.5h1"/>
<path stroke="#d2b14e" d="M37 0.5h1M58 0.5h1M107 0.5h1M136 0.5h1M184 0.5h1M190 0.5h1M223 0.5h1M0 1.5h1M53 1.5h1M62 1.5h1M81 1.5h1M87 1.5h1M233 1.5h1M239 1.5h1M343 1.5h1M3 2.5h1M127 2.5h1M137 2.5h1M233 2.5h1M252 2.5h1M301 2.5h1M310 2.5h1M91 3.5h1M100 3.5h1M102 3.5h1M128 3.5h1M142 3.5h2M154 3.5h1M175 3.5h1M216 3.5h1M249 3.5h1M261 3.5h1M353 3.5h1M366 3.5h1M11 4.5h1M36 4.5h1M181 4.5h1M184 4.5h1M193 4.5h1M250 4.5h1M275 4.5h1M69 5.5h1M84 5.5h1M125 5.5h1M256 5.5h1M281 5.5h1M311 5.5h1M85 6.5h1M117 6.5h1M140 6.5h1M149 6.5h1M155 6.5h2M184 6.5h1M292 6.5h1M74 7.5h1M88 7.5h1M95 7.5h1M106 7.5h1M180 7.5h1M208 7.5h1M305 7.5h1M337 7.5h1M2 8.5h1M19 8.5h1M68 8.5h1M104 8.5h1M108 8.5h1M165 8.5h1M192 8.5h1M194 8.5h1M247 8.5h1M262 8.5h1M337 8.5h1M350 8.5h1M368 8.5h1M2 9.5h1M42 9.5h1M104 9.5h1M194 9.5h1M248 9.5h1M289 9.5h1M52 10.5h1M59 10.5h1M83 10.5h1M108 10.5h1M162 10.5h1M172 10.5h1M217 10.5h1M335 10.5h1M36 11.5h1M115 11.5h1M136 11.5h1M146 11.5h1M176 11.5h1M191 11.5h1M201 11.5h1M203 11.5h1M210 11.5h1M219 11.5h1M248 11.5h1M302 11.5h1M325 11.5h1M349 11.5h1M28 12.5h1M41 12.5h1M173 12.5h1M176 12.5h1M358 12.5h1M62 13.5h1M92 13.5h1M197 13.5h1M215 13.5h1M278 13.5h1M285 13.5h1M318 13.5h1M15 14.5h1M20 14.5h1M60 14.5h1M69 14.5h1M99 14.5h1M109 14.5h1M279 14.5h1M342 14.5h1M6 15.5h2M29 15.5h1M58 15.5h1M67 15.5h1M138 15.5h2M164 15.5h1M226 15.5h1M265 15.5h1M268 15.5h1M277 15.5h1M288 15.5h1M310 15.5h1M342 15.5h1M1 16.5h1M16 16.5h1M28 16.5h1M142 16.5h1M167 16.5h1M264 16.5h1M324 16.5h1M366 16.5h1M50 17.5h1M161 17.5h1M231 17.5h1M272 17.5h1M304 17.5h1M318 17.5h1M100 18.5h1M239 18.5h1M250 18.5h1M304 18.5h1M328 18.5h1M344 18.5h1M0 19.5h1M43 19.5h1M69 19.5h1M80 19.5h1M198 19.5h1M235 19.5h1M28 20.5h1M34 20.5h1M50 20.5h1M124 20.5h1M160 20.5h1M192 20.5h1M199 20.5h1M224 20.5h1M242 20.5h1M250 20.5h1M268 20.5h1M353 20.5h1M38 21.5h1M263 21.5h1M308 21.5h1M27 22.5h1M47 22.5h1M66 22.5h2M80 22.5h1M172 22.5h1M198 22.5h1M211 22.5h1M215 22.5h1M258 22.5h1M277 22.5h2M328 22.5h1M12 23.5h1M29 23.5h1M34 23.5h1M49 23.5h1M95 23.5h1M172 23.5h1M215 23.5h1M257 23.5h2M260 23.5h1M302 23.5h1M343 23.5h1M102 24.5h1M147 24.5h1M227 24.5h1M342 24.5h1M360 24.5h1M365 24.5h2M16 25.5h1M19 25.5h1M66 25.5h1M80 25.5h1M152 25.5h1M192 25.5h1M227 25.5h1M322 25.5h1M360 25.5h1M9 26.5h1M41 26.5h1M68 26.5h1M134 26.5h1M166 26.5h1M213 26.5h1M299 26.5h1M29 27.5h1M39 27.5h1M212 27.5h1M273 27.5h1M306 27.5h1M318 27.5h1M55 28.5h1M83 28.5h1M126 28.5h1M150 28.5h1M268 28.5h1M294 28.5h1M76 29.5h1M120 29.5h1M125 29.5h1M172 29.5h1M192 29.5h1M256 29.5h1M259 29.5h1M290 29.5h1M10 30.5h1M38 30.5h1M65 30.5h1M85 30.5h1M267 30.5h1M345 30.5h1M21 31.5h1M41 31.5h1M75 31.5h1M90 31.5h1M116 31.5h1M131 31.5h1M158 31.5h1M164 31.5h1M255 31.5h1M287 31.5h1M366 31.5h1M11 32.5h1M18 32.5h1M41 32.5h2M278 32.5h1M318 32.5h2M67 33.5h1M85 33.5h1M116 33.5h1M178 33.5h1M181 33.5h1M194 33.5h1M232 33.5h1M309 33.5h1M32 34.5h1M49 34.5h1M76 34.5h1M81 34.5h1M102 34.5h1M108 34.5h1M225 34.5h1M310 34.5h1M322 34.5h1M11 35.5h1M27 35.5h1M83 35.5h1M186 35.5h1M197 35.5h1M239 35.5h1M244 35.5h1M294 35.5h1M324 35.5h1M5 36.5h1M55 36.5h1M73 36.5h1M80 36.5h1M101 36.5h1M125 36.5h1M219 36.5h1M227 36.5h1M278 36.5h1M296 36.5h1M0 37.5h1M7 37.5h1M18 37.5h1M44 37.5h1M61 37.5h1M65 37.5h1M97 37.5h1M160 37.5h1M245 37.5h1M313 37.5h1M364 37.5h1M93 38.5h1M159 38.5h1M262 38.5h1M41 39.5h1M89 39.5h1M99 39.5h1M111 39.5h1"/>
<path stroke="#cea93c" d="M16 0.5h1M61 0.5h1M73 0.5h1M86 0.5h1M183 0.5h1M208 0.5h1M218 0.5h1M254 0.5h1M288 0.5h1M322 0.5h1M331 0.5h1M3 1.5h1M122 1.5h1M129 1.5h1M161 1.5h1M206 1.5h1M259 1.5h1M303 1.5h1M335 1.5h1M154 2.5h1M343 2.5h1M108 3.5h1M194 3.5h1M200 3.5h1M212 3.5h1M219 3.5h1M318 3.5h1M336 3.5h1M1 4.5h1M61 4.5h1M83 4.5h1M87 4.5h1M186 4.5h1M189 4.5h1M230 4.5h1M300 4.5h1M341 4.5h1M355 4.5h1M11 5.5h1M83 5.5h1M96 5.5h1M101 5.5h2M104 5.5h1M116 5.5h1M172 5.5h1M210 5.5h1M222 5.5h1M26 6.5h1M99 6.5h1M210 6.5h1M221 6.5h1M317 6.5h1M333 6.5h1M37 7.5h1M121 7.5h1M286 7.5h1M345 7.5h1M12 8.5h1M57 8.5h1M102 8.5h1M186 8.5h1M222 8.5h1M294 8.5h1M353 8.5h1M21 9.5h1M124 10.5h1M133 10.5h1M155 10.5h1M178 10.5h1M196 10.5h1M298 10.5h1M10 11.5h1M73 11.5h1M141 11.5h1M246 11.5h1M254 11.5h1M279 11.5h1M309 11.5h1M369 11.5h1M31 12.5h1M60 12.5h1M128 12.5h1M220 12.5h1M290 12.5h2M338 12.5h1M27 13.5h1M45 13.5h1M104 13.5h1M120 13.5h1M142 13.5h1M147 13.5h1M218 13.5h1M308 13.5h1M55 14.5h1M67 14.5h1M142 14.5h1M149 14.5h1M175 14.5h1M221 14.5h1M3 15.5h1M16 15.5h1M80 15.5h1M122 15.5h1M156 15.5h1M181 15.5h1M183 15.5h1M19 16.5h1M27 16.5h1M34 16.5h1M108 16.5h1M153 16.5h1M158 16.5h1M169 16.5h1M176 16.5h1M199 16.5h1M246 16.5h1M335 16.5h1M16 17.5h2M187 17.5h1M223 17.5h1M242 17.5h1M289 17.5h1M320 17.5h1M328 17.5h1M338 17.5h1M366 17.5h2M19 18.5h2M44 18.5h1M125 18.5h1M236 18.5h1M249 18.5h1M297 18.5h1M309 18.5h1M354 18.5h1M16 19.5h1M52 19.5h1M99 19.5h1M138 19.5h1M147 19.5h1M190 19.5h1M197 19.5h1M234 19.5h1M299 19.5h1M8 20.5h1M57 20.5h1M175 20.5h1M187 20.5h1M219 20.5h1M227 20.5h1M251 20.5h1M294 20.5h1M21 21.5h1M80 21.5h1M85 21.5h1M108 21.5h1M125 21.5h1M184 21.5h1M192 21.5h1M201 21.5h1M210 21.5h1M257 21.5h1M325 21.5h1M18 22.5h1M21 22.5h1M75 22.5h1M112 22.5h1M146 22.5h1M325 22.5h1M19 23.5h1M87 23.5h1M100 23.5h1M109 23.5h1M111 23.5h1M216 23.5h1M249 23.5h1M281 23.5h1M324 23.5h1M361 23.5h1M94 24.5h1M100 24.5h1M114 24.5h1M125 24.5h1M222 24.5h1M240 24.5h1M325 24.5h1M351 24.5h1M13 25.5h1M20 25.5h1M35 25.5h1M48 25.5h1M94 25.5h1M100 25.5h1M186 25.5h1M246 25.5h1M248 25.5h1M256 25.5h1M264 25.5h1M266 25.5h1M291 25.5h1M332 25.5h1M75 26.5h1M108 26.5h1M125 26.5h1M173 26.5h1M215 26.5h1M239 26.5h1M342 26.5h1M362 26.5h1M17 27.5h1M111 27.5h1M195 27.5h1M310 27.5h1M315 27.5h1M366 27.5h1M43 28.5h1M49 28.5h1M93 28.5h1M100 28.5h1M167 28.5h1M181 28.5h1M225 28.5h1M227 28.5h1M249 28.5h1M349 28.5h1M368 28.5h1M43 29.5h1M55 29.5h1M80 29.5h1M116 29.5h1M239 29.5h1M322 29.5h1M329 29.5h1M0 30.5h1M43 30.5h1M89 30.5h1M153 30.5h1M192 30.5h1M206 30.5h1M313 30.5h1M315 30.5h1M349 30.5h1M355 30.5h1M104 31.5h1M155 31.5h1M170 31.5h1M292 31.5h1M320 31.5h1M27 32.5h1M32 32.5h1M73 32.5h1M112 32.5h1M159 32.5h1M281 32.5h1M328 32.5h1M332 32.5h1M87 33.5h1M122 33.5h1M131 33.5h1M167 33.5h1M192 33.5h1M243 33.5h1M278 33.5h1M289 33.5h1M345 33.5h1M360 33.5h1M2 34.5h1M8 34.5h1M16 34.5h1M38 34.5h1M116 34.5h1M226 34.5h1M250 34.5h1M283 34.5h1M348 34.5h1M360 34.5h1M31 35.5h1M131 35.5h2M148 35.5h1M295 35.5h1M319 35.5h1M328 35.5h1M4 36.5h1M12 36.5h1M15 36.5h1M20 36.5h1M87 36.5h1M154 36.5h1M218 36.5h1M228 36.5h1M255 36.5h1M258 36.5h1M279 36.5h1M292 36.5h1M297 36.5h1M342 36.5h1M349 36.5h1M57 37.5h1M79 37.5h1M87 37.5h1M126 37.5h1M131 37.5h1M153 37.5h1M172 37.5h1M190 37.5h1M202 37.5h1M289 37.5h1M324 37.5h1M328 37.5h1M15 38.5h1M67 38.5h1M192 38.5h1M232 38.5h1M243 38.5h1M338 38.5h1M364 38.5h1M43 39.5h1M61 39.5h1M80 39.5h1M228 39.5h1M332 39.5h1"/>
<path stroke="#c9a12a" d="M13 0.5h1M29 0.5h1M35 0.5h1M41 0.5h1M48 0.5h1M55 0.5h1M75 0.5h2M99 0.5h1M120 0.5h1M168 0.5h1M195 0.5h1M203 0.5h1M206 0.5h2M209 0.5h1M214 0.5h1M221 0.5h1M230 0.5h1M296 0.5h1M326 0.5h1M338 0.5h1M4 1.5h2M13 1.5h1M21 1.5h1M27 1.5h1M67 1.5h2M82 1.5h1M110 1.5h1M148 1.5h1M174 1.5h1M177 1.5h1M197 1.5h1M215 1.5h1M266 1.5h1M273 1.5h1M301 1.5h1M306 1.5h1M331 1.5h1M366 1.5h1M368 1.5h1M49 2.5h1M59 2.5h2M125 2.5h1M128 2.5h2M180 2.5h2M186 2.5h1M195 2.5h1M207 2.5h1M226 2.5h1M271 2.5h1M273 2.5h1M300 2.5h1M308 2.5h1M318 2.5h1M331 2.5h1M348 2.5h1M350 2.5h1M25 3.5h1M52 3.5h1M92 3.5h1M97 3.5h1M135 3.5h1M178 3.5h1M193 3.5h1M246 3.5h1M259 3.5h2M300 3.5h1M302 3.5h1M345 3.5h1M357 3.5h1M4 4.5h1M25 4.5h2M29 4.5h1M43 4.5h1M75 4.5h1M110 4.5h1M151 4.5h1M159 4.5h1M166 4.5h1M177 4.5h1M188 4.5h1M225 4.5h1M236 4.5h1M310 4.5h1M315 4.5h1M319 4.5h1M325 4.5h1M335 4.5h1M342 4.5h1M367 4.5h1M369 4.5h1M29 5.5h1M54 5.5h1M85 5.5h1M111 5.5h1M170 5.5h1M213 5.5h1M282 5.5h1M292 5.5h1M348 5.5h2M354 5.5h1M358 5.5h1M4 6.5h1M19 6.5h1M79 6.5h1M92 6.5h1M147 6.5h1M150 6.5h1M162 6.5h1M192 6.5h1M223 6.5h1M247 6.5h1M249 6.5h1M262 6.5h1M294 6.5h1M312 6.5h1M327 6.5h1M352 6.5h1M364 6.5h1M367 6.5h1M25 7.5h1M91 7.5h1M99 7.5h1M116 7.5h1M128 7.5h1M130 7.5h1M143 7.5h1M152 7.5h1M163 7.5h3M168 7.5h1M170 7.5h1M210 7.5h1M249 7.5h1M261 7.5h1M267 7.5h1M292 7.5h2M306 7.5h1M308 7.5h1M311 7.5h1M320 7.5h1M322 7.5h1M343 7.5h1M348 7.5h1M367 7.5h1M369 7.5h1M13 8.5h2M22 8.5h1M37 8.5h1M56 8.5h1M61 8.5h1M84 8.5h1M158 8.5h1M173 8.5h1M177 8.5h1M259 8.5h1M296 8.5h1M313 8.5h1M333 8.5h1M341 8.5h1M343 8.5h1M352 8.5h1M57 9.5h1M100 9.5h1M111 9.5h1M130 9.5h1M172 9.5h1M176 9.5h1M213 9.5h1M233 9.5h1M235 9.5h1M237 9.5h1M281 9.5h1M314 9.5h1M322 9.5h1M324 9.5h1M346 9.5h1M31 10.5h1M43 10.5h1M86 10.5h1M88 10.5h1M105 10.5h1M190 10.5h1M198 10.5h1M216 10.5h1M231 10.5h1M282 10.5h1M348 10.5h1M28 11.5h1M66 11.5h1M80 11.5h1M150 11.5h1M158 11.5h1M161 11.5h1M165 11.5h1M186 11.5h1M204 11.5h1M226 11.5h1M261 11.5h1M337 11.5h1M368 11.5h1M0 12.5h1M8 12.5h1M14 12.5h1M50 12.5h1M71 12.5h1M73 12.5h1M125 12.5h1M163 12.5h1M201 12.5h1M223 12.5h1M295 12.5h1M301 12.5h1M323 12.5h1M329 12.5h1M19 13.5h1M67 13.5h1M94 13.5h1M141 13.5h1M156 13.5h1M160 13.5h1M163 13.5h1M188 13.5h1M216 13.5h1M268 13.5h1M303 13.5h1M310 13.5h1M321 13.5h1M355 13.5h1M0 14.5h1M8 14.5h1M12 14.5h1M27 14.5h1M42 14.5h3M57 14.5h1M65 14.5h1M68 14.5h1M72 14.5h2M75 14.5h1M83 14.5h1M87 14.5h1M100 14.5h1M111 14.5h1M125 14.5h1M131 14.5h1M134 14.5h1M150 14.5h1M153 14.5h1M156 14.5h1M160 14.5h1M166 14.5h1M168 14.5h1M182 14.5h1M185 14.5h1M194 14.5h2M212 14.5h2M239 14.5h2M267 14.5h1M297 14.5h2M306 14.5h1M310 14.5h1M313 14.5h1M325 14.5h2M344 14.5h1M353 14.5h1M5 15.5h1M15 15.5h1M43 15.5h2M47 15.5h1M61 15.5h1M76 15.5h1M98 15.5h1M116 15.5h1M128 15.5h1M130 15.5h1M147 15.5h1M152 15.5h1M158 15.5h1M171 15.5h1M174 15.5h2M179 15.5h1M186 15.5h2M189 15.5h1M195 15.5h1M204 15.5h2M210 15.5h1M222 15.5h1M240 15.5h1M262 15.5h1M306 15.5h1M313 15.5h1M326 15.5h1M338 15.5h1M344 15.5h1M366 15.5h1M18 16.5h1M25 16.5h1M50 16.5h1M53 16.5h1M85 16.5h1M92 16.5h1M99 16.5h1M116 16.5h1M138 16.5h1M159 16.5h1M165 16.5h1M179 16.5h1M189 16.5h1M197 16.5h1M203 16.5h1M208 16.5h1M226 16.5h1M228 16.5h1M235 16.5h1M239 16.5h2M253 16.5h1M255 16.5h1M257 16.5h1M268 16.5h1M278 16.5h1M296 16.5h1M309 16.5h1M318 16.5h1M321 16.5h1M325 16.5h1M342 16.5h2M360 16.5h1M362 16.5h1M13 17.5h1M15 17.5h1M19 17.5h1M25 17.5h1M43 17.5h1M46 17.5h2M61 17.5h1M64 17.5h1M67 17.5h1M80 17.5h1M83 17.5h1M97 17.5h1M100 17.5h2M108 17.5h1M111 17.5h1M138 17.5h1M153 17.5h1M165 17.5h1M168 17.5h1M176 17.5h1M181 17.5h1M184 17.5h1M189 17.5h1M194 17.5h1M213 17.5h1M224 17.5h1M244 17.5h1M254 17.5h1M258 17.5h1M266 17.5h1M278 17.5h1M291 17.5h1M302 17.5h2M319 17.5h1M324 17.5h1M342 17.5h1M351 17.5h1M357 17.5h1M360 17.5h1M368 17.5h1M16 18.5h1M18 18.5h1M21 18.5h1M32 18.5h1M35 18.5h1M60 18.5h2M76 18.5h1M85 18.5h1M87 18.5h1M99 18.5h1M111 18.5h1M116 18.5h1M124 18.5h1M126 18.5h1M131 18.5h1M138 18.5h1M143 18.5h1M153 18.5h2M158 18.5h1M163 18.5h2M167 18.5h1M170 18.5h1M172 18.5h1M192 18.5h1M194 18.5h2M209 18.5h1M220 18.5h1M222 18.5h1M226 18.5h1M238 18.5h1M257 18.5h1M277 18.5h1M300 18.5h1M318 18.5h1M337 18.5h1M342 18.5h1M361 18.5h1M368 18.5h1M5 19.5h1M8 19.5h1M28 19.5h2M32 19.5h1M63 19.5h1M79 19.5h1M88 19.5h1M102 19.5h1M117 19.5h1M131 19.5h1M146 19.5h1M151 19.5h1M157 19.5h1M161 19.5h1M168 19.5h1M170 19.5h1M187 19.5h1M227 19.5h3M242 19.5h1M250 19.5h1M261 19.5h1M279 19.5h1M288 19.5h1M304 19.5h1M313 19.5h1M317 19.5h1M325 19.5h1M340 19.5h1M346 19.5h1M349 19.5h1M355 19.5h1M362 19.5h1M9 20.5h1M47 20.5h1M66 20.5h1M73 20.5h1M100 20.5h1M109 20.5h1M111 20.5h1M116 20.5h1M122 20.5h1M143 20.5h1M164 20.5h1M168 20.5h2M177 20.5h1M182 20.5h1M185 20.5h1M194 20.5h2M205 20.5h1M212 20.5h1M217 20.5h1M222 20.5h1M240 20.5h1M243 20.5h1M245 20.5h1M249 20.5h1M264 20.5h1M267 20.5h1M286 20.5h1M297 20.5h1M310 20.5h1M317 20.5h1M334 20.5h1M354 20.5h1M8 21.5h1M11 21.5h1M17 21.5h2M25 21.5h1M41 21.5h1M46 21.5h1M50 21.5h1M52 21.5h1M68 21.5h1M89 21.5h1M92 21.5h1M96 21.5h1M98 21.5h1M114 21.5h1M136 21.5h1M148 21.5h2M156 21.5h1M169 21.5h1M174 21.5h1M198 21.5h1M204 21.5h1M215 21.5h1M217 21.5h1M219 21.5h1M223 21.5h1M227 21.5h1M239 21.5h1M242 21.5h1M279 21.5h1M287 21.5h1M292 21.5h2M299 21.5h1M312 21.5h1M322 21.5h1M326 21.5h1M334 21.5h1M366 21.5h1M5 22.5h1M17 22.5h1M28 22.5h1M53 22.5h1M56 22.5h1M85 22.5h1M92 22.5h1M107 22.5h1M111 22.5h1M125 22.5h1M139 22.5h1M149 22.5h1M158 22.5h1M167 22.5h1M187 22.5h1M201 22.5h1M222 22.5h1M231 22.5h1M236 22.5h1M239 22.5h2M248 22.5h1M255 22.5h1M290 22.5h2M294 22.5h2M302 22.5h1M309 22.5h1M315 22.5h1M322 22.5h1M339 22.5h1M355 22.5h1M363 22.5h1M3 23.5h1M11 23.5h1M15 23.5h1M17 23.5h1M32 23.5h1M41 23.5h1M43 23.5h1M65 23.5h1M67 23.5h1M74 23.5h1M76 23.5h1M106 23.5h1M108 23.5h1M116 23.5h1M125 23.5h1M131 23.5h1M153 23.5h1M165 23.5h1M177 23.5h1M197 23.5h2M202 23.5h2M205 23.5h1M222 23.5h1M244 23.5h4M250 23.5h1M278 23.5h1M280 23.5h1M313 23.5h1M318 23.5h1M328 23.5h1M334 23.5h1M340 23.5h1M344 23.5h2M362 23.5h1M368 23.5h1M18 24.5h1M28 24.5h1M46 24.5h1M48 24.5h2M57 24.5h1M59 24.5h1M80 24.5h1M92 24.5h1M97 24.5h1M106 24.5h1M120 24.5h1M123 24.5h1M138 24.5h1M146 24.5h1M148 24.5h1M153 24.5h1M159 24.5h1M164 24.5h1M185 24.5h1M195 24.5h1M206 24.5h1M215 24.5h2M225 24.5h1M237 24.5h1M239 24.5h1M255 24.5h1M280 24.5h1M289 24.5h1M310 24.5h1M319 24.5h1M324 24.5h1M332 24.5h1M349 24.5h1M368 24.5h1M17 25.5h1M25 25.5h1M27 25.5h1M43 25.5h1M52 25.5h1M60 25.5h1M67 25.5h1M76 25.5h1M79 25.5h1M93 25.5h1M97 25.5h1M125 25.5h2M149 25.5h1M161 25.5h1M164 25.5h1M189 25.5h1M195 25.5h1M201 25.5h1M204 25.5h1M212 25.5h1M225 25.5h1M228 25.5h1M253 25.5h1M277 25.5h1M295 25.5h1M310 25.5h1M20 26.5h1M32 26.5h1M43 26.5h1M47 26.5h1M52 26.5h1M80 26.5h2M83 26.5h1M97 26.5h1M99 26.5h1M110 26.5h1M116 26.5h1M124 26.5h1M133 26.5h1M157 26.5h1M159 26.5h1M164 26.5h1M167 26.5h1M169 26.5h1M172 26.5h1M177 26.5h1M181 26.5h1M184 26.5h1M193 26.5h2M197 26.5h2M204 26.5h1M210 26.5h1M220 26.5h2M241 26.5h1M245 26.5h1M258 26.5h1M260 26.5h1M262 26.5h1M267 26.5h2M278 26.5h1M280 26.5h2M288 26.5h1M300 26.5h3M310 26.5h1M317 26.5h1M325 26.5h1M328 26.5h1M333 26.5h1M339 26.5h1M347 26.5h1M354 26.5h1M360 26.5h1M364 26.5h1M369 26.5h1M16 27.5h1M41 27.5h1M43 27.5h1M57 27.5h1M71 27.5h1M75 27.5h1M88 27.5h1M125 27.5h1M138 27.5h1M165 27.5h1M189 27.5h1M192 27.5h1M210 27.5h1M222 27.5h1M226 27.5h1M228 27.5h1M249 27.5h1M255 27.5h1M295 27.5h1M302 27.5h1M319 27.5h3M331 27.5h1M337 27.5h1M349 27.5h1M354 27.5h1M8 28.5h1M11 28.5h1M16 28.5h1M41 28.5h1M48 28.5h1M50 28.5h1M61 28.5h1M67 28.5h1M71 28.5h1M80 28.5h1M108 28.5h1M111 28.5h1M117 28.5h1M122 28.5h1M124 28.5h1M131 28.5h1M148 28.5h2M160 28.5h1M164 28.5h1M175 28.5h1M182 28.5h1M184 28.5h1M186 28.5h1M192 28.5h1M213 28.5h1M222 28.5h1M262 28.5h1M273 28.5h1M278 28.5h1M281 28.5h1M289 28.5h1M299 28.5h1M301 28.5h2M319 28.5h1M324 28.5h2M343 28.5h2M8 29.5h1M18 29.5h1M38 29.5h1M47 29.5h1M96 29.5h2M109 29.5h1M112 29.5h1M126 29.5h1M138 29.5h1M143 29.5h1M148 29.5h1M158 29.5h1M222 29.5h1M226 29.5h2M240 29.5h1M243 29.5h1M260 29.5h1M262 29.5h1M267 29.5h1M279 29.5h1M309 29.5h2M340 29.5h1M349 29.5h1M353 29.5h1M361 29.5h2M369 29.5h1M5 30.5h1M25 30.5h1M42 30.5h1M45 30.5h1M47 30.5h1M52 30.5h1M73 30.5h1M76 30.5h1M80 30.5h2M107 30.5h2M116 30.5h1M126 30.5h1M148 30.5h1M155 30.5h1M158 30.5h1M177 30.5h1M184 30.5h1M195 30.5h1M199 30.5h1M204 30.5h1M222 30.5h1M225 30.5h3M245 30.5h1M247 30.5h1M251 30.5h1M273 30.5h1M278 30.5h1M286 30.5h1M290 30.5h1M297 30.5h1M302 30.5h1M304 30.5h1M306 30.5h1M319 30.5h2M324 30.5h1M332 30.5h1M338 30.5h1M340 30.5h1M354 30.5h1M364 30.5h1M4 31.5h1M11 31.5h1M28 31.5h1M31 31.5h1M36 31.5h1M42 31.5h2M63 31.5h1M71 31.5h1M80 31.5h1M88 31.5h1M93 31.5h1M96 31.5h1M98 31.5h1M100 31.5h1M111 31.5h1M146 31.5h1M150 31.5h1M165 31.5h1M168 31.5h1M187 31.5h1M189 31.5h1M212 31.5h1M222 31.5h2M227 31.5h1M248 31.5h1M257 31.5h1M273 31.5h1M278 31.5h2M289 31.5h1M304 31.5h1M310 31.5h1M317 31.5h1M337 31.5h1M343 31.5h1M345 31.5h1M355 31.5h1M17 32.5h1M19 32.5h1M28 32.5h1M43 32.5h1M47 32.5h1M50 32.5h1M58 32.5h1M68 32.5h1M76 32.5h1M92 32.5h1M100 32.5h1M108 32.5h1M111 32.5h1M114 32.5h1M116 32.5h1M125 32.5h1M136 32.5h1M143 32.5h1M147 32.5h2M153 32.5h1M155 32.5h2M158 32.5h1M164 32.5h1M181 32.5h1M187 32.5h1M204 32.5h1M222 32.5h1M227 32.5h1M232 32.5h1M240 32.5h1M251 32.5h1M266 32.5h1M290 32.5h3M299 32.5h1M304 32.5h1M310 32.5h1M314 32.5h1M342 32.5h1M344 32.5h1M354 32.5h1M360 32.5h1M362 32.5h1M4 33.5h1M6 33.5h1M11 33.5h1M17 33.5h1M28 33.5h1M38 33.5h1M41 33.5h1M47 33.5h1M49 33.5h1M55 33.5h1M68 33.5h1M75 33.5h1M80 33.5h1M99 33.5h3M103 33.5h1M105 33.5h1M108 33.5h1M110 33.5h2M118 33.5h1M137 33.5h1M158 33.5h1M160 33.5h1M164 33.5h1M166 33.5h1M169 33.5h1M187 33.5h1M189 33.5h1M204 33.5h1M213 33.5h1M215 33.5h1M222 33.5h1M236 33.5h1M239 33.5h2M242 33.5h1M250 33.5h1M257 33.5h1M288 33.5h1M302 33.5h1M308 33.5h1M317 33.5h1M328 33.5h1M332 33.5h1M339 33.5h1M343 33.5h2M353 33.5h1M18 34.5h2M29 34.5h1M41 34.5h2M47 34.5h1M83 34.5h1M85 34.5h1M92 34.5h1M100 34.5h1M138 34.5h1M153 34.5h1M156 34.5h1M165 34.5h1M167 34.5h1M170 34.5h1M184 34.5h1M204 34.5h1M221 34.5h2M239 34.5h1M242 34.5h1M245 34.5h1M258 34.5h1M260 34.5h1M278 34.5h1M280 34.5h1M285 34.5h1M290 34.5h1M307 34.5h1M313 34.5h1M328 34.5h1M345 34.5h1M349 34.5h1M364 34.5h1M368 34.5h1M0 35.5h1M5 35.5h1M15 35.5h1M19 35.5h1M44 35.5h1M52 35.5h1M55 35.5h1M61 35.5h1M65 35.5h1M75 35.5h1M86 35.5h2M92 35.5h1M99 35.5h1M102 35.5h1M110 35.5h3M116 35.5h1M120 35.5h1M125 35.5h1M139 35.5h1M149 35.5h1M164 35.5h1M166 35.5h1M169 35.5h1M189 35.5h1M194 35.5h1M210 35.5h1M223 35.5h1M226 35.5h1M237 35.5h1M281 35.5h1M297 35.5h1M304 35.5h1M317 35.5h1M326 35.5h1M332 35.5h1M342 35.5h1M344 35.5h2M354 35.5h1M369 35.5h1M3 36.5h1M7 36.5h1M10 36.5h2M18 36.5h1M38 36.5h1M41 36.5h1M43 36.5h1M50 36.5h1M53 36.5h1M56 36.5h1M63 36.5h1M85 36.5h1M96 36.5h1M100 36.5h1M112 36.5h1M124 36.5h1M127 36.5h1M144 36.5h1M152 36.5h2M164 36.5h1M170 36.5h1M173 36.5h1M177 36.5h1M181 36.5h1M186 36.5h1M189 36.5h1M192 36.5h1M195 36.5h1M210 36.5h1M232 36.5h1M240 36.5h1M243 36.5h1M245 36.5h2M249 36.5h1M289 36.5h1M294 36.5h1M302 36.5h1M310 36.5h1M313 36.5h1M315 36.5h1M319 36.5h2M324 36.5h2M328 36.5h1M331 36.5h1M333 36.5h1M344 36.5h2M354 36.5h1M364 36.5h1M4 37.5h1M17 37.5h1M19 37.5h1M25 37.5h1M32 37.5h1M43 37.5h1M68 37.5h1M73 37.5h1M85 37.5h1M105 37.5h1M108 37.5h1M116 37.5h1M137 37.5h1M146 37.5h2M151 37.5h1M159 37.5h1M163 37.5h1M165 37.5h1M167 37.5h1M175 37.5h1M189 37.5h1M201 37.5h1M204 37.5h1M227 37.5h1M236 37.5h1M239 37.5h1M248 37.5h1M251 37.5h1M257 37.5h1M265 37.5h1M267 37.5h1M269 37.5h1M271 37.5h1M273 37.5h1M277 37.5h1M283 37.5h1M285 37.5h1M290 37.5h1M310 37.5h1M315 37.5h1M325 37.5h1M368 37.5h1M11 38.5h1M24 38.5h1M29 38.5h2M41 38.5h1M43 38.5h1M56 38.5h1M60 38.5h1M63 38.5h1M70 38.5h1M80 38.5h2M97 38.5h1M100 38.5h1M108 38.5h1M122 38.5h1M138 38.5h1M148 38.5h1M158 38.5h1M166 38.5h1M168 38.5h2M182 38.5h1M187 38.5h1M197 38.5h1M213 38.5h1M224 38.5h1M239 38.5h1M250 38.5h1M257 38.5h1M267 38.5h1M276 38.5h1M297 38.5h1M315 38.5h1M324 38.5h1M328 38.5h1M332 38.5h1M354 38.5h1M19 39.5h1M42 39.5h1M85 39.5h1M146 39.5h1M164 39.5h1M199 39.5h1M210 39.5h1M222 39.5h1M226 39.5h2M256 39.5h1M260 39.5h1M289 39.5h1M319 39.5h1M326 39.5h1M328 39.5h1M348 39.5h1M355 39.5h1M368 39.5h2"/>
</g>
<rect x="69.1" y="657.3" width="283.45" height="13.5" fill="#c4a02a"/>
<rect x="352.55" y="657.3" width="283.45" height="13.5" fill="#4a6eb0"/>
<text x="638.5" y="667.6" font-family="Liberation Serif" font-size="12.2" fill="#111" stroke="#111" stroke-width="0.2">Group</text>
<text x="638.5" y="687.1" font-family="Liberation Serif" font-size="8.6" fill="#111" stroke="#111" stroke-width="0.22">COL10A1</text>
<text x="638.5" y="703.2" font-family="Liberation Serif" font-size="8.6" fill="#111" stroke="#111" stroke-width="0.22">CST1</text>
<text x="638.5" y="719.2" font-family="Liberation Serif" font-size="8.6" fill="#111" stroke="#111" stroke-width="0.22">ENPP7</text>
<text x="638.5" y="735.2" font-family="Liberation Serif" font-size="8.6" fill="#111" stroke="#111" stroke-width="0.22">HOXC10</text>
<text x="638.5" y="751.3" font-family="Liberation Serif" font-size="8.6" fill="#111" stroke="#111" stroke-width="0.22">S100G</text>
<text x="638.5" y="767.3" font-family="Liberation Serif" font-size="8.6" fill="#111" stroke="#111" stroke-width="0.22">MS4A10</text>
<text x="638.5" y="783.3" font-family="Liberation Serif" font-size="8.6" fill="#111" stroke="#111" stroke-width="0.22">FLG</text>
<text x="638.5" y="799.4" font-family="Liberation Serif" font-size="8.6" fill="#111" stroke="#111" stroke-width="0.22">BAAT</text>
<text x="638.5" y="815.4" font-family="Liberation Serif" font-size="8.6" fill="#111" stroke="#111" stroke-width="0.22">MEP1B</text>
<text x="638.5" y="831.5" font-family="Liberation Serif" font-size="8.6" fill="#111" stroke="#111" stroke-width="0.22">PRAME</text>
<text x="638.5" y="847.5" font-family="Liberation Serif" font-size="8.6" fill="#111" stroke="#111" stroke-width="0.22">IBSP</text>
<text x="638.5" y="863.5" font-family="Liberation Serif" font-size="8.6" fill="#111" stroke="#111" stroke-width="0.22">ALPP</text>
<text x="638.5" y="879.6" font-family="Liberation Serif" font-size="8.6" fill="#111" stroke="#111" stroke-width="0.22">KRT1</text>
<text x="638.5" y="895.6" font-family="Liberation Serif" font-size="8.6" fill="#111" stroke="#111" stroke-width="0.22">AQP10</text>
<text x="638.5" y="911.6" font-family="Liberation Serif" font-size="8.6" fill="#111" stroke="#111" stroke-width="0.22">MAGEA12</text>
<text x="638.5" y="927.7" font-family="Liberation Serif" font-size="8.6" fill="#111" stroke="#111" stroke-width="0.22">RBP2</text>
<text x="638.5" y="943.7" font-family="Liberation Serif" font-size="8.6" fill="#111" stroke="#111" stroke-width="0.22">HOXC12</text>
<text x="638.5" y="959.8" font-family="Liberation Serif" font-size="8.6" fill="#111" stroke="#111" stroke-width="0.22">ZG16</text>
<text x="638.5" y="975.8" font-family="Liberation Serif" font-size="8.6" fill="#111" stroke="#111" stroke-width="0.22">CSAG1</text>
<text x="638.5" y="991.8" font-family="Liberation Serif" font-size="8.6" fill="#111" stroke="#111" stroke-width="0.22">MAGEA3</text>
<text x="638.5" y="1007.9" font-family="Liberation Serif" font-size="8.6" fill="#111" stroke="#111" stroke-width="0.22">LCT</text>
<text x="638.5" y="1023.9" font-family="Liberation Serif" font-size="8.6" fill="#111" stroke="#111" stroke-width="0.22">MAGEA6</text>
<text x="638.5" y="1039.9" font-family="Liberation Serif" font-size="8.6" fill="#111" stroke="#111" stroke-width="0.22">FGF19</text>
<text x="638.5" y="1056.0" font-family="Liberation Serif" font-size="8.6" fill="#111" stroke="#111" stroke-width="0.22">GIP</text>
<text x="638.5" y="1072.0" font-family="Liberation Serif" font-size="8.6" fill="#111" stroke="#111" stroke-width="0.22">MAGEA4</text>
<text x="638.5" y="1088.1" font-family="Liberation Serif" font-size="8.6" fill="#111" stroke="#111" stroke-width="0.22">APOA4</text>
<text x="638.5" y="1104.1" font-family="Liberation Serif" font-size="8.6" fill="#111" stroke="#111" stroke-width="0.22">MAGEA1</text>
<text x="638.5" y="1120.1" font-family="Liberation Serif" font-size="8.6" fill="#111" stroke="#111" stroke-width="0.22">KRTAP3−2</text>
<text x="638.5" y="1136.2" font-family="Liberation Serif" font-size="8.6" fill="#111" stroke="#111" stroke-width="0.22">MAGEA10</text>
<text x="638.5" y="1152.2" font-family="Liberation Serif" font-size="8.6" fill="#111" stroke="#111" stroke-width="0.22">DEFB131</text>
<text x="638.5" y="1168.2" font-family="Liberation Serif" font-size="8.6" fill="#111" stroke="#111" stroke-width="0.22">APOC3</text>
<text x="638.5" y="1184.3" font-family="Liberation Serif" font-size="8.6" fill="#111" stroke="#111" stroke-width="0.22">CTAG2</text>
<text x="638.5" y="1200.3" font-family="Liberation Serif" font-size="8.6" fill="#111" stroke="#111" stroke-width="0.22">DSCR8</text>
<text x="638.5" y="1216.4" font-family="Liberation Serif" font-size="8.6" fill="#111" stroke="#111" stroke-width="0.22">MAGEC1</text>
<text x="638.5" y="1232.4" font-family="Liberation Serif" font-size="8.6" fill="#111" stroke="#111" stroke-width="0.22">MAGEC2</text>
<text x="638.5" y="1248.4" font-family="Liberation Serif" font-size="8.6" fill="#111" stroke="#111" stroke-width="0.22">FAM25A</text>
<text x="638.5" y="1264.5" font-family="Liberation Serif" font-size="8.6" fill="#111" stroke="#111" stroke-width="0.22">DEFA5</text>
<text x="638.5" y="1280.5" font-family="Liberation Serif" font-size="8.6" fill="#111" stroke="#111" stroke-width="0.22">CRCT1</text>
<text x="638.5" y="1296.5" font-family="Liberation Serif" font-size="8.6" fill="#111" stroke="#111" stroke-width="0.22">PGA4</text>
<text x="638.5" y="1312.6" font-family="Liberation Serif" font-size="8.6" fill="#111" stroke="#111" stroke-width="0.22">LCE3A</text>
<text x="688.2" y="938.3" font-family="Liberation Serif" font-size="9" font-weight="bold" fill="#111">Group</text>
<rect x="688.2" y="943.7" width="9.7" height="10.2" fill="#c4a02a"/>
<rect x="688.2" y="954.5" width="9.7" height="10.2" fill="#4a6eb0"/>
<text x="701.2" y="951.8" font-family="Liberation Serif" font-size="9.2" fill="#111" stroke="#111" stroke-width="0.2">high risk</text>
<text x="701.2" y="962.4" font-family="Liberation Serif" font-size="9.2" fill="#111" stroke="#111" stroke-width="0.2">low risk</text>
<text x="688.2" y="982.3" font-family="Liberation Serif" font-size="9" font-weight="bold" fill="#111">expression</text>
<defs><linearGradient id="cb" x1="0" y1="0" x2="0" y2="1"><stop offset="0" stop-color="#c9a12a"/><stop offset="0.5" stop-color="#ffffff"/><stop offset="1" stop-color="#3a62b2"/></linearGradient></defs>
<rect x="687.2" y="987.3" width="11.6" height="56.6" fill="url(#cb)"/>
<path d="M687.2 989.3h3M695.8 989.3h3" stroke="#fff" stroke-width="0.8"/>
<text x="701.2" y="992.6" font-family="Liberation Serif" font-size="9.3" fill="#111" stroke="#111" stroke-width="0.2">2</text>
<path d="M687.2 1002.5h3M695.8 1002.5h3" stroke="#fff" stroke-width="0.8"/>
<text x="701.2" y="1005.8" font-family="Liberation Serif" font-size="9.3" fill="#111" stroke="#111" stroke-width="0.2">1</text>
<text x="701.2" y="1018.9" font-family="Liberation Serif" font-size="9.3" fill="#111" stroke="#111" stroke-width="0.2">0</text>
<path d="M687.2 1028.6h3M695.8 1028.6h3" stroke="#fff" stroke-width="0.8"/>
<text x="701.2" y="1031.9" font-family="Liberation Serif" font-size="9.3" fill="#111" stroke="#111" stroke-width="0.2">−1</text>
<path d="M687.2 1042.0h3M695.8 1042.0h3" stroke="#fff" stroke-width="0.8"/>
<text x="701.2" y="1045.3" font-family="Liberation Serif" font-size="9.3" fill="#111" stroke="#111" stroke-width="0.2">−2</text>
<defs>
<radialGradient id="gC" cx="0.45" cy="0.42" r="0.62"><stop offset="0" stop-color="#b4b4b4"/><stop offset="0.55" stop-color="#8c8c8c"/><stop offset="1" stop-color="#4a4a4a"/></radialGradient>
<radialGradient id="gN" cx="0.45" cy="0.42" r="0.62"><stop offset="0" stop-color="#5070d0"/><stop offset="0.55" stop-color="#2440a4"/><stop offset="1" stop-color="#101c70"/></radialGradient>
<radialGradient id="gO" cx="0.45" cy="0.42" r="0.62"><stop offset="0" stop-color="#ff3030"/><stop offset="0.55" stop-color="#d00c0c"/><stop offset="1" stop-color="#800000"/></radialGradient>
<radialGradient id="gS" cx="0.45" cy="0.42" r="0.62"><stop offset="0" stop-color="#ffff90"/><stop offset="0.55" stop-color="#e4e040"/><stop offset="1" stop-color="#9a9a10"/></radialGradient>
<radialGradient id="gF" cx="0.45" cy="0.42" r="0.62"><stop offset="0" stop-color="#e0ffa0"/><stop offset="0.55" stop-color="#8cc838"/><stop offset="1" stop-color="#507a10"/></radialGradient>
<radialGradient id="gB" cx="0.45" cy="0.42" r="0.62"><stop offset="0" stop-color="#d07070"/><stop offset="0.55" stop-color="#7c1818"/><stop offset="1" stop-color="#3a0808"/></radialGradient>
<radialGradient id="gH" cx="0.45" cy="0.42" r="0.62"><stop offset="0" stop-color="#ffffff"/><stop offset="0.55" stop-color="#e4e4e4"/><stop offset="1" stop-color="#a0a0a0"/></radialGradient>
</defs>
<g stroke-width="1.50" stroke-linecap="round">
<path d="M100.8 1379.2L103.2 1382.4" stroke="#7c7c7c"/>
<path d="M103.2 1382.4L105.6 1385.7" stroke="#7c7c7c"/>
<path d="M100.8 1379.2L97.8 1381.9" stroke="#7c7c7c"/>
<path d="M97.8 1381.9L94.8 1384.6" stroke="#7c7c7c"/>
<path d="M105.6 1385.7L104.3 1390.0" stroke="#7c7c7c"/>
<path d="M104.3 1390.0L102.9 1394.3" stroke="#7c7c7c"/>
<path d="M102.9 1394.3L100.2 1393.8" stroke="#7c7c7c"/>
<path d="M100.2 1393.8L97.5 1393.2" stroke="#7c7c7c"/>
<path d="M97.5 1393.2L96.2 1388.9" stroke="#7c7c7c"/>
<path d="M96.2 1388.9L94.8 1384.6" stroke="#7c7c7c"/>
<path d="M97.5 1393.2L95.4 1396.2" stroke="#7c7c7c"/>
<path d="M95.4 1396.2L93.2 1399.2" stroke="#3050b0"/>
<path d="M93.2 1399.2L89.4 1397.5" stroke="#3050b0"/>
<path d="M89.4 1397.5L85.7 1395.9" stroke="#7c7c7c"/>
<path d="M93.2 1399.2L94.6 1403.5" stroke="#3050b0"/>
<path d="M94.6 1403.5L95.9 1407.8" stroke="#7c7c7c"/>
<path d="M85.7 1395.9L80.8 1394.3" stroke="#7c7c7c"/>
<path d="M80.8 1394.3L75.9 1392.7" stroke="#7c7c7c"/>
<path d="M85.7 1395.9L83.2 1400.2" stroke="#7c7c7c"/>
<path d="M83.2 1400.2L80.8 1404.6" stroke="#7c7c7c"/>
<path d="M80.8 1404.6L78.1 1403.7" stroke="#7c7c7c"/>
<path d="M78.1 1403.7L75.4 1402.9" stroke="#c82020"/>
<path d="M80.8 1404.6L82.4 1408.9" stroke="#7c7c7c"/>
<path d="M82.4 1408.9L84.0 1413.2" stroke="#3050b0"/>
<path d="M84.0 1413.2L81.6 1416.4" stroke="#3050b0"/>
<path d="M81.6 1416.4L79.2 1419.7" stroke="#7c7c7c"/>
<path d="M84.0 1413.2L87.3 1413.7" stroke="#3050b0"/>
<path d="M87.3 1413.7L90.5 1414.3" stroke="#7c7c7c"/>
<path d="M90.5 1414.3L93.2 1411.0" stroke="#7c7c7c"/>
<path d="M93.2 1411.0L95.9 1407.8" stroke="#7c7c7c"/>
<path d="M90.5 1414.3L91.9 1418.9" stroke="#7c7c7c"/>
<path d="M91.9 1418.9L93.2 1423.5" stroke="#7c7c7c"/>
<path d="M95.9 1407.8L98.9 1408.6" stroke="#7c7c7c"/>
<path d="M98.9 1408.6L101.9 1409.4" stroke="#3050b0"/>
<path d="M101.9 1409.4L103.7 1413.2" stroke="#3050b0"/>
<path d="M103.7 1413.2L105.6 1417.0" stroke="#7c7c7c"/>
<path d="M105.6 1417.0L102.9 1420.5" stroke="#7c7c7c"/>
<path d="M102.9 1420.5L100.2 1424.0" stroke="#3050b0"/>
<path d="M105.6 1417.0L108.6 1418.3" stroke="#7c7c7c"/>
<path d="M108.6 1418.3L111.6 1419.7" stroke="#3050b0"/>
<path d="M100.2 1424.0L96.7 1423.7" stroke="#3050b0"/>
<path d="M96.7 1423.7L93.2 1423.5" stroke="#7c7c7c"/>
<path d="M111.6 1419.7L114.3 1416.7" stroke="#3050b0"/>
<path d="M114.3 1416.7L117.0 1413.7" stroke="#7c7c7c"/>
<path d="M117.0 1413.7L116.7 1409.4" stroke="#7c7c7c"/>
<path d="M116.7 1409.4L116.4 1405.1" stroke="#7c7c7c"/>
<path d="M117.0 1413.7L119.9 1415.1" stroke="#7c7c7c"/>
<path d="M119.9 1415.1L122.9 1416.4" stroke="#7c7c7c"/>
<path d="M116.4 1405.1L119.4 1402.1" stroke="#7c7c7c"/>
<path d="M119.4 1402.1L122.4 1399.2" stroke="#7c7c7c"/>
<path d="M122.4 1399.2L125.6 1400.8" stroke="#7c7c7c"/>
<path d="M125.6 1400.8L128.9 1402.4" stroke="#7c7c7c"/>
<path d="M128.9 1402.4L129.1 1406.7" stroke="#7c7c7c"/>
<path d="M129.1 1406.7L129.4 1411.0" stroke="#7c7c7c"/>
<path d="M128.9 1402.4L131.3 1399.7" stroke="#7c7c7c"/>
<path d="M131.3 1399.7L133.7 1397.0" stroke="#7c7c7c"/>
<path d="M129.4 1411.0L126.2 1413.7" stroke="#7c7c7c"/>
<path d="M126.2 1413.7L122.9 1416.4" stroke="#7c7c7c"/>
<path d="M122.9 1416.4L123.5 1419.9" stroke="#7c7c7c"/>
<path d="M123.5 1419.9L124.0 1423.5" stroke="#c82020"/>
<path d="M124.0 1423.5L127.0 1424.5" stroke="#c82020"/>
<path d="M127.0 1424.5L129.9 1425.6" stroke="#7c7c7c"/>
<path d="M133.7 1397.0L133.4 1392.9" stroke="#7c7c7c"/>
<path d="M133.4 1392.9L133.2 1388.9" stroke="#c82020"/>
<path d="M133.7 1397.0L137.2 1398.6" stroke="#7c7c7c"/>
<path d="M137.2 1398.6L140.7 1400.2" stroke="#3050b0"/>
<path d="M140.7 1400.2L143.7 1397.8" stroke="#3050b0"/>
<path d="M143.7 1397.8L146.7 1395.4" stroke="#7c7c7c"/>
<path d="M140.7 1400.2L145.6 1401.0" stroke="#3050b0"/>
<path d="M145.6 1401.0L150.5 1401.9" stroke="#7c7c7c"/>
<path d="M146.7 1395.4L148.8 1393.8" stroke="#7c7c7c"/>
<path d="M148.8 1393.8L151.0 1392.1" stroke="#7c7c7c"/>
<path d="M146.7 1395.4L148.6 1398.6" stroke="#7c7c7c"/>
<path d="M148.6 1398.6L150.5 1401.9" stroke="#7c7c7c"/>
<path d="M151.0 1392.1L153.2 1395.2" stroke="#7c7c7c"/>
<path d="M153.2 1395.2L155.3 1398.3" stroke="#7c7c7c"/>
<path d="M155.3 1398.3L157.2 1401.7" stroke="#7c7c7c"/>
<path d="M157.2 1401.7L159.1 1405.1" stroke="#3050b0"/>
<path d="M159.1 1405.1L157.2 1406.4" stroke="#3050b0"/>
<path d="M157.2 1406.4L155.3 1407.8" stroke="#7c7c7c"/>
<path d="M159.1 1405.1L154.8 1403.5" stroke="#3050b0"/>
<path d="M154.8 1403.5L150.5 1401.9" stroke="#7c7c7c"/>
<path d="M159.1 1405.1L161.5 1409.1" stroke="#3050b0"/>
<path d="M161.5 1409.1L164.0 1413.2" stroke="#7c7c7c"/>
<path d="M155.3 1407.8L152.9 1404.8" stroke="#7c7c7c"/>
<path d="M152.9 1404.8L150.5 1401.9" stroke="#7c7c7c"/>
<path d="M155.3 1407.8L159.6 1410.5" stroke="#7c7c7c"/>
<path d="M159.6 1410.5L164.0 1413.2" stroke="#7c7c7c"/>
<path d="M100.8 1379.2L100.0 1377.3" stroke="#7c7c7c"/>
<path d="M100.0 1377.3L99.2 1375.4" stroke="#c0c0c0"/>
<path d="M100.8 1379.2L101.6 1377.0" stroke="#7c7c7c"/>
<path d="M101.6 1377.0L102.4 1374.9" stroke="#c0c0c0"/>
<path d="M105.6 1385.7L107.8 1385.1" stroke="#7c7c7c"/>
<path d="M107.8 1385.1L110.0 1384.6" stroke="#c0c0c0"/>
<path d="M102.9 1394.3L105.1 1396.5" stroke="#7c7c7c"/>
<path d="M105.1 1396.5L107.3 1398.6" stroke="#c0c0c0"/>
<path d="M94.8 1384.6L93.5 1383.0" stroke="#7c7c7c"/>
<path d="M93.5 1383.0L92.1 1381.3" stroke="#c0c0c0"/>
<path d="M75.9 1392.7L75.4 1390.0" stroke="#7c7c7c"/>
<path d="M75.4 1390.0L74.9 1387.3" stroke="#c0c0c0"/>
<path d="M75.4 1402.9L74.0 1400.8" stroke="#c82020"/>
<path d="M74.0 1400.8L72.7 1398.6" stroke="#c0c0c0"/>
<path d="M85.7 1395.9L86.7 1393.2" stroke="#7c7c7c"/>
<path d="M86.7 1393.2L87.8 1390.5" stroke="#c0c0c0"/>
<path d="M79.2 1419.7L76.7 1418.6" stroke="#7c7c7c"/>
<path d="M76.7 1418.6L74.3 1417.5" stroke="#c0c0c0"/>
<path d="M79.2 1419.7L78.9 1422.4" stroke="#7c7c7c"/>
<path d="M78.9 1422.4L78.6 1425.1" stroke="#c0c0c0"/>
<path d="M79.2 1419.7L80.3 1421.3" stroke="#7c7c7c"/>
<path d="M80.3 1421.3L81.3 1422.9" stroke="#c0c0c0"/>
<path d="M93.2 1423.5L91.9 1426.2" stroke="#7c7c7c"/>
<path d="M91.9 1426.2L90.5 1428.9" stroke="#c0c0c0"/>
<path d="M111.6 1419.7L112.4 1422.6" stroke="#3050b0"/>
<path d="M112.4 1422.6L113.2 1425.6" stroke="#c0c0c0"/>
<path d="M116.4 1405.1L114.8 1403.7" stroke="#7c7c7c"/>
<path d="M114.8 1403.7L113.2 1402.4" stroke="#c0c0c0"/>
<path d="M122.4 1399.2L122.1 1396.2" stroke="#7c7c7c"/>
<path d="M122.1 1396.2L121.8 1393.2" stroke="#c0c0c0"/>
<path d="M129.4 1411.0L131.3 1411.8" stroke="#7c7c7c"/>
<path d="M131.3 1411.8L133.2 1412.7" stroke="#c0c0c0"/>
<path d="M129.9 1425.6L131.8 1425.6" stroke="#7c7c7c"/>
<path d="M131.8 1425.6L133.7 1425.6" stroke="#c0c0c0"/>
<path d="M129.9 1425.6L129.4 1428.3" stroke="#7c7c7c"/>
<path d="M129.4 1428.3L128.9 1431.0" stroke="#c0c0c0"/>
<path d="M140.7 1400.2L140.7 1403.2" stroke="#3050b0"/>
<path d="M140.7 1403.2L140.7 1406.2" stroke="#c0c0c0"/>
<path d="M151.0 1392.1L148.8 1391.1" stroke="#7c7c7c"/>
<path d="M148.8 1391.1L146.7 1390.0" stroke="#c0c0c0"/>
<path d="M151.0 1392.1L152.9 1389.7" stroke="#7c7c7c"/>
<path d="M152.9 1389.7L154.8 1387.3" stroke="#c0c0c0"/>
<path d="M155.3 1398.3L156.9 1398.7" stroke="#7c7c7c"/>
<path d="M156.9 1398.7L158.6 1399.2" stroke="#c0c0c0"/>
<path d="M155.3 1407.8L152.6 1410.5" stroke="#7c7c7c"/>
<path d="M152.6 1410.5L149.9 1413.2" stroke="#c0c0c0"/>
<path d="M155.3 1407.8L153.4 1407.0" stroke="#7c7c7c"/>
<path d="M153.4 1407.0L151.5 1406.2" stroke="#c0c0c0"/>
<path d="M164.0 1413.2L161.8 1415.6" stroke="#7c7c7c"/>
<path d="M161.8 1415.6L159.6 1418.1" stroke="#c0c0c0"/>
<path d="M164.0 1413.2L165.6 1412.4" stroke="#7c7c7c"/>
<path d="M165.6 1412.4L167.2 1411.6" stroke="#c0c0c0"/>
<path d="M164.0 1413.2L165.3 1414.8" stroke="#7c7c7c"/>
<path d="M165.3 1414.8L166.7 1416.4" stroke="#c0c0c0"/>
</g>
<circle cx="99.2" cy="1375.4" r="1.25" fill="url(#gH)"/>
<circle cx="102.4" cy="1374.9" r="1.25" fill="url(#gH)"/>
<circle cx="110.0" cy="1384.6" r="1.25" fill="url(#gH)"/>
<circle cx="107.3" cy="1398.6" r="1.25" fill="url(#gH)"/>
<circle cx="92.1" cy="1381.3" r="1.25" fill="url(#gH)"/>
<circle cx="74.9" cy="1387.3" r="1.25" fill="url(#gH)"/>
<circle cx="72.7" cy="1398.6" r="1.25" fill="url(#gH)"/>
<circle cx="87.8" cy="1390.5" r="1.25" fill="url(#gH)"/>
<circle cx="74.3" cy="1417.5" r="1.25" fill="url(#gH)"/>
<circle cx="78.6" cy="1425.1" r="1.25" fill="url(#gH)"/>
<circle cx="81.3" cy="1422.9" r="1.25" fill="url(#gH)"/>
<circle cx="90.5" cy="1428.9" r="1.25" fill="url(#gH)"/>
<circle cx="113.2" cy="1425.6" r="1.25" fill="url(#gH)"/>
<circle cx="113.2" cy="1402.4" r="1.25" fill="url(#gH)"/>
<circle cx="121.8" cy="1393.2" r="1.25" fill="url(#gH)"/>
<circle cx="133.2" cy="1412.7" r="1.25" fill="url(#gH)"/>
<circle cx="133.7" cy="1425.6" r="1.25" fill="url(#gH)"/>
<circle cx="128.9" cy="1431.0" r="1.25" fill="url(#gH)"/>
<circle cx="140.7" cy="1406.2" r="1.25" fill="url(#gH)"/>
<circle cx="146.7" cy="1390.0" r="1.25" fill="url(#gH)"/>
<circle cx="154.8" cy="1387.3" r="1.25" fill="url(#gH)"/>
<circle cx="158.6" cy="1399.2" r="1.25" fill="url(#gH)"/>
<circle cx="149.9" cy="1413.2" r="1.25" fill="url(#gH)"/>
<circle cx="151.5" cy="1406.2" r="1.25" fill="url(#gH)"/>
<circle cx="159.6" cy="1418.1" r="1.25" fill="url(#gH)"/>
<circle cx="167.2" cy="1411.6" r="1.25" fill="url(#gH)"/>
<circle cx="166.7" cy="1416.4" r="1.25" fill="url(#gH)"/>
<circle cx="100.8" cy="1379.2" r="2.35" fill="url(#gC)"/>
<circle cx="105.6" cy="1385.7" r="2.35" fill="url(#gC)"/>
<circle cx="102.9" cy="1394.3" r="2.35" fill="url(#gC)"/>
<circle cx="97.5" cy="1393.2" r="2.35" fill="url(#gC)"/>
<circle cx="94.8" cy="1384.6" r="2.35" fill="url(#gC)"/>
<circle cx="93.2" cy="1399.2" r="2.30" fill="url(#gN)"/>
<circle cx="85.7" cy="1395.9" r="2.35" fill="url(#gC)"/>
<circle cx="75.9" cy="1392.7" r="2.35" fill="url(#gC)"/>
<circle cx="80.8" cy="1404.6" r="2.35" fill="url(#gC)"/>
<circle cx="75.4" cy="1402.9" r="2.50" fill="url(#gO)"/>
<circle cx="84.0" cy="1413.2" r="2.30" fill="url(#gN)"/>
<circle cx="79.2" cy="1419.7" r="2.35" fill="url(#gC)"/>
<circle cx="90.5" cy="1414.3" r="2.35" fill="url(#gC)"/>
<circle cx="95.9" cy="1407.8" r="2.35" fill="url(#gC)"/>
<circle cx="101.9" cy="1409.4" r="2.30" fill="url(#gN)"/>
<circle cx="105.6" cy="1417.0" r="2.35" fill="url(#gC)"/>
<circle cx="100.2" cy="1424.0" r="2.30" fill="url(#gN)"/>
<circle cx="93.2" cy="1423.5" r="2.35" fill="url(#gC)"/>
<circle cx="111.6" cy="1419.7" r="2.30" fill="url(#gN)"/>
<circle cx="117.0" cy="1413.7" r="2.35" fill="url(#gC)"/>
<circle cx="116.4" cy="1405.1" r="2.35" fill="url(#gC)"/>
<circle cx="122.4" cy="1399.2" r="2.35" fill="url(#gC)"/>
<circle cx="128.9" cy="1402.4" r="2.35" fill="url(#gC)"/>
<circle cx="129.4" cy="1411.0" r="2.35" fill="url(#gC)"/>
<circle cx="122.9" cy="1416.4" r="2.35" fill="url(#gC)"/>
<circle cx="124.0" cy="1423.5" r="2.50" fill="url(#gO)"/>
<circle cx="129.9" cy="1425.6" r="2.35" fill="url(#gC)"/>
<circle cx="133.7" cy="1397.0" r="2.35" fill="url(#gC)"/>
<circle cx="133.2" cy="1388.9" r="2.50" fill="url(#gO)"/>
<circle cx="140.7" cy="1400.2" r="2.30" fill="url(#gN)"/>
<circle cx="146.7" cy="1395.4" r="2.35" fill="url(#gC)"/>
<circle cx="151.0" cy="1392.1" r="2.35" fill="url(#gC)"/>
<circle cx="155.3" cy="1398.3" r="2.35" fill="url(#gC)"/>
<circle cx="159.1" cy="1405.1" r="2.30" fill="url(#gN)"/>
<circle cx="155.3" cy="1407.8" r="2.35" fill="url(#gC)"/>
<circle cx="150.5" cy="1401.9" r="2.35" fill="url(#gC)"/>
<circle cx="164.0" cy="1413.2" r="2.35" fill="url(#gC)"/>
<g stroke-width="1.50" stroke-linecap="round">
<path d="M318.0 1392.8L322.1 1397.6" stroke="#7c7c7c"/>
<path d="M322.1 1397.6L326.3 1402.3" stroke="#7c7c7c"/>
<path d="M296.0 1429.7L295.7 1436.8" stroke="#7c7c7c"/>
<path d="M295.7 1436.8L295.4 1443.9" stroke="#7c7c7c"/>
<path d="M272.8 1413.6L269.0 1411.8" stroke="#7c7c7c"/>
<path d="M269.0 1411.8L265.1 1410.1" stroke="#c82020"/>
<path d="M306.7 1364.9L304.0 1369.4" stroke="#c82020"/>
<path d="M304.0 1369.4L301.4 1373.8" stroke="#7c7c7c"/>
<path d="M306.7 1364.9L308.8 1369.7" stroke="#c82020"/>
<path d="M308.8 1369.7L310.9 1374.4" stroke="#7c7c7c"/>
<path d="M296.6 1367.9L299.0 1370.8" stroke="#7c7c7c"/>
<path d="M299.0 1370.8L301.4 1373.8" stroke="#7c7c7c"/>
<path d="M301.4 1373.8L306.1 1374.1" stroke="#7c7c7c"/>
<path d="M306.1 1374.1L310.9 1374.4" stroke="#7c7c7c"/>
<path d="M301.4 1373.8L298.1 1377.1" stroke="#7c7c7c"/>
<path d="M298.1 1377.1L294.8 1380.4" stroke="#7c7c7c"/>
<path d="M310.9 1374.4L313.8 1378.0" stroke="#7c7c7c"/>
<path d="M313.8 1378.0L316.8 1381.5" stroke="#7c7c7c"/>
<path d="M316.8 1381.5L317.4 1387.2" stroke="#7c7c7c"/>
<path d="M317.4 1387.2L318.0 1392.8" stroke="#7c7c7c"/>
<path d="M294.8 1380.4L291.9 1383.9" stroke="#7c7c7c"/>
<path d="M291.9 1383.9L288.9 1387.5" stroke="#7c7c7c"/>
<path d="M288.9 1387.5L285.6 1391.6" stroke="#7c7c7c"/>
<path d="M285.6 1391.6L282.4 1395.8" stroke="#7c7c7c"/>
<path d="M282.4 1395.8L280.3 1399.7" stroke="#7c7c7c"/>
<path d="M280.3 1399.7L278.2 1403.5" stroke="#7c7c7c"/>
<path d="M271.7 1397.0L274.9 1400.3" stroke="#7c7c7c"/>
<path d="M274.9 1400.3L278.2 1403.5" stroke="#7c7c7c"/>
<path d="M278.2 1403.5L275.5 1408.6" stroke="#7c7c7c"/>
<path d="M275.5 1408.6L272.8 1413.6" stroke="#7c7c7c"/>
<path d="M272.8 1413.6L269.0 1411.8" stroke="#7c7c7c"/>
<path d="M269.0 1411.8L265.1 1410.1" stroke="#c82020"/>
<path d="M272.8 1413.6L276.1 1418.4" stroke="#7c7c7c"/>
<path d="M276.1 1418.4L279.4 1423.1" stroke="#7c7c7c"/>
<path d="M279.4 1423.1L282.1 1425.2" stroke="#7c7c7c"/>
<path d="M282.1 1425.2L284.7 1427.3" stroke="#c82020"/>
<path d="M279.4 1423.1L276.4 1428.5" stroke="#7c7c7c"/>
<path d="M276.4 1428.5L273.4 1433.8" stroke="#7c7c7c"/>
<path d="M284.7 1427.3L290.4 1428.5" stroke="#c82020"/>
<path d="M290.4 1428.5L296.0 1429.7" stroke="#7c7c7c"/>
<path d="M296.0 1429.7L299.3 1429.1" stroke="#7c7c7c"/>
<path d="M299.3 1429.1L302.5 1428.5" stroke="#c82020"/>
<path d="M296.0 1429.7L299.0 1427.3" stroke="#7c7c7c"/>
<path d="M299.0 1427.3L302.0 1424.9" stroke="#7c7c7c"/>
<path d="M302.5 1428.5L302.3 1426.7" stroke="#c82020"/>
<path d="M302.3 1426.7L302.0 1424.9" stroke="#7c7c7c"/>
<path d="M302.0 1424.9L301.7 1419.0" stroke="#7c7c7c"/>
<path d="M301.7 1419.0L301.4 1413.0" stroke="#7c7c7c"/>
<path d="M301.4 1413.0L305.8 1410.3" stroke="#7c7c7c"/>
<path d="M305.8 1410.3L310.3 1407.7" stroke="#7c7c7c"/>
<path d="M310.3 1407.7L312.3 1408.6" stroke="#7c7c7c"/>
<path d="M312.3 1408.6L314.4 1409.5" stroke="#c82020"/>
<path d="M310.3 1407.7L310.6 1403.5" stroke="#7c7c7c"/>
<path d="M310.6 1403.5L310.9 1399.4" stroke="#c82020"/>
<path d="M310.9 1399.4L314.4 1396.1" stroke="#c82020"/>
<path d="M314.4 1396.1L318.0 1392.8" stroke="#7c7c7c"/>
<path d="M326.3 1402.3L329.9 1402.0" stroke="#7c7c7c"/>
<path d="M329.9 1402.0L333.4 1401.7" stroke="#7c7c7c"/>
<path d="M333.4 1401.7L337.3 1404.4" stroke="#7c7c7c"/>
<path d="M337.3 1404.4L341.2 1407.1" stroke="#7c7c7c"/>
<path d="M341.2 1407.1L345.0 1405.0" stroke="#7c7c7c"/>
<path d="M345.0 1405.0L348.9 1402.9" stroke="#7c7c7c"/>
<path d="M341.2 1407.1L341.2 1413.0" stroke="#7c7c7c"/>
<path d="M341.2 1413.0L341.2 1419.0" stroke="#3050b0"/>
<path d="M348.9 1402.9L353.3 1408.0" stroke="#7c7c7c"/>
<path d="M353.3 1408.0L357.8 1413.0" stroke="#d8d030"/>
<path d="M357.8 1413.0L353.6 1418.1" stroke="#d8d030"/>
<path d="M353.6 1418.1L349.5 1423.1" stroke="#7c7c7c"/>
<path d="M349.5 1423.1L345.3 1421.0" stroke="#7c7c7c"/>
<path d="M345.3 1421.0L341.2 1419.0" stroke="#3050b0"/>
<path d="M349.5 1423.1L350.7 1429.1" stroke="#7c7c7c"/>
<path d="M350.7 1429.1L351.8 1435.0" stroke="#7c7c7c"/>
<path d="M296.6 1367.9L293.6 1366.1" stroke="#7c7c7c"/>
<path d="M293.6 1366.1L290.7 1364.3" stroke="#c0c0c0"/>
<path d="M306.7 1364.9L303.7 1363.7" stroke="#c82020"/>
<path d="M303.7 1363.7L300.8 1362.5" stroke="#c0c0c0"/>
<path d="M316.8 1381.5L320.1 1379.5" stroke="#7c7c7c"/>
<path d="M320.1 1379.5L323.3 1377.4" stroke="#c0c0c0"/>
<path d="M316.8 1381.5L315.6 1382.7" stroke="#7c7c7c"/>
<path d="M315.6 1382.7L314.4 1383.9" stroke="#c0c0c0"/>
<path d="M294.8 1380.4L292.7 1377.4" stroke="#7c7c7c"/>
<path d="M292.7 1377.4L290.7 1374.4" stroke="#c0c0c0"/>
<path d="M294.8 1380.4L296.6 1383.3" stroke="#7c7c7c"/>
<path d="M296.6 1383.3L298.4 1386.3" stroke="#c0c0c0"/>
<path d="M288.9 1387.5L286.8 1384.5" stroke="#7c7c7c"/>
<path d="M286.8 1384.5L284.7 1381.5" stroke="#c0c0c0"/>
<path d="M288.9 1387.5L291.0 1389.9" stroke="#7c7c7c"/>
<path d="M291.0 1389.9L293.0 1392.2" stroke="#c0c0c0"/>
<path d="M271.7 1397.0L269.6 1394.9" stroke="#7c7c7c"/>
<path d="M269.6 1394.9L267.5 1392.8" stroke="#c0c0c0"/>
<path d="M282.4 1395.8L279.4 1393.4" stroke="#7c7c7c"/>
<path d="M279.4 1393.4L276.4 1391.0" stroke="#c0c0c0"/>
<path d="M271.7 1397.0L270.5 1399.4" stroke="#7c7c7c"/>
<path d="M270.5 1399.4L269.3 1401.7" stroke="#c0c0c0"/>
<path d="M282.4 1395.8L284.7 1398.5" stroke="#7c7c7c"/>
<path d="M284.7 1398.5L287.1 1401.1" stroke="#c0c0c0"/>
<path d="M278.2 1403.5L280.6 1405.3" stroke="#7c7c7c"/>
<path d="M280.6 1405.3L282.9 1407.1" stroke="#c0c0c0"/>
<path d="M265.1 1410.1L266.9 1408.6" stroke="#c82020"/>
<path d="M266.9 1408.6L268.7 1407.1" stroke="#c0c0c0"/>
<path d="M272.8 1413.6L271.4 1415.4" stroke="#7c7c7c"/>
<path d="M271.4 1415.4L269.9 1417.2" stroke="#c0c0c0"/>
<path d="M279.4 1423.1L280.9 1420.7" stroke="#7c7c7c"/>
<path d="M280.9 1420.7L282.4 1418.4" stroke="#c0c0c0"/>
<path d="M273.4 1433.8L270.5 1432.3" stroke="#7c7c7c"/>
<path d="M270.5 1432.3L267.5 1430.8" stroke="#c0c0c0"/>
<path d="M273.4 1433.8L271.4 1435.6" stroke="#7c7c7c"/>
<path d="M271.4 1435.6L269.3 1437.4" stroke="#c0c0c0"/>
<path d="M273.4 1433.8L275.5 1437.4" stroke="#7c7c7c"/>
<path d="M275.5 1437.4L277.6 1440.9" stroke="#c0c0c0"/>
<path d="M302.0 1424.9L300.2 1422.8" stroke="#7c7c7c"/>
<path d="M300.2 1422.8L298.4 1420.7" stroke="#c0c0c0"/>
<path d="M301.4 1413.0L299.6 1411.5" stroke="#7c7c7c"/>
<path d="M299.6 1411.5L297.8 1410.1" stroke="#c0c0c0"/>
<path d="M302.5 1428.5L305.8 1427.9" stroke="#c82020"/>
<path d="M305.8 1427.9L309.1 1427.3" stroke="#c0c0c0"/>
<path d="M302.5 1428.5L304.0 1431.1" stroke="#c82020"/>
<path d="M304.0 1431.1L305.5 1433.8" stroke="#c0c0c0"/>
<path d="M296.0 1429.7L294.8 1432.3" stroke="#7c7c7c"/>
<path d="M294.8 1432.3L293.6 1435.0" stroke="#c0c0c0"/>
<path d="M295.4 1443.9L293.3 1446.0" stroke="#7c7c7c"/>
<path d="M293.3 1446.0L291.3 1448.1" stroke="#c0c0c0"/>
<path d="M295.4 1443.9L299.0 1445.7" stroke="#7c7c7c"/>
<path d="M299.0 1445.7L302.5 1447.5" stroke="#c0c0c0"/>
<path d="M314.4 1409.5L317.1 1408.3" stroke="#c82020"/>
<path d="M317.1 1408.3L319.8 1407.1" stroke="#c0c0c0"/>
<path d="M333.4 1401.7L332.2 1405.6" stroke="#7c7c7c"/>
<path d="M332.2 1405.6L331.1 1409.5" stroke="#c0c0c0"/>
<path d="M326.3 1402.3L326.3 1398.5" stroke="#7c7c7c"/>
<path d="M326.3 1398.5L326.3 1394.6" stroke="#c0c0c0"/>
<path d="M348.9 1402.9L349.8 1398.8" stroke="#7c7c7c"/>
<path d="M349.8 1398.8L350.7 1394.6" stroke="#c0c0c0"/>
<path d="M351.8 1435.0L349.2 1436.5" stroke="#7c7c7c"/>
<path d="M349.2 1436.5L346.5 1438.0" stroke="#c0c0c0"/>
<path d="M351.8 1435.0L354.5 1435.0" stroke="#7c7c7c"/>
<path d="M354.5 1435.0L357.2 1435.0" stroke="#c0c0c0"/>
<path d="M351.8 1435.0L353.3 1437.4" stroke="#7c7c7c"/>
<path d="M353.3 1437.4L354.8 1439.7" stroke="#c0c0c0"/>
</g>
<circle cx="290.7" cy="1364.3" r="1.25" fill="url(#gH)"/>
<circle cx="300.8" cy="1362.5" r="1.25" fill="url(#gH)"/>
<circle cx="323.3" cy="1377.4" r="1.25" fill="url(#gH)"/>
<circle cx="314.4" cy="1383.9" r="1.25" fill="url(#gH)"/>
<circle cx="290.7" cy="1374.4" r="1.25" fill="url(#gH)"/>
<circle cx="298.4" cy="1386.3" r="1.25" fill="url(#gH)"/>
<circle cx="284.7" cy="1381.5" r="1.25" fill="url(#gH)"/>
<circle cx="293.0" cy="1392.2" r="1.25" fill="url(#gH)"/>
<circle cx="267.5" cy="1392.8" r="1.25" fill="url(#gH)"/>
<circle cx="276.4" cy="1391.0" r="1.25" fill="url(#gH)"/>
<circle cx="269.3" cy="1401.7" r="1.25" fill="url(#gH)"/>
<circle cx="287.1" cy="1401.1" r="1.25" fill="url(#gH)"/>
<circle cx="282.9" cy="1407.1" r="1.25" fill="url(#gH)"/>
<circle cx="268.7" cy="1407.1" r="1.25" fill="url(#gH)"/>
<circle cx="269.9" cy="1417.2" r="1.25" fill="url(#gH)"/>
<circle cx="282.4" cy="1418.4" r="1.25" fill="url(#gH)"/>
<circle cx="267.5" cy="1430.8" r="1.25" fill="url(#gH)"/>
<circle cx="269.3" cy="1437.4" r="1.25" fill="url(#gH)"/>
<circle cx="277.6" cy="1440.9" r="1.25" fill="url(#gH)"/>
<circle cx="298.4" cy="1420.7" r="1.25" fill="url(#gH)"/>
<circle cx="297.8" cy="1410.1" r="1.25" fill="url(#gH)"/>
<circle cx="309.1" cy="1427.3" r="1.25" fill="url(#gH)"/>
<circle cx="305.5" cy="1433.8" r="1.25" fill="url(#gH)"/>
<circle cx="293.6" cy="1435.0" r="1.25" fill="url(#gH)"/>
<circle cx="291.3" cy="1448.1" r="1.25" fill="url(#gH)"/>
<circle cx="302.5" cy="1447.5" r="1.25" fill="url(#gH)"/>
<circle cx="319.8" cy="1407.1" r="1.25" fill="url(#gH)"/>
<circle cx="331.1" cy="1409.5" r="1.25" fill="url(#gH)"/>
<circle cx="326.3" cy="1394.6" r="1.25" fill="url(#gH)"/>
<circle cx="350.7" cy="1394.6" r="1.25" fill="url(#gH)"/>
<circle cx="346.5" cy="1438.0" r="1.25" fill="url(#gH)"/>
<circle cx="357.2" cy="1435.0" r="1.25" fill="url(#gH)"/>
<circle cx="354.8" cy="1439.7" r="1.25" fill="url(#gH)"/>
<circle cx="306.7" cy="1364.9" r="2.50" fill="url(#gO)"/>
<circle cx="296.6" cy="1367.9" r="2.35" fill="url(#gC)"/>
<circle cx="301.4" cy="1373.8" r="2.35" fill="url(#gC)"/>
<circle cx="310.9" cy="1374.4" r="2.35" fill="url(#gC)"/>
<circle cx="316.8" cy="1381.5" r="2.35" fill="url(#gC)"/>
<circle cx="294.8" cy="1380.4" r="2.35" fill="url(#gC)"/>
<circle cx="288.9" cy="1387.5" r="2.35" fill="url(#gC)"/>
<circle cx="282.4" cy="1395.8" r="2.35" fill="url(#gC)"/>
<circle cx="271.7" cy="1397.0" r="2.35" fill="url(#gC)"/>
<circle cx="278.2" cy="1403.5" r="2.35" fill="url(#gC)"/>
<circle cx="272.8" cy="1413.6" r="2.35" fill="url(#gC)"/>
<circle cx="265.1" cy="1410.1" r="2.50" fill="url(#gO)"/>
<circle cx="279.4" cy="1423.1" r="2.35" fill="url(#gC)"/>
<circle cx="284.7" cy="1427.3" r="2.50" fill="url(#gO)"/>
<circle cx="273.4" cy="1433.8" r="2.35" fill="url(#gC)"/>
<circle cx="296.0" cy="1429.7" r="2.35" fill="url(#gC)"/>
<circle cx="302.5" cy="1428.5" r="2.50" fill="url(#gO)"/>
<circle cx="295.4" cy="1443.9" r="2.35" fill="url(#gC)"/>
<circle cx="302.0" cy="1424.9" r="2.35" fill="url(#gC)"/>
<circle cx="301.4" cy="1413.0" r="2.35" fill="url(#gC)"/>
<circle cx="310.3" cy="1407.7" r="2.35" fill="url(#gC)"/>
<circle cx="314.4" cy="1409.5" r="2.50" fill="url(#gO)"/>
<circle cx="310.9" cy="1399.4" r="2.50" fill="url(#gO)"/>
<circle cx="318.0" cy="1392.8" r="2.35" fill="url(#gC)"/>
<circle cx="326.3" cy="1402.3" r="2.35" fill="url(#gC)"/>
<circle cx="333.4" cy="1401.7" r="2.35" fill="url(#gC)"/>
<circle cx="341.2" cy="1407.1" r="2.35" fill="url(#gC)"/>
<circle cx="348.9" cy="1402.9" r="2.35" fill="url(#gC)"/>
<circle cx="357.8" cy="1413.0" r="3.40" fill="url(#gS)"/>
<circle cx="349.5" cy="1423.1" r="2.35" fill="url(#gC)"/>
<circle cx="341.2" cy="1419.0" r="2.30" fill="url(#gN)"/>
<circle cx="351.8" cy="1435.0" r="2.35" fill="url(#gC)"/>
<g stroke-width="1.50" stroke-linecap="round">
<path d="M460.4 1405.3L464.1 1407.5" stroke="#c82020"/>
<path d="M464.1 1407.5L467.9 1409.7" stroke="#7c7c7c"/>
<path d="M467.9 1409.7L466.6 1414.0" stroke="#7c7c7c"/>
<path d="M466.6 1414.0L465.4 1418.4" stroke="#c82020"/>
<path d="M467.9 1409.7L472.5 1406.6" stroke="#7c7c7c"/>
<path d="M472.5 1406.6L477.2 1403.5" stroke="#7c7c7c"/>
<path d="M477.2 1403.5L478.4 1397.6" stroke="#7c7c7c"/>
<path d="M478.4 1397.6L479.7 1391.7" stroke="#7c7c7c"/>
<path d="M477.2 1403.5L480.9 1406.3" stroke="#7c7c7c"/>
<path d="M480.9 1406.3L484.6 1409.1" stroke="#7c7c7c"/>
<path d="M479.7 1391.7L484.6 1388.3" stroke="#7c7c7c"/>
<path d="M484.6 1388.3L489.6 1384.8" stroke="#7c7c7c"/>
<path d="M489.6 1384.8L493.0 1388.3" stroke="#7c7c7c"/>
<path d="M493.0 1388.3L496.4 1391.7" stroke="#7c7c7c"/>
<path d="M496.4 1391.7L494.9 1397.3" stroke="#7c7c7c"/>
<path d="M494.9 1397.3L493.3 1402.8" stroke="#7c7c7c"/>
<path d="M496.4 1391.7L500.5 1388.9" stroke="#7c7c7c"/>
<path d="M500.5 1388.9L504.5 1386.1" stroke="#7c7c7c"/>
<path d="M493.3 1402.8L489.0 1406.0" stroke="#7c7c7c"/>
<path d="M489.0 1406.0L484.6 1409.1" stroke="#7c7c7c"/>
<path d="M484.6 1409.1L483.4 1414.3" stroke="#7c7c7c"/>
<path d="M483.4 1414.3L482.2 1419.6" stroke="#7c7c7c"/>
<path d="M482.2 1419.6L484.0 1423.6" stroke="#7c7c7c"/>
<path d="M484.0 1423.6L485.9 1427.7" stroke="#7c7c7c"/>
<path d="M485.9 1427.7L488.1 1429.5" stroke="#7c7c7c"/>
<path d="M488.1 1429.5L490.2 1431.4" stroke="#7c7c7c"/>
<path d="M490.2 1431.4L492.1 1432.3" stroke="#7c7c7c"/>
<path d="M492.1 1432.3L494.0 1433.3" stroke="#7c7c7c"/>
<path d="M504.5 1386.1L504.8 1380.8" stroke="#7c7c7c"/>
<path d="M504.8 1380.8L505.1 1375.5" stroke="#7c7c7c"/>
<path d="M504.5 1386.1L509.8 1388.6" stroke="#7c7c7c"/>
<path d="M509.8 1388.6L515.1 1391.0" stroke="#7c7c7c"/>
<path d="M505.1 1375.5L509.5 1374.0" stroke="#7c7c7c"/>
<path d="M509.5 1374.0L513.8 1372.4" stroke="#3050b0"/>
<path d="M513.8 1372.4L516.6 1377.1" stroke="#3050b0"/>
<path d="M516.6 1377.1L519.4 1381.7" stroke="#7c7c7c"/>
<path d="M519.4 1381.7L524.4 1382.0" stroke="#7c7c7c"/>
<path d="M524.4 1382.0L529.3 1382.4" stroke="#3050b0"/>
<path d="M519.4 1381.7L517.2 1386.4" stroke="#7c7c7c"/>
<path d="M517.2 1386.4L515.1 1391.0" stroke="#7c7c7c"/>
<path d="M529.3 1382.4L531.8 1387.0" stroke="#3050b0"/>
<path d="M531.8 1387.0L534.3 1391.7" stroke="#7c7c7c"/>
<path d="M534.3 1391.7L531.8 1396.6" stroke="#7c7c7c"/>
<path d="M531.8 1396.6L529.3 1401.6" stroke="#7c7c7c"/>
<path d="M529.3 1401.6L524.7 1401.3" stroke="#7c7c7c"/>
<path d="M524.7 1401.3L520.0 1401.0" stroke="#7c7c7c"/>
<path d="M529.3 1401.6L532.5 1406.9" stroke="#7c7c7c"/>
<path d="M532.5 1406.9L535.6 1412.2" stroke="#7c7c7c"/>
<path d="M520.0 1401.0L517.5 1396.0" stroke="#7c7c7c"/>
<path d="M517.5 1396.0L515.1 1391.0" stroke="#7c7c7c"/>
<path d="M535.6 1412.2L539.0 1413.4" stroke="#7c7c7c"/>
<path d="M539.0 1413.4L542.4 1414.6" stroke="#7c7c7c"/>
<path d="M535.6 1412.2L535.2 1416.5" stroke="#7c7c7c"/>
<path d="M535.2 1416.5L534.9 1420.9" stroke="#7c7c7c"/>
<path d="M542.4 1414.6L545.5 1419.6" stroke="#7c7c7c"/>
<path d="M545.5 1419.6L548.6 1424.6" stroke="#7c7c7c"/>
<path d="M548.6 1424.6L548.0 1429.5" stroke="#7c7c7c"/>
<path d="M548.0 1429.5L547.4 1434.5" stroke="#7c7c7c"/>
<path d="M547.4 1434.5L543.9 1432.7" stroke="#7c7c7c"/>
<path d="M543.9 1432.7L540.5 1430.8" stroke="#7c7c7c"/>
<path d="M540.5 1430.8L537.7 1425.8" stroke="#7c7c7c"/>
<path d="M537.7 1425.8L534.9 1420.9" stroke="#7c7c7c"/>
<path d="M505.1 1375.5L502.6 1372.4" stroke="#7c7c7c"/>
<path d="M502.6 1372.4L500.2 1369.3" stroke="#c0c0c0"/>
<path d="M513.8 1372.4L514.8 1369.0" stroke="#3050b0"/>
<path d="M514.8 1369.0L515.7 1365.6" stroke="#c0c0c0"/>
<path d="M534.3 1391.7L538.0 1392.0" stroke="#7c7c7c"/>
<path d="M538.0 1392.0L541.8 1392.3" stroke="#c0c0c0"/>
<path d="M520.0 1401.0L517.9 1404.4" stroke="#7c7c7c"/>
<path d="M517.9 1404.4L515.7 1407.8" stroke="#c0c0c0"/>
<path d="M489.6 1384.8L490.5 1380.5" stroke="#7c7c7c"/>
<path d="M490.5 1380.5L491.5 1376.1" stroke="#c0c0c0"/>
<path d="M479.7 1391.7L477.2 1389.2" stroke="#7c7c7c"/>
<path d="M477.2 1389.2L474.7 1386.7" stroke="#c0c0c0"/>
<path d="M493.3 1402.8L495.5 1405.0" stroke="#7c7c7c"/>
<path d="M495.5 1405.0L497.7 1407.2" stroke="#c0c0c0"/>
<path d="M460.4 1405.3L457.0 1407.5" stroke="#c82020"/>
<path d="M457.0 1407.5L453.6 1409.7" stroke="#c0c0c0"/>
<path d="M482.2 1419.6L478.7 1417.7" stroke="#7c7c7c"/>
<path d="M478.7 1417.7L475.3 1415.9" stroke="#c0c0c0"/>
<path d="M482.2 1419.6L478.4 1422.1" stroke="#7c7c7c"/>
<path d="M478.4 1422.1L474.7 1424.6" stroke="#c0c0c0"/>
<path d="M485.9 1427.7L483.4 1431.1" stroke="#7c7c7c"/>
<path d="M483.4 1431.1L480.9 1434.5" stroke="#c0c0c0"/>
<path d="M490.2 1431.4L487.7 1435.1" stroke="#7c7c7c"/>
<path d="M487.7 1435.1L485.3 1438.9" stroke="#c0c0c0"/>
<path d="M494.0 1433.3L496.1 1429.9" stroke="#7c7c7c"/>
<path d="M496.1 1429.9L498.3 1426.4" stroke="#c0c0c0"/>
<path d="M494.0 1433.3L494.6 1437.0" stroke="#7c7c7c"/>
<path d="M494.6 1437.0L495.2 1440.7" stroke="#c0c0c0"/>
<path d="M542.4 1414.6L542.4 1410.6" stroke="#7c7c7c"/>
<path d="M542.4 1410.6L542.4 1406.6" stroke="#c0c0c0"/>
<path d="M548.6 1424.6L551.1 1426.4" stroke="#7c7c7c"/>
<path d="M551.1 1426.4L553.6 1428.3" stroke="#c0c0c0"/>
<path d="M547.4 1434.5L549.8 1438.2" stroke="#7c7c7c"/>
<path d="M549.8 1438.2L552.3 1442.0" stroke="#c0c0c0"/>
<path d="M547.4 1434.5L544.2 1436.7" stroke="#7c7c7c"/>
<path d="M544.2 1436.7L541.1 1438.9" stroke="#c0c0c0"/>
<path d="M534.9 1420.9L533.7 1420.5" stroke="#7c7c7c"/>
<path d="M533.7 1420.5L532.5 1420.2" stroke="#c0c0c0"/>
</g>
<circle cx="500.2" cy="1369.3" r="1.25" fill="url(#gH)"/>
<circle cx="515.7" cy="1365.6" r="1.25" fill="url(#gH)"/>
<circle cx="541.8" cy="1392.3" r="1.25" fill="url(#gH)"/>
<circle cx="515.7" cy="1407.8" r="1.25" fill="url(#gH)"/>
<circle cx="491.5" cy="1376.1" r="1.25" fill="url(#gH)"/>
<circle cx="474.7" cy="1386.7" r="1.25" fill="url(#gH)"/>
<circle cx="497.7" cy="1407.2" r="1.25" fill="url(#gH)"/>
<circle cx="453.6" cy="1409.7" r="1.25" fill="url(#gH)"/>
<circle cx="475.3" cy="1415.9" r="1.25" fill="url(#gH)"/>
<circle cx="474.7" cy="1424.6" r="1.25" fill="url(#gH)"/>
<circle cx="480.9" cy="1434.5" r="1.25" fill="url(#gH)"/>
<circle cx="485.3" cy="1438.9" r="1.25" fill="url(#gH)"/>
<circle cx="498.3" cy="1426.4" r="1.25" fill="url(#gH)"/>
<circle cx="495.2" cy="1440.7" r="1.25" fill="url(#gH)"/>
<circle cx="542.4" cy="1406.6" r="1.25" fill="url(#gH)"/>
<circle cx="553.6" cy="1428.3" r="1.25" fill="url(#gH)"/>
<circle cx="552.3" cy="1442.0" r="1.25" fill="url(#gH)"/>
<circle cx="541.1" cy="1438.9" r="1.25" fill="url(#gH)"/>
<circle cx="532.5" cy="1420.2" r="1.25" fill="url(#gH)"/>
<circle cx="460.4" cy="1405.3" r="2.50" fill="url(#gO)"/>
<circle cx="467.9" cy="1409.7" r="2.35" fill="url(#gC)"/>
<circle cx="465.4" cy="1418.4" r="2.50" fill="url(#gO)"/>
<circle cx="477.2" cy="1403.5" r="2.35" fill="url(#gC)"/>
<circle cx="479.7" cy="1391.7" r="2.35" fill="url(#gC)"/>
<circle cx="489.6" cy="1384.8" r="2.35" fill="url(#gC)"/>
<circle cx="496.4" cy="1391.7" r="2.35" fill="url(#gC)"/>
<circle cx="493.3" cy="1402.8" r="2.35" fill="url(#gC)"/>
<circle cx="484.6" cy="1409.1" r="2.35" fill="url(#gC)"/>
<circle cx="482.2" cy="1419.6" r="2.35" fill="url(#gC)"/>
<circle cx="485.9" cy="1427.7" r="2.35" fill="url(#gC)"/>
<circle cx="490.2" cy="1431.4" r="2.35" fill="url(#gC)"/>
<circle cx="494.0" cy="1433.3" r="2.35" fill="url(#gC)"/>
<circle cx="504.5" cy="1386.1" r="2.35" fill="url(#gC)"/>
<circle cx="505.1" cy="1375.5" r="2.35" fill="url(#gC)"/>
<circle cx="513.8" cy="1372.4" r="2.30" fill="url(#gN)"/>
<circle cx="519.4" cy="1381.7" r="2.35" fill="url(#gC)"/>
<circle cx="529.3" cy="1382.4" r="2.30" fill="url(#gN)"/>
<circle cx="534.3" cy="1391.7" r="2.35" fill="url(#gC)"/>
<circle cx="529.3" cy="1401.6" r="2.35" fill="url(#gC)"/>
<circle cx="520.0" cy="1401.0" r="2.35" fill="url(#gC)"/>
<circle cx="515.1" cy="1391.0" r="2.35" fill="url(#gC)"/>
<circle cx="535.6" cy="1412.2" r="2.35" fill="url(#gC)"/>
<circle cx="542.4" cy="1414.6" r="2.35" fill="url(#gC)"/>
<circle cx="548.6" cy="1424.6" r="2.35" fill="url(#gC)"/>
<circle cx="547.4" cy="1434.5" r="2.35" fill="url(#gC)"/>
<circle cx="540.5" cy="1430.8" r="2.35" fill="url(#gC)"/>
<circle cx="534.9" cy="1420.9" r="2.35" fill="url(#gC)"/>
<g stroke-width="1.50" stroke-linecap="round">
<path d="M707.4 1372.3L706.6 1377.1" stroke="#7c7c7c"/>
<path d="M706.6 1377.1L705.8 1382.0" stroke="#c82020"/>
<path d="M705.8 1382.0L704.7 1386.3" stroke="#c82020"/>
<path d="M704.7 1386.3L703.6 1390.6" stroke="#7c7c7c"/>
<path d="M703.6 1390.6L699.3 1392.0" stroke="#7c7c7c"/>
<path d="M699.3 1392.0L695.0 1393.3" stroke="#7c7c7c"/>
<path d="M703.6 1390.6L707.4 1393.9" stroke="#7c7c7c"/>
<path d="M707.4 1393.9L711.2 1397.1" stroke="#7c7c7c"/>
<path d="M695.0 1393.3L692.3 1389.8" stroke="#7c7c7c"/>
<path d="M692.3 1389.8L689.6 1386.3" stroke="#c82020"/>
<path d="M695.0 1393.3L690.4 1390.3" stroke="#7c7c7c"/>
<path d="M690.4 1390.3L685.8 1387.4" stroke="#7c7c7c"/>
<path d="M695.0 1393.3L694.2 1398.2" stroke="#7c7c7c"/>
<path d="M694.2 1398.2L693.4 1403.0" stroke="#7c7c7c"/>
<path d="M689.6 1386.3L687.7 1386.8" stroke="#c82020"/>
<path d="M687.7 1386.8L685.8 1387.4" stroke="#7c7c7c"/>
<path d="M693.4 1403.0L696.9 1406.8" stroke="#7c7c7c"/>
<path d="M696.9 1406.8L700.4 1410.6" stroke="#7c7c7c"/>
<path d="M700.4 1410.6L704.4 1409.5" stroke="#7c7c7c"/>
<path d="M704.4 1409.5L708.5 1408.4" stroke="#7c7c7c"/>
<path d="M700.4 1410.6L700.1 1415.7" stroke="#7c7c7c"/>
<path d="M700.1 1415.7L699.8 1420.9" stroke="#3050b0"/>
<path d="M708.5 1408.4L709.8 1402.8" stroke="#7c7c7c"/>
<path d="M709.8 1402.8L711.2 1397.1" stroke="#7c7c7c"/>
<path d="M708.5 1408.4L710.9 1411.9" stroke="#7c7c7c"/>
<path d="M710.9 1411.9L713.3 1415.5" stroke="#3050b0"/>
<path d="M713.3 1415.5L710.9 1419.5" stroke="#3050b0"/>
<path d="M710.9 1419.5L708.5 1423.6" stroke="#7c7c7c"/>
<path d="M713.3 1415.5L717.4 1416.0" stroke="#3050b0"/>
<path d="M717.4 1416.0L721.4 1416.5" stroke="#7c7c7c"/>
<path d="M708.5 1423.6L704.2 1422.2" stroke="#7c7c7c"/>
<path d="M704.2 1422.2L699.8 1420.9" stroke="#3050b0"/>
<path d="M721.4 1416.5L724.7 1412.8" stroke="#7c7c7c"/>
<path d="M724.7 1412.8L727.9 1409.0" stroke="#7c7c7c"/>
<path d="M721.4 1416.5L723.1 1422.7" stroke="#7c7c7c"/>
<path d="M723.1 1422.7L724.7 1429.0" stroke="#d8d030"/>
<path d="M727.9 1409.0L732.0 1410.9" stroke="#7c7c7c"/>
<path d="M732.0 1410.9L736.0 1412.8" stroke="#7c7c7c"/>
<path d="M736.0 1412.8L735.5 1418.4" stroke="#7c7c7c"/>
<path d="M735.5 1418.4L734.9 1424.1" stroke="#7c7c7c"/>
<path d="M736.0 1412.8L738.7 1410.6" stroke="#7c7c7c"/>
<path d="M738.7 1410.6L741.4 1408.4" stroke="#c82020"/>
<path d="M734.9 1424.1L729.8 1426.5" stroke="#7c7c7c"/>
<path d="M729.8 1426.5L724.7 1429.0" stroke="#d8d030"/>
<path d="M734.9 1424.1L737.9 1427.3" stroke="#7c7c7c"/>
<path d="M737.9 1427.3L740.9 1430.6" stroke="#7c7c7c"/>
<path d="M740.9 1430.6L740.3 1434.9" stroke="#7c7c7c"/>
<path d="M740.3 1434.9L739.8 1439.2" stroke="#c82020"/>
<path d="M740.9 1430.6L744.9 1428.7" stroke="#7c7c7c"/>
<path d="M744.9 1428.7L749.0 1426.8" stroke="#3050b0"/>
<path d="M741.4 1408.4L741.7 1402.8" stroke="#c82020"/>
<path d="M741.7 1402.8L742.0 1397.1" stroke="#7c7c7c"/>
<path d="M742.0 1397.1L745.7 1395.7" stroke="#7c7c7c"/>
<path d="M745.7 1395.7L749.5 1394.4" stroke="#7c7c7c"/>
<path d="M742.0 1397.1L746.3 1393.3" stroke="#7c7c7c"/>
<path d="M746.3 1393.3L750.6 1389.5" stroke="#88c030"/>
<path d="M749.5 1394.4L750.1 1392.0" stroke="#7c7c7c"/>
<path d="M750.1 1392.0L750.6 1389.5" stroke="#88c030"/>
<path d="M749.5 1394.4L753.3 1394.4" stroke="#7c7c7c"/>
<path d="M753.3 1394.4L757.1 1394.4" stroke="#7c7c7c"/>
<path d="M749.5 1394.4L753.8 1390.3" stroke="#7c7c7c"/>
<path d="M753.8 1390.3L758.2 1386.3" stroke="#7c7c7c"/>
<path d="M749.5 1394.4L752.8 1396.6" stroke="#7c7c7c"/>
<path d="M752.8 1396.6L756.0 1398.7" stroke="#7c7c7c"/>
<path d="M750.6 1389.5L753.8 1392.0" stroke="#88c030"/>
<path d="M753.8 1392.0L757.1 1394.4" stroke="#7c7c7c"/>
<path d="M750.6 1389.5L754.4 1387.9" stroke="#88c030"/>
<path d="M754.4 1387.9L758.2 1386.3" stroke="#7c7c7c"/>
<path d="M750.6 1389.5L756.5 1390.1" stroke="#88c030"/>
<path d="M756.5 1390.1L762.5 1390.6" stroke="#7c7c7c"/>
<path d="M750.6 1389.5L753.3 1394.1" stroke="#88c030"/>
<path d="M753.3 1394.1L756.0 1398.7" stroke="#7c7c7c"/>
<path d="M757.1 1394.4L757.6 1390.3" stroke="#7c7c7c"/>
<path d="M757.6 1390.3L758.2 1386.3" stroke="#7c7c7c"/>
<path d="M757.1 1394.4L759.8 1392.5" stroke="#7c7c7c"/>
<path d="M759.8 1392.5L762.5 1390.6" stroke="#7c7c7c"/>
<path d="M757.1 1394.4L761.1 1394.1" stroke="#7c7c7c"/>
<path d="M761.1 1394.1L765.2 1393.9" stroke="#88c030"/>
<path d="M757.1 1394.4L756.0 1400.3" stroke="#7c7c7c"/>
<path d="M756.0 1400.3L754.9 1406.3" stroke="#88c030"/>
<path d="M757.1 1394.4L756.5 1396.6" stroke="#7c7c7c"/>
<path d="M756.5 1396.6L756.0 1398.7" stroke="#7c7c7c"/>
<path d="M758.2 1386.3L761.4 1385.5" stroke="#7c7c7c"/>
<path d="M761.4 1385.5L764.6 1384.7" stroke="#7c7c7c"/>
<path d="M758.2 1386.3L763.6 1386.6" stroke="#7c7c7c"/>
<path d="M763.6 1386.6L769.0 1386.8" stroke="#7c7c7c"/>
<path d="M758.2 1386.3L760.3 1388.5" stroke="#7c7c7c"/>
<path d="M760.3 1388.5L762.5 1390.6" stroke="#7c7c7c"/>
<path d="M758.2 1386.3L761.7 1390.1" stroke="#7c7c7c"/>
<path d="M761.7 1390.1L765.2 1393.9" stroke="#88c030"/>
<path d="M764.6 1384.7L766.8 1385.8" stroke="#7c7c7c"/>
<path d="M766.8 1385.8L769.0 1386.8" stroke="#7c7c7c"/>
<path d="M764.6 1384.7L763.6 1387.6" stroke="#7c7c7c"/>
<path d="M763.6 1387.6L762.5 1390.6" stroke="#7c7c7c"/>
<path d="M764.6 1384.7L764.9 1389.3" stroke="#7c7c7c"/>
<path d="M764.9 1389.3L765.2 1393.9" stroke="#88c030"/>
<path d="M769.0 1386.8L765.7 1388.7" stroke="#7c7c7c"/>
<path d="M765.7 1388.7L762.5 1390.6" stroke="#7c7c7c"/>
<path d="M769.0 1386.8L767.1 1390.3" stroke="#7c7c7c"/>
<path d="M767.1 1390.3L765.2 1393.9" stroke="#88c030"/>
<path d="M762.5 1390.6L763.8 1392.2" stroke="#7c7c7c"/>
<path d="M763.8 1392.2L765.2 1393.9" stroke="#88c030"/>
<path d="M762.5 1390.6L759.2 1394.7" stroke="#7c7c7c"/>
<path d="M759.2 1394.7L756.0 1398.7" stroke="#7c7c7c"/>
<path d="M765.2 1393.9L760.6 1396.3" stroke="#88c030"/>
<path d="M760.6 1396.3L756.0 1398.7" stroke="#7c7c7c"/>
<path d="M754.9 1406.3L755.5 1402.5" stroke="#88c030"/>
<path d="M755.5 1402.5L756.0 1398.7" stroke="#7c7c7c"/>
<path d="M707.4 1372.3L705.2 1371.4" stroke="#7c7c7c"/>
<path d="M705.2 1371.4L703.1 1370.6" stroke="#c0c0c0"/>
<path d="M707.4 1372.3L708.2 1369.8" stroke="#7c7c7c"/>
<path d="M708.2 1369.8L709.0 1367.4" stroke="#c0c0c0"/>
<path d="M707.4 1372.3L710.4 1373.9" stroke="#7c7c7c"/>
<path d="M710.4 1373.9L713.3 1375.5" stroke="#c0c0c0"/>
<path d="M685.8 1387.4L683.6 1384.7" stroke="#7c7c7c"/>
<path d="M683.6 1384.7L681.5 1382.0" stroke="#c0c0c0"/>
<path d="M685.8 1387.4L685.0 1390.9" stroke="#7c7c7c"/>
<path d="M685.0 1390.9L684.2 1394.4" stroke="#c0c0c0"/>
<path d="M711.2 1397.1L713.6 1396.8" stroke="#7c7c7c"/>
<path d="M713.6 1396.8L716.0 1396.6" stroke="#c0c0c0"/>
<path d="M693.4 1403.0L690.1 1404.4" stroke="#7c7c7c"/>
<path d="M690.1 1404.4L686.9 1405.7" stroke="#c0c0c0"/>
<path d="M708.5 1423.6L709.6 1428.1" stroke="#7c7c7c"/>
<path d="M709.6 1428.1L710.6 1432.7" stroke="#c0c0c0"/>
<path d="M727.9 1409.0L727.4 1405.7" stroke="#7c7c7c"/>
<path d="M727.4 1405.7L726.8 1402.5" stroke="#c0c0c0"/>
<path d="M749.0 1426.8L749.2 1423.3" stroke="#3050b0"/>
<path d="M749.2 1423.3L749.5 1419.8" stroke="#c0c0c0"/>
<path d="M749.0 1426.8L750.6 1429.0" stroke="#3050b0"/>
<path d="M750.6 1429.0L752.2 1431.1" stroke="#c0c0c0"/>
<path d="M742.0 1397.1L739.8 1395.7" stroke="#7c7c7c"/>
<path d="M739.8 1395.7L737.6 1394.4" stroke="#c0c0c0"/>
<path d="M749.5 1394.4L747.9 1393.0" stroke="#7c7c7c"/>
<path d="M747.9 1393.0L746.3 1391.7" stroke="#c0c0c0"/>
<path d="M769.0 1386.8L769.5 1384.4" stroke="#7c7c7c"/>
<path d="M769.5 1384.4L770.0 1382.0" stroke="#c0c0c0"/>
<path d="M769.0 1386.8L769.8 1387.4" stroke="#7c7c7c"/>
<path d="M769.8 1387.4L770.6 1387.9" stroke="#c0c0c0"/>
</g>
<circle cx="703.1" cy="1370.6" r="1.25" fill="url(#gH)"/>
<circle cx="709.0" cy="1367.4" r="1.25" fill="url(#gH)"/>
<circle cx="713.3" cy="1375.5" r="1.25" fill="url(#gH)"/>
<circle cx="681.5" cy="1382.0" r="1.25" fill="url(#gH)"/>
<circle cx="684.2" cy="1394.4" r="1.25" fill="url(#gH)"/>
<circle cx="716.0" cy="1396.6" r="1.25" fill="url(#gH)"/>
<circle cx="686.9" cy="1405.7" r="1.25" fill="url(#gH)"/>
<circle cx="710.6" cy="1432.7" r="1.25" fill="url(#gH)"/>
<circle cx="726.8" cy="1402.5" r="1.25" fill="url(#gH)"/>
<circle cx="749.5" cy="1419.8" r="1.25" fill="url(#gH)"/>
<circle cx="752.2" cy="1431.1" r="1.25" fill="url(#gH)"/>
<circle cx="737.6" cy="1394.4" r="1.25" fill="url(#gH)"/>
<circle cx="746.3" cy="1391.7" r="1.25" fill="url(#gH)"/>
<circle cx="770.0" cy="1382.0" r="1.25" fill="url(#gH)"/>
<circle cx="770.6" cy="1387.9" r="1.25" fill="url(#gH)"/>
<circle cx="707.4" cy="1372.3" r="2.35" fill="url(#gC)"/>
<circle cx="705.8" cy="1382.0" r="2.50" fill="url(#gO)"/>
<circle cx="703.6" cy="1390.6" r="2.35" fill="url(#gC)"/>
<circle cx="695.0" cy="1393.3" r="2.35" fill="url(#gC)"/>
<circle cx="689.6" cy="1386.3" r="2.50" fill="url(#gO)"/>
<circle cx="685.8" cy="1387.4" r="2.35" fill="url(#gC)"/>
<circle cx="693.4" cy="1403.0" r="2.35" fill="url(#gC)"/>
<circle cx="700.4" cy="1410.6" r="2.35" fill="url(#gC)"/>
<circle cx="708.5" cy="1408.4" r="2.35" fill="url(#gC)"/>
<circle cx="711.2" cy="1397.1" r="2.35" fill="url(#gC)"/>
<circle cx="713.3" cy="1415.5" r="2.30" fill="url(#gN)"/>
<circle cx="708.5" cy="1423.6" r="2.35" fill="url(#gC)"/>
<circle cx="699.8" cy="1420.9" r="2.30" fill="url(#gN)"/>
<circle cx="721.4" cy="1416.5" r="2.35" fill="url(#gC)"/>
<circle cx="727.9" cy="1409.0" r="2.35" fill="url(#gC)"/>
<circle cx="736.0" cy="1412.8" r="2.35" fill="url(#gC)"/>
<circle cx="734.9" cy="1424.1" r="2.35" fill="url(#gC)"/>
<circle cx="724.7" cy="1429.0" r="3.40" fill="url(#gS)"/>
<circle cx="740.9" cy="1430.6" r="2.35" fill="url(#gC)"/>
<circle cx="739.8" cy="1439.2" r="2.50" fill="url(#gO)"/>
<circle cx="749.0" cy="1426.8" r="2.30" fill="url(#gN)"/>
<circle cx="741.4" cy="1408.4" r="2.50" fill="url(#gO)"/>
<circle cx="742.0" cy="1397.1" r="2.35" fill="url(#gC)"/>
<circle cx="749.5" cy="1394.4" r="2.35" fill="url(#gC)"/>
<circle cx="750.6" cy="1389.5" r="2.60" fill="url(#gF)"/>
<circle cx="757.1" cy="1394.4" r="2.35" fill="url(#gC)"/>
<circle cx="758.2" cy="1386.3" r="2.35" fill="url(#gC)"/>
<circle cx="764.6" cy="1384.7" r="2.35" fill="url(#gC)"/>
<circle cx="769.0" cy="1386.8" r="2.35" fill="url(#gC)"/>
<circle cx="762.5" cy="1390.6" r="2.35" fill="url(#gC)"/>
<circle cx="765.2" cy="1393.9" r="2.60" fill="url(#gF)"/>
<circle cx="754.9" cy="1406.3" r="2.60" fill="url(#gF)"/>
<circle cx="756.0" cy="1398.7" r="2.35" fill="url(#gC)"/>
<g stroke-width="1.32" stroke-linecap="round">
<path d="M78.2 1585.2L79.9 1587.7" stroke="#7c7c7c"/>
<path d="M79.9 1587.7L81.6 1590.3" stroke="#7c7c7c"/>
<path d="M78.2 1585.2L79.4 1586.6" stroke="#7c7c7c"/>
<path d="M79.4 1586.6L80.5 1588.0" stroke="#7c7c7c"/>
<path d="M81.6 1590.3L83.3 1592.8" stroke="#7c7c7c"/>
<path d="M83.3 1592.8L85.0 1595.4" stroke="#7c7c7c"/>
<path d="M81.6 1590.3L83.9 1594.5" stroke="#7c7c7c"/>
<path d="M83.9 1594.5L86.2 1598.8" stroke="#7c7c7c"/>
<path d="M81.6 1590.3L81.1 1589.1" stroke="#7c7c7c"/>
<path d="M81.1 1589.1L80.5 1588.0" stroke="#7c7c7c"/>
<path d="M85.0 1595.4L87.0 1598.5" stroke="#7c7c7c"/>
<path d="M87.0 1598.5L89.0 1601.6" stroke="#7c7c7c"/>
<path d="M85.0 1595.4L85.6 1597.1" stroke="#7c7c7c"/>
<path d="M85.6 1597.1L86.2 1598.8" stroke="#7c7c7c"/>
<path d="M85.0 1595.4L82.8 1591.7" stroke="#7c7c7c"/>
<path d="M82.8 1591.7L80.5 1588.0" stroke="#7c7c7c"/>
<path d="M85.0 1595.4L89.0 1597.1" stroke="#7c7c7c"/>
<path d="M89.0 1597.1L93.0 1598.8" stroke="#7c7c7c"/>
<path d="M89.0 1601.6L87.6 1600.2" stroke="#7c7c7c"/>
<path d="M87.6 1600.2L86.2 1598.8" stroke="#7c7c7c"/>
<path d="M89.0 1601.6L91.0 1600.2" stroke="#7c7c7c"/>
<path d="M91.0 1600.2L93.0 1598.8" stroke="#7c7c7c"/>
<path d="M89.0 1601.6L92.7 1598.8" stroke="#7c7c7c"/>
<path d="M92.7 1598.8L96.4 1595.9" stroke="#7c7c7c"/>
<path d="M86.2 1598.8L89.6 1598.8" stroke="#7c7c7c"/>
<path d="M89.6 1598.8L93.0 1598.8" stroke="#7c7c7c"/>
<path d="M93.0 1598.8L94.7 1597.3" stroke="#7c7c7c"/>
<path d="M94.7 1597.3L96.4 1595.9" stroke="#7c7c7c"/>
<path d="M93.0 1598.8L97.8 1599.6" stroke="#7c7c7c"/>
<path d="M97.8 1599.6L102.6 1600.5" stroke="#3050b0"/>
<path d="M96.4 1595.9L97.8 1598.5" stroke="#7c7c7c"/>
<path d="M97.8 1598.5L99.2 1601.0" stroke="#7c7c7c"/>
<path d="M99.2 1601.0L99.2 1605.0" stroke="#7c7c7c"/>
<path d="M99.2 1605.0L99.2 1609.0" stroke="#c82020"/>
<path d="M99.2 1601.0L100.9 1600.7" stroke="#7c7c7c"/>
<path d="M100.9 1600.7L102.6 1600.5" stroke="#3050b0"/>
<path d="M99.2 1601.0L103.5 1598.5" stroke="#7c7c7c"/>
<path d="M103.5 1598.5L107.7 1595.9" stroke="#7c7c7c"/>
<path d="M99.2 1609.0L100.9 1604.7" stroke="#c82020"/>
<path d="M100.9 1604.7L102.6 1600.5" stroke="#3050b0"/>
<path d="M102.6 1600.5L105.2 1598.2" stroke="#3050b0"/>
<path d="M105.2 1598.2L107.7 1595.9" stroke="#7c7c7c"/>
<path d="M107.7 1595.9L108.6 1592.2" stroke="#7c7c7c"/>
<path d="M108.6 1592.2L109.4 1588.6" stroke="#3050b0"/>
<path d="M107.7 1595.9L110.0 1597.3" stroke="#7c7c7c"/>
<path d="M110.0 1597.3L112.3 1598.8" stroke="#7c7c7c"/>
<path d="M109.4 1588.6L112.8 1586.6" stroke="#3050b0"/>
<path d="M112.8 1586.6L116.2 1584.6" stroke="#7c7c7c"/>
<path d="M116.2 1584.6L118.2 1586.0" stroke="#7c7c7c"/>
<path d="M118.2 1586.0L120.2 1587.4" stroke="#3050b0"/>
<path d="M116.2 1584.6L116.5 1580.9" stroke="#7c7c7c"/>
<path d="M116.5 1580.9L116.8 1577.2" stroke="#c82020"/>
<path d="M120.2 1587.4L119.1 1591.1" stroke="#3050b0"/>
<path d="M119.1 1591.1L117.9 1594.8" stroke="#7c7c7c"/>
<path d="M117.9 1594.8L115.1 1596.8" stroke="#7c7c7c"/>
<path d="M115.1 1596.8L112.3 1598.8" stroke="#7c7c7c"/>
<path d="M117.9 1594.8L119.3 1596.8" stroke="#7c7c7c"/>
<path d="M119.3 1596.8L120.8 1598.8" stroke="#3050b0"/>
<path d="M117.9 1594.8L122.2 1596.2" stroke="#7c7c7c"/>
<path d="M122.2 1596.2L126.4 1597.6" stroke="#7c7c7c"/>
<path d="M112.3 1598.8L112.0 1602.4" stroke="#7c7c7c"/>
<path d="M112.0 1602.4L111.7 1606.1" stroke="#3050b0"/>
<path d="M112.3 1598.8L114.5 1602.2" stroke="#7c7c7c"/>
<path d="M114.5 1602.2L116.8 1605.6" stroke="#7c7c7c"/>
<path d="M111.7 1606.1L114.2 1605.8" stroke="#3050b0"/>
<path d="M114.2 1605.8L116.8 1605.6" stroke="#7c7c7c"/>
<path d="M116.8 1605.6L118.8 1602.2" stroke="#7c7c7c"/>
<path d="M118.8 1602.2L120.8 1598.8" stroke="#3050b0"/>
<path d="M120.8 1598.8L123.6 1598.2" stroke="#3050b0"/>
<path d="M123.6 1598.2L126.4 1597.6" stroke="#7c7c7c"/>
<path d="M116.8 1577.2L119.9 1575.5" stroke="#c82020"/>
<path d="M119.9 1575.5L123.0 1573.8" stroke="#7c7c7c"/>
<path d="M123.0 1573.8L122.5 1571.0" stroke="#7c7c7c"/>
<path d="M122.5 1571.0L121.9 1568.1" stroke="#7c7c7c"/>
<path d="M123.0 1573.8L126.1 1574.4" stroke="#7c7c7c"/>
<path d="M126.1 1574.4L129.3 1574.9" stroke="#7c7c7c"/>
<path d="M121.9 1568.1L124.7 1566.4" stroke="#7c7c7c"/>
<path d="M124.7 1566.4L127.6 1564.7" stroke="#7c7c7c"/>
<path d="M127.6 1564.7L130.7 1565.6" stroke="#7c7c7c"/>
<path d="M130.7 1565.6L133.8 1566.4" stroke="#7c7c7c"/>
<path d="M133.8 1566.4L134.1 1569.0" stroke="#7c7c7c"/>
<path d="M134.1 1569.0L134.4 1571.5" stroke="#7c7c7c"/>
<path d="M133.8 1566.4L136.9 1564.5" stroke="#7c7c7c"/>
<path d="M136.9 1564.5L140.0 1562.5" stroke="#7c7c7c"/>
<path d="M134.4 1571.5L131.8 1573.2" stroke="#7c7c7c"/>
<path d="M131.8 1573.2L129.3 1574.9" stroke="#7c7c7c"/>
<path d="M134.4 1571.5L137.8 1572.4" stroke="#7c7c7c"/>
<path d="M137.8 1572.4L141.2 1573.2" stroke="#7c7c7c"/>
<path d="M140.0 1562.5L142.9 1563.3" stroke="#7c7c7c"/>
<path d="M142.9 1563.3L145.7 1564.2" stroke="#7c7c7c"/>
<path d="M145.7 1564.2L145.1 1566.7" stroke="#7c7c7c"/>
<path d="M145.1 1566.7L144.6 1569.3" stroke="#7c7c7c"/>
<path d="M144.6 1569.3L142.9 1571.3" stroke="#7c7c7c"/>
<path d="M142.9 1571.3L141.2 1573.2" stroke="#7c7c7c"/>
<path d="M126.4 1597.6L129.0 1598.2" stroke="#7c7c7c"/>
<path d="M129.0 1598.2L131.5 1598.8" stroke="#7c7c7c"/>
<path d="M131.5 1598.8L134.1 1595.9" stroke="#7c7c7c"/>
<path d="M134.1 1595.9L136.6 1593.1" stroke="#7c7c7c"/>
<path d="M131.5 1598.8L132.7 1602.7" stroke="#7c7c7c"/>
<path d="M132.7 1602.7L133.8 1606.7" stroke="#7c7c7c"/>
<path d="M136.6 1593.1L139.8 1594.2" stroke="#7c7c7c"/>
<path d="M139.8 1594.2L142.9 1595.4" stroke="#7c7c7c"/>
<path d="M142.9 1595.4L143.7 1598.8" stroke="#7c7c7c"/>
<path d="M143.7 1598.8L144.6 1602.2" stroke="#7c7c7c"/>
<path d="M144.6 1602.2L142.3 1605.0" stroke="#7c7c7c"/>
<path d="M142.3 1605.0L140.0 1607.8" stroke="#7c7c7c"/>
<path d="M144.6 1602.2L148.0 1603.3" stroke="#7c7c7c"/>
<path d="M148.0 1603.3L151.4 1604.4" stroke="#7c7c7c"/>
<path d="M140.0 1607.8L136.9 1607.3" stroke="#7c7c7c"/>
<path d="M136.9 1607.3L133.8 1606.7" stroke="#7c7c7c"/>
<path d="M151.4 1604.4L153.6 1605.6" stroke="#7c7c7c"/>
<path d="M153.6 1605.6L155.9 1606.7" stroke="#7c7c7c"/>
<path d="M151.4 1604.4L155.3 1606.1" stroke="#7c7c7c"/>
<path d="M155.3 1606.1L159.3 1607.8" stroke="#7c7c7c"/>
<path d="M155.9 1606.7L157.6 1607.3" stroke="#7c7c7c"/>
<path d="M157.6 1607.3L159.3 1607.8" stroke="#7c7c7c"/>
<path d="M155.9 1606.7L159.9 1608.1" stroke="#7c7c7c"/>
<path d="M159.9 1608.1L163.8 1609.5" stroke="#7c7c7c"/>
<path d="M159.3 1607.8L161.6 1608.7" stroke="#7c7c7c"/>
<path d="M161.6 1608.7L163.8 1609.5" stroke="#7c7c7c"/>
<path d="M78.2 1585.2L77.1 1583.5" stroke="#7c7c7c"/>
<path d="M77.1 1583.5L76.0 1581.7" stroke="#c0c0c0"/>
<path d="M96.4 1595.9L96.4 1592.8" stroke="#7c7c7c"/>
<path d="M96.4 1592.8L96.4 1589.7" stroke="#c0c0c0"/>
<path d="M89.0 1601.6L89.6 1605.0" stroke="#7c7c7c"/>
<path d="M89.6 1605.0L90.1 1608.4" stroke="#c0c0c0"/>
<path d="M99.2 1609.0L100.1 1609.0" stroke="#c82020"/>
<path d="M100.1 1609.0L100.9 1609.0" stroke="#c0c0c0"/>
<path d="M116.8 1605.6L117.4 1607.3" stroke="#7c7c7c"/>
<path d="M117.4 1607.3L117.9 1609.0" stroke="#c0c0c0"/>
<path d="M121.9 1568.1L119.9 1567.6" stroke="#7c7c7c"/>
<path d="M119.9 1567.6L117.9 1567.0" stroke="#c0c0c0"/>
<path d="M127.6 1564.7L127.6 1562.8" stroke="#7c7c7c"/>
<path d="M127.6 1562.8L127.6 1560.8" stroke="#c0c0c0"/>
<path d="M129.3 1574.9L129.3 1577.5" stroke="#7c7c7c"/>
<path d="M129.3 1577.5L129.3 1580.0" stroke="#c0c0c0"/>
<path d="M140.0 1562.5L140.0 1559.6" stroke="#7c7c7c"/>
<path d="M140.0 1559.6L140.0 1556.8" stroke="#c0c0c0"/>
<path d="M145.7 1564.2L145.7 1561.3" stroke="#7c7c7c"/>
<path d="M145.7 1561.3L145.7 1558.5" stroke="#c0c0c0"/>
<path d="M145.7 1564.2L148.0 1564.7" stroke="#7c7c7c"/>
<path d="M148.0 1564.7L150.2 1565.3" stroke="#c0c0c0"/>
<path d="M141.2 1573.2L142.3 1575.5" stroke="#7c7c7c"/>
<path d="M142.3 1575.5L143.4 1577.8" stroke="#c0c0c0"/>
<path d="M126.4 1597.6L126.4 1595.1" stroke="#7c7c7c"/>
<path d="M126.4 1595.1L126.4 1592.5" stroke="#c0c0c0"/>
<path d="M136.6 1593.1L136.3 1590.3" stroke="#7c7c7c"/>
<path d="M136.3 1590.3L136.1 1587.4" stroke="#c0c0c0"/>
<path d="M142.9 1595.4L144.3 1592.8" stroke="#7c7c7c"/>
<path d="M144.3 1592.8L145.7 1590.3" stroke="#c0c0c0"/>
<path d="M133.8 1606.7L132.1 1609.2" stroke="#7c7c7c"/>
<path d="M132.1 1609.2L130.4 1611.8" stroke="#c0c0c0"/>
<path d="M140.0 1607.8L140.0 1611.5" stroke="#7c7c7c"/>
<path d="M140.0 1611.5L140.0 1615.2" stroke="#c0c0c0"/>
<path d="M163.8 1609.5L166.7 1610.1" stroke="#7c7c7c"/>
<path d="M166.7 1610.1L169.5 1610.7" stroke="#c0c0c0"/>
</g>
<circle cx="76.0" cy="1581.7" r="1.06" fill="url(#gH)"/>
<circle cx="96.4" cy="1589.7" r="1.06" fill="url(#gH)"/>
<circle cx="90.1" cy="1608.4" r="1.06" fill="url(#gH)"/>
<circle cx="100.9" cy="1609.0" r="1.06" fill="url(#gH)"/>
<circle cx="117.9" cy="1609.0" r="1.06" fill="url(#gH)"/>
<circle cx="117.9" cy="1567.0" r="1.06" fill="url(#gH)"/>
<circle cx="127.6" cy="1560.8" r="1.06" fill="url(#gH)"/>
<circle cx="129.3" cy="1580.0" r="1.06" fill="url(#gH)"/>
<circle cx="140.0" cy="1556.8" r="1.06" fill="url(#gH)"/>
<circle cx="145.7" cy="1558.5" r="1.06" fill="url(#gH)"/>
<circle cx="150.2" cy="1565.3" r="1.06" fill="url(#gH)"/>
<circle cx="143.4" cy="1577.8" r="1.06" fill="url(#gH)"/>
<circle cx="126.4" cy="1592.5" r="1.06" fill="url(#gH)"/>
<circle cx="136.1" cy="1587.4" r="1.06" fill="url(#gH)"/>
<circle cx="145.7" cy="1590.3" r="1.06" fill="url(#gH)"/>
<circle cx="130.4" cy="1611.8" r="1.06" fill="url(#gH)"/>
<circle cx="140.0" cy="1615.2" r="1.06" fill="url(#gH)"/>
<circle cx="169.5" cy="1610.7" r="1.06" fill="url(#gH)"/>
<circle cx="78.2" cy="1585.2" r="2.00" fill="url(#gC)"/>
<circle cx="81.6" cy="1590.3" r="2.00" fill="url(#gC)"/>
<circle cx="85.0" cy="1595.4" r="2.00" fill="url(#gC)"/>
<circle cx="89.0" cy="1601.6" r="2.00" fill="url(#gC)"/>
<circle cx="86.2" cy="1598.8" r="2.00" fill="url(#gC)"/>
<circle cx="80.5" cy="1588.0" r="2.00" fill="url(#gC)"/>
<circle cx="93.0" cy="1598.8" r="2.00" fill="url(#gC)"/>
<circle cx="96.4" cy="1595.9" r="2.00" fill="url(#gC)"/>
<circle cx="99.2" cy="1601.0" r="2.00" fill="url(#gC)"/>
<circle cx="99.2" cy="1609.0" r="2.12" fill="url(#gO)"/>
<circle cx="102.6" cy="1600.5" r="1.95" fill="url(#gN)"/>
<circle cx="107.7" cy="1595.9" r="2.00" fill="url(#gC)"/>
<circle cx="109.4" cy="1588.6" r="1.95" fill="url(#gN)"/>
<circle cx="116.2" cy="1584.6" r="2.00" fill="url(#gC)"/>
<circle cx="120.2" cy="1587.4" r="1.95" fill="url(#gN)"/>
<circle cx="117.9" cy="1594.8" r="2.00" fill="url(#gC)"/>
<circle cx="112.3" cy="1598.8" r="2.00" fill="url(#gC)"/>
<circle cx="111.7" cy="1606.1" r="1.95" fill="url(#gN)"/>
<circle cx="116.8" cy="1605.6" r="2.00" fill="url(#gC)"/>
<circle cx="120.8" cy="1598.8" r="1.95" fill="url(#gN)"/>
<circle cx="116.8" cy="1577.2" r="2.12" fill="url(#gO)"/>
<circle cx="123.0" cy="1573.8" r="2.00" fill="url(#gC)"/>
<circle cx="121.9" cy="1568.1" r="2.00" fill="url(#gC)"/>
<circle cx="127.6" cy="1564.7" r="2.00" fill="url(#gC)"/>
<circle cx="133.8" cy="1566.4" r="2.00" fill="url(#gC)"/>
<circle cx="134.4" cy="1571.5" r="2.00" fill="url(#gC)"/>
<circle cx="129.3" cy="1574.9" r="2.00" fill="url(#gC)"/>
<circle cx="140.0" cy="1562.5" r="2.00" fill="url(#gC)"/>
<circle cx="145.7" cy="1564.2" r="2.00" fill="url(#gC)"/>
<circle cx="144.6" cy="1569.3" r="2.00" fill="url(#gC)"/>
<circle cx="141.2" cy="1573.2" r="2.00" fill="url(#gC)"/>
<circle cx="126.4" cy="1597.6" r="2.00" fill="url(#gC)"/>
<circle cx="131.5" cy="1598.8" r="2.00" fill="url(#gC)"/>
<circle cx="136.6" cy="1593.1" r="2.00" fill="url(#gC)"/>
<circle cx="142.9" cy="1595.4" r="2.00" fill="url(#gC)"/>
<circle cx="144.6" cy="1602.2" r="2.00" fill="url(#gC)"/>
<circle cx="140.0" cy="1607.8" r="2.00" fill="url(#gC)"/>
<circle cx="133.8" cy="1606.7" r="2.00" fill="url(#gC)"/>
<circle cx="151.4" cy="1604.4" r="2.00" fill="url(#gC)"/>
<circle cx="155.9" cy="1606.7" r="2.00" fill="url(#gC)"/>
<circle cx="159.3" cy="1607.8" r="2.00" fill="url(#gC)"/>
<circle cx="163.8" cy="1609.5" r="2.00" fill="url(#gC)"/>
<g stroke-width="1.38" stroke-linecap="round">
<path d="M299.7 1558.3L303.2 1557.4" stroke="#7c7c7c"/>
<path d="M303.2 1557.4L306.7 1556.6" stroke="#3050b0"/>
<path d="M299.7 1558.3L297.8 1562.0" stroke="#7c7c7c"/>
<path d="M297.8 1562.0L295.9 1565.8" stroke="#3050b0"/>
<path d="M306.7 1556.6L308.6 1560.1" stroke="#3050b0"/>
<path d="M308.6 1560.1L310.5 1563.7" stroke="#7c7c7c"/>
<path d="M310.5 1563.7L314.0 1562.8" stroke="#7c7c7c"/>
<path d="M314.0 1562.8L317.5 1562.0" stroke="#7c7c7c"/>
<path d="M310.5 1563.7L308.9 1567.7" stroke="#7c7c7c"/>
<path d="M308.9 1567.7L307.3 1571.8" stroke="#7c7c7c"/>
<path d="M317.5 1562.0L320.2 1565.5" stroke="#7c7c7c"/>
<path d="M320.2 1565.5L322.9 1569.1" stroke="#7c7c7c"/>
<path d="M322.9 1569.1L321.0 1573.1" stroke="#7c7c7c"/>
<path d="M321.0 1573.1L319.1 1577.2" stroke="#7c7c7c"/>
<path d="M322.9 1569.1L325.9 1568.5" stroke="#7c7c7c"/>
<path d="M325.9 1568.5L328.9 1568.0" stroke="#c82020"/>
<path d="M319.1 1577.2L315.6 1578.0" stroke="#7c7c7c"/>
<path d="M315.6 1578.0L312.1 1578.8" stroke="#7c7c7c"/>
<path d="M312.1 1578.8L309.7 1575.3" stroke="#7c7c7c"/>
<path d="M309.7 1575.3L307.3 1571.8" stroke="#7c7c7c"/>
<path d="M312.1 1578.8L311.0 1582.3" stroke="#7c7c7c"/>
<path d="M311.0 1582.3L310.0 1585.8" stroke="#c82020"/>
<path d="M307.3 1571.8L304.0 1572.3" stroke="#7c7c7c"/>
<path d="M304.0 1572.3L300.8 1572.8" stroke="#7c7c7c"/>
<path d="M300.8 1572.8L298.3 1569.3" stroke="#7c7c7c"/>
<path d="M298.3 1569.3L295.9 1565.8" stroke="#3050b0"/>
<path d="M300.8 1572.8L299.2 1576.3" stroke="#7c7c7c"/>
<path d="M299.2 1576.3L297.5 1579.9" stroke="#3050b0"/>
<path d="M297.5 1579.9L294.6 1582.0" stroke="#3050b0"/>
<path d="M294.6 1582.0L291.6 1584.2" stroke="#7c7c7c"/>
<path d="M297.5 1579.9L294.0 1578.5" stroke="#3050b0"/>
<path d="M294.0 1578.5L290.5 1577.2" stroke="#c82020"/>
<path d="M291.6 1584.2L288.1 1581.5" stroke="#7c7c7c"/>
<path d="M288.1 1581.5L284.6 1578.8" stroke="#7c7c7c"/>
<path d="M291.6 1584.2L291.1 1580.7" stroke="#7c7c7c"/>
<path d="M291.1 1580.7L290.5 1577.2" stroke="#c82020"/>
<path d="M291.6 1584.2L287.0 1586.1" stroke="#7c7c7c"/>
<path d="M287.0 1586.1L282.4 1588.0" stroke="#7c7c7c"/>
<path d="M291.6 1584.2L289.7 1586.6" stroke="#7c7c7c"/>
<path d="M289.7 1586.6L287.8 1589.0" stroke="#7c7c7c"/>
<path d="M291.6 1584.2L291.6 1587.4" stroke="#7c7c7c"/>
<path d="M291.6 1587.4L291.6 1590.7" stroke="#88c030"/>
<path d="M284.6 1578.8L287.5 1578.0" stroke="#7c7c7c"/>
<path d="M287.5 1578.0L290.5 1577.2" stroke="#c82020"/>
<path d="M284.6 1578.8L281.6 1582.0" stroke="#7c7c7c"/>
<path d="M281.6 1582.0L278.6 1585.3" stroke="#c82020"/>
<path d="M284.6 1578.8L283.5 1583.4" stroke="#7c7c7c"/>
<path d="M283.5 1583.4L282.4 1588.0" stroke="#7c7c7c"/>
<path d="M284.6 1578.8L286.2 1583.9" stroke="#7c7c7c"/>
<path d="M286.2 1583.9L287.8 1589.0" stroke="#7c7c7c"/>
<path d="M278.6 1585.3L280.5 1586.6" stroke="#c82020"/>
<path d="M280.5 1586.6L282.4 1588.0" stroke="#7c7c7c"/>
<path d="M278.6 1585.3L278.4 1588.8" stroke="#c82020"/>
<path d="M278.4 1588.8L278.1 1592.3" stroke="#7c7c7c"/>
<path d="M278.6 1585.3L280.5 1589.3" stroke="#c82020"/>
<path d="M280.5 1589.3L282.4 1593.4" stroke="#7c7c7c"/>
<path d="M278.6 1585.3L283.2 1587.1" stroke="#c82020"/>
<path d="M283.2 1587.1L287.8 1589.0" stroke="#7c7c7c"/>
<path d="M282.4 1588.0L280.3 1590.1" stroke="#7c7c7c"/>
<path d="M280.3 1590.1L278.1 1592.3" stroke="#7c7c7c"/>
<path d="M282.4 1588.0L282.4 1590.7" stroke="#7c7c7c"/>
<path d="M282.4 1590.7L282.4 1593.4" stroke="#7c7c7c"/>
<path d="M282.4 1588.0L285.1 1588.5" stroke="#7c7c7c"/>
<path d="M285.1 1588.5L287.8 1589.0" stroke="#7c7c7c"/>
<path d="M282.4 1588.0L287.0 1589.3" stroke="#7c7c7c"/>
<path d="M287.0 1589.3L291.6 1590.7" stroke="#88c030"/>
<path d="M278.1 1592.3L280.3 1592.8" stroke="#7c7c7c"/>
<path d="M280.3 1592.8L282.4 1593.4" stroke="#7c7c7c"/>
<path d="M278.1 1592.3L283.0 1590.7" stroke="#7c7c7c"/>
<path d="M283.0 1590.7L287.8 1589.0" stroke="#7c7c7c"/>
<path d="M282.4 1593.4L285.1 1591.2" stroke="#7c7c7c"/>
<path d="M285.1 1591.2L287.8 1589.0" stroke="#7c7c7c"/>
<path d="M282.4 1593.4L287.0 1592.0" stroke="#7c7c7c"/>
<path d="M287.0 1592.0L291.6 1590.7" stroke="#88c030"/>
<path d="M287.8 1589.0L289.7 1589.8" stroke="#7c7c7c"/>
<path d="M289.7 1589.8L291.6 1590.7" stroke="#88c030"/>
<path d="M328.9 1568.0L330.7 1571.5" stroke="#c82020"/>
<path d="M330.7 1571.5L332.6 1575.0" stroke="#7c7c7c"/>
<path d="M332.6 1575.0L336.4 1573.6" stroke="#7c7c7c"/>
<path d="M336.4 1573.6L340.2 1572.3" stroke="#7c7c7c"/>
<path d="M340.2 1572.3L342.4 1575.8" stroke="#7c7c7c"/>
<path d="M342.4 1575.8L344.5 1579.3" stroke="#3050b0"/>
<path d="M344.5 1579.3L348.3 1578.0" stroke="#3050b0"/>
<path d="M348.3 1578.0L352.1 1576.6" stroke="#7c7c7c"/>
<path d="M344.5 1579.3L344.2 1582.0" stroke="#3050b0"/>
<path d="M344.2 1582.0L344.0 1584.7" stroke="#7c7c7c"/>
<path d="M352.1 1576.6L354.8 1580.1" stroke="#7c7c7c"/>
<path d="M354.8 1580.1L357.5 1583.6" stroke="#7c7c7c"/>
<path d="M357.5 1583.6L356.9 1586.9" stroke="#7c7c7c"/>
<path d="M356.9 1586.9L356.4 1590.1" stroke="#3050b0"/>
<path d="M356.4 1590.1L352.9 1591.5" stroke="#3050b0"/>
<path d="M352.9 1591.5L349.4 1592.8" stroke="#7c7c7c"/>
<path d="M356.4 1590.1L359.1 1593.6" stroke="#3050b0"/>
<path d="M359.1 1593.6L361.8 1597.1" stroke="#7c7c7c"/>
<path d="M349.4 1592.8L346.7 1588.8" stroke="#7c7c7c"/>
<path d="M346.7 1588.8L344.0 1584.7" stroke="#7c7c7c"/>
<path d="M310.0 1585.8L311.3 1589.0" stroke="#c82020"/>
<path d="M311.3 1589.0L312.7 1592.3" stroke="#7c7c7c"/>
<path d="M312.7 1592.3L309.7 1595.0" stroke="#7c7c7c"/>
<path d="M309.7 1595.0L306.7 1597.7" stroke="#7c7c7c"/>
<path d="M312.7 1592.3L314.5 1595.2" stroke="#7c7c7c"/>
<path d="M314.5 1595.2L316.4 1598.2" stroke="#7c7c7c"/>
<path d="M306.7 1597.7L307.3 1602.3" stroke="#7c7c7c"/>
<path d="M307.3 1602.3L307.8 1606.9" stroke="#7c7c7c"/>
<path d="M307.8 1606.9L310.0 1609.3" stroke="#7c7c7c"/>
<path d="M310.0 1609.3L312.1 1611.7" stroke="#c82020"/>
<path d="M312.1 1611.7L315.4 1609.6" stroke="#c82020"/>
<path d="M315.4 1609.6L318.6 1607.4" stroke="#7c7c7c"/>
<path d="M318.6 1607.4L317.5 1602.8" stroke="#7c7c7c"/>
<path d="M317.5 1602.8L316.4 1598.2" stroke="#7c7c7c"/>
<path d="M299.7 1558.3L298.1 1555.6" stroke="#7c7c7c"/>
<path d="M298.1 1555.6L296.5 1552.9" stroke="#c0c0c0"/>
<path d="M317.5 1562.0L318.9 1559.3" stroke="#7c7c7c"/>
<path d="M318.9 1559.3L320.2 1556.6" stroke="#c0c0c0"/>
<path d="M319.1 1577.2L320.5 1579.6" stroke="#7c7c7c"/>
<path d="M320.5 1579.6L321.8 1582.0" stroke="#c0c0c0"/>
<path d="M284.6 1578.8L283.8 1575.0" stroke="#7c7c7c"/>
<path d="M283.8 1575.0L283.0 1571.2" stroke="#c0c0c0"/>
<path d="M278.1 1592.3L275.7 1593.9" stroke="#7c7c7c"/>
<path d="M275.7 1593.9L273.2 1595.5" stroke="#c0c0c0"/>
<path d="M282.4 1593.4L281.1 1595.2" stroke="#7c7c7c"/>
<path d="M281.1 1595.2L279.7 1597.1" stroke="#c0c0c0"/>
<path d="M340.2 1572.3L340.5 1569.9" stroke="#7c7c7c"/>
<path d="M340.5 1569.9L340.7 1567.4" stroke="#c0c0c0"/>
<path d="M332.6 1575.0L332.1 1577.4" stroke="#7c7c7c"/>
<path d="M332.1 1577.4L331.6 1579.9" stroke="#c0c0c0"/>
<path d="M352.1 1576.6L352.6 1573.6" stroke="#7c7c7c"/>
<path d="M352.6 1573.6L353.2 1570.7" stroke="#c0c0c0"/>
<path d="M357.5 1583.6L359.9 1583.1" stroke="#7c7c7c"/>
<path d="M359.9 1583.1L362.3 1582.6" stroke="#c0c0c0"/>
<path d="M344.0 1584.7L341.5 1586.1" stroke="#7c7c7c"/>
<path d="M341.5 1586.1L339.1 1587.4" stroke="#c0c0c0"/>
<path d="M349.4 1592.8L348.6 1595.2" stroke="#7c7c7c"/>
<path d="M348.6 1595.2L347.8 1597.7" stroke="#c0c0c0"/>
<path d="M361.8 1597.1L364.2 1596.3" stroke="#7c7c7c"/>
<path d="M364.2 1596.3L366.7 1595.5" stroke="#c0c0c0"/>
<path d="M361.8 1597.1L361.5 1599.6" stroke="#7c7c7c"/>
<path d="M361.5 1599.6L361.3 1602.0" stroke="#c0c0c0"/>
<path d="M312.7 1592.3L314.0 1591.5" stroke="#7c7c7c"/>
<path d="M314.0 1591.5L315.4 1590.7" stroke="#c0c0c0"/>
<path d="M306.7 1597.7L305.4 1598.2" stroke="#7c7c7c"/>
<path d="M305.4 1598.2L304.0 1598.8" stroke="#c0c0c0"/>
<path d="M316.4 1598.2L318.6 1596.9" stroke="#7c7c7c"/>
<path d="M318.6 1596.9L320.8 1595.5" stroke="#c0c0c0"/>
<path d="M307.8 1606.9L306.2 1608.7" stroke="#7c7c7c"/>
<path d="M306.2 1608.7L304.6 1610.6" stroke="#c0c0c0"/>
<path d="M318.6 1607.4L319.9 1607.1" stroke="#7c7c7c"/>
<path d="M319.9 1607.1L321.3 1606.9" stroke="#c0c0c0"/>
<path d="M297.5 1579.9L299.2 1581.2" stroke="#3050b0"/>
<path d="M299.2 1581.2L300.8 1582.6" stroke="#c0c0c0"/>
</g>
<circle cx="296.5" cy="1552.9" r="1.12" fill="url(#gH)"/>
<circle cx="320.2" cy="1556.6" r="1.12" fill="url(#gH)"/>
<circle cx="321.8" cy="1582.0" r="1.12" fill="url(#gH)"/>
<circle cx="283.0" cy="1571.2" r="1.12" fill="url(#gH)"/>
<circle cx="273.2" cy="1595.5" r="1.12" fill="url(#gH)"/>
<circle cx="279.7" cy="1597.1" r="1.12" fill="url(#gH)"/>
<circle cx="340.7" cy="1567.4" r="1.12" fill="url(#gH)"/>
<circle cx="331.6" cy="1579.9" r="1.12" fill="url(#gH)"/>
<circle cx="353.2" cy="1570.7" r="1.12" fill="url(#gH)"/>
<circle cx="362.3" cy="1582.6" r="1.12" fill="url(#gH)"/>
<circle cx="339.1" cy="1587.4" r="1.12" fill="url(#gH)"/>
<circle cx="347.8" cy="1597.7" r="1.12" fill="url(#gH)"/>
<circle cx="366.7" cy="1595.5" r="1.12" fill="url(#gH)"/>
<circle cx="361.3" cy="1602.0" r="1.12" fill="url(#gH)"/>
<circle cx="315.4" cy="1590.7" r="1.12" fill="url(#gH)"/>
<circle cx="304.0" cy="1598.8" r="1.12" fill="url(#gH)"/>
<circle cx="320.8" cy="1595.5" r="1.12" fill="url(#gH)"/>
<circle cx="304.6" cy="1610.6" r="1.12" fill="url(#gH)"/>
<circle cx="321.3" cy="1606.9" r="1.12" fill="url(#gH)"/>
<circle cx="300.8" cy="1582.6" r="1.12" fill="url(#gH)"/>
<circle cx="299.7" cy="1558.3" r="2.12" fill="url(#gC)"/>
<circle cx="306.7" cy="1556.6" r="2.07" fill="url(#gN)"/>
<circle cx="310.5" cy="1563.7" r="2.12" fill="url(#gC)"/>
<circle cx="317.5" cy="1562.0" r="2.12" fill="url(#gC)"/>
<circle cx="322.9" cy="1569.1" r="2.12" fill="url(#gC)"/>
<circle cx="319.1" cy="1577.2" r="2.12" fill="url(#gC)"/>
<circle cx="312.1" cy="1578.8" r="2.12" fill="url(#gC)"/>
<circle cx="307.3" cy="1571.8" r="2.12" fill="url(#gC)"/>
<circle cx="300.8" cy="1572.8" r="2.12" fill="url(#gC)"/>
<circle cx="295.9" cy="1565.8" r="2.07" fill="url(#gN)"/>
<circle cx="297.5" cy="1579.9" r="2.07" fill="url(#gN)"/>
<circle cx="291.6" cy="1584.2" r="2.12" fill="url(#gC)"/>
<circle cx="284.6" cy="1578.8" r="2.12" fill="url(#gC)"/>
<circle cx="290.5" cy="1577.2" r="2.25" fill="url(#gO)"/>
<circle cx="278.6" cy="1585.3" r="2.25" fill="url(#gO)"/>
<circle cx="282.4" cy="1588.0" r="2.12" fill="url(#gC)"/>
<circle cx="278.1" cy="1592.3" r="2.12" fill="url(#gC)"/>
<circle cx="282.4" cy="1593.4" r="2.12" fill="url(#gC)"/>
<circle cx="287.8" cy="1589.0" r="2.12" fill="url(#gC)"/>
<circle cx="291.6" cy="1590.7" r="2.34" fill="url(#gF)"/>
<circle cx="328.9" cy="1568.0" r="2.25" fill="url(#gO)"/>
<circle cx="332.6" cy="1575.0" r="2.12" fill="url(#gC)"/>
<circle cx="340.2" cy="1572.3" r="2.12" fill="url(#gC)"/>
<circle cx="344.5" cy="1579.3" r="2.07" fill="url(#gN)"/>
<circle cx="352.1" cy="1576.6" r="2.12" fill="url(#gC)"/>
<circle cx="357.5" cy="1583.6" r="2.12" fill="url(#gC)"/>
<circle cx="356.4" cy="1590.1" r="2.07" fill="url(#gN)"/>
<circle cx="349.4" cy="1592.8" r="2.12" fill="url(#gC)"/>
<circle cx="344.0" cy="1584.7" r="2.12" fill="url(#gC)"/>
<circle cx="361.8" cy="1597.1" r="2.12" fill="url(#gC)"/>
<circle cx="310.0" cy="1585.8" r="2.25" fill="url(#gO)"/>
<circle cx="312.7" cy="1592.3" r="2.12" fill="url(#gC)"/>
<circle cx="306.7" cy="1597.7" r="2.12" fill="url(#gC)"/>
<circle cx="307.8" cy="1606.9" r="2.12" fill="url(#gC)"/>
<circle cx="312.1" cy="1611.7" r="2.25" fill="url(#gO)"/>
<circle cx="318.6" cy="1607.4" r="2.12" fill="url(#gC)"/>
<circle cx="316.4" cy="1598.2" r="2.12" fill="url(#gC)"/>
<g stroke-width="1.56" stroke-linecap="round">
<path d="M515.2 1565.4L515.2 1570.2" stroke="#c82020"/>
<path d="M515.2 1570.2L515.2 1575.0" stroke="#7c7c7c"/>
<path d="M515.2 1575.0L511.2 1578.7" stroke="#7c7c7c"/>
<path d="M511.2 1578.7L507.2 1582.4" stroke="#7c7c7c"/>
<path d="M515.2 1575.0L519.1 1578.7" stroke="#7c7c7c"/>
<path d="M519.1 1578.7L523.1 1582.4" stroke="#7c7c7c"/>
<path d="M507.2 1582.4L503.0 1580.7" stroke="#7c7c7c"/>
<path d="M503.0 1580.7L498.7 1579.0" stroke="#7c7c7c"/>
<path d="M507.2 1582.4L508.9 1588.3" stroke="#7c7c7c"/>
<path d="M508.9 1588.3L510.6 1594.3" stroke="#7c7c7c"/>
<path d="M523.1 1582.4L527.3 1580.7" stroke="#7c7c7c"/>
<path d="M527.3 1580.7L531.6 1579.0" stroke="#7c7c7c"/>
<path d="M523.1 1582.4L521.7 1588.3" stroke="#7c7c7c"/>
<path d="M521.7 1588.3L520.3 1594.3" stroke="#7c7c7c"/>
<path d="M498.7 1579.0L494.7 1582.1" stroke="#7c7c7c"/>
<path d="M494.7 1582.1L490.8 1585.2" stroke="#7c7c7c"/>
<path d="M531.6 1579.0L535.9 1582.1" stroke="#7c7c7c"/>
<path d="M535.9 1582.1L540.1 1585.2" stroke="#7c7c7c"/>
<path d="M510.6 1594.3L515.4 1594.3" stroke="#7c7c7c"/>
<path d="M515.4 1594.3L520.3 1594.3" stroke="#7c7c7c"/>
<path d="M480.6 1580.7L485.7 1582.9" stroke="#d8d030"/>
<path d="M485.7 1582.9L490.8 1585.2" stroke="#7c7c7c"/>
<path d="M480.6 1580.7L477.7 1586.6" stroke="#d8d030"/>
<path d="M477.7 1586.6L474.9 1592.6" stroke="#7c7c7c"/>
<path d="M490.8 1585.2L490.8 1590.0" stroke="#7c7c7c"/>
<path d="M490.8 1590.0L490.8 1594.9" stroke="#7c7c7c"/>
<path d="M490.8 1594.9L486.5 1596.8" stroke="#7c7c7c"/>
<path d="M486.5 1596.8L482.3 1598.8" stroke="#7c7c7c"/>
<path d="M482.3 1598.8L478.6 1595.7" stroke="#7c7c7c"/>
<path d="M478.6 1595.7L474.9 1592.6" stroke="#7c7c7c"/>
<path d="M547.5 1581.2L543.8 1583.2" stroke="#d8d030"/>
<path d="M543.8 1583.2L540.1 1585.2" stroke="#7c7c7c"/>
<path d="M547.5 1581.2L544.4 1588.3" stroke="#d8d030"/>
<path d="M544.4 1588.3L541.2 1595.4" stroke="#7c7c7c"/>
<path d="M547.5 1581.2L550.6 1586.6" stroke="#d8d030"/>
<path d="M550.6 1586.6L553.7 1592.0" stroke="#7c7c7c"/>
<path d="M540.1 1585.2L540.7 1590.3" stroke="#7c7c7c"/>
<path d="M540.7 1590.3L541.2 1595.4" stroke="#7c7c7c"/>
<path d="M541.2 1595.4L545.8 1597.4" stroke="#7c7c7c"/>
<path d="M545.8 1597.4L550.3 1599.4" stroke="#7c7c7c"/>
<path d="M550.3 1599.4L552.0 1595.7" stroke="#7c7c7c"/>
<path d="M552.0 1595.7L553.7 1592.0" stroke="#7c7c7c"/>
<path d="M498.7 1579.0L498.4 1574.4" stroke="#7c7c7c"/>
<path d="M498.4 1574.4L498.2 1569.9" stroke="#c0c0c0"/>
<path d="M531.6 1579.0L531.9 1574.4" stroke="#7c7c7c"/>
<path d="M531.9 1574.4L532.2 1569.9" stroke="#c0c0c0"/>
<path d="M474.9 1592.6L471.5 1593.4" stroke="#7c7c7c"/>
<path d="M471.5 1593.4L468.1 1594.3" stroke="#c0c0c0"/>
<path d="M482.3 1598.8L481.1 1601.9" stroke="#7c7c7c"/>
<path d="M481.1 1601.9L480.0 1605.1" stroke="#c0c0c0"/>
<path d="M490.8 1594.9L493.0 1596.6" stroke="#7c7c7c"/>
<path d="M493.0 1596.6L495.3 1598.3" stroke="#c0c0c0"/>
<path d="M510.6 1594.3L508.6 1597.4" stroke="#7c7c7c"/>
<path d="M508.6 1597.4L506.7 1600.5" stroke="#c0c0c0"/>
<path d="M520.3 1594.3L522.0 1597.1" stroke="#7c7c7c"/>
<path d="M522.0 1597.1L523.7 1600.0" stroke="#c0c0c0"/>
<path d="M541.2 1595.4L539.3 1597.4" stroke="#7c7c7c"/>
<path d="M539.3 1597.4L537.3 1599.4" stroke="#c0c0c0"/>
<path d="M550.3 1599.4L552.0 1603.4" stroke="#7c7c7c"/>
<path d="M552.0 1603.4L553.7 1607.3" stroke="#c0c0c0"/>
<path d="M553.7 1592.0L556.8 1592.9" stroke="#7c7c7c"/>
<path d="M556.8 1592.9L559.9 1593.7" stroke="#c0c0c0"/>
</g>
<circle cx="498.2" cy="1569.9" r="1.25" fill="url(#gH)"/>
<circle cx="532.2" cy="1569.9" r="1.25" fill="url(#gH)"/>
<circle cx="468.1" cy="1594.3" r="1.25" fill="url(#gH)"/>
<circle cx="480.0" cy="1605.1" r="1.25" fill="url(#gH)"/>
<circle cx="495.3" cy="1598.3" r="1.25" fill="url(#gH)"/>
<circle cx="506.7" cy="1600.5" r="1.25" fill="url(#gH)"/>
<circle cx="523.7" cy="1600.0" r="1.25" fill="url(#gH)"/>
<circle cx="537.3" cy="1599.4" r="1.25" fill="url(#gH)"/>
<circle cx="553.7" cy="1607.3" r="1.25" fill="url(#gH)"/>
<circle cx="559.9" cy="1593.7" r="1.25" fill="url(#gH)"/>
<circle cx="515.2" cy="1565.4" r="2.50" fill="url(#gO)"/>
<circle cx="515.2" cy="1575.0" r="2.35" fill="url(#gC)"/>
<circle cx="507.2" cy="1582.4" r="2.35" fill="url(#gC)"/>
<circle cx="523.1" cy="1582.4" r="2.35" fill="url(#gC)"/>
<circle cx="498.7" cy="1579.0" r="2.35" fill="url(#gC)"/>
<circle cx="531.6" cy="1579.0" r="2.35" fill="url(#gC)"/>
<circle cx="510.6" cy="1594.3" r="2.35" fill="url(#gC)"/>
<circle cx="520.3" cy="1594.3" r="2.35" fill="url(#gC)"/>
<circle cx="480.6" cy="1580.7" r="3.40" fill="url(#gS)"/>
<circle cx="490.8" cy="1585.2" r="2.35" fill="url(#gC)"/>
<circle cx="490.8" cy="1594.9" r="2.35" fill="url(#gC)"/>
<circle cx="482.3" cy="1598.8" r="2.35" fill="url(#gC)"/>
<circle cx="474.9" cy="1592.6" r="2.35" fill="url(#gC)"/>
<circle cx="547.5" cy="1581.2" r="3.40" fill="url(#gS)"/>
<circle cx="540.1" cy="1585.2" r="2.35" fill="url(#gC)"/>
<circle cx="541.2" cy="1595.4" r="2.35" fill="url(#gC)"/>
<circle cx="550.3" cy="1599.4" r="2.35" fill="url(#gC)"/>
<circle cx="553.7" cy="1592.0" r="2.35" fill="url(#gC)"/>
<g stroke-width="2.04" stroke-linecap="round">
<path d="M689.6 1556.1L694.1 1562.9" stroke="#7c7c7c"/>
<path d="M694.1 1562.9L698.6 1569.7" stroke="#c82020"/>
<path d="M698.6 1569.7L695.8 1578.3" stroke="#c82020"/>
<path d="M695.8 1578.3L693.0 1586.8" stroke="#7c7c7c"/>
<path d="M693.0 1586.8L687.6 1588.5" stroke="#7c7c7c"/>
<path d="M687.6 1588.5L682.2 1590.2" stroke="#c82020"/>
<path d="M693.0 1586.8L698.6 1593.8" stroke="#7c7c7c"/>
<path d="M698.6 1593.8L704.3 1600.9" stroke="#7c7c7c"/>
<path d="M704.3 1600.9L711.1 1597.2" stroke="#7c7c7c"/>
<path d="M711.1 1597.2L717.9 1593.6" stroke="#3050b0"/>
<path d="M717.9 1593.6L722.7 1594.1" stroke="#3050b0"/>
<path d="M722.7 1594.1L727.6 1594.7" stroke="#c82020"/>
<path d="M717.9 1593.6L723.0 1592.4" stroke="#3050b0"/>
<path d="M723.0 1592.4L728.1 1591.3" stroke="#7c7c7c"/>
<path d="M727.6 1594.7L727.8 1593.0" stroke="#c82020"/>
<path d="M727.8 1593.0L728.1 1591.3" stroke="#7c7c7c"/>
<path d="M727.6 1594.7L734.6 1589.3" stroke="#c82020"/>
<path d="M734.6 1589.3L741.7 1583.9" stroke="#7c7c7c"/>
<path d="M728.1 1591.3L734.9 1587.6" stroke="#7c7c7c"/>
<path d="M734.9 1587.6L741.7 1583.9" stroke="#7c7c7c"/>
<path d="M741.7 1583.9L743.4 1581.7" stroke="#7c7c7c"/>
<path d="M743.4 1581.7L745.1 1579.4" stroke="#c82020"/>
<path d="M741.7 1583.9L746.6 1582.5" stroke="#7c7c7c"/>
<path d="M746.6 1582.5L751.4 1581.1" stroke="#c82020"/>
<path d="M745.1 1579.4L748.3 1580.2" stroke="#c82020"/>
<path d="M748.3 1580.2L751.4 1581.1" stroke="#c82020"/>
<path d="M751.4 1581.1L757.9 1577.4" stroke="#c82020"/>
<path d="M757.9 1577.4L764.4 1573.7" stroke="#7c7c7c"/>
<path d="M689.6 1556.1L692.4 1549.9" stroke="#7c7c7c"/>
<path d="M692.4 1549.9L695.2 1543.7" stroke="#c0c0c0"/>
<path d="M689.6 1556.1L684.2 1555.9" stroke="#7c7c7c"/>
<path d="M684.2 1555.9L678.8 1555.6" stroke="#c0c0c0"/>
<path d="M704.3 1600.9L701.2 1605.5" stroke="#7c7c7c"/>
<path d="M701.2 1605.5L698.1 1610.0" stroke="#c0c0c0"/>
<path d="M704.3 1600.9L705.2 1605.2" stroke="#7c7c7c"/>
<path d="M705.2 1605.2L706.0 1609.4" stroke="#c0c0c0"/>
<path d="M717.9 1593.6L718.5 1592.1" stroke="#3050b0"/>
<path d="M718.5 1592.1L719.1 1590.7" stroke="#c0c0c0"/>
<path d="M764.4 1573.7L764.1 1566.6" stroke="#7c7c7c"/>
<path d="M764.1 1566.6L763.8 1559.5" stroke="#c0c0c0"/>
<path d="M764.4 1573.7L767.8 1578.0" stroke="#7c7c7c"/>
<path d="M767.8 1578.0L771.2 1582.2" stroke="#c0c0c0"/>
</g>
<circle cx="695.2" cy="1543.7" r="2.00" fill="url(#gH)"/>
<circle cx="678.8" cy="1555.6" r="2.00" fill="url(#gH)"/>
<circle cx="698.1" cy="1610.0" r="2.00" fill="url(#gH)"/>
<circle cx="706.0" cy="1609.4" r="2.00" fill="url(#gH)"/>
<circle cx="719.1" cy="1590.7" r="2.00" fill="url(#gH)"/>
<circle cx="763.8" cy="1559.5" r="2.00" fill="url(#gH)"/>
<circle cx="771.2" cy="1582.2" r="2.00" fill="url(#gH)"/>
<circle cx="689.6" cy="1556.1" r="3.76" fill="url(#gC)"/>
<circle cx="698.6" cy="1569.7" r="4.00" fill="url(#gO)"/>
<circle cx="693.0" cy="1586.8" r="3.76" fill="url(#gC)"/>
<circle cx="682.2" cy="1590.2" r="4.00" fill="url(#gO)"/>
<circle cx="704.3" cy="1600.9" r="3.76" fill="url(#gC)"/>
<circle cx="717.9" cy="1593.6" r="3.68" fill="url(#gN)"/>
<circle cx="727.6" cy="1594.7" r="4.00" fill="url(#gO)"/>
<circle cx="728.1" cy="1591.3" r="3.76" fill="url(#gC)"/>
<circle cx="741.7" cy="1583.9" r="3.76" fill="url(#gC)"/>
<circle cx="745.1" cy="1579.4" r="4.00" fill="url(#gO)"/>
<circle cx="751.4" cy="1581.1" r="4.00" fill="url(#gO)"/>
<circle cx="764.4" cy="1573.7" r="3.76" fill="url(#gC)"/>
<g stroke-width="1.44" stroke-linecap="round">
<path d="M88.1 1752.3L91.1 1750.7" stroke="#7c7c7c"/>
<path d="M91.1 1750.7L94.0 1749.0" stroke="#7c7c7c"/>
<path d="M88.1 1752.3L87.6 1756.9" stroke="#7c7c7c"/>
<path d="M87.6 1756.9L87.0 1761.5" stroke="#3050b0"/>
<path d="M94.0 1749.0L96.7 1753.1" stroke="#7c7c7c"/>
<path d="M96.7 1753.1L99.4 1757.1" stroke="#7c7c7c"/>
<path d="M99.4 1757.1L99.2 1762.0" stroke="#7c7c7c"/>
<path d="M99.2 1762.0L98.9 1766.9" stroke="#7c7c7c"/>
<path d="M99.4 1757.1L102.9 1756.1" stroke="#7c7c7c"/>
<path d="M102.9 1756.1L106.5 1755.0" stroke="#3050b0"/>
<path d="M98.9 1766.9L95.4 1767.7" stroke="#7c7c7c"/>
<path d="M95.4 1767.7L91.9 1768.5" stroke="#7c7c7c"/>
<path d="M91.9 1768.5L89.4 1765.0" stroke="#7c7c7c"/>
<path d="M89.4 1765.0L87.0 1761.5" stroke="#3050b0"/>
<path d="M106.5 1755.0L110.0 1756.6" stroke="#3050b0"/>
<path d="M110.0 1756.6L113.5 1758.2" stroke="#7c7c7c"/>
<path d="M113.5 1758.2L115.9 1758.2" stroke="#7c7c7c"/>
<path d="M115.9 1758.2L118.3 1758.2" stroke="#7c7c7c"/>
<path d="M113.5 1758.2L115.4 1760.6" stroke="#7c7c7c"/>
<path d="M115.4 1760.6L117.3 1763.1" stroke="#7c7c7c"/>
<path d="M118.3 1758.2L122.4 1760.4" stroke="#7c7c7c"/>
<path d="M122.4 1760.4L126.4 1762.5" stroke="#7c7c7c"/>
<path d="M118.3 1758.2L117.8 1760.6" stroke="#7c7c7c"/>
<path d="M117.8 1760.6L117.3 1763.1" stroke="#7c7c7c"/>
<path d="M126.4 1762.5L128.1 1765.0" stroke="#7c7c7c"/>
<path d="M128.1 1765.0L129.7 1767.4" stroke="#7c7c7c"/>
<path d="M126.4 1762.5L125.6 1765.0" stroke="#7c7c7c"/>
<path d="M125.6 1765.0L124.8 1767.4" stroke="#7c7c7c"/>
<path d="M126.4 1762.5L121.8 1762.8" stroke="#7c7c7c"/>
<path d="M121.8 1762.8L117.3 1763.1" stroke="#7c7c7c"/>
<path d="M129.7 1767.4L127.2 1767.4" stroke="#7c7c7c"/>
<path d="M127.2 1767.4L124.8 1767.4" stroke="#7c7c7c"/>
<path d="M129.7 1767.4L133.5 1769.0" stroke="#7c7c7c"/>
<path d="M133.5 1769.0L137.2 1770.6" stroke="#3050b0"/>
<path d="M124.8 1767.4L121.0 1765.2" stroke="#7c7c7c"/>
<path d="M121.0 1765.2L117.3 1763.1" stroke="#7c7c7c"/>
<path d="M137.2 1770.6L140.5 1771.2" stroke="#3050b0"/>
<path d="M140.5 1771.2L143.7 1771.7" stroke="#7c7c7c"/>
<path d="M143.7 1771.7L147.0 1773.9" stroke="#7c7c7c"/>
<path d="M147.0 1773.9L150.2 1776.0" stroke="#7c7c7c"/>
<path d="M143.7 1771.7L148.6 1771.2" stroke="#7c7c7c"/>
<path d="M148.6 1771.2L153.4 1770.6" stroke="#7c7c7c"/>
<path d="M150.2 1776.0L151.8 1773.3" stroke="#7c7c7c"/>
<path d="M151.8 1773.3L153.4 1770.6" stroke="#7c7c7c"/>
<path d="M153.4 1770.6L154.8 1767.4" stroke="#7c7c7c"/>
<path d="M154.8 1767.4L156.1 1764.2" stroke="#3050b0"/>
<path d="M156.1 1764.2L159.1 1762.5" stroke="#3050b0"/>
<path d="M159.1 1762.5L162.1 1760.9" stroke="#7c7c7c"/>
<path d="M156.1 1764.2L158.6 1760.4" stroke="#3050b0"/>
<path d="M158.6 1760.4L161.0 1756.6" stroke="#7c7c7c"/>
<path d="M162.1 1760.9L164.2 1756.6" stroke="#7c7c7c"/>
<path d="M164.2 1756.6L166.4 1752.3" stroke="#7c7c7c"/>
<path d="M162.1 1760.9L163.7 1759.3" stroke="#7c7c7c"/>
<path d="M163.7 1759.3L165.3 1757.7" stroke="#7c7c7c"/>
<path d="M162.1 1760.9L161.5 1758.8" stroke="#7c7c7c"/>
<path d="M161.5 1758.8L161.0 1756.6" stroke="#7c7c7c"/>
<path d="M166.4 1752.3L168.8 1749.6" stroke="#7c7c7c"/>
<path d="M168.8 1749.6L171.3 1746.9" stroke="#7c7c7c"/>
<path d="M166.4 1752.3L168.6 1750.7" stroke="#7c7c7c"/>
<path d="M168.6 1750.7L170.7 1749.0" stroke="#7c7c7c"/>
<path d="M166.4 1752.3L165.9 1755.0" stroke="#7c7c7c"/>
<path d="M165.9 1755.0L165.3 1757.7" stroke="#7c7c7c"/>
<path d="M166.4 1752.3L163.7 1754.4" stroke="#7c7c7c"/>
<path d="M163.7 1754.4L161.0 1756.6" stroke="#7c7c7c"/>
<path d="M171.3 1746.9L171.0 1748.0" stroke="#7c7c7c"/>
<path d="M171.0 1748.0L170.7 1749.0" stroke="#7c7c7c"/>
<path d="M170.7 1749.0L168.0 1753.4" stroke="#7c7c7c"/>
<path d="M168.0 1753.4L165.3 1757.7" stroke="#7c7c7c"/>
<path d="M165.3 1757.7L163.2 1757.1" stroke="#7c7c7c"/>
<path d="M163.2 1757.1L161.0 1756.6" stroke="#7c7c7c"/>
<path d="M88.1 1752.3L86.2 1749.8" stroke="#7c7c7c"/>
<path d="M86.2 1749.8L84.3 1747.4" stroke="#c0c0c0"/>
<path d="M94.0 1749.0L94.3 1745.5" stroke="#7c7c7c"/>
<path d="M94.3 1745.5L94.6 1742.0" stroke="#c0c0c0"/>
<path d="M106.5 1755.0L105.9 1751.7" stroke="#3050b0"/>
<path d="M105.9 1751.7L105.4 1748.5" stroke="#c0c0c0"/>
<path d="M98.9 1766.9L100.8 1769.8" stroke="#7c7c7c"/>
<path d="M100.8 1769.8L102.7 1772.8" stroke="#c0c0c0"/>
<path d="M91.9 1768.5L91.6 1772.0" stroke="#7c7c7c"/>
<path d="M91.6 1772.0L91.3 1775.5" stroke="#c0c0c0"/>
<path d="M118.3 1758.2L117.3 1756.6" stroke="#7c7c7c"/>
<path d="M117.3 1756.6L116.2 1755.0" stroke="#c0c0c0"/>
<path d="M126.4 1762.5L128.9 1762.5" stroke="#7c7c7c"/>
<path d="M128.9 1762.5L131.3 1762.5" stroke="#c0c0c0"/>
<path d="M143.7 1771.7L144.3 1767.7" stroke="#7c7c7c"/>
<path d="M144.3 1767.7L144.8 1763.6" stroke="#c0c0c0"/>
<path d="M143.7 1771.7L142.6 1774.7" stroke="#7c7c7c"/>
<path d="M142.6 1774.7L141.6 1777.7" stroke="#c0c0c0"/>
<path d="M150.2 1776.0L150.2 1779.8" stroke="#7c7c7c"/>
<path d="M150.2 1779.8L150.2 1783.6" stroke="#c0c0c0"/>
<path d="M150.2 1776.0L153.4 1776.3" stroke="#7c7c7c"/>
<path d="M153.4 1776.3L156.7 1776.6" stroke="#c0c0c0"/>
<path d="M171.3 1746.9L172.6 1743.9" stroke="#7c7c7c"/>
<path d="M172.6 1743.9L174.0 1740.9" stroke="#c0c0c0"/>
</g>
<circle cx="84.3" cy="1747.4" r="1.19" fill="url(#gH)"/>
<circle cx="94.6" cy="1742.0" r="1.19" fill="url(#gH)"/>
<circle cx="105.4" cy="1748.5" r="1.19" fill="url(#gH)"/>
<circle cx="102.7" cy="1772.8" r="1.19" fill="url(#gH)"/>
<circle cx="91.3" cy="1775.5" r="1.19" fill="url(#gH)"/>
<circle cx="116.2" cy="1755.0" r="1.19" fill="url(#gH)"/>
<circle cx="131.3" cy="1762.5" r="1.19" fill="url(#gH)"/>
<circle cx="144.8" cy="1763.6" r="1.19" fill="url(#gH)"/>
<circle cx="141.6" cy="1777.7" r="1.19" fill="url(#gH)"/>
<circle cx="150.2" cy="1783.6" r="1.19" fill="url(#gH)"/>
<circle cx="156.7" cy="1776.6" r="1.19" fill="url(#gH)"/>
<circle cx="174.0" cy="1740.9" r="1.19" fill="url(#gH)"/>
<circle cx="88.1" cy="1752.3" r="2.23" fill="url(#gC)"/>
<circle cx="94.0" cy="1749.0" r="2.23" fill="url(#gC)"/>
<circle cx="99.4" cy="1757.1" r="2.23" fill="url(#gC)"/>
<circle cx="98.9" cy="1766.9" r="2.23" fill="url(#gC)"/>
<circle cx="91.9" cy="1768.5" r="2.23" fill="url(#gC)"/>
<circle cx="87.0" cy="1761.5" r="2.18" fill="url(#gN)"/>
<circle cx="106.5" cy="1755.0" r="2.18" fill="url(#gN)"/>
<circle cx="113.5" cy="1758.2" r="2.23" fill="url(#gC)"/>
<circle cx="118.3" cy="1758.2" r="2.23" fill="url(#gC)"/>
<circle cx="126.4" cy="1762.5" r="2.23" fill="url(#gC)"/>
<circle cx="129.7" cy="1767.4" r="2.23" fill="url(#gC)"/>
<circle cx="124.8" cy="1767.4" r="2.23" fill="url(#gC)"/>
<circle cx="117.3" cy="1763.1" r="2.23" fill="url(#gC)"/>
<circle cx="137.2" cy="1770.6" r="2.18" fill="url(#gN)"/>
<circle cx="143.7" cy="1771.7" r="2.23" fill="url(#gC)"/>
<circle cx="150.2" cy="1776.0" r="2.23" fill="url(#gC)"/>
<circle cx="153.4" cy="1770.6" r="2.23" fill="url(#gC)"/>
<circle cx="156.1" cy="1764.2" r="2.18" fill="url(#gN)"/>
<circle cx="162.1" cy="1760.9" r="2.23" fill="url(#gC)"/>
<circle cx="166.4" cy="1752.3" r="2.23" fill="url(#gC)"/>
<circle cx="171.3" cy="1746.9" r="2.23" fill="url(#gC)"/>
<circle cx="170.7" cy="1749.0" r="2.23" fill="url(#gC)"/>
<circle cx="165.3" cy="1757.7" r="2.23" fill="url(#gC)"/>
<circle cx="161.0" cy="1756.6" r="2.23" fill="url(#gC)"/>
<g stroke-width="1.92" stroke-linecap="round">
<path d="M295.6 1728.3L292.1 1736.9" stroke="#802020"/>
<path d="M292.1 1736.9L288.6 1745.5" stroke="#7c7c7c"/>
<path d="M288.6 1745.5L282.7 1746.1" stroke="#7c7c7c"/>
<path d="M282.7 1746.1L276.7 1746.6" stroke="#7c7c7c"/>
<path d="M288.6 1745.5L292.1 1751.5" stroke="#7c7c7c"/>
<path d="M292.1 1751.5L295.6 1757.4" stroke="#7c7c7c"/>
<path d="M276.7 1746.6L273.8 1753.4" stroke="#7c7c7c"/>
<path d="M273.8 1753.4L270.8 1760.1" stroke="#7c7c7c"/>
<path d="M270.8 1760.1L273.8 1766.1" stroke="#7c7c7c"/>
<path d="M273.8 1766.1L276.7 1772.0" stroke="#7c7c7c"/>
<path d="M276.7 1772.0L282.9 1771.5" stroke="#7c7c7c"/>
<path d="M282.9 1771.5L289.2 1770.9" stroke="#7c7c7c"/>
<path d="M276.7 1772.0L273.0 1781.7" stroke="#7c7c7c"/>
<path d="M273.0 1781.7L269.2 1791.4" stroke="#802020"/>
<path d="M289.2 1770.9L292.4 1764.2" stroke="#7c7c7c"/>
<path d="M292.4 1764.2L295.6 1757.4" stroke="#7c7c7c"/>
<path d="M295.6 1757.4L301.6 1757.1" stroke="#7c7c7c"/>
<path d="M301.6 1757.1L307.5 1756.9" stroke="#3050b0"/>
<path d="M307.5 1756.9L311.6 1762.3" stroke="#3050b0"/>
<path d="M311.6 1762.3L315.6 1767.7" stroke="#7c7c7c"/>
<path d="M315.6 1767.7L314.5 1774.2" stroke="#7c7c7c"/>
<path d="M314.5 1774.2L313.5 1780.6" stroke="#c82020"/>
<path d="M315.6 1767.7L321.8 1765.2" stroke="#7c7c7c"/>
<path d="M321.8 1765.2L328.0 1762.8" stroke="#7c7c7c"/>
<path d="M328.0 1762.8L331.3 1756.6" stroke="#7c7c7c"/>
<path d="M331.3 1756.6L334.5 1750.4" stroke="#7c7c7c"/>
<path d="M328.0 1762.8L331.3 1765.8" stroke="#7c7c7c"/>
<path d="M331.3 1765.8L334.5 1768.8" stroke="#7c7c7c"/>
<path d="M334.5 1750.4L336.1 1744.7" stroke="#7c7c7c"/>
<path d="M336.1 1744.7L337.8 1739.1" stroke="#3050b0"/>
<path d="M334.5 1768.8L332.1 1774.2" stroke="#7c7c7c"/>
<path d="M332.1 1774.2L329.7 1779.6" stroke="#c82020"/>
<path d="M334.5 1768.8L340.7 1767.1" stroke="#7c7c7c"/>
<path d="M340.7 1767.1L346.9 1765.5" stroke="#7c7c7c"/>
<path d="M276.7 1746.6L274.6 1742.6" stroke="#7c7c7c"/>
<path d="M274.6 1742.6L272.4 1738.5" stroke="#c0c0c0"/>
<path d="M270.8 1760.1L266.5 1760.1" stroke="#7c7c7c"/>
<path d="M266.5 1760.1L262.2 1760.1" stroke="#c0c0c0"/>
<path d="M289.2 1770.9L291.6 1775.8" stroke="#7c7c7c"/>
<path d="M291.6 1775.8L294.0 1780.6" stroke="#c0c0c0"/>
<path d="M307.5 1756.9L309.1 1752.0" stroke="#3050b0"/>
<path d="M309.1 1752.0L310.8 1747.2" stroke="#c0c0c0"/>
<path d="M329.7 1779.6L325.9 1780.1" stroke="#c82020"/>
<path d="M325.9 1780.1L322.1 1780.6" stroke="#c0c0c0"/>
<path d="M346.9 1765.5L348.8 1761.2" stroke="#7c7c7c"/>
<path d="M348.8 1761.2L350.7 1756.9" stroke="#c0c0c0"/>
<path d="M346.9 1765.5L349.4 1770.1" stroke="#7c7c7c"/>
<path d="M349.4 1770.1L351.8 1774.7" stroke="#c0c0c0"/>
</g>
<circle cx="272.4" cy="1738.5" r="1.62" fill="url(#gH)"/>
<circle cx="262.2" cy="1760.1" r="1.62" fill="url(#gH)"/>
<circle cx="294.0" cy="1780.6" r="1.62" fill="url(#gH)"/>
<circle cx="310.8" cy="1747.2" r="1.62" fill="url(#gH)"/>
<circle cx="322.1" cy="1780.6" r="1.62" fill="url(#gH)"/>
<circle cx="350.7" cy="1756.9" r="1.62" fill="url(#gH)"/>
<circle cx="351.8" cy="1774.7" r="1.62" fill="url(#gH)"/>
<circle cx="295.6" cy="1728.3" r="5.98" fill="url(#gB)"/>
<circle cx="288.6" cy="1745.5" r="3.06" fill="url(#gC)"/>
<circle cx="276.7" cy="1746.6" r="3.06" fill="url(#gC)"/>
<circle cx="270.8" cy="1760.1" r="3.06" fill="url(#gC)"/>
<circle cx="276.7" cy="1772.0" r="3.06" fill="url(#gC)"/>
<circle cx="289.2" cy="1770.9" r="3.06" fill="url(#gC)"/>
<circle cx="295.6" cy="1757.4" r="3.06" fill="url(#gC)"/>
<circle cx="269.2" cy="1791.4" r="5.98" fill="url(#gB)"/>
<circle cx="307.5" cy="1756.9" r="2.99" fill="url(#gN)"/>
<circle cx="315.6" cy="1767.7" r="3.06" fill="url(#gC)"/>
<circle cx="313.5" cy="1780.6" r="3.25" fill="url(#gO)"/>
<circle cx="328.0" cy="1762.8" r="3.06" fill="url(#gC)"/>
<circle cx="334.5" cy="1750.4" r="3.06" fill="url(#gC)"/>
<circle cx="337.8" cy="1739.1" r="2.99" fill="url(#gN)"/>
<circle cx="334.5" cy="1768.8" r="3.06" fill="url(#gC)"/>
<circle cx="329.7" cy="1779.6" r="3.25" fill="url(#gO)"/>
<circle cx="346.9" cy="1765.5" r="3.06" fill="url(#gC)"/>
<text x="2.2" y="19.3" font-family="Liberation Serif" font-size="24.5" fill="#111">A</text>
<text x="11.0" y="342.7" font-family="Liberation Serif" font-size="24.5" fill="#111">B</text>
<text x="11.0" y="664.5" font-family="Liberation Serif" font-size="24.5" fill="#111">C</text>
<text x="10.5" y="1387.7" font-family="Liberation Serif" font-size="24.5" fill="#111">D</text>
<text x="106.0" y="1487.6" font-size="10.7" text-anchor="middle" fill="#1a1a1a">BI.2536</text>
<text x="311.2" y="1482.6" font-size="10.7" text-anchor="middle" fill="#1a1a1a">Epothilone.B</text>
<text x="533.5" y="1482.6" font-size="10.7" text-anchor="middle" fill="#1a1a1a">GSK.650394</text>
<text x="733.0" y="1478.3" font-size="10.7" text-anchor="middle" fill="#1a1a1a">GW843682X</text>
<text x="100.8" y="1666.6" font-size="10.7" text-anchor="middle" fill="#1a1a1a">QS11</text>
<text x="320.6" y="1666.3" font-size="10.7" text-anchor="middle" fill="#1a1a1a">AZD.0530</text>
<text x="532.5" y="1666.3" font-size="10.7" text-anchor="middle" fill="#1a1a1a">CCT007093</text>
<text x="719.2" y="1663.3" font-size="10.7" text-anchor="middle" fill="#1a1a1a">DMOG</text>
<text x="123.2" y="1830.6" font-size="10.7" text-anchor="middle" fill="#1a1a1a">JNJ.26854165</text>
<text x="319.2" y="1830.6" font-size="10.7" text-anchor="middle" fill="#1a1a1a">LFM.A13</text>
</svg>
</body></html>
